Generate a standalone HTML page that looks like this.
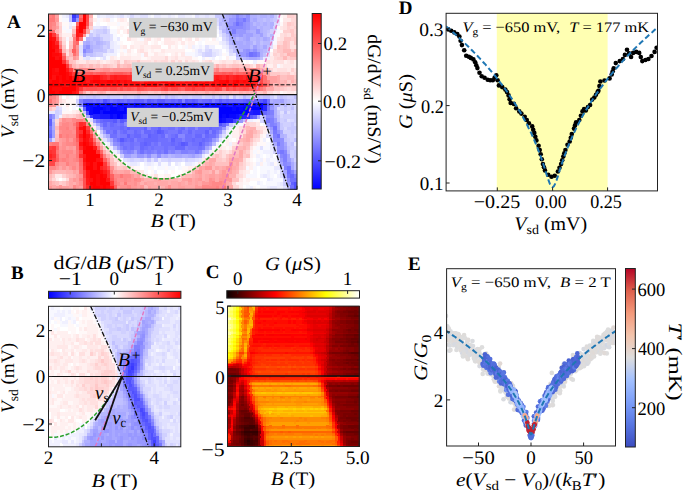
<!DOCTYPE html>
<html><head><meta charset="utf-8"><style>
html,body{margin:0;padding:0;background:#fff;}
svg{display:block;font-family:"Liberation Serif", serif;text-rendering:geometricPrecision;}
</style></head><body>
<svg width="685" height="490" viewBox="0 0 685 490" font-family='"Liberation Serif", serif' fill="#000">
<rect width="685" height="490" fill="#fff"/>
<g shape-rendering="crispEdges"><path fill="#ff8080" d="M48.5 14.0H52.2V18.1H48.5ZM48.5 21.7H52.2V25.8H48.5ZM48.5 25.5H52.2V29.7H48.5ZM72.3 37.0H76.0V41.2H72.3ZM215.3 67.7H219.0V71.9H215.3ZM266.4 79.2H270.1V83.4H266.4ZM79.1 90.8H82.8V94.9H79.1ZM48.5 94.6H52.2V98.8H48.5ZM75.7 118.3H82.8V122.5H75.7ZM65.5 126.2H69.2V130.4H65.5ZM65.5 134.1H69.2V138.3H65.5ZM72.3 138.0H76.0V142.2H72.3ZM48.5 141.9H52.2V146.2H48.5ZM72.3 141.9H76.0V146.2H72.3ZM65.5 153.8H69.2V158.0H65.5ZM103.0 153.8H106.7V158.0H103.0ZM62.1 157.7H65.8V162.0H62.1ZM75.7 157.7H79.4V162.0H75.7ZM65.5 161.7H69.2V165.9H65.5ZM109.8 169.6H113.5V173.8H109.8ZM79.1 177.5H82.8V181.7H79.1ZM113.2 177.5H116.9V181.7H113.2ZM215.3 185.4H219.0V189.6H215.3Z"/><path fill="#ff7878" d="M51.9 14.0H55.6V18.1H51.9ZM48.5 17.8H55.6V22.0H48.5ZM85.9 25.5H89.6V29.7H85.9ZM55.3 33.2H59.0V37.3H55.3ZM72.3 40.9H76.0V45.0H72.3ZM58.7 44.7H62.4V48.8H58.7ZM62.1 52.4H65.8V56.5H62.1ZM65.5 60.1H69.2V64.2H65.5ZM160.8 71.6H164.5V75.7H160.8ZM266.4 83.1H270.1V87.2H266.4ZM259.6 86.9H263.3V91.1H259.6ZM72.3 122.2H76.0V126.5H72.3ZM58.7 134.1H62.4V138.3H58.7ZM51.9 141.9H59.0V146.2H51.9ZM55.3 149.8H59.0V154.1H55.3ZM75.7 149.8H79.4V154.1H75.7ZM75.7 153.8H79.4V158.0H75.7ZM106.4 161.7H110.1V165.9H106.4ZM120.0 173.5H123.7V177.8H120.0ZM113.2 181.4H116.9V185.7H113.2ZM123.4 181.4H127.1V185.7H123.4ZM222.1 185.4H225.8V189.6H222.1Z"/><path fill="#ffa0a0" d="M55.3 14.0H59.0V18.1H55.3ZM55.3 25.5H59.0V29.7H55.3ZM75.7 67.7H79.4V71.9H75.7ZM92.8 67.7H99.9V71.9H92.8ZM109.8 67.7H113.5V71.9H109.8ZM140.4 67.7H144.1V71.9H140.4ZM218.7 67.7H222.4V71.9H218.7ZM239.1 67.7H246.2V71.9H239.1ZM263.0 71.6H266.7V75.7H263.0ZM266.4 75.4H276.9V79.5H266.4ZM269.8 79.2H276.9V83.4H269.8ZM55.3 94.6H59.0V98.8H55.3ZM55.3 98.5H59.0V102.8H55.3ZM89.3 126.2H93.1V130.4H89.3ZM58.7 138.0H62.4V142.2H58.7ZM58.7 141.9H62.4V146.2H58.7ZM65.5 145.9H69.2V150.1H65.5ZM72.3 145.9H76.0V150.1H72.3ZM99.6 145.9H103.3V150.1H99.6ZM198.3 165.6H202.0V169.9H198.3ZM72.3 169.6H76.0V173.8H72.3ZM113.2 169.6H116.9V173.8H113.2ZM123.4 169.6H130.5V173.8H123.4ZM194.9 169.6H198.6V173.8H194.9ZM211.9 169.6H215.6V173.8H211.9ZM228.9 169.6H232.6V173.8H228.9ZM75.7 173.5H79.4V177.8H75.7ZM137.0 173.5H140.7V177.8H137.0ZM198.3 173.5H202.0V177.8H198.3ZM208.5 173.5H215.6V177.8H208.5ZM218.7 173.5H222.4V177.8H218.7ZM75.7 177.5H79.4V181.7H75.7ZM140.4 177.5H144.1V181.7H140.4ZM181.3 177.5H188.4V181.7H181.3ZM194.9 177.5H198.6V181.7H194.9ZM75.7 181.4H79.4V185.7H75.7ZM137.0 181.4H140.7V185.7H137.0ZM143.8 181.4H147.5V185.7H143.8ZM177.9 181.4H181.6V185.7H177.9ZM188.1 181.4H191.8V185.7H188.1ZM194.9 181.4H198.6V185.7H194.9ZM55.3 185.4H59.0V189.6H55.3ZM62.1 185.4H69.2V189.6H62.1ZM79.1 185.4H82.8V189.6H79.1ZM137.0 185.4H140.7V189.6H137.0ZM147.2 185.4H150.9V189.6H147.2ZM164.2 185.4H167.9V189.6H164.2ZM177.9 185.4H185.0V189.6H177.9ZM225.5 185.4H229.2V189.6H225.5Z"/><path fill="#fff8f8" d="M58.7 14.0H62.4V18.1H58.7ZM280.0 14.0H283.7V18.1H280.0ZM58.7 17.8H62.4V22.0H58.7ZM99.6 17.8H103.3V22.0H99.6ZM130.2 17.8H140.7V22.0H130.2ZM147.2 17.8H157.7V22.0H147.2ZM160.8 17.8H164.5V22.0H160.8ZM167.6 17.8H171.3V22.0H167.6ZM184.7 17.8H191.8V22.0H184.7ZM208.5 17.8H212.2V22.0H208.5ZM62.1 21.7H69.2V25.8H62.1ZM106.4 21.7H116.9V25.8H106.4ZM120.0 21.7H127.1V25.8H120.0ZM130.2 21.7H133.9V25.8H130.2ZM150.6 21.7H154.3V25.8H150.6ZM157.4 21.7H161.1V25.8H157.4ZM177.9 21.7H191.8V25.8H177.9ZM194.9 21.7H205.4V25.8H194.9ZM208.5 21.7H212.2V25.8H208.5ZM280.0 21.7H283.7V25.8H280.0ZM65.5 25.5H69.2V29.7H65.5ZM116.6 25.5H120.3V29.7H116.6ZM123.4 25.5H127.1V29.7H123.4ZM130.2 25.5H140.7V29.7H130.2ZM147.2 25.5H150.9V29.7H147.2ZM164.2 25.5H167.9V29.7H164.2ZM177.9 25.5H181.6V29.7H177.9ZM191.5 25.5H195.2V29.7H191.5ZM276.6 25.5H280.3V29.7H276.6ZM62.1 29.4H65.8V33.5H62.1ZM130.2 29.4H137.3V33.5H130.2ZM150.6 29.4H154.3V33.5H150.6ZM171.0 29.4H174.8V33.5H171.0ZM208.5 29.4H212.2V33.5H208.5ZM280.0 29.4H283.7V33.5H280.0ZM120.0 33.2H123.7V37.3H120.0ZM126.8 33.2H133.9V37.3H126.8ZM143.8 33.2H147.5V37.3H143.8ZM150.6 33.2H154.3V37.3H150.6ZM171.0 33.2H174.8V37.3H171.0ZM177.9 33.2H185.0V37.3H177.9ZM188.1 33.2H191.8V37.3H188.1ZM198.3 33.2H202.0V37.3H198.3ZM276.6 33.2H280.3V37.3H276.6ZM137.0 37.0H140.7V41.2H137.0ZM150.6 37.0H154.3V41.2H150.6ZM198.3 37.0H202.0V41.2H198.3ZM205.1 37.0H208.8V41.2H205.1ZM120.0 40.9H123.7V45.0H120.0ZM130.2 40.9H133.9V45.0H130.2ZM150.6 40.9H154.3V45.0H150.6ZM160.8 40.9H164.5V45.0H160.8ZM177.9 40.9H181.6V45.0H177.9ZM184.7 40.9H188.4V45.0H184.7ZM205.1 40.9H219.0V45.0H205.1ZM171.0 44.7H174.8V48.8H171.0ZM181.3 44.7H185.0V48.8H181.3ZM120.0 48.5H123.7V52.7H120.0ZM130.2 48.5H133.9V52.7H130.2ZM147.2 48.5H150.9V52.7H147.2ZM154.0 48.5H161.1V52.7H154.0ZM191.5 48.5H195.2V52.7H191.5ZM123.4 52.4H127.1V56.5H123.4ZM130.2 52.4H137.3V56.5H130.2ZM147.2 52.4H154.3V56.5H147.2ZM164.2 52.4H167.9V56.5H164.2ZM177.9 52.4H181.6V56.5H177.9ZM222.1 52.4H225.8V56.5H222.1ZM116.6 56.2H120.3V60.4H116.6ZM140.4 56.2H147.5V60.4H140.4ZM191.5 56.2H198.6V60.4H191.5ZM205.1 56.2H208.8V60.4H205.1ZM198.3 60.1H202.0V64.2H198.3ZM245.9 60.1H249.6V64.2H245.9ZM256.2 60.1H266.7V64.2H256.2ZM280.0 90.8H283.7V94.9H280.0ZM65.5 98.5H76.0V102.8H65.5ZM62.1 102.5H65.8V106.7H62.1ZM68.9 102.5H76.0V106.7H68.9ZM65.5 106.4H69.2V110.7H65.5ZM62.1 110.4H72.6V114.6H62.1ZM256.2 118.3H259.9V122.5H256.2ZM232.3 126.2H236.0V130.4H232.3ZM263.0 134.1H266.7V138.3H263.0ZM228.9 138.0H232.6V142.2H228.9ZM259.6 138.0H263.3V142.2H259.6ZM222.1 141.9H225.8V146.2H222.1ZM256.2 141.9H266.7V146.2H256.2ZM215.3 145.9H219.0V150.1H215.3ZM225.5 145.9H229.2V150.1H225.5ZM252.7 145.9H256.5V150.1H252.7ZM109.8 149.8H113.5V154.1H109.8ZM256.2 149.8H259.9V154.1H256.2ZM116.6 153.8H120.3V158.0H116.6ZM252.7 153.8H256.5V158.0H252.7ZM249.3 157.7H253.0V162.0H249.3ZM263.0 157.7H266.7V162.0H263.0ZM123.4 161.7H127.1V165.9H123.4ZM252.7 161.7H256.5V165.9H252.7ZM273.2 161.7H276.9V165.9H273.2ZM133.6 165.6H140.7V169.9H133.6ZM147.2 165.6H150.9V169.9H147.2ZM164.2 165.6H167.9V169.9H164.2ZM181.3 165.6H188.4V169.9H181.3ZM150.6 169.6H154.3V173.8H150.6ZM171.0 169.6H174.8V173.8H171.0ZM181.3 169.6H185.0V173.8H181.3ZM147.2 173.5H150.9V177.8H147.2ZM157.4 173.5H164.5V177.8H157.4ZM242.5 177.5H246.2V181.7H242.5ZM249.3 177.5H259.9V181.7H249.3ZM242.5 181.4H249.6V185.7H242.5ZM252.7 185.4H256.5V189.6H252.7Z"/><path fill="#f0f0ff" d="M62.1 14.0H65.8V18.1H62.1ZM99.6 14.0H106.7V18.1H99.6ZM113.2 14.0H116.9V18.1H113.2ZM123.4 14.0H127.1V18.1H123.4ZM147.2 14.0H150.9V18.1H147.2ZM160.8 14.0H167.9V18.1H160.8ZM171.0 14.0H174.8V18.1H171.0ZM184.7 14.0H191.8V18.1H184.7ZM68.9 21.7H72.6V25.8H68.9ZM211.9 21.7H215.6V25.8H211.9ZM106.4 25.5H110.1V29.7H106.4ZM215.3 25.5H219.0V29.7H215.3ZM164.2 29.4H167.9V33.5H164.2ZM273.2 29.4H276.9V33.5H273.2ZM85.9 33.2H89.6V37.3H85.9ZM113.2 40.9H116.9V45.0H113.2ZM218.7 40.9H222.4V45.0H218.7ZM113.2 44.7H120.3V48.8H113.2ZM191.5 44.7H195.2V48.8H191.5ZM198.3 44.7H202.0V48.8H198.3ZM208.5 44.7H215.6V48.8H208.5ZM222.1 44.7H225.8V48.8H222.1ZM113.2 48.5H116.9V52.7H113.2ZM194.9 48.5H198.6V52.7H194.9ZM201.7 48.5H205.4V52.7H201.7ZM218.7 48.5H222.4V52.7H218.7ZM225.5 48.5H229.2V52.7H225.5ZM106.4 52.4H116.9V56.5H106.4ZM194.9 52.4H198.6V56.5H194.9ZM218.7 52.4H222.4V56.5H218.7ZM89.3 56.2H96.5V60.4H89.3ZM99.6 56.2H103.3V60.4H99.6ZM201.7 56.2H205.4V60.4H201.7ZM211.9 56.2H215.6V60.4H211.9ZM266.4 56.2H270.1V60.4H266.4ZM252.7 60.1H256.5V64.2H252.7ZM75.7 94.6H79.4V98.8H75.7ZM58.7 114.3H62.4V118.6H58.7ZM245.9 118.3H253.0V122.5H245.9ZM235.7 122.2H239.4V126.5H235.7ZM228.9 126.2H232.6V130.4H228.9ZM225.5 130.1H229.2V134.4H225.5ZM266.4 130.1H270.1V134.4H266.4ZM225.5 134.1H229.2V138.3H225.5ZM263.0 138.0H266.7V142.2H263.0ZM106.4 141.9H110.1V146.2H106.4ZM215.3 141.9H219.0V146.2H215.3ZM228.9 141.9H232.6V146.2H228.9ZM109.8 145.9H113.5V150.1H109.8ZM113.2 149.8H116.9V154.1H113.2ZM208.5 149.8H212.2V154.1H208.5ZM263.0 149.8H273.5V154.1H263.0ZM256.2 153.8H259.9V158.0H256.2ZM269.8 153.8H273.5V158.0H269.8ZM259.6 157.7H263.3V162.0H259.6ZM266.4 157.7H270.1V162.0H266.4ZM126.8 161.7H130.5V165.9H126.8ZM137.0 161.7H140.7V165.9H137.0ZM143.8 161.7H147.5V165.9H143.8ZM150.6 161.7H154.3V165.9H150.6ZM177.9 161.7H181.6V165.9H177.9ZM191.5 161.7H195.2V165.9H191.5ZM256.2 161.7H259.9V165.9H256.2ZM266.4 161.7H270.1V165.9H266.4ZM276.6 161.7H280.3V165.9H276.6ZM154.0 169.6H157.7V173.8H154.0ZM266.4 169.6H270.1V173.8H266.4ZM273.2 169.6H276.9V173.8H273.2ZM259.6 173.5H263.3V177.8H259.6ZM266.4 173.5H270.1V177.8H266.4ZM276.6 173.5H280.3V177.8H276.6ZM269.8 177.5H273.5V181.7H269.8ZM256.2 181.4H259.9V185.7H256.2ZM276.6 181.4H280.3V185.7H276.6ZM249.3 185.4H253.0V189.6H249.3ZM266.4 185.4H270.1V189.6H266.4ZM276.6 185.4H283.7V189.6H276.6Z"/><path fill="#e8e8ff" d="M65.5 14.0H69.2V18.1H65.5ZM96.2 14.0H99.9V18.1H96.2ZM106.4 14.0H113.5V18.1H106.4ZM116.6 14.0H120.3V18.1H116.6ZM126.8 14.0H130.5V18.1H126.8ZM133.6 14.0H140.7V18.1H133.6ZM154.0 14.0H161.1V18.1H154.0ZM167.6 14.0H171.3V18.1H167.6ZM177.9 14.0H185.0V18.1H177.9ZM198.3 14.0H205.4V18.1H198.3ZM208.5 14.0H215.6V18.1H208.5ZM211.9 17.8H215.6V22.0H211.9ZM276.6 21.7H280.3V25.8H276.6ZM68.9 25.5H72.6V29.7H68.9ZM92.8 25.5H99.9V29.7H92.8ZM89.3 29.4H93.1V33.5H89.3ZM218.7 33.2H222.4V37.3H218.7ZM116.6 37.0H120.3V41.2H116.6ZM109.8 40.9H113.5V45.0H109.8ZM222.1 40.9H225.8V45.0H222.1ZM109.8 44.7H113.5V48.8H109.8ZM225.5 44.7H229.2V48.8H225.5ZM211.9 48.5H219.0V52.7H211.9ZM79.1 52.4H82.8V56.5H79.1ZM103.0 52.4H106.7V56.5H103.0ZM198.3 52.4H202.0V56.5H198.3ZM215.3 52.4H219.0V56.5H215.3ZM232.3 52.4H236.0V56.5H232.3ZM82.5 56.2H86.2V60.4H82.5ZM263.0 56.2H266.7V60.4H263.0ZM48.5 110.4H55.6V114.6H48.5ZM218.7 138.0H222.4V142.2H218.7ZM269.8 141.9H273.5V146.2H269.8ZM293.6 141.9H297.3V146.2H293.6ZM269.8 145.9H273.5V150.1H269.8ZM201.7 153.8H205.4V158.0H201.7ZM157.4 157.7H161.1V162.0H157.4ZM198.3 157.7H202.0V162.0H198.3ZM130.2 161.7H137.3V165.9H130.2ZM147.2 161.7H150.9V165.9H147.2ZM174.5 161.7H178.2V165.9H174.5ZM184.7 161.7H191.8V165.9H184.7ZM269.8 161.7H273.5V165.9H269.8ZM273.2 165.6H280.3V169.9H273.2ZM263.0 173.5H266.7V177.8H263.0ZM266.4 177.5H270.1V181.7H266.4ZM280.0 181.4H283.7V185.7H280.0ZM269.8 185.4H276.9V189.6H269.8Z"/><path fill="#c0c0ff" d="M68.9 14.0H72.6V18.1H68.9ZM68.9 17.8H72.6V22.0H68.9ZM218.7 17.8H222.4V22.0H218.7ZM263.0 17.8H266.7V22.0H263.0ZM269.8 17.8H273.5V22.0H269.8ZM222.1 21.7H225.8V25.8H222.1ZM222.1 25.5H225.8V29.7H222.1ZM266.4 29.4H270.1V33.5H266.4ZM225.5 33.2H229.2V37.3H225.5ZM89.3 37.0H93.1V41.2H89.3ZM92.8 40.9H96.5V45.0H92.8ZM103.0 40.9H106.7V45.0H103.0ZM252.7 40.9H256.5V45.0H252.7ZM259.6 40.9H263.3V45.0H259.6ZM99.6 44.7H103.3V48.8H99.6ZM232.3 44.7H236.0V48.8H232.3ZM266.4 44.7H270.1V48.8H266.4ZM92.8 48.5H103.3V52.7H92.8ZM232.3 48.5H236.0V52.7H232.3ZM85.9 52.4H93.1V56.5H85.9ZM263.0 52.4H266.7V56.5H263.0ZM259.6 56.2H263.3V60.4H259.6ZM92.8 94.6H96.5V98.8H92.8ZM137.0 94.6H140.7V98.8H137.0ZM157.4 94.6H161.1V98.8H157.4ZM171.0 94.6H174.8V98.8H171.0ZM211.9 94.6H215.6V98.8H211.9ZM218.7 94.6H222.4V98.8H218.7ZM225.5 94.6H229.2V98.8H225.5ZM232.3 94.6H236.0V98.8H232.3ZM256.2 94.6H259.9V98.8H256.2ZM263.0 94.6H270.1V98.8H263.0ZM280.0 94.6H283.7V98.8H280.0ZM293.6 94.6H297.3V98.8H293.6ZM286.8 98.5H290.5V102.8H286.8ZM280.0 102.5H283.7V106.7H280.0ZM290.2 106.4H293.9V110.7H290.2ZM283.4 110.4H287.1V114.6H283.4ZM276.6 114.3H280.3V118.6H276.6ZM242.5 118.3H246.2V122.5H242.5ZM276.6 118.3H280.3V122.5H276.6ZM103.0 134.1H106.7V138.3H103.0ZM218.7 134.1H222.4V138.3H218.7ZM269.8 134.1H273.5V138.3H269.8ZM106.4 138.0H110.1V142.2H106.4ZM283.4 138.0H287.1V142.2H283.4ZM293.6 138.0H297.3V142.2H293.6ZM109.8 141.9H113.5V146.2H109.8ZM290.2 141.9H293.9V146.2H290.2ZM113.2 145.9H116.9V150.1H113.2ZM286.8 145.9H290.5V150.1H286.8ZM276.6 153.8H280.3V158.0H276.6ZM293.6 161.7H297.3V165.9H293.6ZM293.6 165.6H297.3V169.9H293.6ZM286.8 185.4H290.5V189.6H286.8Z"/><path fill="#3838ff" d="M72.3 14.0H76.0V18.1H72.3ZM89.3 114.3H93.1V118.6H89.3ZM154.0 118.3H157.7V122.5H154.0ZM211.9 122.2H215.6V126.5H211.9Z"/><path fill="#6060ff" d="M75.7 14.0H79.4V18.1H75.7ZM106.4 98.5H110.1V102.8H106.4ZM116.6 98.5H120.3V102.8H116.6ZM126.8 98.5H130.5V102.8H126.8ZM133.6 98.5H144.1V102.8H133.6ZM150.6 98.5H154.3V102.8H150.6ZM171.0 98.5H174.8V102.8H171.0ZM188.1 98.5H191.8V102.8H188.1ZM194.9 98.5H198.6V102.8H194.9ZM208.5 98.5H212.2V102.8H208.5ZM225.5 98.5H229.2V102.8H225.5ZM242.5 98.5H246.2V102.8H242.5ZM252.7 98.5H256.5V102.8H252.7ZM266.4 102.5H270.1V106.7H266.4ZM48.5 118.3H52.2V122.5H48.5ZM103.0 118.3H113.5V122.5H103.0ZM123.4 118.3H127.1V122.5H123.4ZM137.0 118.3H144.1V122.5H137.0ZM235.7 118.3H239.4V122.5H235.7ZM48.5 122.2H52.2V126.5H48.5ZM126.8 122.2H130.5V126.5H126.8ZM143.8 122.2H147.5V126.5H143.8ZM150.6 122.2H154.3V126.5H150.6ZM177.9 122.2H181.6V126.5H177.9ZM184.7 122.2H188.4V126.5H184.7ZM126.8 126.2H130.5V130.4H126.8ZM143.8 126.2H147.5V130.4H143.8ZM157.4 126.2H161.1V130.4H157.4ZM160.8 130.1H164.5V134.4H160.8ZM205.1 130.1H208.8V134.4H205.1ZM126.8 134.1H130.5V138.3H126.8ZM147.2 134.1H150.9V138.3H147.2ZM171.0 138.0H174.8V142.2H171.0ZM143.8 141.9H147.5V146.2H143.8ZM184.7 141.9H188.4V146.2H184.7ZM198.3 141.9H202.0V146.2H198.3ZM290.2 181.4H293.9V185.7H290.2Z"/><path fill="#ff7070" d="M79.1 14.0H82.8V18.1H79.1ZM51.9 29.4H55.6V33.5H51.9ZM79.1 37.0H82.8V41.2H79.1ZM72.3 44.7H76.0V48.8H72.3ZM72.3 52.4H76.0V56.5H72.3ZM232.3 71.6H236.0V75.7H232.3ZM256.2 71.6H263.3V75.7H256.2ZM263.0 75.4H266.7V79.5H263.0ZM263.0 79.2H266.7V83.4H263.0ZM222.1 86.9H225.8V91.1H222.1ZM48.5 98.5H52.2V102.8H48.5ZM89.3 130.1H93.1V134.4H89.3ZM92.8 138.0H96.5V142.2H92.8ZM75.7 141.9H79.4V146.2H75.7ZM75.7 145.9H79.4V150.1H75.7ZM79.1 165.6H82.8V169.9H79.1ZM79.1 169.6H82.8V173.8H79.1Z"/><path fill="#ff0000" d="M82.5 14.0H86.2V18.1H82.5ZM82.5 17.8H86.2V22.0H82.5ZM79.1 21.7H86.2V25.8H79.1ZM79.1 25.5H82.8V29.7H79.1ZM79.1 29.4H82.8V33.5H79.1ZM48.5 40.9H52.2V45.0H48.5ZM48.5 44.7H52.2V48.8H48.5ZM48.5 48.5H55.6V52.7H48.5ZM48.5 52.4H52.2V56.5H48.5ZM48.5 56.2H55.6V60.4H48.5ZM48.5 60.1H62.4V64.2H48.5ZM48.5 63.9H65.8V68.0H48.5ZM48.5 67.7H52.2V71.9H48.5ZM58.7 67.7H65.8V71.9H58.7ZM48.5 71.6H52.2V75.7H48.5ZM58.7 71.6H65.8V75.7H58.7ZM48.5 75.4H52.2V79.5H48.5ZM55.3 75.4H59.0V79.5H55.3ZM62.1 75.4H65.8V79.5H62.1ZM68.9 75.4H72.6V79.5H68.9ZM51.9 79.2H59.0V83.4H51.9ZM62.1 79.2H79.4V83.4H62.1ZM92.8 79.2H99.9V83.4H92.8ZM106.4 79.2H113.5V83.4H106.4ZM116.6 79.2H120.3V83.4H116.6ZM160.8 79.2H167.9V83.4H160.8ZM191.5 79.2H195.2V83.4H191.5ZM205.1 79.2H208.8V83.4H205.1ZM225.5 79.2H229.2V83.4H225.5ZM235.7 79.2H239.4V83.4H235.7ZM48.5 83.1H62.4V87.2H48.5ZM68.9 83.1H76.0V87.2H68.9ZM143.8 83.1H147.5V87.2H143.8ZM154.0 83.1H157.7V87.2H154.0ZM167.6 83.1H174.8V87.2H167.6ZM194.9 83.1H198.6V87.2H194.9ZM201.7 83.1H205.4V87.2H201.7ZM211.9 83.1H215.6V87.2H211.9ZM222.1 83.1H225.8V87.2H222.1ZM232.3 83.1H236.0V87.2H232.3ZM48.5 86.9H52.2V91.1H48.5ZM62.1 86.9H76.0V91.1H62.1ZM48.5 90.8H55.6V94.9H48.5ZM58.7 90.8H72.6V94.9H58.7ZM82.5 130.1H86.2V134.4H82.5ZM82.5 134.1H86.2V138.3H82.5ZM82.5 141.9H86.2V146.2H82.5ZM85.9 145.9H93.1V150.1H85.9ZM82.5 149.8H96.5V154.1H82.5ZM85.9 153.8H99.9V158.0H85.9ZM85.9 157.7H96.5V162.0H85.9ZM89.3 161.7H93.1V165.9H89.3ZM96.2 161.7H103.3V165.9H96.2ZM85.9 165.6H93.1V169.9H85.9ZM96.2 165.6H99.9V169.9H96.2ZM89.3 169.6H99.9V173.8H89.3ZM89.3 173.5H96.5V177.8H89.3ZM99.6 173.5H103.3V177.8H99.6ZM92.8 177.5H96.5V181.7H92.8ZM99.6 177.5H106.7V181.7H99.6ZM89.3 181.4H96.5V185.7H89.3ZM99.6 181.4H110.1V185.7H99.6ZM92.8 185.4H99.9V189.6H92.8ZM103.0 185.4H106.7V189.6H103.0Z"/><path fill="#ff4848" d="M85.9 14.0H89.6V18.1H85.9ZM85.9 17.8H89.6V22.0H85.9ZM177.9 71.6H181.6V75.7H177.9ZM256.2 75.4H263.3V79.5H256.2ZM259.6 79.2H263.3V83.4H259.6ZM109.8 86.9H116.9V91.1H109.8ZM120.0 86.9H123.7V91.1H120.0ZM137.0 86.9H140.7V91.1H137.0ZM160.8 86.9H164.5V91.1H160.8ZM171.0 86.9H178.2V91.1H171.0ZM184.7 86.9H191.8V91.1H184.7ZM194.9 86.9H202.0V91.1H194.9ZM218.7 86.9H222.4V91.1H218.7ZM225.5 86.9H229.2V91.1H225.5ZM232.3 86.9H236.0V91.1H232.3ZM242.5 86.9H246.2V91.1H242.5ZM75.7 126.2H79.4V130.4H75.7ZM75.7 130.1H79.4V134.4H75.7ZM75.7 134.1H79.4V138.3H75.7ZM92.8 141.9H96.5V146.2H92.8ZM79.1 149.8H82.8V154.1H79.1ZM48.5 161.7H55.6V165.9H48.5Z"/><path fill="#ffb0b0" d="M89.3 14.0H93.1V18.1H89.3ZM55.3 21.7H59.0V25.8H55.3ZM68.9 48.5H72.6V52.7H68.9ZM286.8 52.4H290.5V56.5H286.8ZM116.6 63.9H120.3V68.0H116.6ZM215.3 63.9H219.0V68.0H215.3ZM259.6 67.7H263.3V71.9H259.6ZM283.4 79.2H287.1V83.4H283.4ZM290.2 79.2H293.9V83.4H290.2ZM280.0 83.1H283.7V87.2H280.0ZM89.3 90.8H93.1V94.9H89.3ZM96.2 90.8H99.9V94.9H96.2ZM103.0 90.8H106.7V94.9H103.0ZM164.2 90.8H167.9V94.9H164.2ZM194.9 90.8H198.6V94.9H194.9ZM211.9 90.8H215.6V94.9H211.9ZM239.1 90.8H242.8V94.9H239.1ZM245.9 90.8H249.6V94.9H245.9ZM55.3 102.5H59.0V106.7H55.3ZM58.7 118.3H62.4V122.5H58.7ZM249.3 126.2H256.5V130.4H249.3ZM245.9 130.1H249.6V134.4H245.9ZM96.2 138.0H99.9V142.2H96.2ZM242.5 138.0H246.2V142.2H242.5ZM235.7 145.9H239.4V150.1H235.7ZM242.5 145.9H246.2V150.1H242.5ZM103.0 149.8H106.7V154.1H103.0ZM106.4 153.8H110.1V158.0H106.4ZM239.1 157.7H242.8V162.0H239.1ZM205.1 161.7H208.8V165.9H205.1ZM211.9 161.7H215.6V165.9H211.9ZM232.3 161.7H236.0V165.9H232.3ZM218.7 165.6H222.4V169.9H218.7ZM235.7 165.6H239.4V169.9H235.7ZM51.9 169.6H55.6V173.8H51.9ZM65.5 169.6H72.6V173.8H65.5ZM201.7 169.6H208.8V173.8H201.7ZM232.3 169.6H236.0V173.8H232.3ZM72.3 173.5H76.0V177.8H72.3ZM191.5 173.5H195.2V177.8H191.5ZM201.7 173.5H205.4V177.8H201.7ZM228.9 173.5H236.0V177.8H228.9ZM143.8 177.5H154.3V181.7H143.8ZM160.8 177.5H178.2V181.7H160.8ZM201.7 177.5H205.4V181.7H201.7ZM72.3 181.4H76.0V185.7H72.3ZM140.4 181.4H144.1V185.7H140.4ZM154.0 181.4H157.7V185.7H154.0ZM167.6 181.4H171.3V185.7H167.6ZM184.7 181.4H188.4V185.7H184.7ZM228.9 181.4H232.6V185.7H228.9ZM160.8 185.4H164.5V189.6H160.8Z"/><path fill="#ffffff" d="M92.8 14.0H96.5V18.1H92.8ZM113.2 17.8H116.9V22.0H113.2ZM126.8 17.8H130.5V22.0H126.8ZM140.4 17.8H144.1V22.0H140.4ZM201.7 17.8H208.8V22.0H201.7ZM280.0 17.8H283.7V22.0H280.0ZM92.8 21.7H96.5V25.8H92.8ZM99.6 21.7H106.7V25.8H99.6ZM171.0 21.7H174.8V25.8H171.0ZM109.8 25.5H116.9V29.7H109.8ZM126.8 25.5H130.5V29.7H126.8ZM198.3 25.5H202.0V29.7H198.3ZM208.5 25.5H212.2V29.7H208.5ZM120.0 29.4H123.7V33.5H120.0ZM116.6 33.2H120.3V37.3H116.6ZM123.4 33.2H127.1V37.3H123.4ZM215.3 33.2H219.0V37.3H215.3ZM120.0 37.0H127.1V41.2H120.0ZM160.8 37.0H164.5V41.2H160.8ZM181.3 37.0H185.0V41.2H181.3ZM191.5 37.0H195.2V41.2H191.5ZM208.5 37.0H212.2V41.2H208.5ZM218.7 37.0H222.4V41.2H218.7ZM65.5 40.9H69.2V45.0H65.5ZM123.4 40.9H130.5V45.0H123.4ZM147.2 40.9H150.9V45.0H147.2ZM157.4 40.9H161.1V45.0H157.4ZM194.9 40.9H198.6V45.0H194.9ZM201.7 40.9H205.4V45.0H201.7ZM65.5 44.7H69.2V48.8H65.5ZM126.8 44.7H130.5V48.8H126.8ZM160.8 44.7H167.9V48.8H160.8ZM177.9 44.7H181.6V48.8H177.9ZM215.3 44.7H222.4V48.8H215.3ZM133.6 48.5H137.3V52.7H133.6ZM184.7 48.5H191.8V52.7H184.7ZM222.1 48.5H225.8V52.7H222.1ZM269.8 48.5H273.5V52.7H269.8ZM116.6 52.4H120.3V56.5H116.6ZM167.6 52.4H171.3V56.5H167.6ZM96.2 56.2H99.9V60.4H96.2ZM198.3 56.2H202.0V60.4H198.3ZM215.3 56.2H219.0V60.4H215.3ZM222.1 56.2H225.8V60.4H222.1ZM242.5 60.1H246.2V64.2H242.5ZM249.3 60.1H253.0V64.2H249.3ZM62.1 94.6H65.8V98.8H62.1ZM72.3 94.6H76.0V98.8H72.3ZM68.9 106.4H72.6V110.7H68.9ZM75.7 106.4H79.4V110.7H75.7ZM259.6 122.2H263.3V126.5H259.6ZM96.2 130.1H99.9V134.4H96.2ZM232.3 138.0H236.0V142.2H232.3ZM266.4 138.0H270.1V142.2H266.4ZM218.7 141.9H222.4V146.2H218.7ZM263.0 153.8H266.7V158.0H263.0ZM273.2 153.8H276.9V158.0H273.2ZM120.0 157.7H123.7V162.0H120.0ZM252.7 157.7H256.5V162.0H252.7ZM140.4 161.7H144.1V165.9H140.4ZM171.0 161.7H174.8V165.9H171.0ZM181.3 161.7H185.0V165.9H181.3ZM140.4 165.6H144.1V169.9H140.4ZM154.0 165.6H157.7V169.9H154.0ZM174.5 165.6H178.2V169.9H174.5ZM256.2 165.6H259.9V169.9H256.2ZM147.2 169.6H150.9V173.8H147.2ZM157.4 169.6H164.5V173.8H157.4ZM167.6 169.6H171.3V173.8H167.6ZM174.5 169.6H181.6V173.8H174.5ZM249.3 169.6H253.0V173.8H249.3ZM256.2 169.6H259.9V173.8H256.2ZM171.0 173.5H178.2V177.8H171.0ZM256.2 173.5H259.9V177.8H256.2ZM273.2 173.5H276.9V177.8H273.2ZM58.7 177.5H62.4V181.7H58.7ZM259.6 177.5H266.7V181.7H259.6ZM249.3 181.4H256.5V185.7H249.3ZM263.0 181.4H266.7V185.7H263.0ZM242.5 185.4H246.2V189.6H242.5ZM256.2 185.4H259.9V189.6H256.2Z"/><path fill="#e0e0ff" d="M120.0 14.0H123.7V18.1H120.0ZM140.4 14.0H147.5V18.1H140.4ZM194.9 14.0H198.6V18.1H194.9ZM205.1 14.0H208.8V18.1H205.1ZM276.6 14.0H280.3V18.1H276.6ZM276.6 17.8H280.3V22.0H276.6ZM215.3 21.7H219.0V25.8H215.3ZM99.6 25.5H103.3V29.7H99.6ZM218.7 29.4H222.4V33.5H218.7ZM109.8 33.2H113.5V37.3H109.8ZM109.8 37.0H113.5V41.2H109.8ZM79.1 44.7H82.8V48.8H79.1ZM205.1 44.7H208.8V48.8H205.1ZM269.8 44.7H273.5V48.8H269.8ZM79.1 48.5H82.8V52.7H79.1ZM106.4 48.5H110.1V52.7H106.4ZM198.3 48.5H202.0V52.7H198.3ZM211.9 52.4H215.6V56.5H211.9ZM228.9 52.4H232.6V56.5H228.9ZM266.4 52.4H270.1V56.5H266.4ZM85.9 56.2H89.6V60.4H85.9ZM103.0 56.2H106.7V60.4H103.0ZM228.9 94.6H232.6V98.8H228.9ZM273.2 94.6H276.9V98.8H273.2ZM75.7 102.5H79.4V106.7H75.7ZM293.6 102.5H297.3V106.7H293.6ZM58.7 106.4H62.4V110.7H58.7ZM79.1 106.4H82.8V110.7H79.1ZM280.0 110.4H283.7V114.6H280.0ZM286.8 110.4H290.5V114.6H286.8ZM89.3 118.3H93.1V122.5H89.3ZM286.8 118.3H290.5V122.5H286.8ZM232.3 122.2H236.0V126.5H232.3ZM99.6 134.1H103.3V138.3H99.6ZM222.1 134.1H225.8V138.3H222.1ZM266.4 134.1H270.1V138.3H266.4ZM103.0 138.0H106.7V142.2H103.0ZM259.6 145.9H263.3V150.1H259.6ZM123.4 157.7H127.1V162.0H123.4ZM143.8 157.7H147.5V162.0H143.8ZM150.6 157.7H154.3V162.0H150.6ZM181.3 157.7H185.0V162.0H181.3ZM194.9 157.7H198.6V162.0H194.9ZM157.4 161.7H161.1V165.9H157.4ZM167.6 161.7H171.3V165.9H167.6ZM280.0 173.5H283.7V177.8H280.0ZM283.4 185.4H287.1V189.6H283.4Z"/><path fill="#d8d8ff" d="M130.2 14.0H133.9V18.1H130.2ZM215.3 17.8H219.0V22.0H215.3ZM273.2 21.7H276.9V25.8H273.2ZM103.0 25.5H106.7V29.7H103.0ZM92.8 29.4H96.5V33.5H92.8ZM106.4 29.4H110.1V33.5H106.4ZM92.8 33.2H96.5V37.3H92.8ZM99.6 33.2H110.1V37.3H99.6ZM103.0 37.0H110.1V41.2H103.0ZM222.1 37.0H225.8V41.2H222.1ZM225.5 40.9H229.2V45.0H225.5ZM269.8 40.9H273.5V45.0H269.8ZM109.8 48.5H113.5V52.7H109.8ZM205.1 48.5H208.8V52.7H205.1ZM228.9 48.5H232.6V52.7H228.9ZM201.7 52.4H205.4V56.5H201.7ZM120.0 94.6H123.7V98.8H120.0ZM201.7 94.6H205.4V98.8H201.7ZM235.7 94.6H239.4V98.8H235.7ZM249.3 94.6H256.5V98.8H249.3ZM55.3 106.4H59.0V110.7H55.3ZM276.6 106.4H280.3V110.7H276.6ZM293.6 106.4H297.3V110.7H293.6ZM58.7 110.4H62.4V114.6H58.7ZM293.6 110.4H297.3V114.6H293.6ZM259.6 114.3H263.3V118.6H259.6ZM280.0 114.3H283.7V118.6H280.0ZM259.6 118.3H263.3V122.5H259.6ZM290.2 118.3H293.9V122.5H290.2ZM92.8 122.2H96.5V126.5H92.8ZM293.6 122.2H297.3V126.5H293.6ZM283.4 126.2H287.1V130.4H283.4ZM293.6 134.1H297.3V138.3H293.6ZM51.9 138.0H55.6V142.2H51.9ZM269.8 138.0H273.5V142.2H269.8ZM116.6 149.8H120.3V154.1H116.6ZM273.2 149.8H276.9V154.1H273.2ZM126.8 157.7H130.5V162.0H126.8ZM133.6 157.7H140.7V162.0H133.6ZM160.8 157.7H167.9V162.0H160.8ZM171.0 157.7H181.6V162.0H171.0ZM188.1 157.7H195.2V162.0H188.1ZM276.6 157.7H280.3V162.0H276.6ZM280.0 169.6H283.7V173.8H280.0Z"/><path fill="#f8f8ff" d="M150.6 14.0H154.3V18.1H150.6ZM174.5 14.0H178.2V18.1H174.5ZM191.5 14.0H195.2V18.1H191.5ZM62.1 17.8H69.2V22.0H62.1ZM96.2 17.8H99.9V22.0H96.2ZM109.8 17.8H113.5V22.0H109.8ZM157.4 17.8H161.1V22.0H157.4ZM171.0 17.8H174.8V22.0H171.0ZM191.5 17.8H195.2V22.0H191.5ZM72.3 21.7H76.0V25.8H72.3ZM96.2 21.7H99.9V25.8H96.2ZM116.6 21.7H120.3V25.8H116.6ZM62.1 25.5H65.8V29.7H62.1ZM65.5 29.4H72.6V33.5H65.5ZM109.8 29.4H116.9V33.5H109.8ZM215.3 29.4H219.0V33.5H215.3ZM276.6 29.4H280.3V33.5H276.6ZM113.2 33.2H116.9V37.3H113.2ZM137.0 33.2H140.7V37.3H137.0ZM273.2 33.2H276.9V37.3H273.2ZM65.5 37.0H69.2V41.2H65.5ZM82.5 37.0H86.2V41.2H82.5ZM113.2 37.0H116.9V41.2H113.2ZM140.4 37.0H144.1V41.2H140.4ZM201.7 37.0H205.4V41.2H201.7ZM215.3 37.0H219.0V41.2H215.3ZM273.2 37.0H276.9V41.2H273.2ZM116.6 40.9H120.3V45.0H116.6ZM198.3 40.9H202.0V45.0H198.3ZM273.2 40.9H276.9V45.0H273.2ZM184.7 44.7H188.4V48.8H184.7ZM194.9 44.7H198.6V48.8H194.9ZM201.7 44.7H205.4V48.8H201.7ZM116.6 48.5H120.3V52.7H116.6ZM123.4 48.5H127.1V52.7H123.4ZM140.4 52.4H144.1V56.5H140.4ZM184.7 52.4H195.2V56.5H184.7ZM225.5 52.4H229.2V56.5H225.5ZM106.4 56.2H110.1V60.4H106.4ZM208.5 56.2H212.2V60.4H208.5ZM218.7 56.2H222.4V60.4H218.7ZM228.9 56.2H236.0V60.4H228.9ZM276.6 63.9H280.3V68.0H276.6ZM68.9 94.6H72.6V98.8H68.9ZM62.1 106.4H65.8V110.7H62.1ZM72.3 106.4H76.0V110.7H72.3ZM252.7 118.3H256.5V122.5H252.7ZM239.1 122.2H242.8V126.5H239.1ZM263.0 122.2H266.7V126.5H263.0ZM228.9 130.1H232.6V134.4H228.9ZM228.9 134.1H232.6V138.3H228.9ZM222.1 138.0H225.8V142.2H222.1ZM103.0 141.9H106.7V146.2H103.0ZM266.4 141.9H270.1V146.2H266.4ZM211.9 145.9H215.6V150.1H211.9ZM256.2 145.9H259.9V150.1H256.2ZM263.0 145.9H270.1V150.1H263.0ZM252.7 149.8H256.5V154.1H252.7ZM259.6 149.8H263.3V154.1H259.6ZM205.1 153.8H208.8V158.0H205.1ZM259.6 153.8H263.3V158.0H259.6ZM266.4 153.8H270.1V158.0H266.4ZM256.2 157.7H259.9V162.0H256.2ZM269.8 157.7H276.9V162.0H269.8ZM154.0 161.7H157.7V165.9H154.0ZM160.8 161.7H167.9V165.9H160.8ZM194.9 161.7H198.6V165.9H194.9ZM263.0 161.7H266.7V165.9H263.0ZM143.8 165.6H147.5V169.9H143.8ZM150.6 165.6H154.3V169.9H150.6ZM157.4 165.6H164.5V169.9H157.4ZM167.6 165.6H174.8V169.9H167.6ZM177.9 165.6H181.6V169.9H177.9ZM245.9 165.6H249.6V169.9H245.9ZM252.7 165.6H256.5V169.9H252.7ZM259.6 165.6H273.5V169.9H259.6ZM143.8 169.6H147.5V173.8H143.8ZM164.2 169.6H167.9V173.8H164.2ZM252.7 169.6H256.5V173.8H252.7ZM259.6 169.6H266.7V173.8H259.6ZM269.8 169.6H273.5V173.8H269.8ZM276.6 169.6H280.3V173.8H276.6ZM245.9 173.5H256.5V177.8H245.9ZM269.8 173.5H273.5V177.8H269.8ZM273.2 177.5H283.7V181.7H273.2ZM259.6 181.4H263.3V185.7H259.6ZM266.4 181.4H276.9V185.7H266.4ZM245.9 185.4H249.6V189.6H245.9ZM259.6 185.4H266.7V189.6H259.6Z"/><path fill="#c8c8ff" d="M215.3 14.0H222.4V18.1H215.3ZM273.2 14.0H276.9V18.1H273.2ZM273.2 17.8H276.9V22.0H273.2ZM218.7 25.5H222.4V29.7H218.7ZM103.0 29.4H106.7V33.5H103.0ZM89.3 33.2H93.1V37.3H89.3ZM96.2 33.2H99.9V37.3H96.2ZM266.4 33.2H270.1V37.3H266.4ZM99.6 37.0H103.3V41.2H99.6ZM225.5 37.0H229.2V41.2H225.5ZM269.8 37.0H273.5V41.2H269.8ZM106.4 40.9H110.1V45.0H106.4ZM106.4 44.7H110.1V48.8H106.4ZM228.9 44.7H232.6V48.8H228.9ZM103.0 48.5H106.7V52.7H103.0ZM266.4 48.5H270.1V52.7H266.4ZM92.8 52.4H96.5V56.5H92.8ZM235.7 56.2H242.8V60.4H235.7ZM79.1 94.6H82.8V98.8H79.1ZM85.9 94.6H93.1V98.8H85.9ZM96.2 94.6H99.9V98.8H96.2ZM106.4 94.6H110.1V98.8H106.4ZM123.4 94.6H127.1V98.8H123.4ZM133.6 94.6H137.3V98.8H133.6ZM147.2 94.6H157.7V98.8H147.2ZM167.6 94.6H171.3V98.8H167.6ZM174.5 94.6H178.2V98.8H174.5ZM181.3 94.6H188.4V98.8H181.3ZM191.5 94.6H202.0V98.8H191.5ZM245.9 94.6H249.6V98.8H245.9ZM259.6 94.6H263.3V98.8H259.6ZM276.6 94.6H280.3V98.8H276.6ZM283.4 94.6H287.1V98.8H283.4ZM290.2 98.5H293.9V102.8H290.2ZM286.8 102.5H293.9V106.7H286.8ZM283.4 106.4H287.1V110.7H283.4ZM82.5 110.4H86.2V114.6H82.5ZM276.6 110.4H280.3V114.6H276.6ZM263.0 118.3H266.7V122.5H263.0ZM283.4 118.3H287.1V122.5H283.4ZM228.9 122.2H232.6V126.5H228.9ZM280.0 122.2H283.7V126.5H280.0ZM290.2 122.2H293.9V126.5H290.2ZM280.0 126.2H283.7V130.4H280.0ZM286.8 126.2H297.3V130.4H286.8ZM99.6 130.1H103.3V134.4H99.6ZM222.1 130.1H225.8V134.4H222.1ZM290.2 130.1H293.9V134.4H290.2ZM286.8 138.0H290.5V142.2H286.8ZM286.8 141.9H290.5V146.2H286.8ZM273.2 145.9H276.9V150.1H273.2ZM290.2 145.9H293.9V150.1H290.2ZM205.1 149.8H208.8V154.1H205.1ZM293.6 149.8H297.3V154.1H293.6ZM293.6 153.8H297.3V158.0H293.6ZM147.2 157.7H150.9V162.0H147.2ZM154.0 157.7H157.7V162.0H154.0ZM283.4 177.5H287.1V181.7H283.4Z"/><path fill="#b8b8ff" d="M222.1 14.0H225.8V18.1H222.1ZM256.2 14.0H259.9V18.1H256.2ZM266.4 14.0H270.1V18.1H266.4ZM256.2 17.8H263.3V22.0H256.2ZM266.4 17.8H270.1V22.0H266.4ZM218.7 21.7H222.4V25.8H218.7ZM252.7 21.7H256.5V25.8H252.7ZM259.6 21.7H263.3V25.8H259.6ZM266.4 21.7H270.1V25.8H266.4ZM256.2 25.5H259.9V29.7H256.2ZM263.0 25.5H270.1V29.7H263.0ZM222.1 29.4H225.8V33.5H222.1ZM263.0 29.4H266.7V33.5H263.0ZM263.0 33.2H266.7V37.3H263.0ZM269.8 33.2H273.5V37.3H269.8ZM85.9 37.0H89.6V41.2H85.9ZM92.8 37.0H99.9V41.2H92.8ZM235.7 37.0H239.4V41.2H235.7ZM249.3 37.0H256.5V41.2H249.3ZM259.6 37.0H263.3V41.2H259.6ZM89.3 40.9H93.1V45.0H89.3ZM99.6 40.9H103.3V45.0H99.6ZM228.9 40.9H232.6V45.0H228.9ZM263.0 40.9H270.1V45.0H263.0ZM92.8 44.7H99.9V48.8H92.8ZM249.3 44.7H253.0V48.8H249.3ZM259.6 44.7H263.3V48.8H259.6ZM263.0 48.5H266.7V52.7H263.0ZM242.5 56.2H246.2V60.4H242.5ZM164.2 94.6H167.9V98.8H164.2ZM242.5 94.6H246.2V98.8H242.5ZM283.4 98.5H287.1V102.8H283.4ZM283.4 102.5H287.1V106.7H283.4ZM51.9 118.3H55.6V122.5H51.9ZM266.4 126.2H270.1V130.4H266.4ZM283.4 134.1H287.1V138.3H283.4ZM211.9 141.9H215.6V146.2H211.9ZM208.5 145.9H212.2V150.1H208.5ZM286.8 149.8H290.5V154.1H286.8ZM167.6 153.8H171.3V158.0H167.6ZM198.3 153.8H202.0V158.0H198.3ZM290.2 157.7H293.9V162.0H290.2Z"/><path fill="#b0b0ff" d="M225.5 14.0H229.2V18.1H225.5ZM249.3 14.0H256.5V18.1H249.3ZM259.6 14.0H266.7V18.1H259.6ZM269.8 14.0H273.5V18.1H269.8ZM222.1 17.8H229.2V22.0H222.1ZM249.3 17.8H253.0V22.0H249.3ZM256.2 21.7H259.9V25.8H256.2ZM263.0 21.7H266.7V25.8H263.0ZM269.8 21.7H273.5V25.8H269.8ZM259.6 25.5H263.3V29.7H259.6ZM269.8 25.5H273.5V29.7H269.8ZM249.3 29.4H256.5V33.5H249.3ZM259.6 29.4H263.3V33.5H259.6ZM252.7 33.2H259.9V37.3H252.7ZM228.9 37.0H232.6V41.2H228.9ZM239.1 37.0H242.8V41.2H239.1ZM256.2 37.0H259.9V41.2H256.2ZM266.4 37.0H270.1V41.2H266.4ZM82.5 40.9H86.2V45.0H82.5ZM96.2 40.9H99.9V45.0H96.2ZM242.5 40.9H246.2V45.0H242.5ZM249.3 40.9H253.0V45.0H249.3ZM256.2 40.9H259.9V45.0H256.2ZM89.3 44.7H93.1V48.8H89.3ZM235.7 44.7H239.4V48.8H235.7ZM256.2 44.7H259.9V48.8H256.2ZM235.7 48.5H242.8V52.7H235.7ZM259.6 48.5H263.3V52.7H259.6ZM235.7 52.4H239.4V56.5H235.7ZM259.6 52.4H263.3V56.5H259.6ZM245.9 56.2H249.6V60.4H245.9ZM256.2 56.2H259.9V60.4H256.2ZM269.8 98.5H273.5V102.8H269.8ZM273.2 102.5H280.3V106.7H273.2ZM273.2 106.4H276.9V110.7H273.2ZM273.2 110.4H276.9V114.6H273.2ZM263.0 114.3H266.7V118.6H263.0ZM273.2 114.3H276.9V118.6H273.2ZM280.0 134.1H283.7V138.3H280.0ZM215.3 138.0H219.0V142.2H215.3ZM201.7 149.8H205.4V154.1H201.7ZM130.2 153.8H137.3V158.0H130.2ZM150.6 153.8H157.7V158.0H150.6ZM160.8 153.8H164.5V158.0H160.8ZM171.0 153.8H174.8V158.0H171.0ZM181.3 153.8H188.4V158.0H181.3ZM194.9 153.8H198.6V158.0H194.9ZM283.4 173.5H287.1V177.8H283.4Z"/><path fill="#a8a8ff" d="M228.9 14.0H232.6V18.1H228.9ZM252.7 17.8H256.5V22.0H252.7ZM249.3 21.7H253.0V25.8H249.3ZM249.3 25.5H256.5V29.7H249.3ZM225.5 29.4H229.2V33.5H225.5ZM245.9 29.4H249.6V33.5H245.9ZM228.9 33.2H232.6V37.3H228.9ZM242.5 33.2H246.2V37.3H242.5ZM232.3 37.0H236.0V41.2H232.3ZM242.5 37.0H246.2V41.2H242.5ZM263.0 37.0H266.7V41.2H263.0ZM85.9 40.9H89.6V45.0H85.9ZM232.3 40.9H242.8V45.0H232.3ZM245.9 40.9H249.6V45.0H245.9ZM239.1 44.7H249.6V48.8H239.1ZM263.0 44.7H266.7V48.8H263.0ZM89.3 48.5H93.1V52.7H89.3ZM256.2 48.5H259.9V52.7H256.2ZM82.5 52.4H86.2V56.5H82.5ZM249.3 56.2H256.5V60.4H249.3ZM273.2 98.5H280.3V102.8H273.2ZM85.9 114.3H89.6V118.6H85.9ZM256.2 114.3H259.9V118.6H256.2ZM51.9 122.2H55.6V126.5H51.9ZM96.2 122.2H99.9V126.5H96.2ZM51.9 126.2H55.6V130.4H51.9ZM269.8 130.1H273.5V134.4H269.8ZM280.0 130.1H283.7V134.4H280.0ZM106.4 134.1H110.1V138.3H106.4ZM109.8 138.0H113.5V142.2H109.8ZM273.2 141.9H276.9V146.2H273.2ZM283.4 141.9H287.1V146.2H283.4ZM143.8 153.8H147.5V158.0H143.8ZM164.2 153.8H167.9V158.0H164.2ZM174.5 153.8H181.6V158.0H174.5ZM188.1 153.8H191.8V158.0H188.1ZM280.0 161.7H283.7V165.9H280.0ZM290.2 161.7H293.9V165.9H290.2ZM290.2 165.6H293.9V169.9H290.2ZM283.4 169.6H287.1V173.8H283.4Z"/><path fill="#a0a0ff" d="M232.3 14.0H236.0V18.1H232.3ZM242.5 14.0H246.2V18.1H242.5ZM225.5 25.5H229.2V29.7H225.5ZM235.7 33.2H239.4V37.3H235.7ZM245.9 33.2H253.0V37.3H245.9ZM259.6 33.2H263.3V37.3H259.6ZM245.9 37.0H249.6V41.2H245.9ZM82.5 44.7H86.2V48.8H82.5ZM252.7 44.7H256.5V48.8H252.7ZM85.9 48.5H89.6V52.7H85.9ZM249.3 48.5H253.0V52.7H249.3ZM280.0 98.5H283.7V102.8H280.0ZM276.6 122.2H280.3V126.5H276.6ZM99.6 126.2H103.3V130.4H99.6ZM276.6 126.2H280.3V130.4H276.6ZM51.9 130.1H55.6V134.4H51.9ZM51.9 134.1H55.6V138.3H51.9ZM48.5 138.0H52.2V142.2H48.5ZM205.1 145.9H208.8V150.1H205.1ZM283.4 145.9H287.1V150.1H283.4ZM120.0 149.8H123.7V154.1H120.0ZM133.6 149.8H137.3V154.1H133.6ZM123.4 153.8H130.5V158.0H123.4ZM191.5 153.8H195.2V158.0H191.5ZM286.8 153.8H290.5V158.0H286.8ZM286.8 157.7H290.5V162.0H286.8ZM293.6 169.6H297.3V173.8H293.6Z"/><path fill="#8888ff" d="M235.7 14.0H239.4V18.1H235.7ZM239.1 17.8H242.8V22.0H239.1ZM232.3 21.7H236.0V25.8H232.3ZM228.9 25.5H242.8V29.7H228.9ZM82.5 48.5H86.2V52.7H82.5ZM245.9 52.4H249.6V56.5H245.9ZM256.2 52.4H259.9V56.5H256.2ZM266.4 114.3H273.5V118.6H266.4ZM123.4 122.2H127.1V126.5H123.4ZM273.2 122.2H276.9V126.5H273.2ZM147.2 126.2H150.9V130.4H147.2ZM194.9 126.2H198.6V130.4H194.9ZM164.2 134.1H167.9V138.3H164.2ZM177.9 134.1H185.0V138.3H177.9ZM215.3 134.1H219.0V138.3H215.3ZM273.2 138.0H280.3V142.2H273.2ZM116.6 141.9H120.3V146.2H116.6ZM123.4 149.8H127.1V154.1H123.4ZM130.2 149.8H133.9V154.1H130.2ZM154.0 149.8H157.7V154.1H154.0ZM167.6 149.8H171.3V154.1H167.6ZM188.1 149.8H195.2V154.1H188.1ZM198.3 149.8H202.0V154.1H198.3ZM276.6 149.8H280.3V154.1H276.6ZM283.4 149.8H287.1V154.1H283.4ZM280.0 153.8H283.7V158.0H280.0ZM283.4 161.7H287.1V165.9H283.4Z"/><path fill="#9898ff" d="M239.1 14.0H242.8V18.1H239.1ZM75.7 17.8H79.4V22.0H75.7ZM228.9 17.8H236.0V22.0H228.9ZM225.5 21.7H232.6V25.8H225.5ZM245.9 21.7H249.6V25.8H245.9ZM245.9 25.5H249.6V29.7H245.9ZM228.9 29.4H232.6V33.5H228.9ZM235.7 29.4H246.2V33.5H235.7ZM256.2 29.4H259.9V33.5H256.2ZM232.3 33.2H236.0V37.3H232.3ZM239.1 33.2H242.8V37.3H239.1ZM242.5 48.5H246.2V52.7H242.5ZM239.1 52.4H246.2V56.5H239.1ZM269.8 106.4H273.5V110.7H269.8ZM51.9 114.3H55.6V118.6H51.9ZM92.8 118.3H96.5V122.5H92.8ZM239.1 118.3H242.8V122.5H239.1ZM273.2 118.3H276.9V122.5H273.2ZM266.4 122.2H270.1V126.5H266.4ZM222.1 126.2H225.8V130.4H222.1ZM269.8 126.2H273.5V130.4H269.8ZM103.0 130.1H106.7V134.4H103.0ZM211.9 138.0H215.6V142.2H211.9ZM116.6 145.9H120.3V150.1H116.6ZM137.0 153.8H144.1V158.0H137.0ZM280.0 157.7H283.7V162.0H280.0ZM286.8 181.4H290.5V185.7H286.8Z"/><path fill="#9090ff" d="M245.9 14.0H249.6V18.1H245.9ZM245.9 17.8H249.6V22.0H245.9ZM242.5 21.7H246.2V25.8H242.5ZM242.5 25.5H246.2V29.7H242.5ZM85.9 44.7H89.6V48.8H85.9ZM245.9 48.5H249.6V52.7H245.9ZM252.7 48.5H256.5V52.7H252.7ZM79.1 102.5H82.8V106.7H79.1ZM269.8 102.5H273.5V106.7H269.8ZM218.7 130.1H222.4V134.4H218.7ZM276.6 130.1H280.3V134.4H276.6ZM280.0 138.0H283.7V142.2H280.0ZM113.2 141.9H116.9V146.2H113.2ZM208.5 141.9H212.2V146.2H208.5ZM280.0 141.9H283.7V146.2H280.0ZM276.6 145.9H283.7V150.1H276.6ZM174.5 149.8H181.6V154.1H174.5ZM147.2 153.8H150.9V158.0H147.2ZM157.4 153.8H161.1V158.0H157.4ZM286.8 161.7H290.5V165.9H286.8ZM286.8 177.5H290.5V181.7H286.8Z"/><path fill="#fff0f0" d="M283.4 14.0H287.1V18.1H283.4ZM92.8 17.8H96.5V22.0H92.8ZM103.0 17.8H106.7V22.0H103.0ZM116.6 17.8H120.3V22.0H116.6ZM123.4 17.8H127.1V22.0H123.4ZM143.8 17.8H147.5V22.0H143.8ZM164.2 17.8H167.9V22.0H164.2ZM177.9 17.8H181.6V22.0H177.9ZM126.8 21.7H130.5V25.8H126.8ZM133.6 21.7H137.3V25.8H133.6ZM140.4 21.7H150.9V25.8H140.4ZM154.0 21.7H157.7V25.8H154.0ZM160.8 21.7H171.3V25.8H160.8ZM191.5 21.7H195.2V25.8H191.5ZM120.0 25.5H123.7V29.7H120.0ZM150.6 25.5H154.3V29.7H150.6ZM181.3 25.5H185.0V29.7H181.3ZM188.1 25.5H191.8V29.7H188.1ZM201.7 25.5H208.8V29.7H201.7ZM211.9 25.5H215.6V29.7H211.9ZM116.6 29.4H120.3V33.5H116.6ZM123.4 29.4H127.1V33.5H123.4ZM137.0 29.4H144.1V33.5H137.0ZM147.2 29.4H150.9V33.5H147.2ZM154.0 29.4H157.7V33.5H154.0ZM167.6 29.4H171.3V33.5H167.6ZM174.5 29.4H181.6V33.5H174.5ZM191.5 29.4H202.0V33.5H191.5ZM205.1 29.4H208.8V33.5H205.1ZM62.1 33.2H72.6V37.3H62.1ZM140.4 33.2H144.1V37.3H140.4ZM147.2 33.2H150.9V37.3H147.2ZM154.0 33.2H157.7V37.3H154.0ZM160.8 33.2H171.3V37.3H160.8ZM174.5 33.2H178.2V37.3H174.5ZM184.7 33.2H188.4V37.3H184.7ZM194.9 33.2H198.6V37.3H194.9ZM211.9 33.2H215.6V37.3H211.9ZM130.2 37.0H137.3V41.2H130.2ZM154.0 37.0H157.7V41.2H154.0ZM171.0 37.0H178.2V41.2H171.0ZM184.7 37.0H188.4V41.2H184.7ZM211.9 37.0H215.6V41.2H211.9ZM79.1 40.9H82.8V45.0H79.1ZM133.6 40.9H144.1V45.0H133.6ZM154.0 40.9H157.7V45.0H154.0ZM174.5 40.9H178.2V45.0H174.5ZM188.1 40.9H195.2V45.0H188.1ZM120.0 44.7H123.7V48.8H120.0ZM133.6 44.7H140.7V48.8H133.6ZM143.8 44.7H150.9V48.8H143.8ZM174.5 44.7H178.2V48.8H174.5ZM188.1 44.7H191.8V48.8H188.1ZM273.2 44.7H276.9V48.8H273.2ZM143.8 48.5H147.5V52.7H143.8ZM150.6 48.5H154.3V52.7H150.6ZM164.2 48.5H185.0V52.7H164.2ZM120.0 52.4H123.7V56.5H120.0ZM126.8 52.4H130.5V56.5H126.8ZM137.0 52.4H140.7V56.5H137.0ZM157.4 52.4H164.5V56.5H157.4ZM171.0 52.4H174.8V56.5H171.0ZM269.8 52.4H273.5V56.5H269.8ZM79.1 56.2H82.8V60.4H79.1ZM113.2 56.2H116.9V60.4H113.2ZM130.2 56.2H140.7V60.4H130.2ZM147.2 56.2H150.9V60.4H147.2ZM167.6 56.2H171.3V60.4H167.6ZM177.9 56.2H185.0V60.4H177.9ZM225.5 56.2H229.2V60.4H225.5ZM103.0 60.1H106.7V64.2H103.0ZM181.3 60.1H185.0V64.2H181.3ZM211.9 60.1H219.0V64.2H211.9ZM283.4 60.1H287.1V64.2H283.4ZM293.6 60.1H297.3V64.2H293.6ZM266.4 63.9H273.5V68.0H266.4ZM280.0 63.9H283.7V68.0H280.0ZM293.6 63.9H297.3V68.0H293.6ZM283.4 90.8H287.1V94.9H283.4ZM293.6 90.8H297.3V94.9H293.6ZM65.5 94.6H69.2V98.8H65.5ZM72.3 110.4H76.0V114.6H72.3ZM242.5 122.2H246.2V126.5H242.5ZM92.8 126.2H96.5V130.4H92.8ZM235.7 126.2H239.4V130.4H235.7ZM232.3 130.1H239.4V134.4H232.3ZM263.0 130.1H266.7V134.4H263.0ZM232.3 134.1H239.4V138.3H232.3ZM259.6 134.1H263.3V138.3H259.6ZM225.5 138.0H229.2V142.2H225.5ZM235.7 138.0H239.4V142.2H235.7ZM225.5 141.9H229.2V146.2H225.5ZM222.1 145.9H225.8V150.1H222.1ZM228.9 145.9H232.6V150.1H228.9ZM211.9 149.8H215.6V154.1H211.9ZM249.3 149.8H253.0V154.1H249.3ZM249.3 153.8H253.0V158.0H249.3ZM201.7 157.7H205.4V162.0H201.7ZM245.9 157.7H249.6V162.0H245.9ZM249.3 161.7H253.0V165.9H249.3ZM259.6 161.7H263.3V165.9H259.6ZM130.2 165.6H133.9V169.9H130.2ZM188.1 165.6H195.2V169.9H188.1ZM249.3 165.6H253.0V169.9H249.3ZM184.7 169.6H188.4V173.8H184.7ZM245.9 169.6H249.6V173.8H245.9ZM150.6 173.5H154.3V177.8H150.6ZM164.2 173.5H171.3V177.8H164.2ZM55.3 177.5H59.0V181.7H55.3ZM62.1 177.5H65.8V181.7H62.1ZM245.9 177.5H249.6V181.7H245.9ZM235.7 181.4H242.8V185.7H235.7ZM239.1 185.4H242.8V189.6H239.1Z"/><path fill="#ffd0d0" d="M286.8 14.0H293.9V18.1H286.8ZM290.2 21.7H293.9V25.8H290.2ZM58.7 25.5H62.4V29.7H58.7ZM89.3 25.5H93.1V29.7H89.3ZM286.8 25.5H290.5V29.7H286.8ZM293.6 25.5H297.3V29.7H293.6ZM58.7 29.4H62.4V33.5H58.7ZM283.4 29.4H290.5V33.5H283.4ZM293.6 33.2H297.3V37.3H293.6ZM290.2 37.0H293.9V41.2H290.2ZM290.2 48.5H293.9V52.7H290.2ZM273.2 52.4H276.9V56.5H273.2ZM283.4 52.4H287.1V56.5H283.4ZM276.6 56.2H283.7V60.4H276.6ZM286.8 56.2H290.5V60.4H286.8ZM126.8 60.1H130.5V64.2H126.8ZM171.0 60.1H174.8V64.2H171.0ZM99.6 63.9H103.3V68.0H99.6ZM109.8 63.9H113.5V68.0H109.8ZM137.0 63.9H140.7V68.0H137.0ZM154.0 63.9H164.5V68.0H154.0ZM198.3 63.9H202.0V68.0H198.3ZM225.5 63.9H229.2V68.0H225.5ZM290.2 67.7H293.9V71.9H290.2ZM280.0 71.6H287.1V75.7H280.0ZM283.4 86.9H287.1V91.1H283.4ZM290.2 86.9H297.3V91.1H290.2ZM65.5 114.3H69.2V118.6H65.5ZM72.3 114.3H76.0V118.6H72.3ZM55.3 122.2H59.0V126.5H55.3ZM245.9 122.2H249.6V126.5H245.9ZM256.2 134.1H259.9V138.3H256.2ZM249.3 141.9H253.0V146.2H249.3ZM103.0 145.9H106.7V150.1H103.0ZM232.3 145.9H236.0V150.1H232.3ZM106.4 149.8H110.1V154.1H106.4ZM218.7 149.8H222.4V154.1H218.7ZM245.9 149.8H249.6V154.1H245.9ZM211.9 153.8H215.6V158.0H211.9ZM218.7 153.8H222.4V158.0H218.7ZM222.1 157.7H225.8V162.0H222.1ZM239.1 165.6H242.8V169.9H239.1ZM62.1 173.5H65.8V177.8H62.1ZM235.7 173.5H239.4V177.8H235.7ZM58.7 181.4H62.4V185.7H58.7Z"/><path fill="#ffd8d8" d="M293.6 14.0H297.3V18.1H293.6ZM290.2 17.8H297.3V22.0H290.2ZM58.7 21.7H62.4V25.8H58.7ZM293.6 21.7H297.3V25.8H293.6ZM72.3 25.5H76.0V29.7H72.3ZM290.2 25.5H293.9V29.7H290.2ZM126.8 29.4H130.5V33.5H126.8ZM157.4 29.4H161.1V33.5H157.4ZM293.6 29.4H297.3V33.5H293.6ZM58.7 33.2H62.4V37.3H58.7ZM283.4 33.2H287.1V37.3H283.4ZM62.1 40.9H65.8V45.0H62.1ZM276.6 40.9H283.7V45.0H276.6ZM65.5 48.5H69.2V52.7H65.5ZM273.2 48.5H276.9V52.7H273.2ZM276.6 52.4H280.3V56.5H276.6ZM164.2 56.2H167.9V60.4H164.2ZM273.2 56.2H276.9V60.4H273.2ZM85.9 60.1H89.6V64.2H85.9ZM96.2 60.1H99.9V64.2H96.2ZM113.2 60.1H116.9V64.2H113.2ZM130.2 60.1H137.3V64.2H130.2ZM154.0 60.1H157.7V64.2H154.0ZM160.8 60.1H167.9V64.2H160.8ZM177.9 60.1H181.6V64.2H177.9ZM184.7 60.1H188.4V64.2H184.7ZM208.5 60.1H212.2V64.2H208.5ZM232.3 60.1H236.0V64.2H232.3ZM113.2 63.9H116.9V68.0H113.2ZM174.5 63.9H181.6V68.0H174.5ZM249.3 63.9H253.0V68.0H249.3ZM263.0 63.9H266.7V68.0H263.0ZM269.8 67.7H273.5V71.9H269.8ZM293.6 71.6H297.3V75.7H293.6ZM286.8 86.9H290.5V91.1H286.8ZM266.4 90.8H273.5V94.9H266.4ZM58.7 98.5H62.4V102.8H58.7ZM51.9 106.4H55.6V110.7H51.9ZM79.1 110.4H82.8V114.6H79.1ZM62.1 114.3H65.8V118.6H62.1ZM68.9 114.3H72.6V118.6H68.9ZM55.3 118.3H59.0V122.5H55.3ZM249.3 122.2H256.5V126.5H249.3ZM242.5 130.1H246.2V134.4H242.5ZM259.6 130.1H263.3V134.4H259.6ZM252.7 138.0H256.5V142.2H252.7ZM228.9 149.8H232.6V154.1H228.9ZM116.6 157.7H120.3V162.0H116.6ZM242.5 157.7H246.2V162.0H242.5ZM120.0 161.7H123.7V165.9H120.0ZM242.5 161.7H246.2V165.9H242.5ZM126.8 165.6H130.5V169.9H126.8ZM242.5 165.6H246.2V169.9H242.5ZM188.1 169.6H191.8V173.8H188.1ZM239.1 173.5H242.8V177.8H239.1ZM51.9 177.5H55.6V181.7H51.9ZM65.5 177.5H69.2V181.7H65.5ZM232.3 181.4H236.0V185.7H232.3ZM232.3 185.4H239.4V189.6H232.3Z"/><path fill="#ff9898" d="M55.3 17.8H59.0V22.0H55.3ZM72.3 33.2H76.0V37.3H72.3ZM82.5 33.2H86.2V37.3H82.5ZM75.7 44.7H79.4V48.8H75.7ZM72.3 56.2H76.0V60.4H72.3ZM89.3 67.7H93.1V71.9H89.3ZM99.6 67.7H103.3V71.9H99.6ZM113.2 67.7H130.5V71.9H113.2ZM133.6 67.7H140.7V71.9H133.6ZM147.2 67.7H150.9V71.9H147.2ZM157.4 67.7H161.1V71.9H157.4ZM164.2 67.7H181.6V71.9H164.2ZM191.5 67.7H195.2V71.9H191.5ZM222.1 67.7H232.6V71.9H222.1ZM256.2 67.7H259.9V71.9H256.2ZM269.8 83.1H273.5V87.2H269.8ZM51.9 102.5H55.6V106.7H51.9ZM65.5 118.3H72.6V122.5H65.5ZM58.7 122.2H62.4V126.5H58.7ZM92.8 134.1H96.5V138.3H92.8ZM62.1 138.0H65.8V142.2H62.1ZM68.9 138.0H72.6V142.2H68.9ZM58.7 145.9H62.4V150.1H58.7ZM68.9 145.9H72.6V150.1H68.9ZM72.3 149.8H76.0V154.1H72.3ZM58.7 161.7H65.8V165.9H58.7ZM75.7 161.7H79.4V165.9H75.7ZM228.9 161.7H232.6V165.9H228.9ZM55.3 165.6H59.0V169.9H55.3ZM62.1 165.6H65.8V169.9H62.1ZM68.9 165.6H72.6V169.9H68.9ZM75.7 165.6H79.4V169.9H75.7ZM205.1 165.6H212.2V169.9H205.1ZM225.5 165.6H232.6V169.9H225.5ZM48.5 169.6H52.2V173.8H48.5ZM198.3 169.6H202.0V173.8H198.3ZM222.1 169.6H225.8V173.8H222.1ZM130.2 173.5H133.9V177.8H130.2ZM222.1 173.5H225.8V177.8H222.1ZM72.3 177.5H76.0V181.7H72.3ZM130.2 177.5H133.9V181.7H130.2ZM157.4 177.5H161.1V181.7H157.4ZM188.1 177.5H191.8V181.7H188.1ZM198.3 177.5H202.0V181.7H198.3ZM211.9 177.5H215.6V181.7H211.9ZM218.7 177.5H232.6V181.7H218.7ZM120.0 181.4H123.7V185.7H120.0ZM126.8 181.4H133.9V185.7H126.8ZM201.7 181.4H208.8V185.7H201.7ZM48.5 185.4H52.2V189.6H48.5ZM58.7 185.4H62.4V189.6H58.7ZM75.7 185.4H79.4V189.6H75.7ZM116.6 185.4H120.3V189.6H116.6ZM130.2 185.4H137.3V189.6H130.2ZM140.4 185.4H144.1V189.6H140.4ZM194.9 185.4H202.0V189.6H194.9Z"/><path fill="#5050ff" d="M72.3 17.8H76.0V22.0H72.3ZM103.0 98.5H106.7V102.8H103.0ZM85.9 110.4H89.6V114.6H85.9ZM130.2 118.3H133.9V122.5H130.2ZM150.6 118.3H154.3V122.5H150.6ZM208.5 122.2H212.2V126.5H208.5ZM215.3 122.2H222.4V126.5H215.3ZM293.6 181.4H297.3V185.7H293.6ZM293.6 185.4H297.3V189.6H293.6Z"/><path fill="#ff5858" d="M79.1 17.8H82.8V22.0H79.1ZM55.3 37.0H59.0V41.2H55.3ZM62.1 56.2H65.8V60.4H62.1ZM75.7 71.6H79.4V75.7H75.7ZM89.3 71.6H93.1V75.7H89.3ZM99.6 71.6H106.7V75.7H99.6ZM113.2 71.6H123.7V75.7H113.2ZM133.6 71.6H144.1V75.7H133.6ZM150.6 71.6H154.3V75.7H150.6ZM157.4 71.6H161.1V75.7H157.4ZM167.6 71.6H171.3V75.7H167.6ZM174.5 71.6H178.2V75.7H174.5ZM194.9 71.6H202.0V75.7H194.9ZM205.1 71.6H212.2V75.7H205.1ZM222.1 71.6H225.8V75.7H222.1ZM228.9 71.6H232.6V75.7H228.9ZM245.9 71.6H249.6V75.7H245.9ZM263.0 83.1H266.7V87.2H263.0ZM82.5 86.9H86.2V91.1H82.5ZM96.2 86.9H103.3V91.1H96.2ZM106.4 86.9H110.1V91.1H106.4ZM116.6 86.9H120.3V91.1H116.6ZM123.4 86.9H127.1V91.1H123.4ZM130.2 86.9H133.9V91.1H130.2ZM143.8 86.9H147.5V91.1H143.8ZM150.6 86.9H161.1V91.1H150.6ZM167.6 86.9H171.3V91.1H167.6ZM177.9 86.9H181.6V91.1H177.9ZM205.1 86.9H208.8V91.1H205.1ZM228.9 86.9H232.6V91.1H228.9ZM235.7 86.9H239.4V91.1H235.7ZM75.7 122.2H79.4V126.5H75.7ZM109.8 177.5H113.5V181.7H109.8Z"/><path fill="#ffc8c8" d="M89.3 17.8H93.1V22.0H89.3ZM286.8 21.7H290.5V25.8H286.8ZM290.2 29.4H293.9V33.5H290.2ZM290.2 33.2H293.9V37.3H290.2ZM283.4 37.0H290.5V41.2H283.4ZM293.6 37.0H297.3V41.2H293.6ZM68.9 40.9H72.6V45.0H68.9ZM286.8 40.9H290.5V45.0H286.8ZM293.6 40.9H297.3V45.0H293.6ZM62.1 44.7H65.8V48.8H62.1ZM280.0 44.7H283.7V48.8H280.0ZM286.8 44.7H290.5V48.8H286.8ZM276.6 48.5H283.7V52.7H276.6ZM280.0 52.4H283.7V56.5H280.0ZM68.9 56.2H72.6V60.4H68.9ZM290.2 56.2H297.3V60.4H290.2ZM72.3 60.1H76.0V64.2H72.3ZM116.6 60.1H120.3V64.2H116.6ZM123.4 60.1H127.1V64.2H123.4ZM137.0 60.1H140.7V64.2H137.0ZM75.7 63.9H79.4V68.0H75.7ZM85.9 63.9H89.6V68.0H85.9ZM92.8 63.9H96.5V68.0H92.8ZM106.4 63.9H110.1V68.0H106.4ZM120.0 63.9H123.7V68.0H120.0ZM130.2 63.9H133.9V68.0H130.2ZM143.8 63.9H147.5V68.0H143.8ZM181.3 63.9H191.8V68.0H181.3ZM194.9 63.9H198.6V68.0H194.9ZM201.7 63.9H205.4V68.0H201.7ZM211.9 63.9H215.6V68.0H211.9ZM218.7 63.9H222.4V68.0H218.7ZM228.9 63.9H232.6V68.0H228.9ZM239.1 63.9H242.8V68.0H239.1ZM245.9 63.9H249.6V68.0H245.9ZM259.6 63.9H263.3V68.0H259.6ZM266.4 67.7H270.1V71.9H266.4ZM269.8 71.6H280.3V75.7H269.8ZM286.8 71.6H290.5V75.7H286.8ZM293.6 75.4H297.3V79.5H293.6ZM286.8 79.2H290.5V83.4H286.8ZM290.2 83.1H297.3V87.2H290.2ZM280.0 86.9H283.7V91.1H280.0ZM85.9 90.8H89.6V94.9H85.9ZM106.4 90.8H110.1V94.9H106.4ZM147.2 90.8H154.3V94.9H147.2ZM157.4 90.8H161.1V94.9H157.4ZM256.2 90.8H263.3V94.9H256.2ZM48.5 106.4H52.2V110.7H48.5ZM242.5 126.2H246.2V130.4H242.5ZM55.3 130.1H59.0V134.4H55.3ZM256.2 130.1H259.9V134.4H256.2ZM252.7 134.1H256.5V138.3H252.7ZM239.1 141.9H242.8V146.2H239.1ZM109.8 153.8H113.5V158.0H109.8ZM225.5 153.8H229.2V158.0H225.5ZM242.5 153.8H246.2V158.0H242.5ZM215.3 157.7H222.4V162.0H215.3ZM113.2 161.7H116.9V165.9H113.2ZM239.1 161.7H242.8V165.9H239.1ZM116.6 165.6H123.7V169.9H116.6ZM51.9 173.5H55.6V177.8H51.9ZM62.1 181.4H65.8V185.7H62.1Z"/><path fill="#ffe8e8" d="M106.4 17.8H110.1V22.0H106.4ZM120.0 17.8H123.7V22.0H120.0ZM174.5 17.8H178.2V22.0H174.5ZM181.3 17.8H185.0V22.0H181.3ZM194.9 17.8H198.6V22.0H194.9ZM283.4 17.8H290.5V22.0H283.4ZM137.0 21.7H140.7V25.8H137.0ZM174.5 21.7H178.2V25.8H174.5ZM205.1 21.7H208.8V25.8H205.1ZM140.4 25.5H144.1V29.7H140.4ZM154.0 25.5H164.5V29.7H154.0ZM167.6 25.5H171.3V29.7H167.6ZM174.5 25.5H178.2V29.7H174.5ZM184.7 25.5H188.4V29.7H184.7ZM194.9 25.5H198.6V29.7H194.9ZM280.0 25.5H283.7V29.7H280.0ZM143.8 29.4H147.5V33.5H143.8ZM160.8 29.4H164.5V33.5H160.8ZM184.7 29.4H191.8V33.5H184.7ZM201.7 29.4H205.4V33.5H201.7ZM211.9 29.4H215.6V33.5H211.9ZM133.6 33.2H137.3V37.3H133.6ZM157.4 33.2H161.1V37.3H157.4ZM191.5 33.2H195.2V37.3H191.5ZM201.7 33.2H212.2V37.3H201.7ZM143.8 37.0H147.5V41.2H143.8ZM157.4 37.0H161.1V41.2H157.4ZM164.2 37.0H171.3V41.2H164.2ZM177.9 37.0H181.6V41.2H177.9ZM188.1 37.0H191.8V41.2H188.1ZM194.9 37.0H198.6V41.2H194.9ZM276.6 37.0H280.3V41.2H276.6ZM143.8 40.9H147.5V45.0H143.8ZM164.2 40.9H174.8V45.0H164.2ZM181.3 40.9H185.0V45.0H181.3ZM123.4 44.7H127.1V48.8H123.4ZM130.2 44.7H133.9V48.8H130.2ZM140.4 44.7H144.1V48.8H140.4ZM150.6 44.7H161.1V48.8H150.6ZM167.6 44.7H171.3V48.8H167.6ZM126.8 48.5H130.5V52.7H126.8ZM137.0 48.5H140.7V52.7H137.0ZM160.8 48.5H164.5V52.7H160.8ZM154.0 52.4H157.7V56.5H154.0ZM174.5 52.4H178.2V56.5H174.5ZM181.3 52.4H185.0V56.5H181.3ZM109.8 56.2H113.5V60.4H109.8ZM120.0 56.2H130.5V60.4H120.0ZM150.6 56.2H164.5V60.4H150.6ZM171.0 56.2H174.8V60.4H171.0ZM184.7 56.2H191.8V60.4H184.7ZM269.8 56.2H273.5V60.4H269.8ZM79.1 60.1H86.2V64.2H79.1ZM99.6 60.1H103.3V64.2H99.6ZM106.4 60.1H110.1V64.2H106.4ZM120.0 60.1H123.7V64.2H120.0ZM150.6 60.1H154.3V64.2H150.6ZM167.6 60.1H171.3V64.2H167.6ZM174.5 60.1H178.2V64.2H174.5ZM188.1 60.1H191.8V64.2H188.1ZM194.9 60.1H198.6V64.2H194.9ZM201.7 60.1H205.4V64.2H201.7ZM218.7 60.1H222.4V64.2H218.7ZM225.5 60.1H232.6V64.2H225.5ZM239.1 60.1H242.8V64.2H239.1ZM269.8 60.1H273.5V64.2H269.8ZM286.8 60.1H290.5V64.2H286.8ZM252.7 63.9H256.5V68.0H252.7ZM283.4 63.9H293.9V68.0H283.4ZM273.2 67.7H276.9V71.9H273.2ZM286.8 67.7H290.5V71.9H286.8ZM273.2 90.8H276.9V94.9H273.2ZM286.8 90.8H293.9V94.9H286.8ZM62.1 98.5H65.8V102.8H62.1ZM58.7 102.5H62.4V106.7H58.7ZM65.5 102.5H69.2V106.7H65.5ZM75.7 110.4H79.4V114.6H75.7ZM85.9 118.3H89.6V122.5H85.9ZM89.3 122.2H93.1V126.5H89.3ZM256.2 122.2H259.9V126.5H256.2ZM263.0 126.2H266.7V130.4H263.0ZM232.3 141.9H236.0V146.2H232.3ZM252.7 141.9H256.5V146.2H252.7ZM106.4 145.9H110.1V150.1H106.4ZM218.7 145.9H222.4V150.1H218.7ZM249.3 145.9H253.0V150.1H249.3ZM225.5 149.8H229.2V154.1H225.5ZM113.2 153.8H116.9V158.0H113.2ZM208.5 153.8H212.2V158.0H208.5ZM116.6 161.7H120.3V165.9H116.6ZM198.3 161.7H202.0V165.9H198.3ZM245.9 161.7H249.6V165.9H245.9ZM137.0 169.6H144.1V173.8H137.0ZM242.5 169.6H246.2V173.8H242.5ZM55.3 173.5H62.4V177.8H55.3ZM177.9 173.5H181.6V177.8H177.9ZM242.5 173.5H246.2V177.8H242.5ZM239.1 177.5H242.8V181.7H239.1Z"/><path fill="#ffe0e0" d="M198.3 17.8H202.0V22.0H198.3ZM283.4 21.7H287.1V25.8H283.4ZM143.8 25.5H147.5V29.7H143.8ZM171.0 25.5H174.8V29.7H171.0ZM283.4 25.5H287.1V29.7H283.4ZM181.3 29.4H185.0V33.5H181.3ZM280.0 33.2H283.7V37.3H280.0ZM286.8 33.2H290.5V37.3H286.8ZM62.1 37.0H65.8V41.2H62.1ZM68.9 37.0H72.6V41.2H68.9ZM126.8 37.0H130.5V41.2H126.8ZM147.2 37.0H150.9V41.2H147.2ZM280.0 37.0H283.7V41.2H280.0ZM290.2 40.9H293.9V45.0H290.2ZM290.2 44.7H297.3V48.8H290.2ZM140.4 48.5H144.1V52.7H140.4ZM65.5 52.4H69.2V56.5H65.5ZM143.8 52.4H147.5V56.5H143.8ZM174.5 56.2H178.2V60.4H174.5ZM75.7 60.1H79.4V64.2H75.7ZM89.3 60.1H96.5V64.2H89.3ZM109.8 60.1H113.5V64.2H109.8ZM140.4 60.1H150.9V64.2H140.4ZM157.4 60.1H161.1V64.2H157.4ZM191.5 60.1H195.2V64.2H191.5ZM205.1 60.1H208.8V64.2H205.1ZM222.1 60.1H225.8V64.2H222.1ZM235.7 60.1H239.4V64.2H235.7ZM266.4 60.1H270.1V64.2H266.4ZM273.2 60.1H283.7V64.2H273.2ZM290.2 60.1H293.9V64.2H290.2ZM273.2 63.9H276.9V68.0H273.2ZM276.6 67.7H287.1V71.9H276.6ZM293.6 67.7H297.3V71.9H293.6ZM290.2 71.6H293.9V75.7H290.2ZM276.6 90.8H280.3V94.9H276.6ZM58.7 94.6H62.4V98.8H58.7ZM82.5 114.3H86.2V118.6H82.5ZM239.1 126.2H242.8V130.4H239.1ZM256.2 126.2H263.3V130.4H256.2ZM239.1 130.1H242.8V134.4H239.1ZM96.2 134.1H99.9V138.3H96.2ZM239.1 134.1H242.8V138.3H239.1ZM99.6 138.0H103.3V142.2H99.6ZM256.2 138.0H259.9V142.2H256.2ZM235.7 141.9H239.4V146.2H235.7ZM215.3 149.8H219.0V154.1H215.3ZM222.1 149.8H225.8V154.1H222.1ZM222.1 153.8H225.8V158.0H222.1ZM113.2 157.7H116.9V162.0H113.2ZM239.1 169.6H242.8V173.8H239.1ZM143.8 173.5H147.5V177.8H143.8ZM154.0 173.5H157.7V177.8H154.0Z"/><path fill="#8080ff" d="M235.7 17.8H239.4V22.0H235.7ZM239.1 21.7H242.8V25.8H239.1ZM232.3 29.4H236.0V33.5H232.3ZM79.1 98.5H82.8V102.8H79.1ZM181.3 98.5H185.0V102.8H181.3ZM269.8 110.4H273.5V114.6H269.8ZM48.5 114.3H52.2V118.6H48.5ZM269.8 118.3H273.5V122.5H269.8ZM99.6 122.2H103.3V126.5H99.6ZM225.5 122.2H229.2V126.5H225.5ZM269.8 122.2H273.5V126.5H269.8ZM174.5 126.2H178.2V130.4H174.5ZM184.7 126.2H188.4V130.4H184.7ZM116.6 130.1H120.3V134.4H116.6ZM140.4 130.1H144.1V134.4H140.4ZM208.5 130.1H212.2V134.4H208.5ZM116.6 134.1H120.3V138.3H116.6ZM201.7 134.1H205.4V138.3H201.7ZM273.2 134.1H276.9V138.3H273.2ZM113.2 138.0H116.9V142.2H113.2ZM133.6 138.0H137.3V142.2H133.6ZM181.3 138.0H185.0V142.2H181.3ZM157.4 141.9H161.1V146.2H157.4ZM205.1 141.9H208.8V146.2H205.1ZM120.0 145.9H123.7V150.1H120.0ZM133.6 145.9H140.7V150.1H133.6ZM184.7 145.9H188.4V150.1H184.7ZM126.8 149.8H130.5V154.1H126.8ZM137.0 149.8H140.7V154.1H137.0ZM143.8 149.8H147.5V154.1H143.8ZM150.6 149.8H154.3V154.1H150.6ZM160.8 149.8H164.5V154.1H160.8ZM171.0 149.8H174.8V154.1H171.0ZM181.3 149.8H188.4V154.1H181.3ZM283.4 153.8H287.1V158.0H283.4ZM283.4 157.7H287.1V162.0H283.4ZM283.4 165.6H287.1V169.9H283.4ZM290.2 169.6H293.9V173.8H290.2ZM293.6 173.5H297.3V177.8H293.6Z"/><path fill="#7878ff" d="M242.5 17.8H246.2V22.0H242.5ZM252.7 52.4H256.5V56.5H252.7ZM211.9 98.5H215.6V102.8H211.9ZM266.4 110.4H270.1V114.6H266.4ZM96.2 118.3H99.9V122.5H96.2ZM266.4 118.3H270.1V122.5H266.4ZM106.4 122.2H110.1V126.5H106.4ZM116.6 122.2H120.3V126.5H116.6ZM137.0 122.2H140.7V126.5H137.0ZM147.2 122.2H150.9V126.5H147.2ZM191.5 122.2H195.2V126.5H191.5ZM48.5 126.2H52.2V130.4H48.5ZM103.0 126.2H110.1V130.4H103.0ZM160.8 126.2H167.9V130.4H160.8ZM218.7 126.2H222.4V130.4H218.7ZM109.8 130.1H113.5V134.4H109.8ZM126.8 130.1H133.9V134.4H126.8ZM167.6 130.1H178.2V134.4H167.6ZM181.3 130.1H188.4V134.4H181.3ZM191.5 130.1H195.2V134.4H191.5ZM215.3 130.1H219.0V134.4H215.3ZM273.2 130.1H276.9V134.4H273.2ZM120.0 134.1H127.1V138.3H120.0ZM140.4 134.1H147.5V138.3H140.4ZM167.6 134.1H171.3V138.3H167.6ZM191.5 134.1H195.2V138.3H191.5ZM167.6 138.0H171.3V142.2H167.6ZM208.5 138.0H212.2V142.2H208.5ZM123.4 141.9H130.5V146.2H123.4ZM133.6 141.9H140.7V146.2H133.6ZM150.6 141.9H154.3V146.2H150.6ZM188.1 141.9H191.8V146.2H188.1ZM276.6 141.9H280.3V146.2H276.6ZM126.8 145.9H130.5V150.1H126.8ZM147.2 145.9H150.9V150.1H147.2ZM154.0 145.9H164.5V150.1H154.0ZM167.6 145.9H174.8V150.1H167.6ZM188.1 145.9H198.6V150.1H188.1ZM201.7 145.9H205.4V150.1H201.7ZM147.2 149.8H150.9V154.1H147.2ZM157.4 149.8H161.1V154.1H157.4ZM194.9 149.8H198.6V154.1H194.9ZM280.0 149.8H283.7V154.1H280.0ZM286.8 173.5H290.5V177.8H286.8Z"/><path fill="#ff8888" d="M51.9 21.7H55.6V25.8H51.9ZM68.9 63.9H72.6V68.0H68.9ZM72.3 67.7H76.0V71.9H72.3ZM79.1 67.7H89.6V71.9H79.1ZM184.7 67.7H188.4V71.9H184.7ZM208.5 67.7H212.2V71.9H208.5ZM235.7 67.7H239.4V71.9H235.7ZM252.7 67.7H256.5V71.9H252.7ZM263.0 86.9H266.7V91.1H263.0ZM51.9 94.6H55.6V98.8H51.9ZM72.3 118.3H76.0V122.5H72.3ZM62.1 122.2H69.2V126.5H62.1ZM85.9 122.2H89.6V126.5H85.9ZM58.7 126.2H65.8V130.4H58.7ZM72.3 126.2H76.0V130.4H72.3ZM62.1 130.1H72.6V134.4H62.1ZM62.1 134.1H65.8V138.3H62.1ZM68.9 134.1H76.0V138.3H68.9ZM65.5 138.0H69.2V142.2H65.5ZM65.5 141.9H72.6V146.2H65.5ZM96.2 141.9H99.9V146.2H96.2ZM62.1 149.8H72.6V154.1H62.1ZM58.7 157.7H62.4V162.0H58.7ZM65.5 157.7H69.2V162.0H65.5ZM72.3 157.7H76.0V162.0H72.3ZM55.3 161.7H59.0V165.9H55.3ZM48.5 165.6H55.6V169.9H48.5ZM72.3 165.6H76.0V169.9H72.3ZM113.2 173.5H120.3V177.8H113.2ZM123.4 173.5H130.5V177.8H123.4ZM123.4 177.5H127.1V181.7H123.4ZM133.6 177.5H137.3V181.7H133.6ZM116.6 181.4H120.3V185.7H116.6ZM211.9 181.4H222.4V185.7H211.9ZM72.3 185.4H76.0V189.6H72.3ZM126.8 185.4H130.5V189.6H126.8ZM201.7 185.4H215.6V189.6H201.7Z"/><path fill="#ff6868" d="M75.7 21.7H79.4V25.8H75.7ZM75.7 40.9H79.4V45.0H75.7ZM79.1 71.6H82.8V75.7H79.1ZM92.8 71.6H96.5V75.7H92.8ZM106.4 71.6H110.1V75.7H106.4ZM126.8 71.6H130.5V75.7H126.8ZM143.8 71.6H147.5V75.7H143.8ZM191.5 71.6H195.2V75.7H191.5ZM239.1 71.6H242.8V75.7H239.1ZM252.7 71.6H256.5V75.7H252.7ZM55.3 145.9H59.0V150.1H55.3ZM99.6 149.8H103.3V154.1H99.6ZM55.3 153.8H59.0V158.0H55.3ZM79.1 161.7H82.8V165.9H79.1Z"/><path fill="#ff5050" d="M85.9 21.7H89.6V25.8H85.9ZM130.2 71.6H133.9V75.7H130.2ZM154.0 71.6H157.7V75.7H154.0ZM171.0 71.6H174.8V75.7H171.0ZM181.3 71.6H191.8V75.7H181.3ZM85.9 86.9H96.5V91.1H85.9ZM103.0 86.9H106.7V91.1H103.0ZM126.8 86.9H130.5V91.1H126.8ZM140.4 86.9H144.1V91.1H140.4ZM208.5 86.9H215.6V91.1H208.5ZM239.1 86.9H242.8V91.1H239.1ZM245.9 86.9H249.6V91.1H245.9ZM252.7 86.9H256.5V91.1H252.7ZM106.4 165.6H110.1V169.9H106.4ZM82.5 177.5H86.2V181.7H82.5ZM82.5 181.4H86.2V185.7H82.5ZM82.5 185.4H86.2V189.6H82.5Z"/><path fill="#ffb8b8" d="M89.3 21.7H93.1V25.8H89.3ZM55.3 29.4H59.0V33.5H55.3ZM58.7 37.0H62.4V41.2H58.7ZM62.1 48.5H65.8V52.7H62.1ZM283.4 48.5H290.5V52.7H283.4ZM293.6 48.5H297.3V52.7H293.6ZM68.9 52.4H72.6V56.5H68.9ZM290.2 52.4H297.3V56.5H290.2ZM65.5 56.2H69.2V60.4H65.5ZM283.4 56.2H287.1V60.4H283.4ZM72.3 63.9H76.0V68.0H72.3ZM79.1 63.9H82.8V68.0H79.1ZM89.3 63.9H93.1V68.0H89.3ZM126.8 63.9H130.5V68.0H126.8ZM256.2 63.9H259.9V68.0H256.2ZM286.8 75.4H293.9V79.5H286.8ZM280.0 79.2H283.7V83.4H280.0ZM273.2 83.1H276.9V87.2H273.2ZM283.4 83.1H287.1V87.2H283.4ZM116.6 90.8H137.3V94.9H116.6ZM140.4 90.8H147.5V94.9H140.4ZM160.8 90.8H164.5V94.9H160.8ZM177.9 90.8H181.6V94.9H177.9ZM184.7 90.8H195.2V94.9H184.7ZM198.3 90.8H205.4V94.9H198.3ZM208.5 90.8H212.2V94.9H208.5ZM215.3 90.8H219.0V94.9H215.3ZM228.9 90.8H232.6V94.9H228.9ZM242.5 90.8H246.2V94.9H242.5ZM249.3 90.8H256.5V94.9H249.3ZM263.0 90.8H266.7V94.9H263.0ZM79.1 114.3H82.8V118.6H79.1ZM55.3 126.2H59.0V130.4H55.3ZM245.9 126.2H249.6V130.4H245.9ZM252.7 130.1H256.5V134.4H252.7ZM242.5 134.1H246.2V138.3H242.5ZM55.3 138.0H59.0V142.2H55.3ZM239.1 138.0H242.8V142.2H239.1ZM242.5 141.9H249.6V146.2H242.5ZM239.1 145.9H242.8V150.1H239.1ZM228.9 153.8H239.4V158.0H228.9ZM109.8 161.7H113.5V165.9H109.8ZM113.2 165.6H116.9V169.9H113.2ZM211.9 165.6H215.6V169.9H211.9ZM55.3 169.6H65.8V173.8H55.3ZM130.2 169.6H137.3V173.8H130.2ZM191.5 169.6H195.2V173.8H191.5ZM208.5 169.6H212.2V173.8H208.5ZM235.7 169.6H239.4V173.8H235.7ZM48.5 173.5H52.2V177.8H48.5ZM68.9 173.5H72.6V177.8H68.9ZM184.7 173.5H191.8V177.8H184.7ZM177.9 177.5H181.6V181.7H177.9ZM51.9 181.4H55.6V185.7H51.9ZM65.5 181.4H69.2V185.7H65.5ZM143.8 185.4H147.5V189.6H143.8Z"/><path fill="#7070ff" d="M235.7 21.7H239.4V25.8H235.7ZM249.3 52.4H253.0V56.5H249.3ZM92.8 98.5H96.5V102.8H92.8ZM99.6 98.5H103.3V102.8H99.6ZM109.8 98.5H113.5V102.8H109.8ZM123.4 98.5H127.1V102.8H123.4ZM143.8 98.5H147.5V102.8H143.8ZM198.3 98.5H202.0V102.8H198.3ZM249.3 98.5H253.0V102.8H249.3ZM266.4 98.5H270.1V102.8H266.4ZM266.4 106.4H270.1V110.7H266.4ZM116.6 118.3H120.3V122.5H116.6ZM113.2 122.2H116.9V126.5H113.2ZM120.0 122.2H123.7V126.5H120.0ZM133.6 122.2H137.3V126.5H133.6ZM157.4 122.2H161.1V126.5H157.4ZM167.6 122.2H171.3V126.5H167.6ZM109.8 126.2H120.3V130.4H109.8ZM123.4 126.2H127.1V130.4H123.4ZM130.2 126.2H144.1V130.4H130.2ZM150.6 126.2H157.7V130.4H150.6ZM167.6 126.2H174.8V130.4H167.6ZM177.9 126.2H181.6V130.4H177.9ZM188.1 126.2H195.2V130.4H188.1ZM198.3 126.2H208.8V130.4H198.3ZM211.9 126.2H219.0V130.4H211.9ZM273.2 126.2H276.9V130.4H273.2ZM48.5 130.1H52.2V134.4H48.5ZM106.4 130.1H110.1V134.4H106.4ZM120.0 130.1H123.7V134.4H120.0ZM137.0 130.1H140.7V134.4H137.0ZM150.6 130.1H154.3V134.4H150.6ZM164.2 130.1H167.9V134.4H164.2ZM194.9 130.1H205.4V134.4H194.9ZM109.8 134.1H116.9V138.3H109.8ZM130.2 134.1H133.9V138.3H130.2ZM157.4 134.1H161.1V138.3H157.4ZM171.0 134.1H174.8V138.3H171.0ZM184.7 134.1H191.8V138.3H184.7ZM208.5 134.1H215.6V138.3H208.5ZM276.6 134.1H280.3V138.3H276.6ZM116.6 138.0H120.3V142.2H116.6ZM126.8 138.0H130.5V142.2H126.8ZM137.0 138.0H144.1V142.2H137.0ZM157.4 138.0H167.9V142.2H157.4ZM174.5 138.0H181.6V142.2H174.5ZM184.7 138.0H191.8V142.2H184.7ZM194.9 138.0H202.0V142.2H194.9ZM205.1 138.0H208.8V142.2H205.1ZM120.0 141.9H123.7V146.2H120.0ZM130.2 141.9H133.9V146.2H130.2ZM154.0 141.9H157.7V146.2H154.0ZM160.8 141.9H171.3V146.2H160.8ZM174.5 141.9H178.2V146.2H174.5ZM191.5 141.9H198.6V146.2H191.5ZM201.7 141.9H205.4V146.2H201.7ZM123.4 145.9H127.1V150.1H123.4ZM130.2 145.9H133.9V150.1H130.2ZM143.8 145.9H147.5V150.1H143.8ZM150.6 145.9H154.3V150.1H150.6ZM164.2 145.9H167.9V150.1H164.2ZM198.3 145.9H202.0V150.1H198.3ZM140.4 149.8H144.1V154.1H140.4ZM164.2 149.8H167.9V154.1H164.2ZM286.8 165.6H290.5V169.9H286.8ZM286.8 169.6H290.5V173.8H286.8ZM290.2 177.5H297.3V181.7H290.2ZM290.2 185.4H293.9V189.6H290.2Z"/><path fill="#ff9090" d="M51.9 25.5H55.6V29.7H51.9ZM58.7 40.9H62.4V45.0H58.7ZM75.7 48.5H79.4V52.7H75.7ZM75.7 52.4H79.4V56.5H75.7ZM103.0 67.7H110.1V71.9H103.0ZM130.2 67.7H133.9V71.9H130.2ZM143.8 67.7H147.5V71.9H143.8ZM154.0 67.7H157.7V71.9H154.0ZM160.8 67.7H164.5V71.9H160.8ZM194.9 67.7H208.8V71.9H194.9ZM211.9 67.7H215.6V71.9H211.9ZM232.3 67.7H236.0V71.9H232.3ZM245.9 67.7H253.0V71.9H245.9ZM51.9 98.5H55.6V102.8H51.9ZM48.5 102.5H52.2V106.7H48.5ZM62.1 118.3H65.8V122.5H62.1ZM82.5 118.3H86.2V122.5H82.5ZM68.9 122.2H72.6V126.5H68.9ZM68.9 126.2H72.6V130.4H68.9ZM58.7 130.1H62.4V134.4H58.7ZM72.3 130.1H76.0V134.4H72.3ZM62.1 141.9H65.8V146.2H62.1ZM62.1 145.9H65.8V150.1H62.1ZM58.7 149.8H62.4V154.1H58.7ZM58.7 153.8H65.8V158.0H58.7ZM68.9 153.8H76.0V158.0H68.9ZM68.9 157.7H72.6V162.0H68.9ZM106.4 157.7H110.1V162.0H106.4ZM68.9 161.7H76.0V165.9H68.9ZM109.8 165.6H113.5V169.9H109.8ZM79.1 173.5H82.8V177.8H79.1ZM225.5 173.5H229.2V177.8H225.5ZM116.6 177.5H123.7V181.7H116.6ZM126.8 177.5H130.5V181.7H126.8ZM137.0 177.5H140.7V181.7H137.0ZM208.5 177.5H212.2V181.7H208.5ZM79.1 181.4H82.8V185.7H79.1ZM133.6 181.4H137.3V185.7H133.6ZM208.5 181.4H212.2V185.7H208.5ZM222.1 181.4H225.8V185.7H222.1ZM120.0 185.4H127.1V189.6H120.0ZM167.6 185.4H171.3V189.6H167.6ZM218.7 185.4H222.4V189.6H218.7Z"/><path fill="#ff3030" d="M75.7 25.5H79.4V29.7H75.7ZM75.7 37.0H79.4V41.2H75.7ZM62.1 60.1H65.8V64.2H62.1ZM137.0 75.4H140.7V79.5H137.0ZM143.8 75.4H147.5V79.5H143.8ZM198.3 75.4H202.0V79.5H198.3ZM249.3 75.4H253.0V79.5H249.3ZM82.5 122.2H86.2V126.5H82.5ZM79.1 130.1H82.8V134.4H79.1ZM48.5 149.8H52.2V154.1H48.5ZM96.2 149.8H99.9V154.1H96.2ZM51.9 153.8H55.6V158.0H51.9ZM79.1 153.8H82.8V158.0H79.1ZM48.5 157.7H52.2V162.0H48.5ZM103.0 165.6H106.7V169.9H103.0ZM106.4 169.6H110.1V173.8H106.4ZM106.4 173.5H110.1V177.8H106.4Z"/><path fill="#ff0808" d="M82.5 25.5H86.2V29.7H82.5ZM48.5 37.0H52.2V41.2H48.5ZM51.9 40.9H55.6V45.0H51.9ZM51.9 44.7H55.6V48.8H51.9ZM51.9 52.4H59.0V56.5H51.9ZM58.7 56.2H62.4V60.4H58.7ZM51.9 67.7H55.6V71.9H51.9ZM51.9 71.6H59.0V75.7H51.9ZM65.5 71.6H69.2V75.7H65.5ZM58.7 75.4H62.4V79.5H58.7ZM65.5 75.4H69.2V79.5H65.5ZM75.7 75.4H79.4V79.5H75.7ZM171.0 75.4H174.8V79.5H171.0ZM48.5 79.2H52.2V83.4H48.5ZM58.7 79.2H62.4V83.4H58.7ZM79.1 79.2H86.2V83.4H79.1ZM89.3 79.2H93.1V83.4H89.3ZM99.6 79.2H106.7V83.4H99.6ZM113.2 79.2H116.9V83.4H113.2ZM123.4 79.2H127.1V83.4H123.4ZM130.2 79.2H137.3V83.4H130.2ZM147.2 79.2H154.3V83.4H147.2ZM157.4 79.2H161.1V83.4H157.4ZM171.0 79.2H174.8V83.4H171.0ZM184.7 79.2H188.4V83.4H184.7ZM194.9 79.2H202.0V83.4H194.9ZM211.9 79.2H215.6V83.4H211.9ZM218.7 79.2H225.8V83.4H218.7ZM232.3 79.2H236.0V83.4H232.3ZM242.5 79.2H246.2V83.4H242.5ZM62.1 83.1H65.8V87.2H62.1ZM79.1 83.1H89.6V87.2H79.1ZM96.2 83.1H103.3V87.2H96.2ZM123.4 83.1H127.1V87.2H123.4ZM137.0 83.1H140.7V87.2H137.0ZM147.2 83.1H154.3V87.2H147.2ZM164.2 83.1H167.9V87.2H164.2ZM181.3 83.1H185.0V87.2H181.3ZM218.7 83.1H222.4V87.2H218.7ZM249.3 83.1H253.0V87.2H249.3ZM51.9 86.9H62.4V91.1H51.9ZM55.3 90.8H59.0V94.9H55.3ZM82.5 126.2H86.2V130.4H82.5ZM82.5 138.0H86.2V142.2H82.5ZM85.9 141.9H89.6V146.2H85.9ZM82.5 145.9H86.2V150.1H82.5ZM85.9 161.7H89.6V165.9H85.9ZM99.6 169.6H103.3V173.8H99.6ZM96.2 173.5H99.9V177.8H96.2ZM103.0 173.5H106.7V177.8H103.0ZM96.2 177.5H99.9V181.7H96.2ZM96.2 181.4H99.9V185.7H96.2ZM89.3 185.4H93.1V189.6H89.3ZM99.6 185.4H103.3V189.6H99.6ZM106.4 185.4H110.1V189.6H106.4Z"/><path fill="#d0d0ff" d="M273.2 25.5H276.9V29.7H273.2ZM96.2 29.4H103.3V33.5H96.2ZM269.8 29.4H273.5V33.5H269.8ZM222.1 33.2H225.8V37.3H222.1ZM103.0 44.7H106.7V48.8H103.0ZM208.5 48.5H212.2V52.7H208.5ZM96.2 52.4H103.3V56.5H96.2ZM205.1 52.4H212.2V56.5H205.1ZM82.5 94.6H86.2V98.8H82.5ZM99.6 94.6H106.7V98.8H99.6ZM109.8 94.6H120.3V98.8H109.8ZM126.8 94.6H133.9V98.8H126.8ZM140.4 94.6H147.5V98.8H140.4ZM160.8 94.6H164.5V98.8H160.8ZM177.9 94.6H181.6V98.8H177.9ZM188.1 94.6H191.8V98.8H188.1ZM205.1 94.6H212.2V98.8H205.1ZM215.3 94.6H219.0V98.8H215.3ZM222.1 94.6H225.8V98.8H222.1ZM239.1 94.6H242.8V98.8H239.1ZM269.8 94.6H273.5V98.8H269.8ZM286.8 94.6H293.9V98.8H286.8ZM75.7 98.5H79.4V102.8H75.7ZM293.6 98.5H297.3V102.8H293.6ZM280.0 106.4H283.7V110.7H280.0ZM286.8 106.4H290.5V110.7H286.8ZM55.3 110.4H59.0V114.6H55.3ZM290.2 110.4H293.9V114.6H290.2ZM55.3 114.3H59.0V118.6H55.3ZM283.4 114.3H297.3V118.6H283.4ZM280.0 118.3H283.7V122.5H280.0ZM293.6 118.3H297.3V122.5H293.6ZM283.4 122.2H290.5V126.5H283.4ZM96.2 126.2H99.9V130.4H96.2ZM225.5 126.2H229.2V130.4H225.5ZM283.4 130.1H290.5V134.4H283.4ZM293.6 130.1H297.3V134.4H293.6ZM286.8 134.1H293.9V138.3H286.8ZM290.2 138.0H293.9V142.2H290.2ZM293.6 145.9H297.3V150.1H293.6ZM290.2 149.8H293.9V154.1H290.2ZM120.0 153.8H123.7V158.0H120.0ZM290.2 153.8H293.9V158.0H290.2ZM130.2 157.7H133.9V162.0H130.2ZM140.4 157.7H144.1V162.0H140.4ZM167.6 157.7H171.3V162.0H167.6ZM184.7 157.7H188.4V162.0H184.7ZM293.6 157.7H297.3V162.0H293.6ZM280.0 165.6H283.7V169.9H280.0ZM283.4 181.4H287.1V185.7H283.4Z"/><path fill="#ff6060" d="M48.5 29.4H52.2V33.5H48.5ZM72.3 48.5H76.0V52.7H72.3ZM82.5 71.6H89.6V75.7H82.5ZM96.2 71.6H99.9V75.7H96.2ZM109.8 71.6H113.5V75.7H109.8ZM123.4 71.6H127.1V75.7H123.4ZM147.2 71.6H150.9V75.7H147.2ZM164.2 71.6H167.9V75.7H164.2ZM201.7 71.6H205.4V75.7H201.7ZM211.9 71.6H222.4V75.7H211.9ZM225.5 71.6H229.2V75.7H225.5ZM235.7 71.6H239.4V75.7H235.7ZM242.5 71.6H246.2V75.7H242.5ZM249.3 71.6H253.0V75.7H249.3ZM133.6 86.9H137.3V91.1H133.6ZM147.2 86.9H150.9V91.1H147.2ZM181.3 86.9H185.0V91.1H181.3ZM249.3 86.9H253.0V91.1H249.3ZM256.2 86.9H259.9V91.1H256.2ZM75.7 138.0H79.4V142.2H75.7ZM96.2 145.9H99.9V150.1H96.2ZM55.3 157.7H59.0V162.0H55.3ZM79.1 157.7H82.8V162.0H79.1ZM103.0 157.7H106.7V162.0H103.0ZM109.8 173.5H113.5V177.8H109.8ZM113.2 185.4H116.9V189.6H113.2Z"/><path fill="#ffc0c0" d="M72.3 29.4H76.0V33.5H72.3ZM283.4 40.9H287.1V45.0H283.4ZM68.9 44.7H72.6V48.8H68.9ZM276.6 44.7H280.3V48.8H276.6ZM283.4 44.7H287.1V48.8H283.4ZM68.9 60.1H72.6V64.2H68.9ZM82.5 63.9H86.2V68.0H82.5ZM96.2 63.9H99.9V68.0H96.2ZM103.0 63.9H106.7V68.0H103.0ZM123.4 63.9H127.1V68.0H123.4ZM133.6 63.9H137.3V68.0H133.6ZM140.4 63.9H144.1V68.0H140.4ZM147.2 63.9H154.3V68.0H147.2ZM164.2 63.9H174.8V68.0H164.2ZM191.5 63.9H195.2V68.0H191.5ZM205.1 63.9H212.2V68.0H205.1ZM222.1 63.9H225.8V68.0H222.1ZM232.3 63.9H239.4V68.0H232.3ZM242.5 63.9H246.2V68.0H242.5ZM263.0 67.7H266.7V71.9H263.0ZM280.0 75.4H287.1V79.5H280.0ZM293.6 79.2H297.3V83.4H293.6ZM286.8 83.1H290.5V87.2H286.8ZM273.2 86.9H280.3V91.1H273.2ZM92.8 90.8H96.5V94.9H92.8ZM109.8 90.8H116.9V94.9H109.8ZM154.0 90.8H157.7V94.9H154.0ZM167.6 90.8H178.2V94.9H167.6ZM181.3 90.8H185.0V94.9H181.3ZM218.7 90.8H229.2V94.9H218.7ZM232.3 90.8H239.4V94.9H232.3ZM75.7 114.3H79.4V118.6H75.7ZM92.8 130.1H96.5V134.4H92.8ZM55.3 134.1H59.0V138.3H55.3ZM249.3 138.0H253.0V142.2H249.3ZM99.6 141.9H103.3V146.2H99.6ZM245.9 145.9H249.6V150.1H245.9ZM232.3 149.8H239.4V154.1H232.3ZM242.5 149.8H246.2V154.1H242.5ZM215.3 153.8H219.0V158.0H215.3ZM245.9 153.8H249.6V158.0H245.9ZM109.8 157.7H113.5V162.0H109.8ZM205.1 157.7H208.8V162.0H205.1ZM225.5 157.7H229.2V162.0H225.5ZM201.7 161.7H205.4V165.9H201.7ZM215.3 161.7H229.2V165.9H215.3ZM123.4 165.6H127.1V169.9H123.4ZM194.9 165.6H198.6V169.9H194.9ZM215.3 169.6H219.0V173.8H215.3ZM65.5 173.5H69.2V177.8H65.5ZM140.4 173.5H144.1V177.8H140.4ZM181.3 173.5H185.0V177.8H181.3ZM48.5 177.5H52.2V181.7H48.5ZM232.3 177.5H239.4V181.7H232.3ZM55.3 181.4H59.0V185.7H55.3ZM157.4 185.4H161.1V189.6H157.4Z"/><path fill="#ff1818" d="M75.7 29.4H79.4V33.5H75.7ZM75.7 33.2H79.4V37.3H75.7ZM55.3 48.5H59.0V52.7H55.3ZM65.5 67.7H69.2V71.9H65.5ZM68.9 71.6H72.6V75.7H68.9ZM72.3 75.4H76.0V79.5H72.3ZM79.1 75.4H93.1V79.5H79.1ZM113.2 75.4H116.9V79.5H113.2ZM140.4 75.4H144.1V79.5H140.4ZM215.3 75.4H219.0V79.5H215.3ZM225.5 75.4H229.2V79.5H225.5ZM235.7 75.4H239.4V79.5H235.7ZM245.9 75.4H249.6V79.5H245.9ZM85.9 79.2H89.6V83.4H85.9ZM181.3 79.2H185.0V83.4H181.3ZM228.9 79.2H232.6V83.4H228.9ZM252.7 79.2H256.5V83.4H252.7ZM126.8 83.1H130.5V87.2H126.8ZM140.4 83.1H144.1V87.2H140.4ZM157.4 83.1H161.1V87.2H157.4ZM208.5 83.1H212.2V87.2H208.5ZM215.3 83.1H219.0V87.2H215.3ZM228.9 83.1H232.6V87.2H228.9ZM239.1 83.1H246.2V87.2H239.1ZM75.7 86.9H79.4V91.1H75.7ZM79.1 134.1H82.8V138.3H79.1ZM89.3 141.9H93.1V146.2H89.3ZM92.8 145.9H96.5V150.1H92.8ZM82.5 153.8H86.2V158.0H82.5ZM99.6 157.7H103.3V162.0H99.6ZM103.0 169.6H106.7V173.8H103.0ZM85.9 177.5H89.6V181.7H85.9ZM106.4 177.5H110.1V181.7H106.4ZM85.9 181.4H89.6V185.7H85.9ZM109.8 185.4H113.5V189.6H109.8Z"/><path fill="#ff4040" d="M82.5 29.4H86.2V33.5H82.5ZM68.9 67.7H72.6V71.9H68.9ZM164.2 86.9H167.9V91.1H164.2ZM201.7 86.9H205.4V91.1H201.7ZM215.3 86.9H219.0V91.1H215.3ZM85.9 126.2H89.6V130.4H85.9ZM89.3 134.1H93.1V138.3H89.3ZM48.5 145.9H52.2V150.1H48.5ZM99.6 153.8H103.3V158.0H99.6ZM51.9 157.7H55.6V162.0H51.9ZM82.5 169.6H86.2V173.8H82.5ZM82.5 173.5H86.2V177.8H82.5Z"/><path fill="#ffa8a8" d="M85.9 29.4H89.6V33.5H85.9ZM75.7 56.2H79.4V60.4H75.7ZM150.6 67.7H154.3V71.9H150.6ZM181.3 67.7H185.0V71.9H181.3ZM188.1 67.7H191.8V71.9H188.1ZM266.4 71.6H270.1V75.7H266.4ZM276.6 75.4H280.3V79.5H276.6ZM276.6 79.2H280.3V83.4H276.6ZM276.6 83.1H280.3V87.2H276.6ZM266.4 86.9H273.5V91.1H266.4ZM82.5 90.8H86.2V94.9H82.5ZM99.6 90.8H103.3V94.9H99.6ZM137.0 90.8H140.7V94.9H137.0ZM205.1 90.8H208.8V94.9H205.1ZM249.3 130.1H253.0V134.4H249.3ZM245.9 134.1H253.0V138.3H245.9ZM245.9 138.0H249.6V142.2H245.9ZM239.1 149.8H242.8V154.1H239.1ZM239.1 153.8H242.8V158.0H239.1ZM208.5 157.7H215.6V162.0H208.5ZM228.9 157.7H239.4V162.0H228.9ZM208.5 161.7H212.2V165.9H208.5ZM235.7 161.7H239.4V165.9H235.7ZM58.7 165.6H62.4V169.9H58.7ZM65.5 165.6H69.2V169.9H65.5ZM201.7 165.6H205.4V169.9H201.7ZM215.3 165.6H219.0V169.9H215.3ZM222.1 165.6H225.8V169.9H222.1ZM232.3 165.6H236.0V169.9H232.3ZM75.7 169.6H79.4V173.8H75.7ZM116.6 169.6H123.7V173.8H116.6ZM218.7 169.6H222.4V173.8H218.7ZM225.5 169.6H229.2V173.8H225.5ZM133.6 173.5H137.3V177.8H133.6ZM194.9 173.5H198.6V177.8H194.9ZM205.1 173.5H208.8V177.8H205.1ZM215.3 173.5H219.0V177.8H215.3ZM68.9 177.5H72.6V181.7H68.9ZM154.0 177.5H157.7V181.7H154.0ZM191.5 177.5H195.2V181.7H191.5ZM205.1 177.5H208.8V181.7H205.1ZM215.3 177.5H219.0V181.7H215.3ZM48.5 181.4H52.2V185.7H48.5ZM68.9 181.4H72.6V185.7H68.9ZM147.2 181.4H154.3V185.7H147.2ZM157.4 181.4H167.9V185.7H157.4ZM171.0 181.4H178.2V185.7H171.0ZM181.3 181.4H185.0V185.7H181.3ZM191.5 181.4H195.2V185.7H191.5ZM198.3 181.4H202.0V185.7H198.3ZM225.5 181.4H229.2V185.7H225.5ZM51.9 185.4H55.6V189.6H51.9ZM68.9 185.4H72.6V189.6H68.9ZM150.6 185.4H157.7V189.6H150.6ZM171.0 185.4H178.2V189.6H171.0ZM184.7 185.4H195.2V189.6H184.7ZM228.9 185.4H232.6V189.6H228.9Z"/><path fill="#ff1010" d="M48.5 33.2H52.2V37.3H48.5ZM51.9 37.0H55.6V41.2H51.9ZM55.3 44.7H59.0V48.8H55.3ZM58.7 52.4H62.4V56.5H58.7ZM55.3 56.2H59.0V60.4H55.3ZM55.3 67.7H59.0V71.9H55.3ZM51.9 75.4H55.6V79.5H51.9ZM92.8 75.4H99.9V79.5H92.8ZM120.0 79.2H123.7V83.4H120.0ZM126.8 79.2H130.5V83.4H126.8ZM137.0 79.2H140.7V83.4H137.0ZM143.8 79.2H147.5V83.4H143.8ZM154.0 79.2H157.7V83.4H154.0ZM167.6 79.2H171.3V83.4H167.6ZM174.5 79.2H181.6V83.4H174.5ZM188.1 79.2H191.8V83.4H188.1ZM201.7 79.2H205.4V83.4H201.7ZM208.5 79.2H212.2V83.4H208.5ZM215.3 79.2H219.0V83.4H215.3ZM239.1 79.2H242.8V83.4H239.1ZM245.9 79.2H249.6V83.4H245.9ZM65.5 83.1H69.2V87.2H65.5ZM75.7 83.1H79.4V87.2H75.7ZM89.3 83.1H93.1V87.2H89.3ZM103.0 83.1H120.3V87.2H103.0ZM130.2 83.1H137.3V87.2H130.2ZM174.5 83.1H181.6V87.2H174.5ZM188.1 83.1H195.2V87.2H188.1ZM198.3 83.1H202.0V87.2H198.3ZM205.1 83.1H208.8V87.2H205.1ZM225.5 83.1H229.2V87.2H225.5ZM235.7 83.1H239.4V87.2H235.7ZM245.9 83.1H249.6V87.2H245.9ZM72.3 90.8H76.0V94.9H72.3ZM79.1 126.2H82.8V130.4H79.1ZM85.9 134.1H89.6V138.3H85.9ZM85.9 138.0H89.6V142.2H85.9ZM79.1 141.9H82.8V146.2H79.1ZM82.5 157.7H86.2V162.0H82.5ZM96.2 157.7H99.9V162.0H96.2ZM92.8 161.7H96.5V165.9H92.8ZM92.8 165.6H96.5V169.9H92.8ZM85.9 169.6H89.6V173.8H85.9ZM85.9 173.5H89.6V177.8H85.9ZM89.3 177.5H93.1V181.7H89.3Z"/><path fill="#ff3838" d="M51.9 33.2H55.6V37.3H51.9ZM58.7 48.5H62.4V52.7H58.7ZM65.5 63.9H69.2V68.0H65.5ZM72.3 71.6H76.0V75.7H72.3ZM106.4 75.4H110.1V79.5H106.4ZM188.1 75.4H191.8V79.5H188.1ZM252.7 75.4H256.5V79.5H252.7ZM259.6 83.1H263.3V87.2H259.6ZM79.1 86.9H82.8V91.1H79.1ZM191.5 86.9H195.2V91.1H191.5ZM51.9 145.9H55.6V150.1H51.9ZM51.9 149.8H55.6V154.1H51.9ZM103.0 161.7H106.7V165.9H103.0ZM109.8 181.4H113.5V185.7H109.8Z"/><path fill="#ff2020" d="M79.1 33.2H82.8V37.3H79.1ZM99.6 75.4H103.3V79.5H99.6ZM109.8 75.4H113.5V79.5H109.8ZM116.6 75.4H127.1V79.5H116.6ZM130.2 75.4H137.3V79.5H130.2ZM147.2 75.4H150.9V79.5H147.2ZM154.0 75.4H157.7V79.5H154.0ZM164.2 75.4H167.9V79.5H164.2ZM174.5 75.4H178.2V79.5H174.5ZM191.5 75.4H198.6V79.5H191.5ZM201.7 75.4H205.4V79.5H201.7ZM208.5 75.4H215.6V79.5H208.5ZM218.7 75.4H222.4V79.5H218.7ZM232.3 75.4H236.0V79.5H232.3ZM239.1 75.4H242.8V79.5H239.1ZM140.4 79.2H144.1V83.4H140.4ZM256.2 79.2H259.9V83.4H256.2ZM92.8 83.1H96.5V87.2H92.8ZM120.0 83.1H123.7V87.2H120.0ZM184.7 83.1H188.4V87.2H184.7ZM252.7 83.1H256.5V87.2H252.7ZM75.7 90.8H79.4V94.9H75.7ZM48.5 153.8H52.2V158.0H48.5ZM82.5 161.7H86.2V165.9H82.5ZM99.6 165.6H103.3V169.9H99.6Z"/><path fill="#ff2828" d="M55.3 40.9H59.0V45.0H55.3ZM103.0 75.4H106.7V79.5H103.0ZM126.8 75.4H130.5V79.5H126.8ZM150.6 75.4H154.3V79.5H150.6ZM157.4 75.4H164.5V79.5H157.4ZM167.6 75.4H171.3V79.5H167.6ZM177.9 75.4H188.4V79.5H177.9ZM205.1 75.4H208.8V79.5H205.1ZM222.1 75.4H225.8V79.5H222.1ZM228.9 75.4H232.6V79.5H228.9ZM242.5 75.4H246.2V79.5H242.5ZM249.3 79.2H253.0V83.4H249.3ZM160.8 83.1H164.5V87.2H160.8ZM256.2 83.1H259.9V87.2H256.2ZM79.1 122.2H82.8V126.5H79.1ZM85.9 130.1H89.6V134.4H85.9ZM79.1 138.0H82.8V142.2H79.1ZM89.3 138.0H93.1V142.2H89.3ZM79.1 145.9H82.8V150.1H79.1ZM82.5 165.6H86.2V169.9H82.5ZM85.9 185.4H89.6V189.6H85.9Z"/><path fill="#6868ff" d="M82.5 98.5H93.1V102.8H82.5ZM96.2 98.5H99.9V102.8H96.2ZM113.2 98.5H116.9V102.8H113.2ZM120.0 98.5H123.7V102.8H120.0ZM130.2 98.5H133.9V102.8H130.2ZM154.0 98.5H157.7V102.8H154.0ZM164.2 98.5H171.3V102.8H164.2ZM174.5 98.5H178.2V102.8H174.5ZM201.7 98.5H208.8V102.8H201.7ZM215.3 98.5H219.0V102.8H215.3ZM222.1 98.5H225.8V102.8H222.1ZM228.9 98.5H242.8V102.8H228.9ZM256.2 98.5H259.9V102.8H256.2ZM82.5 106.4H86.2V110.7H82.5ZM263.0 110.4H266.7V114.6H263.0ZM252.7 114.3H256.5V118.6H252.7ZM99.6 118.3H103.3V122.5H99.6ZM103.0 122.2H106.7V126.5H103.0ZM109.8 122.2H113.5V126.5H109.8ZM130.2 122.2H133.9V126.5H130.2ZM140.4 122.2H144.1V126.5H140.4ZM154.0 122.2H157.7V126.5H154.0ZM160.8 122.2H167.9V126.5H160.8ZM171.0 122.2H178.2V126.5H171.0ZM181.3 122.2H185.0V126.5H181.3ZM194.9 122.2H202.0V126.5H194.9ZM222.1 122.2H225.8V126.5H222.1ZM120.0 126.2H123.7V130.4H120.0ZM181.3 126.2H185.0V130.4H181.3ZM208.5 126.2H212.2V130.4H208.5ZM113.2 130.1H116.9V134.4H113.2ZM123.4 130.1H127.1V134.4H123.4ZM133.6 130.1H137.3V134.4H133.6ZM143.8 130.1H150.9V134.4H143.8ZM154.0 130.1H157.7V134.4H154.0ZM177.9 130.1H181.6V134.4H177.9ZM188.1 130.1H191.8V134.4H188.1ZM211.9 130.1H215.6V134.4H211.9ZM48.5 134.1H52.2V138.3H48.5ZM133.6 134.1H140.7V138.3H133.6ZM150.6 134.1H157.7V138.3H150.6ZM160.8 134.1H164.5V138.3H160.8ZM174.5 134.1H178.2V138.3H174.5ZM194.9 134.1H202.0V138.3H194.9ZM205.1 134.1H208.8V138.3H205.1ZM123.4 138.0H127.1V142.2H123.4ZM130.2 138.0H133.9V142.2H130.2ZM143.8 138.0H157.7V142.2H143.8ZM191.5 138.0H195.2V142.2H191.5ZM201.7 138.0H205.4V142.2H201.7ZM140.4 141.9H144.1V146.2H140.4ZM147.2 141.9H150.9V146.2H147.2ZM171.0 141.9H174.8V146.2H171.0ZM177.9 141.9H181.6V146.2H177.9ZM140.4 145.9H144.1V150.1H140.4ZM174.5 145.9H185.0V150.1H174.5ZM290.2 173.5H293.9V177.8H290.2Z"/><path fill="#5858ff" d="M147.2 98.5H150.9V102.8H147.2ZM157.4 98.5H164.5V102.8H157.4ZM177.9 98.5H181.6V102.8H177.9ZM184.7 98.5H188.4V102.8H184.7ZM191.5 98.5H195.2V102.8H191.5ZM218.7 98.5H222.4V102.8H218.7ZM245.9 98.5H249.6V102.8H245.9ZM259.6 98.5H263.3V102.8H259.6ZM249.3 114.3H253.0V118.6H249.3ZM113.2 118.3H116.9V122.5H113.2ZM120.0 118.3H123.7V122.5H120.0ZM126.8 118.3H130.5V122.5H126.8ZM133.6 118.3H137.3V122.5H133.6ZM143.8 118.3H147.5V122.5H143.8ZM188.1 122.2H191.8V126.5H188.1ZM201.7 122.2H208.8V126.5H201.7ZM157.4 130.1H161.1V134.4H157.4ZM120.0 138.0H123.7V142.2H120.0ZM181.3 141.9H185.0V146.2H181.3Z"/><path fill="#4848ff" d="M263.0 98.5H266.7V102.8H263.0ZM147.2 118.3H150.9V122.5H147.2ZM157.4 118.3H167.9V122.5H157.4ZM174.5 118.3H178.2V122.5H174.5ZM232.3 118.3H236.0V122.5H232.3Z"/><path fill="#2828ff" d="M82.5 102.5H86.2V106.7H82.5ZM201.7 102.5H205.4V106.7H201.7ZM263.0 102.5H266.7V106.7H263.0ZM263.0 106.4H266.7V110.7H263.0ZM242.5 114.3H249.6V118.6H242.5ZM188.1 118.3H191.8V122.5H188.1ZM194.9 118.3H202.0V122.5H194.9Z"/><path fill="#0000ff" d="M85.9 102.5H89.6V106.7H85.9ZM96.2 102.5H99.9V106.7H96.2ZM106.4 102.5H110.1V106.7H106.4ZM120.0 102.5H123.7V106.7H120.0ZM205.1 102.5H208.8V106.7H205.1ZM232.3 102.5H236.0V106.7H232.3ZM259.6 102.5H263.3V106.7H259.6ZM92.8 106.4H103.3V110.7H92.8ZM109.8 106.4H116.9V110.7H109.8ZM123.4 106.4H130.5V110.7H123.4ZM133.6 106.4H144.1V110.7H133.6ZM147.2 106.4H157.7V110.7H147.2ZM160.8 106.4H171.3V110.7H160.8ZM181.3 106.4H188.4V110.7H181.3ZM194.9 106.4H212.2V110.7H194.9ZM218.7 106.4H232.6V110.7H218.7ZM235.7 106.4H239.4V110.7H235.7ZM242.5 106.4H259.9V110.7H242.5ZM92.8 110.4H99.9V114.6H92.8ZM103.0 110.4H140.7V114.6H103.0ZM143.8 110.4H150.9V114.6H143.8ZM154.0 110.4H157.7V114.6H154.0ZM160.8 110.4H167.9V114.6H160.8ZM177.9 110.4H185.0V114.6H177.9ZM188.1 110.4H191.8V114.6H188.1ZM198.3 110.4H202.0V114.6H198.3ZM205.1 110.4H208.8V114.6H205.1ZM211.9 110.4H242.8V114.6H211.9ZM245.9 110.4H249.6V114.6H245.9ZM116.6 114.3H120.3V118.6H116.6ZM126.8 114.3H137.3V118.6H126.8ZM150.6 114.3H157.7V118.6H150.6ZM164.2 114.3H167.9V118.6H164.2ZM198.3 114.3H205.4V118.6H198.3ZM211.9 114.3H215.6V118.6H211.9ZM218.7 114.3H222.4V118.6H218.7ZM225.5 114.3H229.2V118.6H225.5Z"/><path fill="#0808ff" d="M89.3 102.5H93.1V106.7H89.3ZM109.8 102.5H113.5V106.7H109.8ZM116.6 102.5H120.3V106.7H116.6ZM133.6 102.5H137.3V106.7H133.6ZM157.4 102.5H161.1V106.7H157.4ZM164.2 102.5H171.3V106.7H164.2ZM174.5 102.5H178.2V106.7H174.5ZM181.3 102.5H185.0V106.7H181.3ZM191.5 102.5H195.2V106.7H191.5ZM211.9 102.5H219.0V106.7H211.9ZM222.1 102.5H225.8V106.7H222.1ZM242.5 102.5H246.2V106.7H242.5ZM252.7 102.5H256.5V106.7H252.7ZM89.3 106.4H93.1V110.7H89.3ZM103.0 106.4H106.7V110.7H103.0ZM116.6 106.4H120.3V110.7H116.6ZM130.2 106.4H133.9V110.7H130.2ZM143.8 106.4H147.5V110.7H143.8ZM157.4 106.4H161.1V110.7H157.4ZM174.5 106.4H181.6V110.7H174.5ZM191.5 106.4H195.2V110.7H191.5ZM211.9 106.4H219.0V110.7H211.9ZM232.3 106.4H236.0V110.7H232.3ZM239.1 106.4H242.8V110.7H239.1ZM259.6 106.4H263.3V110.7H259.6ZM89.3 110.4H93.1V114.6H89.3ZM140.4 110.4H144.1V114.6H140.4ZM150.6 110.4H154.3V114.6H150.6ZM157.4 110.4H161.1V114.6H157.4ZM167.6 110.4H178.2V114.6H167.6ZM184.7 110.4H188.4V114.6H184.7ZM191.5 110.4H198.6V114.6H191.5ZM201.7 110.4H205.4V114.6H201.7ZM208.5 110.4H212.2V114.6H208.5ZM242.5 110.4H246.2V114.6H242.5ZM109.8 114.3H113.5V118.6H109.8ZM120.0 114.3H123.7V118.6H120.0ZM157.4 114.3H161.1V118.6H157.4ZM167.6 114.3H185.0V118.6H167.6ZM188.1 114.3H195.2V118.6H188.1ZM205.1 114.3H208.8V118.6H205.1ZM215.3 114.3H219.0V118.6H215.3ZM222.1 114.3H225.8V118.6H222.1ZM228.9 114.3H236.0V118.6H228.9ZM211.9 118.3H215.6V122.5H211.9ZM218.7 118.3H222.4V122.5H218.7Z"/><path fill="#1010ff" d="M92.8 102.5H96.5V106.7H92.8ZM103.0 102.5H106.7V106.7H103.0ZM123.4 102.5H127.1V106.7H123.4ZM137.0 102.5H144.1V106.7H137.0ZM150.6 102.5H154.3V106.7H150.6ZM160.8 102.5H164.5V106.7H160.8ZM171.0 102.5H174.8V106.7H171.0ZM184.7 102.5H191.8V106.7H184.7ZM194.9 102.5H198.6V106.7H194.9ZM208.5 102.5H212.2V106.7H208.5ZM218.7 102.5H222.4V106.7H218.7ZM225.5 102.5H229.2V106.7H225.5ZM235.7 102.5H242.8V106.7H235.7ZM245.9 102.5H253.0V106.7H245.9ZM85.9 106.4H89.6V110.7H85.9ZM106.4 106.4H110.1V110.7H106.4ZM120.0 106.4H123.7V110.7H120.0ZM171.0 106.4H174.8V110.7H171.0ZM188.1 106.4H191.8V110.7H188.1ZM99.6 110.4H103.3V114.6H99.6ZM113.2 114.3H116.9V118.6H113.2ZM137.0 114.3H140.7V118.6H137.0ZM160.8 114.3H164.5V118.6H160.8ZM184.7 114.3H188.4V118.6H184.7ZM208.5 114.3H212.2V118.6H208.5ZM235.7 114.3H239.4V118.6H235.7ZM215.3 118.3H219.0V122.5H215.3ZM222.1 118.3H225.8V122.5H222.1Z"/><path fill="#1818ff" d="M99.6 102.5H103.3V106.7H99.6ZM126.8 102.5H133.9V106.7H126.8ZM143.8 102.5H147.5V106.7H143.8ZM154.0 102.5H157.7V106.7H154.0ZM177.9 102.5H181.6V106.7H177.9ZM198.3 102.5H202.0V106.7H198.3ZM228.9 102.5H232.6V106.7H228.9ZM256.2 102.5H259.9V106.7H256.2ZM252.7 110.4H259.9V114.6H252.7ZM99.6 114.3H110.1V118.6H99.6ZM123.4 114.3H127.1V118.6H123.4ZM140.4 114.3H144.1V118.6H140.4ZM147.2 114.3H150.9V118.6H147.2ZM194.9 114.3H198.6V118.6H194.9ZM201.7 118.3H212.2V122.5H201.7Z"/><path fill="#2020ff" d="M113.2 102.5H116.9V106.7H113.2ZM147.2 102.5H150.9V106.7H147.2ZM249.3 110.4H253.0V114.6H249.3ZM92.8 114.3H99.9V118.6H92.8ZM143.8 114.3H147.5V118.6H143.8ZM239.1 114.3H242.8V118.6H239.1ZM181.3 118.3H188.4V122.5H181.3ZM225.5 118.3H232.6V122.5H225.5Z"/><path fill="#4040ff" d="M259.6 110.4H263.3V114.6H259.6Z"/><path fill="#3030ff" d="M167.6 118.3H174.8V122.5H167.6ZM177.9 118.3H181.6V122.5H177.9ZM191.5 118.3H195.2V122.5H191.5Z"/></g>
<defs><clipPath id="clipA"><rect x="48.5" y="14" width="248.5" height="175.3"/></clipPath><clipPath id="clipB"><rect x="48.5" y="306.3" width="132.3" height="140.5"/></clipPath></defs>
<line x1="48.50" y1="94.60" x2="297.00" y2="94.60" stroke="#111" stroke-width="1.1"/>
<line x1="48.50" y1="84.80" x2="297.00" y2="84.80" stroke="#111" stroke-width="1.0" stroke-dasharray="4,1.8"/>
<line x1="48.50" y1="104.40" x2="297.00" y2="104.40" stroke="#111" stroke-width="1.0" stroke-dasharray="4,1.8"/>
<g clip-path="url(#clipA)" fill="none"><path d="M222.3,14 Q238.5,52 255.4,94.3 Q271.5,140 288.8,189.5" stroke="#111" stroke-width="1.3" stroke-dasharray="5,1.6,1.3,1.6"/><path d="M280.1,14 Q268,53 255.4,94.3 Q239,141 222.2,189.5" stroke="#e377c2" stroke-width="1.5" stroke-dasharray="4,1.8"/></g>
<polyline clip-path="url(#clipA)" points="79.3,108.5 82.3,113.4 85.3,118.2 88.2,122.7 91.2,127.1 94.2,131.4 97.2,135.4 100.1,139.3 103.1,142.9 106.1,146.4 109.1,149.8 112.1,152.9 115.0,155.9 118.0,158.6 121.0,161.2 124.0,163.7 126.9,165.9 129.9,168.0 132.9,169.9 135.9,171.6 138.9,173.1 141.8,174.5 144.8,175.6 147.8,176.6 150.8,177.4 153.7,178.1 156.7,178.5 159.7,178.8 162.7,178.9 165.7,178.8 168.6,178.6 171.6,178.1 174.6,177.5 177.6,176.7 180.6,175.7 183.5,174.6 186.5,173.2 189.5,171.7 192.5,170.0 195.4,168.1 198.4,166.1 201.4,163.9 204.4,161.4 207.4,158.9 210.3,156.1 213.3,153.1 216.3,150.0 219.3,146.7 222.2,143.2 225.2,139.5 228.2,135.7 231.2,131.7 234.2,127.5 237.1,123.1 240.1,118.5 243.1,113.8 246.1,108.9 249.0,103.8 252.0,98.5 255.0,93.0" fill="none" stroke="#2ca02c" stroke-width="1.6" stroke-dasharray="4,1.8"/>
<rect x="129.00" y="17.90" width="87.80" height="19.70" fill="#d3d3d3"/>
<text x="132.2" y="30.8" font-size="13.5" id="f1" textLength="80.46" lengthAdjust="spacingAndGlyphs"><tspan font-style="italic">V</tspan><tspan dy="2.97" font-size="9.4">g</tspan><tspan dy="-2.97"> = −630 mV</tspan></text>
<rect x="131.90" y="62.40" width="81.80" height="18.90" fill="#d3d3d3"/>
<text x="134.6" y="75.2" font-size="13.5" id="f2" textLength="75.38" lengthAdjust="spacingAndGlyphs"><tspan font-style="italic">V</tspan><tspan dy="2.97" font-size="9.4">sd</tspan><tspan dy="-2.97"> = 0.25mV</tspan></text>
<rect x="126.90" y="107.80" width="91.90" height="19.20" fill="#d3d3d3"/>
<text x="130.3" y="121.2" font-size="13.5" id="f3" textLength="83.13" lengthAdjust="spacingAndGlyphs"><tspan font-style="italic">V</tspan><tspan dy="2.97" font-size="9.4">sd</tspan><tspan dy="-2.97"> = −0.25mV</tspan></text>
<text x="71.8" y="81.8" font-size="19" id="f4" textLength="24.08" lengthAdjust="spacingAndGlyphs"><tspan font-style="italic">B</tspan><tspan dy="-7.60" font-size="13.3" dx="1.50">−</tspan></text>
<text x="247.6" y="81.7" font-size="19" id="f5" textLength="24.29" lengthAdjust="spacingAndGlyphs"><tspan font-style="italic">B</tspan><tspan dy="-5.80" font-size="14.5" dx="1.50">+</tspan></text>
<rect x="48.50" y="14.00" width="248.50" height="175.30" fill="none" stroke="#222" stroke-width="1.0"/>
<line x1="48.50" y1="30.40" x2="52.00" y2="30.40" stroke="#222" stroke-width="1"/>
<line x1="48.50" y1="94.80" x2="52.00" y2="94.80" stroke="#222" stroke-width="1"/>
<line x1="48.50" y1="160.50" x2="52.00" y2="160.50" stroke="#222" stroke-width="1"/>
<line x1="90.00" y1="189.30" x2="90.00" y2="185.80" stroke="#222" stroke-width="1"/>
<line x1="159.00" y1="189.30" x2="159.00" y2="185.80" stroke="#222" stroke-width="1"/>
<line x1="228.00" y1="189.30" x2="228.00" y2="185.80" stroke="#222" stroke-width="1"/>
<line x1="297.00" y1="189.30" x2="297.00" y2="185.80" stroke="#222" stroke-width="1"/>
<text x="7.0" y="28.4" font-size="19" font-weight="bold"><tspan>A</tspan></text>
<text x="45.8" y="37.4" font-size="19" text-anchor="end" id="f6" textLength="9.37" lengthAdjust="spacingAndGlyphs"><tspan>2</tspan></text>
<text x="45.4" y="101.8" font-size="19" text-anchor="end" id="f7" textLength="8.71" lengthAdjust="spacingAndGlyphs"><tspan>0</tspan></text>
<text x="45.1" y="167.3" font-size="19" text-anchor="end" id="f8" textLength="22.80" lengthAdjust="spacingAndGlyphs"><tspan>−2</tspan></text>
<text x="90.0" y="206.3" font-size="19" text-anchor="middle"><tspan>1</tspan></text>
<text x="159.0" y="206.3" font-size="19" text-anchor="middle"><tspan>2</tspan></text>
<text x="228.0" y="206.3" font-size="19" text-anchor="middle"><tspan>3</tspan></text>
<text x="297.0" y="206.3" font-size="19" text-anchor="middle"><tspan>4</tspan></text>
<text x="173.2" y="226.5" font-size="19" text-anchor="middle" id="f9" textLength="45.45" lengthAdjust="spacingAndGlyphs"><tspan font-style="italic">B</tspan><tspan> (T)</tspan></text>
<text x="13.6" y="103.0" font-size="19" text-anchor="middle" transform="rotate(-90 13.6 103.0)" id="f10" textLength="70.19" lengthAdjust="spacingAndGlyphs"><tspan font-style="italic">V</tspan><tspan dy="4.18" font-size="13.3">sd</tspan><tspan dy="-4.18"> (mV)</tspan></text>
<defs><linearGradient id="bwrV" x1="0" y1="0" x2="0" y2="1"><stop offset="0" stop-color="#ff0000"/><stop offset="0.5" stop-color="#ffffff"/><stop offset="1" stop-color="#0000ff"/></linearGradient><linearGradient id="bwrH" x1="0" y1="0" x2="1" y2="0"><stop offset="0" stop-color="#0000ff"/><stop offset="0.5" stop-color="#ffffff"/><stop offset="1" stop-color="#ff0000"/></linearGradient></defs>
<rect x="312.20" y="13.50" width="9.00" height="175.50" fill="url(#bwrV)"/>
<rect x="312.20" y="13.50" width="9.00" height="175.50" fill="none" stroke="#222" stroke-width="1.0"/>
<line x1="318.00" y1="43.50" x2="321.20" y2="43.50" stroke="#222" stroke-width="1"/>
<line x1="318.00" y1="101.20" x2="321.20" y2="101.20" stroke="#222" stroke-width="1"/>
<line x1="318.00" y1="160.80" x2="321.20" y2="160.80" stroke="#222" stroke-width="1"/>
<text x="323.6" y="50.3" font-size="19" id="f11" textLength="23.55" lengthAdjust="spacingAndGlyphs"><tspan>0.2</tspan></text>
<text x="323.1" y="108.0" font-size="19" id="f12" textLength="22.57" lengthAdjust="spacingAndGlyphs"><tspan>0.0</tspan></text>
<text x="324.6" y="167.6" font-size="19" id="f13" textLength="36.35" lengthAdjust="spacingAndGlyphs"><tspan>−0.2</tspan></text>
<text x="368.0" y="99.0" font-size="19" text-anchor="middle" transform="rotate(90 368.0 99.0)" id="f14" textLength="129.26" lengthAdjust="spacingAndGlyphs"><tspan>dG/dV</tspan><tspan dy="4.18" font-size="13.3">sd</tspan><tspan dy="-4.18"> (mS/V)</tspan></text>
<rect x="496.8" y="13.3" width="110.8" height="177.6" fill="#ffffb2"/>
<clipPath id="clipD"><rect x="446.1" y="13.3" width="211.4" height="177.6"/></clipPath>
<g clip-path="url(#clipD)" fill="#000"><circle cx="448.2" cy="29.4" r="2.3"/><circle cx="451.2" cy="30.8" r="2.3"/><circle cx="454.3" cy="32.4" r="2.3"/><circle cx="457.3" cy="34.1" r="2.3"/><circle cx="459.4" cy="36.5" r="2.3"/><circle cx="460.6" cy="40.8" r="2.3"/><circle cx="461.9" cy="45.1" r="2.3"/><circle cx="464.2" cy="50.2" r="2.3"/><circle cx="466.2" cy="55.8" r="2.3"/><circle cx="468.8" cy="56.8" r="2.3"/><circle cx="470.8" cy="57.9" r="2.3"/><circle cx="473.4" cy="59.4" r="2.3"/><circle cx="475.2" cy="62.2" r="2.3"/><circle cx="476.3" cy="65.2" r="2.3"/><circle cx="477.4" cy="68.1" r="2.3"/><circle cx="479.5" cy="72.7" r="2.3"/><circle cx="481.7" cy="76.2" r="2.3"/><circle cx="484.6" cy="77.8" r="2.3"/><circle cx="487.7" cy="79.8" r="2.3"/><circle cx="490.2" cy="80.3" r="2.3"/><circle cx="492.8" cy="80.3" r="2.3"/><circle cx="494.6" cy="77.8" r="2.3"/><circle cx="496.3" cy="75.2" r="2.3"/><circle cx="497.6" cy="80.3" r="2.3"/><circle cx="498.9" cy="85.4" r="2.3"/><circle cx="502.2" cy="87.1" r="2.3"/><circle cx="505.3" cy="89.6" r="2.3"/><circle cx="507.0" cy="92.1" r="2.3"/><circle cx="508.6" cy="95.4" r="2.3"/><circle cx="509.6" cy="99.2" r="2.3"/><circle cx="510.7" cy="102.9" r="2.3"/><circle cx="513.9" cy="103.9" r="2.3"/><circle cx="516.1" cy="108.2" r="2.3"/><circle cx="519.3" cy="111.4" r="2.3"/><circle cx="521.4" cy="113.6" r="2.3"/><circle cx="524.7" cy="116.8" r="2.3"/><circle cx="526.8" cy="120.0" r="2.3"/><circle cx="528.9" cy="123.2" r="2.3"/><circle cx="532.2" cy="126.4" r="2.3"/><circle cx="533.2" cy="129.7" r="2.3"/><circle cx="534.3" cy="132.9" r="2.3"/><circle cx="535.3" cy="136.7" r="2.3"/><circle cx="536.4" cy="140.4" r="2.3"/><circle cx="538.6" cy="145.7" r="2.3"/><circle cx="539.7" cy="150.0" r="2.3"/><circle cx="540.7" cy="154.3" r="2.3"/><circle cx="541.8" cy="159.2" r="2.3"/><circle cx="542.9" cy="164.0" r="2.3"/><circle cx="544.0" cy="167.2" r="2.3"/><circle cx="545.0" cy="170.4" r="2.3"/><circle cx="548.2" cy="174.7" r="2.3"/><circle cx="551.5" cy="176.8" r="2.3"/><circle cx="554.7" cy="175.8" r="2.3"/><circle cx="557.9" cy="171.5" r="2.3"/><circle cx="559.5" cy="167.8" r="2.3"/><circle cx="561.1" cy="164.0" r="2.3"/><circle cx="562.2" cy="160.2" r="2.3"/><circle cx="563.3" cy="156.5" r="2.3"/><circle cx="564.3" cy="153.2" r="2.3"/><circle cx="565.4" cy="150.0" r="2.3"/><circle cx="567.5" cy="144.7" r="2.3"/><circle cx="569.7" cy="141.5" r="2.3"/><circle cx="570.8" cy="137.8" r="2.3"/><circle cx="571.8" cy="134.0" r="2.3"/><circle cx="574.0" cy="128.6" r="2.3"/><circle cx="575.0" cy="125.4" r="2.3"/><circle cx="576.1" cy="122.2" r="2.3"/><circle cx="579.3" cy="120.0" r="2.3"/><circle cx="580.9" cy="115.7" r="2.3"/><circle cx="582.5" cy="111.4" r="2.3"/><circle cx="584.1" cy="109.1" r="2.3"/><circle cx="585.8" cy="110.4" r="2.3"/><circle cx="587.9" cy="107.1" r="2.3"/><circle cx="590.1" cy="105.0" r="2.3"/><circle cx="592.2" cy="99.6" r="2.3"/><circle cx="594.3" cy="97.5" r="2.3"/><circle cx="596.0" cy="94.8" r="2.3"/><circle cx="597.6" cy="92.1" r="2.3"/><circle cx="598.4" cy="90.7" r="2.3"/><circle cx="599.4" cy="86.1" r="2.3"/><circle cx="600.4" cy="81.5" r="2.3"/><circle cx="604.5" cy="80.5" r="2.3"/><circle cx="609.6" cy="78.4" r="2.3"/><circle cx="611.7" cy="74.4" r="2.3"/><circle cx="612.7" cy="71.3" r="2.3"/><circle cx="613.7" cy="68.2" r="2.3"/><circle cx="615.8" cy="63.1" r="2.3"/><circle cx="619.8" cy="61.1" r="2.3"/><circle cx="622.9" cy="59.0" r="2.3"/><circle cx="624.9" cy="54.9" r="2.3"/><circle cx="627.0" cy="49.8" r="2.3"/><circle cx="629.0" cy="53.4" r="2.3"/><circle cx="631.1" cy="57.0" r="2.3"/><circle cx="633.1" cy="52.9" r="2.3"/><circle cx="636.2" cy="51.9" r="2.3"/><circle cx="639.2" cy="52.9" r="2.3"/><circle cx="640.8" cy="57.0" r="2.3"/><circle cx="642.3" cy="61.1" r="2.3"/><circle cx="645.4" cy="60.0" r="2.3"/><circle cx="648.4" cy="59.0" r="2.3"/><circle cx="651.5" cy="56.0" r="2.3"/><circle cx="654.6" cy="51.9" r="2.3"/><circle cx="656.6" cy="47.8" r="2.3"/></g>
<polyline clip-path="url(#clipD)" points="446.1,26.3 447.4,27.4 448.8,28.6 450.1,29.7 451.4,30.9 452.7,32.1 454.1,33.3 455.4,34.5 456.7,35.7 458.1,36.9 459.4,38.1 460.7,39.4 462.1,40.6 463.4,41.9 464.7,43.1 466.0,44.4 467.4,45.7 468.7,47.0 470.0,48.3 471.4,49.7 472.7,51.0 474.0,52.4 475.4,53.7 476.7,55.1 478.0,56.5 479.3,57.9 480.7,59.4 482.0,60.8 483.3,62.3 484.7,63.7 486.0,65.2 487.3,66.7 488.6,68.3 490.0,69.8 491.3,71.4 492.6,73.0 494.0,74.6 495.3,76.2 496.6,77.9 498.0,79.6 499.3,81.3 500.6,83.0 501.9,84.7 503.3,86.5 504.6,88.3 505.9,90.2 507.3,92.0 508.6,93.9 509.9,95.9 511.2,97.8 512.6,99.8 513.9,101.9 515.2,104.0 516.6,106.1 517.9,108.3 519.2,110.5 520.6,112.8 521.9,115.1 523.2,117.5 524.5,119.9 525.9,122.4 527.2,125.0 528.5,127.7 529.9,130.4 531.2,133.2 532.5,136.1 533.9,139.2 535.2,142.3 536.5,145.5 537.8,148.9 539.2,152.4 540.5,156.0 541.8,159.8 543.2,163.7 544.5,167.8 545.8,172.0 547.1,176.2 548.5,180.2 549.8,183.7 551.1,186.3 552.5,187.2 553.8,186.4 555.1,183.9 556.5,180.4 557.8,176.4 559.1,172.2 560.4,168.0 561.8,163.9 563.1,160.0 564.4,156.2 565.8,152.6 567.1,149.0 568.4,145.7 569.7,142.4 571.1,139.3 572.4,136.3 573.7,133.4 575.1,130.6 576.4,127.8 577.7,125.2 579.1,122.6 580.4,120.1 581.7,117.6 583.0,115.2 584.4,112.9 585.7,110.6 587.0,108.4 588.4,106.2 589.7,104.1 591.0,102.0 592.4,100.0 593.7,97.9 595.0,96.0 596.3,94.0 597.7,92.1 599.0,90.3 600.3,88.4 601.7,86.6 603.0,84.8 604.3,83.1 605.6,81.3 607.0,79.6 608.3,78.0 609.6,76.3 611.0,74.7 612.3,73.1 613.6,71.5 615.0,69.9 616.3,68.4 617.6,66.8 618.9,65.3 620.3,63.8 621.6,62.3 622.9,60.9 624.3,59.4 625.6,58.0 626.9,56.6 628.2,55.2 629.6,53.8 630.9,52.4 632.2,51.1 633.6,49.7 634.9,48.4 636.2,47.1 637.6,45.8 638.9,44.5 640.2,43.2 641.5,41.9 642.9,40.7 644.2,39.4 645.5,38.2 646.9,37.0 648.2,35.7 649.5,34.5 650.9,33.3 652.2,32.2 653.5,31.0 654.8,29.8 656.2,28.7 657.5,27.5" fill="none" stroke="#1f77b4" stroke-width="2" stroke-dasharray="5.5,3"/>
<rect x="446.10" y="13.30" width="211.40" height="177.60" fill="none" stroke="#222" stroke-width="1.0"/>
<line x1="446.10" y1="28.60" x2="449.60" y2="28.60" stroke="#222" stroke-width="1"/>
<line x1="446.10" y1="105.60" x2="449.60" y2="105.60" stroke="#222" stroke-width="1"/>
<line x1="446.10" y1="183.00" x2="449.60" y2="183.00" stroke="#222" stroke-width="1"/>
<line x1="497.30" y1="190.90" x2="497.30" y2="187.40" stroke="#222" stroke-width="1"/>
<line x1="552.60" y1="190.90" x2="552.60" y2="187.40" stroke="#222" stroke-width="1"/>
<line x1="607.60" y1="190.90" x2="607.60" y2="187.40" stroke="#222" stroke-width="1"/>
<text x="443.6" y="36.0" font-size="19" text-anchor="end" id="f15" textLength="24.36" lengthAdjust="spacingAndGlyphs"><tspan>0.3</tspan></text>
<text x="443.9" y="113.0" font-size="19" text-anchor="end" id="f16" textLength="22.86" lengthAdjust="spacingAndGlyphs"><tspan>0.2</tspan></text>
<text x="443.4" y="190.4" font-size="19" text-anchor="end" id="f17" textLength="23.75" lengthAdjust="spacingAndGlyphs"><tspan>0.1</tspan></text>
<text x="497.0" y="208.2" font-size="19" text-anchor="middle" id="f18" textLength="46.40" lengthAdjust="spacingAndGlyphs"><tspan>−0.25</tspan></text>
<text x="551.0" y="208.2" font-size="19" text-anchor="middle" id="f19" textLength="31.27" lengthAdjust="spacingAndGlyphs"><tspan>0.00</tspan></text>
<text x="606.1" y="208.2" font-size="19" text-anchor="middle" id="f20" textLength="31.62" lengthAdjust="spacingAndGlyphs"><tspan>0.25</tspan></text>
<text x="550.7" y="229.7" font-size="19" text-anchor="middle" id="f21" textLength="72.89" lengthAdjust="spacingAndGlyphs"><tspan font-style="italic">V</tspan><tspan dy="4.18" font-size="13.3">sd</tspan><tspan dy="-4.18"> (mV)</tspan></text>
<text x="412.0" y="101.5" font-size="19" text-anchor="middle" transform="rotate(-90 412.0 101.5)" id="f22" textLength="54.88" lengthAdjust="spacingAndGlyphs"><tspan font-style="italic">G</tspan><tspan> (</tspan><tspan font-style="italic">μ</tspan><tspan>S)</tspan></text>
<text x="462.4" y="31.5" font-size="14.5" id="f23" textLength="186.81" lengthAdjust="spacingAndGlyphs"><tspan font-style="italic">V</tspan><tspan dy="3.19" font-size="10.1">g</tspan><tspan dy="-3.19"> = −650 mV,</tspan><tspan font-style="italic" dx="8.00">T</tspan><tspan> = 177 mK</tspan></text>
<text x="398.8" y="13.7" font-size="19" font-weight="bold"><tspan>D</tspan></text>
<g shape-rendering="crispEdges"><path fill="#f8f8ff" d="M48.5 306.3H51.6V310.1H48.5ZM54.0 306.3H59.8V310.1H54.0ZM62.3 306.3H70.8V310.1H62.3ZM48.5 309.8H57.1V313.6H48.5ZM59.5 309.8H62.6V313.6H59.5ZM65.0 309.8H68.1V313.6H65.0ZM89.8 309.8H92.9V313.6H89.8ZM48.5 313.3H54.3V317.1H48.5ZM65.0 313.3H73.6V317.1H65.0ZM78.8 313.3H81.9V317.1H78.8ZM48.5 316.8H51.6V320.7H48.5ZM56.8 316.8H59.8V320.7H56.8ZM65.0 316.8H68.1V320.7H65.0ZM70.5 316.8H76.4V320.7H70.5ZM161.5 316.8H164.6V320.7H161.5ZM48.5 320.4H51.6V324.2H48.5ZM54.0 320.4H57.1V324.2H54.0ZM59.5 320.4H62.6V324.2H59.5ZM70.5 320.4H73.6V324.2H70.5ZM95.4 320.4H98.4V324.2H95.4ZM59.5 323.9H68.1V327.7H59.5ZM76.1 323.9H79.1V327.7H76.1ZM98.1 323.9H101.2V327.7H98.1ZM54.0 327.4H57.1V331.2H54.0ZM109.1 348.5H112.2V352.3H109.1ZM156.0 348.5H159.1V352.3H156.0ZM172.5 366.0H175.6V369.8H172.5ZM51.3 394.1H54.3V397.9H51.3ZM78.8 422.2H81.9V426.0H78.8ZM78.8 425.7H81.9V429.5H78.8ZM67.8 429.2H70.8V433.1H67.8ZM54.0 432.8H57.1V436.6H54.0ZM62.3 432.8H65.3V436.6H62.3ZM67.8 432.8H70.8V436.6H67.8ZM48.5 436.3H51.6V440.1H48.5ZM56.8 436.3H62.6V440.1H56.8ZM65.0 436.3H68.1V440.1H65.0ZM70.5 436.3H76.4V440.1H70.5ZM51.3 439.8H54.3V443.6H51.3ZM67.8 439.8H70.8V443.6H67.8ZM73.3 439.8H76.4V443.6H73.3Z"/><path fill="#f0f0ff" d="M51.3 306.3H54.3V310.1H51.3ZM56.8 309.8H59.8V313.6H56.8ZM62.3 309.8H65.3V313.6H62.3ZM67.8 309.8H70.8V313.6H67.8ZM92.6 309.8H95.7V313.6H92.6ZM167.0 309.8H170.1V313.6H167.0ZM54.0 313.3H65.3V317.1H54.0ZM92.6 313.3H95.7V317.1H92.6ZM178.0 313.3H181.1V317.1H178.0ZM51.3 316.8H54.3V320.7H51.3ZM59.5 316.8H62.6V320.7H59.5ZM67.8 316.8H70.8V320.7H67.8ZM95.4 316.8H98.4V320.7H95.4ZM175.3 316.8H178.3V320.7H175.3ZM62.3 320.4H68.1V324.2H62.3ZM73.3 320.4H76.4V324.2H73.3ZM98.1 320.4H101.2V324.2H98.1ZM161.5 323.9H164.6V327.7H161.5ZM100.9 330.9H103.9V334.7H100.9ZM103.6 334.4H106.7V338.2H103.6ZM167.0 334.4H170.1V338.2H167.0ZM161.5 337.9H164.6V341.7H161.5ZM106.4 341.4H109.4V345.2H106.4ZM153.2 341.4H156.3V345.2H153.2ZM178.0 344.9H181.1V348.8H178.0ZM158.8 348.5H161.8V352.3H158.8ZM150.5 352.0H153.5V355.8H150.5ZM167.0 352.0H170.1V355.8H167.0ZM111.9 355.5H115.0V359.3H111.9ZM167.0 355.5H172.8V359.3H167.0ZM175.3 359.0H178.3V362.8H175.3ZM114.7 362.5H117.7V366.3H114.7ZM156.0 362.5H159.1V366.3H156.0ZM161.5 362.5H164.6V366.3H161.5ZM175.3 362.5H181.1V366.3H175.3ZM153.2 369.5H159.1V373.3H153.2ZM167.0 369.5H170.1V373.3H167.0ZM161.5 373.0H164.6V376.9H161.5ZM167.0 373.0H172.8V376.9H167.0ZM167.0 376.6H170.1V380.4H167.0ZM109.1 394.1H112.2V397.9H109.1ZM175.3 397.6H178.3V401.4H175.3ZM100.9 404.7H103.9V408.5H100.9ZM95.4 411.7H98.4V415.5H95.4ZM92.6 415.2H95.7V419.0H92.6ZM161.5 415.2H164.6V419.0H161.5ZM169.8 418.7H172.8V422.5H169.8ZM81.6 422.2H84.6V426.0H81.6ZM87.1 422.2H90.1V426.0H87.1ZM76.1 429.2H84.6V433.1H76.1ZM65.0 432.8H68.1V436.6H65.0ZM70.5 432.8H79.1V436.6H70.5ZM169.8 432.8H172.8V436.6H169.8ZM62.3 436.3H65.3V440.1H62.3ZM67.8 436.3H70.8V440.1H67.8ZM76.1 436.3H79.1V440.1H76.1ZM48.5 439.8H51.6V443.6H48.5ZM54.0 439.8H62.6V443.6H54.0ZM76.1 439.8H79.1V443.6H76.1ZM48.5 443.3H59.8V447.1H48.5ZM62.3 443.3H76.4V447.1H62.3Z"/><path fill="#ffffff" d="M59.5 306.3H62.6V310.1H59.5ZM70.5 306.3H73.6V310.1H70.5ZM78.8 306.3H84.6V310.1H78.8ZM73.3 309.8H76.4V313.6H73.3ZM62.3 316.8H65.3V320.7H62.3ZM78.8 316.8H81.9V320.7H78.8ZM92.6 316.8H95.7V320.7H92.6ZM51.3 320.4H54.3V324.2H51.3ZM76.1 320.4H79.1V324.2H76.1ZM48.5 323.9H51.6V327.7H48.5ZM54.0 323.9H59.8V327.7H54.0ZM73.3 323.9H76.4V327.7H73.3ZM48.5 327.4H51.6V331.2H48.5ZM59.5 327.4H68.1V331.2H59.5ZM76.1 327.4H79.1V331.2H76.1ZM67.8 330.9H70.8V334.7H67.8ZM76.1 330.9H79.1V334.7H76.1ZM103.6 337.9H106.7V341.7H103.6ZM59.5 348.5H62.6V352.3H59.5ZM70.5 362.5H73.6V366.3H70.5ZM114.7 383.6H117.7V387.4H114.7ZM59.5 408.2H65.3V412.0H59.5ZM48.5 411.7H51.6V415.5H48.5ZM48.5 415.2H51.6V419.0H48.5ZM67.8 415.2H70.8V419.0H67.8ZM54.0 418.7H57.1V422.5H54.0ZM76.1 418.7H81.9V422.5H76.1ZM87.1 418.7H90.1V422.5H87.1ZM51.3 422.2H54.3V426.0H51.3ZM84.3 422.2H87.4V426.0H84.3ZM84.3 425.7H87.4V429.5H84.3ZM73.3 429.2H76.4V433.1H73.3ZM48.5 432.8H51.6V436.6H48.5ZM51.3 436.3H54.3V440.1H51.3ZM59.5 443.3H62.6V447.1H59.5Z"/><path fill="#fff8f8" d="M73.3 306.3H79.1V310.1H73.3ZM87.1 306.3H90.1V310.1H87.1ZM70.5 309.8H73.6V313.6H70.5ZM78.8 309.8H81.9V313.6H78.8ZM87.1 309.8H90.1V313.6H87.1ZM73.3 313.3H79.1V317.1H73.3ZM87.1 313.3H92.9V317.1H87.1ZM54.0 316.8H57.1V320.7H54.0ZM81.6 316.8H92.9V320.7H81.6ZM56.8 320.4H59.8V324.2H56.8ZM67.8 320.4H70.8V324.2H67.8ZM78.8 320.4H81.9V324.2H78.8ZM84.3 320.4H87.4V324.2H84.3ZM92.6 320.4H95.7V324.2H92.6ZM51.3 323.9H54.3V327.7H51.3ZM67.8 323.9H73.6V327.7H67.8ZM78.8 323.9H87.4V327.7H78.8ZM95.4 323.9H98.4V327.7H95.4ZM51.3 327.4H54.3V331.2H51.3ZM56.8 327.4H59.8V331.2H56.8ZM67.8 327.4H76.4V331.2H67.8ZM81.6 327.4H84.6V331.2H81.6ZM98.1 327.4H101.2V331.2H98.1ZM48.5 330.9H51.6V334.7H48.5ZM54.0 330.9H57.1V334.7H54.0ZM70.5 330.9H76.4V334.7H70.5ZM78.8 330.9H87.4V334.7H78.8ZM98.1 330.9H101.2V334.7H98.1ZM48.5 334.4H54.3V338.2H48.5ZM56.8 334.4H59.8V338.2H56.8ZM70.5 334.4H73.6V338.2H70.5ZM78.8 334.4H81.9V338.2H78.8ZM98.1 334.4H101.2V338.2H98.1ZM51.3 337.9H54.3V341.7H51.3ZM59.5 337.9H62.6V341.7H59.5ZM84.3 337.9H87.4V341.7H84.3ZM100.9 337.9H103.9V341.7H100.9ZM73.3 341.4H79.1V345.2H73.3ZM103.6 341.4H106.7V345.2H103.6ZM67.8 344.9H70.8V348.8H67.8ZM81.6 344.9H87.4V348.8H81.6ZM48.5 348.5H51.6V352.3H48.5ZM56.8 348.5H59.8V352.3H56.8ZM73.3 348.5H76.4V352.3H73.3ZM67.8 352.0H70.8V355.8H67.8ZM76.1 352.0H79.1V355.8H76.1ZM70.5 355.5H73.6V359.3H70.5ZM111.9 359.0H115.0V362.8H111.9ZM67.8 362.5H70.8V366.3H67.8ZM76.1 362.5H79.1V366.3H76.1ZM67.8 366.0H70.8V369.8H67.8ZM114.7 366.0H117.7V369.8H114.7ZM48.5 369.5H51.6V373.3H48.5ZM54.0 369.5H59.8V373.3H54.0ZM54.0 373.0H57.1V376.9H54.0ZM62.3 373.0H68.1V376.9H62.3ZM76.1 373.0H79.1V376.9H76.1ZM87.1 373.0H90.1V376.9H87.1ZM51.3 376.6H54.3V380.4H51.3ZM48.5 380.1H51.6V383.9H48.5ZM54.0 380.1H57.1V383.9H54.0ZM62.3 383.6H65.3V387.4H62.3ZM51.3 387.1H54.3V390.9H51.3ZM65.0 387.1H70.8V390.9H65.0ZM111.9 387.1H115.0V390.9H111.9ZM56.8 390.6H59.8V394.4H56.8ZM65.0 390.6H68.1V394.4H65.0ZM109.1 390.6H112.2V394.4H109.1ZM54.0 394.1H57.1V397.9H54.0ZM62.3 394.1H65.3V397.9H62.3ZM56.8 397.6H62.6V401.4H56.8ZM54.0 401.1H59.8V405.0H54.0ZM67.8 401.1H73.6V405.0H67.8ZM48.5 404.7H57.1V408.5H48.5ZM78.8 404.7H81.9V408.5H78.8ZM65.0 408.2H68.1V412.0H65.0ZM70.5 408.2H73.6V412.0H70.5ZM76.1 411.7H79.1V415.5H76.1ZM84.3 411.7H90.1V415.5H84.3ZM92.6 411.7H95.7V415.5H92.6ZM54.0 415.2H57.1V419.0H54.0ZM59.5 415.2H65.3V419.0H59.5ZM73.3 415.2H76.4V419.0H73.3ZM87.1 415.2H92.9V419.0H87.1ZM56.8 418.7H59.8V422.5H56.8ZM65.0 418.7H68.1V422.5H65.0ZM73.3 418.7H76.4V422.5H73.3ZM56.8 422.2H59.8V426.0H56.8ZM67.8 422.2H73.6V426.0H67.8ZM76.1 422.2H79.1V426.0H76.1ZM48.5 425.7H51.6V429.5H48.5ZM65.0 425.7H68.1V429.5H65.0ZM70.5 425.7H73.6V429.5H70.5ZM76.1 425.7H79.1V429.5H76.1ZM48.5 429.2H51.6V433.1H48.5ZM56.8 429.2H59.8V433.1H56.8ZM62.3 429.2H65.3V433.1H62.3ZM70.5 429.2H73.6V433.1H70.5ZM56.8 432.8H62.6V436.6H56.8Z"/><path fill="#ffe8e8" d="M84.3 306.3H87.4V310.1H84.3ZM84.3 327.4H87.4V331.2H84.3ZM51.3 330.9H54.3V334.7H51.3ZM54.0 334.4H57.1V338.2H54.0ZM76.1 334.4H79.1V338.2H76.1ZM87.1 334.4H90.1V338.2H87.1ZM48.5 337.9H51.6V341.7H48.5ZM62.3 337.9H65.3V341.7H62.3ZM67.8 337.9H70.8V341.7H67.8ZM78.8 337.9H84.6V341.7H78.8ZM89.8 337.9H92.9V341.7H89.8ZM95.4 337.9H98.4V341.7H95.4ZM62.3 341.4H65.3V345.2H62.3ZM70.5 341.4H73.6V345.2H70.5ZM78.8 341.4H84.6V345.2H78.8ZM87.1 341.4H90.1V345.2H87.1ZM56.8 344.9H68.1V348.8H56.8ZM73.3 344.9H79.1V348.8H73.3ZM87.1 344.9H98.4V348.8H87.1ZM51.3 348.5H54.3V352.3H51.3ZM62.3 348.5H65.3V352.3H62.3ZM70.5 348.5H73.6V352.3H70.5ZM81.6 348.5H87.4V352.3H81.6ZM92.6 348.5H95.7V352.3H92.6ZM103.6 348.5H106.7V352.3H103.6ZM48.5 352.0H51.6V355.8H48.5ZM54.0 352.0H59.8V355.8H54.0ZM62.3 352.0H68.1V355.8H62.3ZM56.8 355.5H59.8V359.3H56.8ZM67.8 355.5H70.8V359.3H67.8ZM78.8 355.5H81.9V359.3H78.8ZM87.1 355.5H90.1V359.3H87.1ZM100.9 355.5H103.9V359.3H100.9ZM109.1 355.5H112.2V359.3H109.1ZM48.5 359.0H54.3V362.8H48.5ZM56.8 359.0H59.8V362.8H56.8ZM65.0 359.0H73.6V362.8H65.0ZM78.8 359.0H81.9V362.8H78.8ZM84.3 359.0H87.4V362.8H84.3ZM89.8 359.0H95.7V362.8H89.8ZM54.0 362.5H59.8V366.3H54.0ZM62.3 362.5H68.1V366.3H62.3ZM87.1 362.5H90.1V366.3H87.1ZM54.0 366.0H57.1V369.8H54.0ZM59.5 366.0H65.3V369.8H59.5ZM73.3 366.0H76.4V369.8H73.3ZM78.8 366.0H81.9V369.8H78.8ZM87.1 366.0H92.9V369.8H87.1ZM59.5 369.5H62.6V373.3H59.5ZM65.0 369.5H68.1V373.3H65.0ZM76.1 369.5H79.1V373.3H76.1ZM89.8 369.5H98.4V373.3H89.8ZM114.7 369.5H117.7V373.3H114.7ZM56.8 373.0H59.8V376.9H56.8ZM73.3 373.0H76.4V376.9H73.3ZM92.6 373.0H95.7V376.9H92.6ZM62.3 376.6H68.1V380.4H62.3ZM73.3 376.6H76.4V380.4H73.3ZM109.1 376.6H112.2V380.4H109.1ZM114.7 376.6H117.7V380.4H114.7ZM56.8 380.1H59.8V383.9H56.8ZM65.0 380.1H68.1V383.9H65.0ZM76.1 380.1H79.1V383.9H76.1ZM70.5 383.6H73.6V387.4H70.5ZM78.8 383.6H81.9V387.4H78.8ZM73.3 387.1H79.1V390.9H73.3ZM109.1 387.1H112.2V390.9H109.1ZM48.5 390.6H51.6V394.4H48.5ZM62.3 390.6H65.3V394.4H62.3ZM76.1 390.6H79.1V394.4H76.1ZM81.6 390.6H87.4V394.4H81.6ZM56.8 394.1H62.6V397.9H56.8ZM73.3 394.1H76.4V397.9H73.3ZM78.8 394.1H90.1V397.9H78.8ZM51.3 397.6H54.3V401.4H51.3ZM78.8 397.6H81.9V401.4H78.8ZM84.3 397.6H87.4V401.4H84.3ZM95.4 397.6H98.4V401.4H95.4ZM103.6 397.6H106.7V401.4H103.6ZM51.3 401.1H54.3V405.0H51.3ZM62.3 401.1H68.1V405.0H62.3ZM78.8 401.1H84.6V405.0H78.8ZM87.1 401.1H90.1V405.0H87.1ZM59.5 404.7H62.6V408.5H59.5ZM67.8 404.7H70.8V408.5H67.8ZM76.1 404.7H79.1V408.5H76.1ZM81.6 404.7H84.6V408.5H81.6ZM87.1 404.7H95.7V408.5H87.1ZM81.6 408.2H84.6V412.0H81.6ZM87.1 408.2H92.9V412.0H87.1ZM56.8 411.7H59.8V415.5H56.8ZM81.6 411.7H84.6V415.5H81.6ZM56.8 415.2H59.8V419.0H56.8ZM70.5 415.2H73.6V419.0H70.5ZM78.8 415.2H81.9V419.0H78.8ZM51.3 418.7H54.3V422.5H51.3ZM59.5 418.7H62.6V422.5H59.5ZM67.8 418.7H73.6V422.5H67.8ZM48.5 422.2H51.6V426.0H48.5ZM54.0 422.2H57.1V426.0H54.0Z"/><path fill="#e8e8ff" d="M89.8 306.3H92.9V310.1H89.8ZM167.0 306.3H170.1V310.1H167.0ZM172.5 306.3H178.3V310.1H172.5ZM178.0 309.8H181.1V313.6H178.0ZM164.3 313.3H167.3V317.1H164.3ZM172.5 313.3H178.3V317.1H172.5ZM169.8 316.8H175.6V320.7H169.8ZM178.0 316.8H181.1V320.7H178.0ZM125.7 320.4H128.7V324.2H125.7ZM169.8 320.4H175.6V324.2H169.8ZM100.9 323.9H103.9V327.7H100.9ZM164.3 323.9H172.8V327.7H164.3ZM175.3 323.9H178.3V327.7H175.3ZM100.9 327.4H103.9V331.2H100.9ZM169.8 327.4H172.8V331.2H169.8ZM175.3 327.4H178.3V331.2H175.3ZM158.8 330.9H161.8V334.7H158.8ZM164.3 330.9H175.6V334.7H164.3ZM161.5 334.4H164.6V338.2H161.5ZM169.8 334.4H175.6V338.2H169.8ZM178.0 334.4H181.1V338.2H178.0ZM164.3 337.9H172.8V341.7H164.3ZM175.3 337.9H178.3V341.7H175.3ZM158.8 341.4H161.8V345.2H158.8ZM169.8 341.4H175.6V345.2H169.8ZM150.5 344.9H159.1V348.8H150.5ZM164.3 344.9H167.3V348.8H164.3ZM172.5 344.9H178.3V348.8H172.5ZM153.2 348.5H156.3V352.3H153.2ZM161.5 348.5H167.3V352.3H161.5ZM169.8 348.5H172.8V352.3H169.8ZM175.3 348.5H181.1V352.3H175.3ZM153.2 352.0H156.3V355.8H153.2ZM169.8 352.0H172.8V355.8H169.8ZM178.0 352.0H181.1V355.8H178.0ZM153.2 355.5H161.8V359.3H153.2ZM172.5 355.5H175.6V359.3H172.5ZM178.0 355.5H181.1V359.3H178.0ZM153.2 359.0H156.3V362.8H153.2ZM158.8 359.0H161.8V362.8H158.8ZM164.3 359.0H175.6V362.8H164.3ZM145.0 362.5H148.0V366.3H145.0ZM150.5 362.5H156.3V366.3H150.5ZM164.3 362.5H175.6V366.3H164.3ZM147.7 366.0H153.5V369.8H147.7ZM175.3 366.0H178.3V369.8H175.3ZM117.4 369.5H120.5V373.3H117.4ZM158.8 369.5H161.8V373.3H158.8ZM164.3 369.5H167.3V373.3H164.3ZM175.3 369.5H181.1V373.3H175.3ZM117.4 373.0H120.5V376.9H117.4ZM150.5 373.0H153.5V376.9H150.5ZM156.0 373.0H161.8V376.9H156.0ZM164.3 373.0H167.3V376.9H164.3ZM175.3 373.0H181.1V376.9H175.3ZM153.2 376.6H156.3V380.4H153.2ZM161.5 376.6H164.6V380.4H161.5ZM145.0 380.1H148.0V383.9H145.0ZM153.2 380.1H159.1V383.9H153.2ZM161.5 380.1H164.6V383.9H161.5ZM167.0 380.1H170.1V383.9H167.0ZM156.0 383.6H159.1V387.4H156.0ZM164.3 383.6H167.3V387.4H164.3ZM150.5 387.1H153.5V390.9H150.5ZM156.0 387.1H164.6V390.9H156.0ZM150.5 390.6H153.5V394.4H150.5ZM156.0 390.6H159.1V394.4H156.0ZM161.5 390.6H170.1V394.4H161.5ZM161.5 394.1H167.3V397.9H161.5ZM169.8 394.1H172.8V397.9H169.8ZM106.4 397.6H109.4V401.4H106.4ZM169.8 397.6H175.6V401.4H169.8ZM103.6 401.1H106.7V405.0H103.6ZM150.5 401.1H153.5V405.0H150.5ZM161.5 401.1H164.6V405.0H161.5ZM167.0 401.1H172.8V405.0H167.0ZM178.0 401.1H181.1V405.0H178.0ZM153.2 404.7H156.3V408.5H153.2ZM98.1 408.2H101.2V412.0H98.1ZM153.2 408.2H159.1V412.0H153.2ZM161.5 408.2H164.6V412.0H161.5ZM161.5 411.7H170.1V415.5H161.5ZM175.3 411.7H178.3V415.5H175.3ZM172.5 415.2H175.6V419.0H172.5ZM89.8 418.7H92.9V422.5H89.8ZM175.3 418.7H178.3V422.5H175.3ZM167.0 422.2H170.1V426.0H167.0ZM178.0 422.2H181.1V426.0H178.0ZM81.6 425.7H84.6V429.5H81.6ZM87.1 425.7H90.1V429.5H87.1ZM161.5 425.7H164.6V429.5H161.5ZM167.0 425.7H175.6V429.5H167.0ZM178.0 425.7H181.1V429.5H178.0ZM172.5 429.2H175.6V433.1H172.5ZM178.0 429.2H181.1V433.1H178.0ZM78.8 432.8H84.6V436.6H78.8ZM54.0 436.3H57.1V440.1H54.0ZM78.8 436.3H81.9V440.1H78.8ZM169.8 436.3H172.8V440.1H169.8ZM175.3 436.3H181.1V440.1H175.3ZM62.3 439.8H68.1V443.6H62.3ZM70.5 439.8H73.6V443.6H70.5ZM78.8 439.8H81.9V443.6H78.8ZM76.1 443.3H79.1V447.1H76.1ZM175.3 443.3H178.3V447.1H175.3Z"/><path fill="#e0e0ff" d="M92.6 306.3H95.7V310.1H92.6ZM158.8 306.3H164.6V310.1H158.8ZM169.8 306.3H172.8V310.1H169.8ZM161.5 309.8H167.3V313.6H161.5ZM169.8 309.8H175.6V313.6H169.8ZM114.7 313.3H117.7V317.1H114.7ZM158.8 313.3H164.6V317.1H158.8ZM167.0 313.3H172.8V317.1H167.0ZM98.1 316.8H101.2V320.7H98.1ZM117.4 316.8H120.5V320.7H117.4ZM128.4 316.8H131.5V320.7H128.4ZM164.3 316.8H170.1V320.7H164.3ZM100.9 320.4H103.9V324.2H100.9ZM156.0 320.4H170.1V324.2H156.0ZM175.3 320.4H181.1V324.2H175.3ZM178.0 323.9H181.1V327.7H178.0ZM103.6 327.4H109.4V331.2H103.6ZM158.8 327.4H170.1V331.2H158.8ZM172.5 327.4H175.6V331.2H172.5ZM178.0 327.4H181.1V331.2H178.0ZM103.6 330.9H106.7V334.7H103.6ZM161.5 330.9H164.6V334.7H161.5ZM175.3 330.9H181.1V334.7H175.3ZM106.4 334.4H109.4V338.2H106.4ZM156.0 334.4H161.8V338.2H156.0ZM175.3 334.4H178.3V338.2H175.3ZM120.2 337.9H123.2V341.7H120.2ZM153.2 337.9H156.3V341.7H153.2ZM158.8 337.9H161.8V341.7H158.8ZM172.5 337.9H175.6V341.7H172.5ZM178.0 337.9H181.1V341.7H178.0ZM156.0 341.4H159.1V345.2H156.0ZM161.5 341.4H167.3V345.2H161.5ZM178.0 341.4H181.1V345.2H178.0ZM109.1 344.9H112.2V348.8H109.1ZM158.8 344.9H164.6V348.8H158.8ZM167.0 344.9H172.8V348.8H167.0ZM147.7 348.5H153.5V352.3H147.7ZM172.5 348.5H175.6V352.3H172.5ZM111.9 352.0H115.0V355.8H111.9ZM147.7 352.0H150.8V355.8H147.7ZM156.0 352.0H161.8V355.8H156.0ZM164.3 352.0H167.3V355.8H164.3ZM172.5 352.0H178.3V355.8H172.5ZM150.5 355.5H153.5V359.3H150.5ZM161.5 355.5H167.3V359.3H161.5ZM175.3 355.5H178.3V359.3H175.3ZM150.5 359.0H153.5V362.8H150.5ZM156.0 359.0H159.1V362.8H156.0ZM178.0 359.0H181.1V362.8H178.0ZM158.8 362.5H161.8V366.3H158.8ZM145.0 366.0H148.0V369.8H145.0ZM153.2 366.0H159.1V369.8H153.2ZM164.3 366.0H172.8V369.8H164.3ZM178.0 366.0H181.1V369.8H178.0ZM147.7 369.5H153.5V373.3H147.7ZM161.5 369.5H164.6V373.3H161.5ZM169.8 369.5H175.6V373.3H169.8ZM145.0 373.0H150.8V376.9H145.0ZM153.2 373.0H156.3V376.9H153.2ZM117.4 376.6H120.5V380.4H117.4ZM139.5 376.6H148.0V380.4H139.5ZM150.5 376.6H153.5V380.4H150.5ZM156.0 376.6H161.8V380.4H156.0ZM164.3 376.6H167.3V380.4H164.3ZM169.8 376.6H178.3V380.4H169.8ZM150.5 380.1H153.5V383.9H150.5ZM158.8 380.1H161.8V383.9H158.8ZM169.8 380.1H172.8V383.9H169.8ZM178.0 380.1H181.1V383.9H178.0ZM145.0 383.6H156.3V387.4H145.0ZM158.8 383.6H164.6V387.4H158.8ZM172.5 383.6H181.1V387.4H172.5ZM114.7 387.1H117.7V390.9H114.7ZM153.2 387.1H156.3V390.9H153.2ZM164.3 387.1H170.1V390.9H164.3ZM172.5 387.1H181.1V390.9H172.5ZM111.9 390.6H115.0V394.4H111.9ZM147.7 390.6H150.8V394.4H147.7ZM153.2 390.6H156.3V394.4H153.2ZM158.8 390.6H161.8V394.4H158.8ZM169.8 390.6H172.8V394.4H169.8ZM178.0 390.6H181.1V394.4H178.0ZM147.7 394.1H153.5V397.9H147.7ZM158.8 394.1H161.8V397.9H158.8ZM167.0 394.1H170.1V397.9H167.0ZM172.5 394.1H181.1V397.9H172.5ZM150.5 397.6H156.3V401.4H150.5ZM161.5 397.6H170.1V401.4H161.5ZM153.2 401.1H156.3V405.0H153.2ZM158.8 401.1H161.8V405.0H158.8ZM175.3 401.1H178.3V405.0H175.3ZM103.6 404.7H106.7V408.5H103.6ZM156.0 404.7H159.1V408.5H156.0ZM161.5 404.7H164.6V408.5H161.5ZM169.8 404.7H181.1V408.5H169.8ZM158.8 408.2H161.8V412.0H158.8ZM164.3 408.2H181.1V412.0H164.3ZM153.2 411.7H159.1V415.5H153.2ZM169.8 411.7H175.6V415.5H169.8ZM95.4 415.2H98.4V419.0H95.4ZM158.8 415.2H161.8V419.0H158.8ZM164.3 415.2H167.3V419.0H164.3ZM175.3 415.2H181.1V419.0H175.3ZM158.8 418.7H170.1V422.5H158.8ZM178.0 418.7H181.1V422.5H178.0ZM89.8 422.2H92.9V426.0H89.8ZM161.5 422.2H167.3V426.0H161.5ZM169.8 422.2H178.3V426.0H169.8ZM164.3 425.7H167.3V429.5H164.3ZM175.3 425.7H178.3V429.5H175.3ZM84.3 429.2H87.4V433.1H84.3ZM169.8 429.2H172.8V433.1H169.8ZM175.3 429.2H178.3V433.1H175.3ZM84.3 432.8H87.4V436.6H84.3ZM167.0 432.8H170.1V436.6H167.0ZM172.5 432.8H181.1V436.6H172.5ZM164.3 436.3H170.1V440.1H164.3ZM172.5 436.3H175.6V440.1H172.5ZM164.3 439.8H181.1V443.6H164.3ZM167.0 443.3H170.1V447.1H167.0Z"/><path fill="#d0d0ff" d="M95.4 306.3H106.7V310.1H95.4ZM109.1 306.3H115.0V310.1H109.1ZM122.9 306.3H131.5V310.1H122.9ZM133.9 306.3H142.5V310.1H133.9ZM100.9 309.8H103.9V313.6H100.9ZM106.4 309.8H112.2V313.6H106.4ZM117.4 309.8H120.5V313.6H117.4ZM133.9 309.8H139.8V313.6H133.9ZM98.1 313.3H106.7V317.1H98.1ZM109.1 313.3H112.2V317.1H109.1ZM122.9 313.3H134.2V317.1H122.9ZM136.7 313.3H142.5V317.1H136.7ZM100.9 316.8H106.7V320.7H100.9ZM109.1 316.8H115.0V320.7H109.1ZM122.9 316.8H126.0V320.7H122.9ZM133.9 316.8H139.8V320.7H133.9ZM153.2 316.8H159.1V320.7H153.2ZM111.9 320.4H126.0V324.2H111.9ZM128.4 320.4H131.5V324.2H128.4ZM106.4 323.9H112.2V327.7H106.4ZM114.7 323.9H117.7V327.7H114.7ZM122.9 323.9H126.0V327.7H122.9ZM131.2 323.9H134.2V327.7H131.2ZM153.2 323.9H156.3V327.7H153.2ZM109.1 327.4H117.7V331.2H109.1ZM120.2 327.4H126.0V331.2H120.2ZM109.1 330.9H112.2V334.7H109.1ZM120.2 330.9H126.0V334.7H120.2ZM128.4 330.9H134.2V334.7H128.4ZM150.5 330.9H153.5V334.7H150.5ZM111.9 334.4H117.7V338.2H111.9ZM128.4 334.4H131.5V338.2H128.4ZM111.9 337.9H120.5V341.7H111.9ZM125.7 337.9H128.7V341.7H125.7ZM114.7 341.4H128.7V345.2H114.7ZM150.5 341.4H153.5V345.2H150.5ZM111.9 344.9H115.0V348.8H111.9ZM117.4 344.9H120.5V348.8H117.4ZM111.9 348.5H115.0V352.3H111.9ZM142.2 369.5H145.3V373.3H142.2ZM142.2 373.0H145.3V376.9H142.2ZM139.5 380.1H142.5V383.9H139.5ZM117.4 383.6H120.5V387.4H117.4ZM142.2 383.6H145.3V387.4H142.2ZM142.2 390.6H145.3V394.4H142.2ZM111.9 394.1H115.0V397.9H111.9ZM145.0 394.1H148.0V397.9H145.0ZM109.1 397.6H112.2V401.4H109.1ZM147.7 397.6H150.8V401.4H147.7ZM147.7 401.1H150.8V405.0H147.7ZM164.3 401.1H167.3V405.0H164.3ZM158.8 411.7H161.8V415.5H158.8ZM153.2 415.2H156.3V419.0H153.2ZM169.8 415.2H172.8V419.0H169.8ZM156.0 418.7H159.1V422.5H156.0ZM156.0 422.2H159.1V426.0H156.0ZM89.8 425.7H92.9V429.5H89.8ZM87.1 429.2H90.1V433.1H87.1ZM161.5 432.8H167.3V436.6H161.5ZM161.5 436.3H164.6V440.1H161.5ZM78.8 443.3H81.9V447.1H78.8ZM164.3 443.3H167.3V447.1H164.3ZM169.8 443.3H172.8V447.1H169.8Z"/><path fill="#d8d8ff" d="M106.4 306.3H109.4V310.1H106.4ZM114.7 306.3H120.5V310.1H114.7ZM164.3 306.3H167.3V310.1H164.3ZM178.0 306.3H181.1V310.1H178.0ZM95.4 309.8H101.2V313.6H95.4ZM103.6 309.8H106.7V313.6H103.6ZM111.9 309.8H117.7V313.6H111.9ZM120.2 309.8H123.2V313.6H120.2ZM131.2 309.8H134.2V313.6H131.2ZM158.8 309.8H161.8V313.6H158.8ZM175.3 309.8H178.3V313.6H175.3ZM95.4 313.3H98.4V317.1H95.4ZM106.4 313.3H109.4V317.1H106.4ZM111.9 313.3H115.0V317.1H111.9ZM120.2 313.3H123.2V317.1H120.2ZM133.9 313.3H137.0V317.1H133.9ZM156.0 313.3H159.1V317.1H156.0ZM106.4 316.8H109.4V320.7H106.4ZM120.2 316.8H123.2V320.7H120.2ZM125.7 316.8H128.7V320.7H125.7ZM158.8 316.8H161.8V320.7H158.8ZM103.6 320.4H112.2V324.2H103.6ZM131.2 320.4H137.0V324.2H131.2ZM103.6 323.9H106.7V327.7H103.6ZM111.9 323.9H115.0V327.7H111.9ZM117.4 323.9H123.2V327.7H117.4ZM128.4 323.9H131.5V327.7H128.4ZM133.9 323.9H137.0V327.7H133.9ZM156.0 323.9H161.8V327.7H156.0ZM172.5 323.9H175.6V327.7H172.5ZM128.4 327.4H131.5V331.2H128.4ZM153.2 327.4H159.1V331.2H153.2ZM106.4 330.9H109.4V334.7H106.4ZM111.9 330.9H120.5V334.7H111.9ZM125.7 330.9H128.7V334.7H125.7ZM153.2 330.9H159.1V334.7H153.2ZM109.1 334.4H112.2V338.2H109.1ZM117.4 334.4H128.7V338.2H117.4ZM150.5 334.4H156.3V338.2H150.5ZM164.3 334.4H167.3V338.2H164.3ZM106.4 337.9H112.2V341.7H106.4ZM128.4 337.9H131.5V341.7H128.4ZM150.5 337.9H153.5V341.7H150.5ZM156.0 337.9H159.1V341.7H156.0ZM109.1 341.4H112.2V345.2H109.1ZM167.0 341.4H170.1V345.2H167.0ZM175.3 341.4H178.3V345.2H175.3ZM120.2 344.9H123.2V348.8H120.2ZM114.7 348.5H117.7V352.3H114.7ZM167.0 348.5H170.1V352.3H167.0ZM161.5 352.0H164.6V355.8H161.5ZM147.7 355.5H150.8V359.3H147.7ZM114.7 359.0H117.7V362.8H114.7ZM145.0 359.0H150.8V362.8H145.0ZM161.5 359.0H164.6V362.8H161.5ZM147.7 362.5H150.8V366.3H147.7ZM158.8 366.0H164.6V369.8H158.8ZM145.0 369.5H148.0V373.3H145.0ZM172.5 373.0H175.6V376.9H172.5ZM147.7 376.6H150.8V380.4H147.7ZM178.0 376.6H181.1V380.4H178.0ZM117.4 380.1H120.5V383.9H117.4ZM142.2 380.1H145.3V383.9H142.2ZM147.7 380.1H150.8V383.9H147.7ZM164.3 380.1H167.3V383.9H164.3ZM172.5 380.1H178.3V383.9H172.5ZM167.0 383.6H172.8V387.4H167.0ZM142.2 387.1H150.8V390.9H142.2ZM169.8 387.1H172.8V390.9H169.8ZM145.0 390.6H148.0V394.4H145.0ZM172.5 390.6H178.3V394.4H172.5ZM153.2 394.1H159.1V397.9H153.2ZM156.0 397.6H161.8V401.4H156.0ZM178.0 397.6H181.1V401.4H178.0ZM156.0 401.1H159.1V405.0H156.0ZM172.5 401.1H175.6V405.0H172.5ZM150.5 404.7H153.5V408.5H150.5ZM158.8 404.7H161.8V408.5H158.8ZM164.3 404.7H170.1V408.5H164.3ZM100.9 408.2H103.9V412.0H100.9ZM150.5 408.2H153.5V412.0H150.5ZM178.0 411.7H181.1V415.5H178.0ZM156.0 415.2H159.1V419.0H156.0ZM167.0 415.2H170.1V419.0H167.0ZM92.6 418.7H95.7V422.5H92.6ZM172.5 418.7H175.6V422.5H172.5ZM158.8 422.2H161.8V426.0H158.8ZM158.8 425.7H161.8V429.5H158.8ZM161.5 429.2H170.1V433.1H161.5ZM81.6 436.3H84.6V440.1H81.6ZM172.5 443.3H175.6V447.1H172.5ZM178.0 443.3H181.1V447.1H178.0Z"/><path fill="#c8c8ff" d="M120.2 306.3H123.2V310.1H120.2ZM131.2 306.3H134.2V310.1H131.2ZM142.2 306.3H145.3V310.1H142.2ZM122.9 309.8H131.5V313.6H122.9ZM139.5 309.8H145.3V313.6H139.5ZM156.0 309.8H159.1V313.6H156.0ZM117.4 313.3H120.5V317.1H117.4ZM142.2 313.3H145.3V317.1H142.2ZM114.7 316.8H117.7V320.7H114.7ZM131.2 316.8H134.2V320.7H131.2ZM139.5 316.8H142.5V320.7H139.5ZM136.7 320.4H142.5V324.2H136.7ZM125.7 323.9H128.7V327.7H125.7ZM117.4 327.4H120.5V331.2H117.4ZM125.7 327.4H128.7V331.2H125.7ZM133.9 327.4H139.8V331.2H133.9ZM150.5 327.4H153.5V331.2H150.5ZM131.2 334.4H134.2V338.2H131.2ZM122.9 337.9H126.0V341.7H122.9ZM147.7 337.9H150.8V341.7H147.7ZM122.9 344.9H128.7V348.8H122.9ZM120.2 348.5H123.2V352.3H120.2ZM114.7 352.0H117.7V355.8H114.7ZM114.7 355.5H117.7V359.3H114.7ZM145.0 355.5H148.0V359.3H145.0ZM139.5 383.6H142.5V387.4H139.5ZM117.4 387.1H120.5V390.9H117.4ZM114.7 390.6H117.7V394.4H114.7ZM106.4 401.1H112.2V405.0H106.4ZM106.4 404.7H109.4V408.5H106.4ZM147.7 404.7H150.8V408.5H147.7ZM98.1 411.7H101.2V415.5H98.1ZM158.8 429.2H161.8V433.1H158.8ZM81.6 439.8H84.6V443.6H81.6Z"/><path fill="#c0c0ff" d="M145.0 306.3H148.0V310.1H145.0ZM156.0 306.3H159.1V310.1H156.0ZM153.2 313.3H156.3V317.1H153.2ZM150.5 316.8H153.5V320.7H150.5ZM153.2 320.4H156.3V324.2H153.2ZM136.7 323.9H142.5V327.7H136.7ZM150.5 323.9H153.5V327.7H150.5ZM131.2 327.4H134.2V331.2H131.2ZM147.7 327.4H150.8V331.2H147.7ZM147.7 330.9H150.8V334.7H147.7ZM133.9 334.4H137.0V338.2H133.9ZM147.7 334.4H150.8V338.2H147.7ZM131.2 337.9H134.2V341.7H131.2ZM111.9 341.4H115.0V345.2H111.9ZM128.4 341.4H134.2V345.2H128.4ZM147.7 341.4H150.8V345.2H147.7ZM114.7 344.9H117.7V348.8H114.7ZM128.4 344.9H131.5V348.8H128.4ZM147.7 344.9H150.8V348.8H147.7ZM117.4 348.5H120.5V352.3H117.4ZM122.9 348.5H126.0V352.3H122.9ZM145.0 348.5H148.0V352.3H145.0ZM120.2 352.0H123.2V355.8H120.2ZM145.0 352.0H148.0V355.8H145.0ZM142.2 355.5H145.3V359.3H142.2ZM142.2 359.0H145.3V362.8H142.2ZM117.4 362.5H120.5V366.3H117.4ZM142.2 362.5H145.3V366.3H142.2ZM117.4 366.0H120.5V369.8H117.4ZM142.2 366.0H145.3V369.8H142.2ZM120.2 373.0H123.2V376.9H120.2ZM136.7 376.6H139.8V380.4H136.7ZM139.5 387.1H142.5V390.9H139.5ZM111.9 397.6H123.2V401.4H111.9ZM145.0 397.6H148.0V401.4H145.0ZM111.9 401.1H123.2V405.0H111.9ZM114.7 404.7H117.7V408.5H114.7ZM103.6 408.2H106.7V412.0H103.6ZM98.1 415.2H101.2V419.0H98.1ZM95.4 418.7H98.4V422.5H95.4ZM153.2 418.7H156.3V422.5H153.2ZM92.6 422.2H95.7V426.0H92.6ZM84.3 436.3H87.4V440.1H84.3Z"/><path fill="#b0b0ff" d="M147.7 306.3H150.8V310.1H147.7ZM153.2 309.8H156.3V313.6H153.2ZM147.7 313.3H153.5V317.1H147.7ZM147.7 320.4H150.8V324.2H147.7ZM139.5 327.4H142.5V331.2H139.5ZM136.7 334.4H139.8V338.2H136.7ZM145.0 334.4H148.0V338.2H145.0ZM145.0 341.4H148.0V345.2H145.0ZM142.2 348.5H145.3V352.3H142.2ZM117.4 352.0H120.5V355.8H117.4ZM122.9 352.0H126.0V355.8H122.9ZM120.2 369.5H123.2V373.3H120.2ZM139.5 390.6H142.5V394.4H139.5ZM142.2 394.1H145.3V397.9H142.2ZM122.9 397.6H126.0V401.4H122.9ZM125.7 401.1H128.7V405.0H125.7ZM145.0 401.1H148.0V405.0H145.0ZM109.1 404.7H112.2V408.5H109.1ZM117.4 404.7H120.5V408.5H117.4ZM122.9 404.7H128.7V408.5H122.9ZM109.1 408.2H112.2V412.0H109.1ZM114.7 408.2H128.7V412.0H114.7ZM106.4 411.7H112.2V415.5H106.4ZM114.7 411.7H117.7V415.5H114.7ZM100.9 415.2H103.9V419.0H100.9ZM106.4 415.2H109.4V419.0H106.4ZM114.7 415.2H120.5V419.0H114.7ZM122.9 415.2H126.0V419.0H122.9ZM106.4 418.7H109.4V422.5H106.4ZM117.4 418.7H120.5V422.5H117.4ZM95.4 422.2H98.4V426.0H95.4ZM128.4 422.2H131.5V426.0H128.4ZM92.6 425.7H95.7V429.5H92.6ZM122.9 425.7H126.0V429.5H122.9ZM89.8 429.2H92.9V433.1H89.8ZM98.1 429.2H101.2V433.1H98.1ZM89.8 432.8H92.9V436.6H89.8ZM106.4 432.8H109.4V436.6H106.4ZM158.8 436.3H161.8V440.1H158.8ZM84.3 439.8H90.1V443.6H84.3ZM114.7 439.8H117.7V443.6H114.7ZM161.5 443.3H164.6V447.1H161.5Z"/><path fill="#a8a8ff" d="M150.5 306.3H153.5V310.1H150.5ZM147.7 309.8H150.8V313.6H147.7ZM145.0 316.8H150.8V320.7H145.0ZM145.0 320.4H148.0V324.2H145.0ZM150.5 320.4H153.5V324.2H150.5ZM142.2 323.9H145.3V327.7H142.2ZM147.7 323.9H150.8V327.7H147.7ZM145.0 327.4H148.0V331.2H145.0ZM145.0 330.9H148.0V334.7H145.0ZM142.2 341.4H145.3V345.2H142.2ZM131.2 344.9H134.2V348.8H131.2ZM128.4 348.5H131.5V352.3H128.4ZM125.7 352.0H128.7V355.8H125.7ZM120.2 355.5H123.2V359.3H120.2ZM136.7 373.0H139.8V376.9H136.7ZM120.2 380.1H123.2V383.9H120.2ZM120.2 383.6H123.2V387.4H120.2ZM136.7 383.6H139.8V387.4H136.7ZM120.2 387.1H123.2V390.9H120.2ZM122.9 394.1H126.0V397.9H122.9ZM125.7 397.6H128.7V401.4H125.7ZM111.9 408.2H115.0V412.0H111.9ZM128.4 408.2H131.5V412.0H128.4ZM147.7 408.2H150.8V412.0H147.7ZM111.9 411.7H115.0V415.5H111.9ZM117.4 411.7H126.0V415.5H117.4ZM128.4 411.7H131.5V415.5H128.4ZM103.6 415.2H106.7V419.0H103.6ZM111.9 415.2H115.0V419.0H111.9ZM120.2 415.2H123.2V419.0H120.2ZM150.5 415.2H153.5V419.0H150.5ZM98.1 418.7H101.2V422.5H98.1ZM103.6 418.7H106.7V422.5H103.6ZM109.1 418.7H115.0V422.5H109.1ZM122.9 418.7H126.0V422.5H122.9ZM98.1 422.2H103.9V426.0H98.1ZM111.9 422.2H115.0V426.0H111.9ZM120.2 422.2H123.2V426.0H120.2ZM125.7 422.2H128.7V426.0H125.7ZM95.4 425.7H98.4V429.5H95.4ZM103.6 425.7H109.4V429.5H103.6ZM111.9 425.7H115.0V429.5H111.9ZM117.4 425.7H120.5V429.5H117.4ZM125.7 425.7H128.7V429.5H125.7ZM111.9 429.2H115.0V433.1H111.9ZM122.9 429.2H126.0V433.1H122.9ZM128.4 429.2H134.2V433.1H128.4ZM136.7 429.2H139.8V433.1H136.7ZM156.0 429.2H159.1V433.1H156.0ZM103.6 432.8H106.7V436.6H103.6ZM111.9 432.8H115.0V436.6H111.9ZM117.4 432.8H120.5V436.6H117.4ZM95.4 436.3H101.2V440.1H95.4ZM103.6 436.3H106.7V440.1H103.6ZM111.9 436.3H117.7V440.1H111.9ZM128.4 436.3H131.5V440.1H128.4ZM95.4 439.8H98.4V443.6H95.4ZM100.9 439.8H106.7V443.6H100.9ZM122.9 439.8H128.7V443.6H122.9ZM161.5 439.8H164.6V443.6H161.5ZM84.3 443.3H90.1V447.1H84.3ZM122.9 443.3H126.0V447.1H122.9ZM136.7 443.3H139.8V447.1H136.7Z"/><path fill="#b8b8ff" d="M153.2 306.3H156.3V310.1H153.2ZM145.0 309.8H148.0V313.6H145.0ZM150.5 309.8H153.5V313.6H150.5ZM145.0 313.3H148.0V317.1H145.0ZM142.2 316.8H145.3V320.7H142.2ZM133.9 330.9H137.0V334.7H133.9ZM133.9 337.9H137.0V341.7H133.9ZM145.0 337.9H148.0V341.7H145.0ZM145.0 344.9H148.0V348.8H145.0ZM125.7 348.5H128.7V352.3H125.7ZM142.2 352.0H145.3V355.8H142.2ZM117.4 355.5H120.5V359.3H117.4ZM117.4 359.0H120.5V362.8H117.4ZM139.5 369.5H142.5V373.3H139.5ZM139.5 373.0H142.5V376.9H139.5ZM136.7 380.1H139.8V383.9H136.7ZM117.4 390.6H123.2V394.4H117.4ZM114.7 394.1H123.2V397.9H114.7ZM122.9 401.1H126.0V405.0H122.9ZM111.9 404.7H115.0V408.5H111.9ZM120.2 404.7H123.2V408.5H120.2ZM106.4 408.2H109.4V412.0H106.4ZM100.9 411.7H106.7V415.5H100.9ZM125.7 411.7H128.7V415.5H125.7ZM150.5 411.7H153.5V415.5H150.5ZM125.7 415.2H128.7V419.0H125.7ZM153.2 422.2H156.3V426.0H153.2ZM98.1 425.7H101.2V429.5H98.1ZM156.0 425.7H159.1V429.5H156.0ZM87.1 432.8H90.1V436.6H87.1ZM158.8 432.8H161.8V436.6H158.8ZM81.6 443.3H84.6V447.1H81.6Z"/><path fill="#fff0f0" d="M76.1 309.8H79.1V313.6H76.1ZM81.6 309.8H87.4V313.6H81.6ZM81.6 313.3H87.4V317.1H81.6ZM76.1 316.8H79.1V320.7H76.1ZM81.6 320.4H84.6V324.2H81.6ZM87.1 320.4H92.9V324.2H87.1ZM87.1 323.9H95.7V327.7H87.1ZM78.8 327.4H81.9V331.2H78.8ZM87.1 327.4H98.4V331.2H87.1ZM56.8 330.9H68.1V334.7H56.8ZM87.1 330.9H98.4V334.7H87.1ZM59.5 334.4H70.8V338.2H59.5ZM73.3 334.4H76.4V338.2H73.3ZM81.6 334.4H87.4V338.2H81.6ZM89.8 334.4H92.9V338.2H89.8ZM95.4 334.4H98.4V338.2H95.4ZM100.9 334.4H103.9V338.2H100.9ZM54.0 337.9H59.8V341.7H54.0ZM65.0 337.9H68.1V341.7H65.0ZM70.5 337.9H76.4V341.7H70.5ZM87.1 337.9H90.1V341.7H87.1ZM48.5 341.4H62.6V345.2H48.5ZM65.0 341.4H70.8V345.2H65.0ZM92.6 341.4H95.7V345.2H92.6ZM100.9 341.4H103.9V345.2H100.9ZM48.5 344.9H57.1V348.8H48.5ZM70.5 344.9H73.6V348.8H70.5ZM78.8 344.9H81.9V348.8H78.8ZM98.1 344.9H101.2V348.8H98.1ZM106.4 344.9H109.4V348.8H106.4ZM54.0 348.5H57.1V352.3H54.0ZM65.0 348.5H70.8V352.3H65.0ZM76.1 348.5H81.9V352.3H76.1ZM87.1 348.5H90.1V352.3H87.1ZM106.4 348.5H109.4V352.3H106.4ZM59.5 352.0H62.6V355.8H59.5ZM73.3 352.0H76.4V355.8H73.3ZM84.3 352.0H90.1V355.8H84.3ZM95.4 352.0H98.4V355.8H95.4ZM109.1 352.0H112.2V355.8H109.1ZM48.5 355.5H57.1V359.3H48.5ZM62.3 355.5H68.1V359.3H62.3ZM73.3 355.5H79.1V359.3H73.3ZM81.6 355.5H87.4V359.3H81.6ZM89.8 355.5H98.4V359.3H89.8ZM59.5 359.0H65.3V362.8H59.5ZM73.3 359.0H79.1V362.8H73.3ZM87.1 359.0H90.1V362.8H87.1ZM48.5 362.5H54.3V366.3H48.5ZM59.5 362.5H62.6V366.3H59.5ZM73.3 362.5H76.4V366.3H73.3ZM78.8 362.5H87.4V366.3H78.8ZM51.3 366.0H54.3V369.8H51.3ZM56.8 366.0H59.8V369.8H56.8ZM65.0 366.0H68.1V369.8H65.0ZM70.5 366.0H73.6V369.8H70.5ZM81.6 366.0H87.4V369.8H81.6ZM51.3 369.5H54.3V373.3H51.3ZM62.3 369.5H65.3V373.3H62.3ZM70.5 369.5H76.4V373.3H70.5ZM78.8 369.5H87.4V373.3H78.8ZM48.5 373.0H54.3V376.9H48.5ZM59.5 373.0H62.6V376.9H59.5ZM67.8 373.0H70.8V376.9H67.8ZM84.3 373.0H87.4V376.9H84.3ZM48.5 376.6H51.6V380.4H48.5ZM54.0 376.6H62.6V380.4H54.0ZM67.8 376.6H73.6V380.4H67.8ZM76.1 376.6H79.1V380.4H76.1ZM51.3 380.1H54.3V383.9H51.3ZM59.5 380.1H65.3V383.9H59.5ZM67.8 380.1H70.8V383.9H67.8ZM73.3 380.1H76.4V383.9H73.3ZM114.7 380.1H117.7V383.9H114.7ZM48.5 383.6H62.6V387.4H48.5ZM65.0 383.6H70.8V387.4H65.0ZM73.3 383.6H76.4V387.4H73.3ZM48.5 387.1H51.6V390.9H48.5ZM54.0 387.1H65.3V390.9H54.0ZM70.5 387.1H73.6V390.9H70.5ZM51.3 390.6H57.1V394.4H51.3ZM59.5 390.6H62.6V394.4H59.5ZM67.8 390.6H76.4V394.4H67.8ZM78.8 390.6H81.9V394.4H78.8ZM48.5 394.1H51.6V397.9H48.5ZM65.0 394.1H73.6V397.9H65.0ZM106.4 394.1H109.4V397.9H106.4ZM48.5 397.6H51.6V401.4H48.5ZM54.0 397.6H57.1V401.4H54.0ZM62.3 397.6H79.1V401.4H62.3ZM48.5 401.1H51.6V405.0H48.5ZM59.5 401.1H62.6V405.0H59.5ZM73.3 401.1H79.1V405.0H73.3ZM98.1 401.1H103.9V405.0H98.1ZM56.8 404.7H59.8V408.5H56.8ZM62.3 404.7H68.1V408.5H62.3ZM70.5 404.7H76.4V408.5H70.5ZM84.3 404.7H87.4V408.5H84.3ZM98.1 404.7H101.2V408.5H98.1ZM48.5 408.2H59.8V412.0H48.5ZM67.8 408.2H70.8V412.0H67.8ZM73.3 408.2H79.1V412.0H73.3ZM84.3 408.2H87.4V412.0H84.3ZM92.6 408.2H98.4V412.0H92.6ZM51.3 411.7H57.1V415.5H51.3ZM59.5 411.7H76.4V415.5H59.5ZM78.8 411.7H81.9V415.5H78.8ZM89.8 411.7H92.9V415.5H89.8ZM51.3 415.2H54.3V419.0H51.3ZM65.0 415.2H68.1V419.0H65.0ZM76.1 415.2H79.1V419.0H76.1ZM81.6 415.2H87.4V419.0H81.6ZM62.3 418.7H65.3V422.5H62.3ZM81.6 418.7H87.4V422.5H81.6ZM59.5 422.2H68.1V426.0H59.5ZM73.3 422.2H76.4V426.0H73.3ZM51.3 425.7H65.3V429.5H51.3ZM67.8 425.7H70.8V429.5H67.8ZM73.3 425.7H76.4V429.5H73.3ZM51.3 429.2H57.1V433.1H51.3ZM59.5 429.2H62.6V433.1H59.5ZM65.0 429.2H68.1V433.1H65.0ZM51.3 432.8H54.3V436.6H51.3Z"/><path fill="#a0a0ff" d="M142.2 320.4H145.3V324.2H142.2ZM145.0 323.9H148.0V327.7H145.0ZM142.2 327.4H145.3V331.2H142.2ZM136.7 330.9H142.5V334.7H136.7ZM133.9 341.4H137.0V345.2H133.9ZM128.4 352.0H131.5V355.8H128.4ZM120.2 359.0H123.2V362.8H120.2ZM139.5 359.0H142.5V362.8H139.5ZM139.5 366.0H142.5V369.8H139.5ZM120.2 376.6H123.2V380.4H120.2ZM133.9 376.6H137.0V380.4H133.9ZM122.9 390.6H126.0V394.4H122.9ZM142.2 397.6H145.3V401.4H142.2ZM131.2 411.7H134.2V415.5H131.2ZM147.7 411.7H150.8V415.5H147.7ZM109.1 415.2H112.2V419.0H109.1ZM128.4 415.2H131.5V419.0H128.4ZM100.9 418.7H103.9V422.5H100.9ZM114.7 418.7H117.7V422.5H114.7ZM125.7 418.7H131.5V422.5H125.7ZM133.9 418.7H137.0V422.5H133.9ZM103.6 422.2H112.2V426.0H103.6ZM114.7 422.2H120.5V426.0H114.7ZM122.9 422.2H126.0V426.0H122.9ZM100.9 425.7H103.9V429.5H100.9ZM109.1 425.7H112.2V429.5H109.1ZM128.4 425.7H131.5V429.5H128.4ZM133.9 425.7H137.0V429.5H133.9ZM92.6 429.2H98.4V433.1H92.6ZM100.9 429.2H103.9V433.1H100.9ZM109.1 429.2H112.2V433.1H109.1ZM114.7 429.2H123.2V433.1H114.7ZM125.7 429.2H128.7V433.1H125.7ZM95.4 432.8H103.9V436.6H95.4ZM109.1 432.8H112.2V436.6H109.1ZM114.7 432.8H117.7V436.6H114.7ZM120.2 432.8H128.7V436.6H120.2ZM131.2 432.8H134.2V436.6H131.2ZM136.7 432.8H139.8V436.6H136.7ZM87.1 436.3H90.1V440.1H87.1ZM92.6 436.3H95.7V440.1H92.6ZM106.4 436.3H112.2V440.1H106.4ZM117.4 436.3H120.5V440.1H117.4ZM122.9 436.3H128.7V440.1H122.9ZM133.9 436.3H137.0V440.1H133.9ZM89.8 439.8H95.7V443.6H89.8ZM98.1 439.8H101.2V443.6H98.1ZM106.4 439.8H109.4V443.6H106.4ZM128.4 439.8H137.0V443.6H128.4ZM89.8 443.3H95.7V447.1H89.8ZM100.9 443.3H109.4V447.1H100.9ZM111.9 443.3H115.0V447.1H111.9ZM125.7 443.3H128.7V447.1H125.7ZM131.2 443.3H137.0V447.1H131.2ZM139.5 443.3H142.5V447.1H139.5Z"/><path fill="#9898ff" d="M142.2 330.9H145.3V334.7H142.2ZM139.5 334.4H142.5V338.2H139.5ZM136.7 337.9H139.8V341.7H136.7ZM142.2 337.9H145.3V341.7H142.2ZM142.2 344.9H145.3V348.8H142.2ZM131.2 348.5H134.2V352.3H131.2ZM122.9 355.5H128.7V359.3H122.9ZM139.5 355.5H142.5V359.3H139.5ZM120.2 362.5H123.2V366.3H120.2ZM139.5 362.5H142.5V366.3H139.5ZM120.2 366.0H123.2V369.8H120.2ZM133.9 380.1H137.0V383.9H133.9ZM122.9 387.1H126.0V390.9H122.9ZM125.7 394.1H128.7V397.9H125.7ZM128.4 401.1H131.5V405.0H128.4ZM128.4 404.7H131.5V408.5H128.4ZM145.0 404.7H148.0V408.5H145.0ZM131.2 408.2H134.2V412.0H131.2ZM120.2 418.7H123.2V422.5H120.2ZM131.2 418.7H134.2V422.5H131.2ZM131.2 422.2H134.2V426.0H131.2ZM114.7 425.7H117.7V429.5H114.7ZM120.2 425.7H123.2V429.5H120.2ZM136.7 425.7H139.8V429.5H136.7ZM103.6 429.2H109.4V433.1H103.6ZM133.9 429.2H137.0V433.1H133.9ZM92.6 432.8H95.7V436.6H92.6ZM128.4 432.8H131.5V436.6H128.4ZM133.9 432.8H137.0V436.6H133.9ZM139.5 432.8H145.3V436.6H139.5ZM156.0 432.8H159.1V436.6H156.0ZM89.8 436.3H92.9V440.1H89.8ZM100.9 436.3H103.9V440.1H100.9ZM120.2 436.3H123.2V440.1H120.2ZM131.2 436.3H134.2V440.1H131.2ZM136.7 436.3H142.5V440.1H136.7ZM109.1 439.8H115.0V443.6H109.1ZM117.4 439.8H123.2V443.6H117.4ZM136.7 439.8H148.0V443.6H136.7ZM95.4 443.3H101.2V447.1H95.4ZM109.1 443.3H112.2V447.1H109.1ZM114.7 443.3H123.2V447.1H114.7ZM128.4 443.3H131.5V447.1H128.4ZM142.2 443.3H145.3V447.1H142.2Z"/><path fill="#ffe0e0" d="M92.6 334.4H95.7V338.2H92.6ZM76.1 337.9H79.1V341.7H76.1ZM92.6 337.9H95.7V341.7H92.6ZM98.1 337.9H101.2V341.7H98.1ZM84.3 341.4H87.4V345.2H84.3ZM89.8 341.4H92.9V345.2H89.8ZM95.4 341.4H101.2V345.2H95.4ZM100.9 344.9H106.7V348.8H100.9ZM89.8 348.5H92.9V352.3H89.8ZM95.4 348.5H101.2V352.3H95.4ZM51.3 352.0H54.3V355.8H51.3ZM70.5 352.0H73.6V355.8H70.5ZM78.8 352.0H84.6V355.8H78.8ZM92.6 352.0H95.7V355.8H92.6ZM98.1 352.0H101.2V355.8H98.1ZM106.4 352.0H109.4V355.8H106.4ZM59.5 355.5H62.6V359.3H59.5ZM54.0 359.0H57.1V362.8H54.0ZM81.6 359.0H84.6V362.8H81.6ZM95.4 359.0H98.4V362.8H95.4ZM109.1 359.0H112.2V362.8H109.1ZM89.8 362.5H95.7V366.3H89.8ZM98.1 362.5H101.2V366.3H98.1ZM109.1 362.5H115.0V366.3H109.1ZM48.5 366.0H51.6V369.8H48.5ZM76.1 366.0H79.1V369.8H76.1ZM92.6 366.0H95.7V369.8H92.6ZM100.9 366.0H106.7V369.8H100.9ZM109.1 366.0H115.0V369.8H109.1ZM87.1 369.5H90.1V373.3H87.1ZM98.1 369.5H101.2V373.3H98.1ZM70.5 373.0H73.6V376.9H70.5ZM78.8 373.0H84.6V376.9H78.8ZM89.8 373.0H92.9V376.9H89.8ZM95.4 373.0H101.2V376.9H95.4ZM114.7 373.0H117.7V376.9H114.7ZM78.8 376.6H84.6V380.4H78.8ZM70.5 380.1H73.6V383.9H70.5ZM78.8 380.1H84.6V383.9H78.8ZM111.9 380.1H115.0V383.9H111.9ZM76.1 383.6H79.1V387.4H76.1ZM84.3 383.6H90.1V387.4H84.3ZM109.1 383.6H115.0V387.4H109.1ZM78.8 387.1H84.6V390.9H78.8ZM87.1 387.1H90.1V390.9H87.1ZM106.4 390.6H109.4V394.4H106.4ZM76.1 394.1H79.1V397.9H76.1ZM100.9 394.1H106.7V397.9H100.9ZM81.6 397.6H84.6V401.4H81.6ZM87.1 397.6H95.7V401.4H87.1ZM100.9 397.6H103.9V401.4H100.9ZM84.3 401.1H87.4V405.0H84.3ZM89.8 401.1H98.4V405.0H89.8ZM78.8 408.2H81.9V412.0H78.8ZM48.5 418.7H51.6V422.5H48.5Z"/><path fill="#9090ff" d="M142.2 334.4H145.3V338.2H142.2ZM139.5 337.9H142.5V341.7H139.5ZM139.5 344.9H142.5V348.8H139.5ZM139.5 348.5H142.5V352.3H139.5ZM139.5 352.0H142.5V355.8H139.5ZM136.7 387.1H139.8V390.9H136.7ZM125.7 390.6H128.7V394.4H125.7ZM131.2 415.2H134.2V419.0H131.2ZM150.5 418.7H153.5V422.5H150.5ZM133.9 422.2H139.8V426.0H133.9ZM131.2 425.7H134.2V429.5H131.2ZM153.2 425.7H156.3V429.5H153.2ZM158.8 439.8H161.8V443.6H158.8ZM145.0 443.3H148.0V447.1H145.0Z"/><path fill="#8888ff" d="M136.7 341.4H142.5V345.2H136.7ZM136.7 369.5H139.8V373.3H136.7ZM139.5 394.1H142.5V397.9H139.5ZM128.4 397.6H131.5V401.4H128.4ZM131.2 401.1H134.2V405.0H131.2ZM142.2 401.1H145.3V405.0H142.2ZM145.0 408.2H148.0V412.0H145.0ZM133.9 415.2H137.0V419.0H133.9ZM136.7 418.7H139.8V422.5H136.7ZM139.5 429.2H142.5V433.1H139.5ZM142.2 436.3H145.3V440.1H142.2ZM147.7 443.3H150.8V447.1H147.7Z"/><path fill="#8080ff" d="M133.9 344.9H139.8V348.8H133.9ZM133.9 348.5H137.0V352.3H133.9ZM131.2 352.0H134.2V355.8H131.2ZM122.9 359.0H126.0V362.8H122.9ZM122.9 362.5H126.0V366.3H122.9ZM122.9 383.6H126.0V387.4H122.9ZM133.9 383.6H137.0V387.4H133.9ZM125.7 387.1H128.7V390.9H125.7ZM131.2 404.7H134.2V408.5H131.2ZM150.5 422.2H153.5V426.0H150.5ZM139.5 425.7H145.3V429.5H139.5ZM145.0 432.8H148.0V436.6H145.0ZM145.0 436.3H148.0V440.1H145.0ZM147.7 439.8H150.8V443.6H147.7Z"/><path fill="#ffd8d8" d="M100.9 348.5H103.9V352.3H100.9ZM103.6 352.0H106.7V355.8H103.6ZM98.1 355.5H101.2V359.3H98.1ZM103.6 355.5H109.4V359.3H103.6ZM98.1 359.0H101.2V362.8H98.1ZM103.6 359.0H109.4V362.8H103.6ZM100.9 362.5H103.9V366.3H100.9ZM106.4 362.5H109.4V366.3H106.4ZM95.4 366.0H101.2V369.8H95.4ZM106.4 366.0H109.4V369.8H106.4ZM67.8 369.5H70.8V373.3H67.8ZM100.9 369.5H103.9V373.3H100.9ZM111.9 369.5H115.0V373.3H111.9ZM109.1 373.0H115.0V376.9H109.1ZM84.3 376.6H90.1V380.4H84.3ZM92.6 376.6H95.7V380.4H92.6ZM98.1 376.6H101.2V380.4H98.1ZM106.4 376.6H109.4V380.4H106.4ZM111.9 376.6H115.0V380.4H111.9ZM84.3 380.1H95.7V383.9H84.3ZM98.1 380.1H101.2V383.9H98.1ZM109.1 380.1H112.2V383.9H109.1ZM89.8 383.6H95.7V387.4H89.8ZM98.1 383.6H106.7V387.4H98.1ZM84.3 387.1H87.4V390.9H84.3ZM92.6 387.1H95.7V390.9H92.6ZM103.6 387.1H109.4V390.9H103.6ZM87.1 390.6H106.7V394.4H87.1ZM89.8 394.1H92.9V397.9H89.8ZM95.4 394.1H98.4V397.9H95.4ZM98.1 397.6H101.2V401.4H98.1ZM95.4 404.7H98.4V408.5H95.4Z"/><path fill="#7878ff" d="M136.7 348.5H139.8V352.3H136.7ZM136.7 352.0H139.8V355.8H136.7ZM128.4 355.5H131.5V359.3H128.4ZM125.7 359.0H128.7V362.8H125.7ZM136.7 366.0H139.8V369.8H136.7ZM122.9 373.0H126.0V376.9H122.9ZM133.9 373.0H137.0V376.9H133.9ZM131.2 376.6H134.2V380.4H131.2ZM122.9 380.1H126.0V383.9H122.9ZM136.7 390.6H139.8V394.4H136.7ZM128.4 394.1H131.5V397.9H128.4ZM133.9 408.2H137.0V412.0H133.9ZM133.9 411.7H139.8V415.5H133.9ZM136.7 415.2H139.8V419.0H136.7ZM147.7 415.2H150.8V419.0H147.7ZM139.5 422.2H142.5V426.0H139.5ZM142.2 429.2H145.3V433.1H142.2ZM153.2 429.2H156.3V433.1H153.2ZM158.8 443.3H161.8V447.1H158.8Z"/><path fill="#ffd0d0" d="M89.8 352.0H92.9V355.8H89.8ZM100.9 352.0H103.9V355.8H100.9ZM95.4 362.5H98.4V366.3H95.4ZM103.6 362.5H106.7V366.3H103.6ZM103.6 369.5H112.2V373.3H103.6ZM100.9 373.0H109.4V376.9H100.9ZM89.8 376.6H92.9V380.4H89.8ZM95.4 376.6H98.4V380.4H95.4ZM100.9 376.6H106.7V380.4H100.9ZM95.4 380.1H98.4V383.9H95.4ZM100.9 380.1H103.9V383.9H100.9ZM106.4 380.1H109.4V383.9H106.4ZM81.6 383.6H84.6V387.4H81.6ZM106.4 383.6H109.4V387.4H106.4ZM89.8 387.1H92.9V390.9H89.8ZM98.1 387.1H103.9V390.9H98.1ZM92.6 394.1H95.7V397.9H92.6ZM98.1 394.1H101.2V397.9H98.1Z"/><path fill="#7070ff" d="M133.9 352.0H137.0V355.8H133.9ZM131.2 355.5H134.2V359.3H131.2ZM136.7 355.5H139.8V359.3H136.7ZM136.7 362.5H139.8V366.3H136.7ZM122.9 366.0H126.0V369.8H122.9ZM122.9 376.6H126.0V380.4H122.9ZM131.2 397.6H134.2V401.4H131.2ZM139.5 397.6H142.5V401.4H139.5ZM142.2 404.7H145.3V408.5H142.2ZM139.5 418.7H142.5V422.5H139.5ZM145.0 429.2H148.0V433.1H145.0Z"/><path fill="#6060ff" d="M133.9 355.5H137.0V359.3H133.9ZM128.4 359.0H131.5V362.8H128.4ZM125.7 362.5H128.7V366.3H125.7ZM125.7 366.0H128.7V369.8H125.7ZM125.7 369.5H128.7V373.3H125.7ZM131.2 383.6H134.2V387.4H131.2ZM133.9 387.1H137.0V390.9H133.9ZM131.2 394.1H134.2V397.9H131.2ZM136.7 401.1H142.5V405.0H136.7ZM139.5 404.7H142.5V408.5H139.5ZM145.0 411.7H148.0V415.5H145.0ZM139.5 415.2H142.5V419.0H139.5ZM145.0 415.2H148.0V419.0H145.0ZM145.0 425.7H148.0V429.5H145.0ZM150.5 425.7H153.5V429.5H150.5ZM147.7 432.8H150.8V436.6H147.7ZM147.7 436.3H150.8V440.1H147.7ZM150.5 443.3H153.5V447.1H150.5ZM156.0 443.3H159.1V447.1H156.0Z"/><path fill="#ffc8c8" d="M100.9 359.0H103.9V362.8H100.9ZM103.6 380.1H106.7V383.9H103.6ZM95.4 383.6H98.4V387.4H95.4ZM95.4 387.1H98.4V390.9H95.4Z"/><path fill="#5050ff" d="M131.2 359.0H134.2V362.8H131.2ZM128.4 362.5H131.5V366.3H128.4ZM133.9 362.5H137.0V366.3H133.9ZM128.4 380.1H131.5V383.9H128.4ZM128.4 383.6H131.5V387.4H128.4ZM131.2 390.6H134.2V394.4H131.2ZM133.9 394.1H137.0V397.9H133.9ZM133.9 397.6H139.8V401.4H133.9ZM142.2 415.2H145.3V419.0H142.2ZM145.0 418.7H148.0V422.5H145.0ZM147.7 425.7H150.8V429.5H147.7ZM150.5 432.8H153.5V436.6H150.5ZM150.5 436.3H156.3V440.1H150.5Z"/><path fill="#5858ff" d="M133.9 359.0H137.0V362.8H133.9ZM133.9 366.0H137.0V369.8H133.9ZM125.7 373.0H128.7V376.9H125.7ZM131.2 373.0H134.2V376.9H131.2ZM125.7 376.6H131.5V380.4H125.7ZM125.7 380.1H128.7V383.9H125.7ZM128.4 387.1H134.2V390.9H128.4ZM133.9 390.6H137.0V394.4H133.9ZM133.9 401.1H137.0V405.0H133.9ZM136.7 404.7H139.8V408.5H136.7ZM142.2 408.2H145.3V412.0H142.2ZM139.5 411.7H142.5V415.5H139.5ZM142.2 418.7H145.3V422.5H142.2ZM145.0 422.2H150.8V426.0H145.0ZM147.7 429.2H153.5V433.1H147.7ZM150.5 439.8H153.5V443.6H150.5Z"/><path fill="#6868ff" d="M136.7 359.0H139.8V362.8H136.7ZM122.9 369.5H126.0V373.3H122.9ZM133.9 369.5H137.0V373.3H133.9ZM131.2 380.1H134.2V383.9H131.2ZM125.7 383.6H128.7V387.4H125.7ZM128.4 390.6H131.5V394.4H128.4ZM136.7 394.1H139.8V397.9H136.7ZM133.9 404.7H137.0V408.5H133.9ZM136.7 408.2H139.8V412.0H136.7ZM147.7 418.7H150.8V422.5H147.7ZM142.2 422.2H145.3V426.0H142.2ZM153.2 432.8H156.3V436.6H153.2ZM156.0 436.3H159.1V440.1H156.0ZM156.0 439.8H159.1V443.6H156.0Z"/><path fill="#4040ff" d="M131.2 362.5H134.2V366.3H131.2ZM128.4 369.5H131.5V373.3H128.4ZM153.2 439.8H156.3V443.6H153.2Z"/><path fill="#4848ff" d="M128.4 366.0H131.5V369.8H128.4ZM131.2 369.5H134.2V373.3H131.2ZM128.4 373.0H131.5V376.9H128.4ZM139.5 408.2H142.5V412.0H139.5ZM142.2 411.7H145.3V415.5H142.2ZM153.2 443.3H156.3V447.1H153.2Z"/><path fill="#3838ff" d="M131.2 366.0H134.2V369.8H131.2Z"/></g>
<rect x="48.50" y="291.30" width="132.40" height="7.00" fill="url(#bwrH)"/>
<rect x="48.50" y="291.30" width="132.40" height="7.00" fill="none" stroke="#222" stroke-width="1.0"/>
<line x1="70.20" y1="291.30" x2="70.20" y2="294.50" stroke="#222" stroke-width="1"/>
<line x1="114.30" y1="291.30" x2="114.30" y2="294.50" stroke="#222" stroke-width="1"/>
<line x1="158.40" y1="291.30" x2="158.40" y2="294.50" stroke="#222" stroke-width="1"/>
<text x="70.2" y="285.2" font-size="19" text-anchor="middle" id="f24" textLength="23.07" lengthAdjust="spacingAndGlyphs"><tspan>−1</tspan></text>
<text x="114.3" y="285.2" font-size="19" text-anchor="middle"><tspan>0</tspan></text>
<text x="158.4" y="285.2" font-size="19" text-anchor="middle"><tspan>1</tspan></text>
<text x="113.8" y="268.6" font-size="19" text-anchor="middle" id="f25" textLength="120.41" lengthAdjust="spacingAndGlyphs"><tspan>d</tspan><tspan font-style="italic">G</tspan><tspan>/d</tspan><tspan font-style="italic">B</tspan><tspan> (</tspan><tspan font-style="italic">μ</tspan><tspan>S/T)</tspan></text>
<text x="11.0" y="278.8" font-size="19" font-weight="bold"><tspan>B</tspan></text>
<g clip-path="url(#clipB)" fill="none"><path d="M90.5,306 Q106,340 122,376.5 Q135,410 148.7,447" stroke="#111" stroke-width="1.3" stroke-dasharray="5,1.6,1.3,1.6"/><path d="M145.6,306 Q134,340 122,376.5 Q109,414 95.1,447" stroke="#e377c2" stroke-width="1.4" stroke-dasharray="4,1.8"/></g>
<polyline clip-path="url(#clipB)" points="48.5,437.2 50.2,437.3 51.8,437.3 53.5,437.3 55.2,437.2 56.8,437.0 58.5,436.7 60.2,436.4 61.8,436.0 63.5,435.6 65.2,435.1 66.8,434.5 68.5,433.9 70.2,433.2 71.8,432.4 73.5,431.5 75.2,430.6 76.8,429.6 78.5,428.6 80.2,427.5 81.8,426.3 83.5,425.1 85.2,423.8 86.8,422.4 88.5,421.0 90.2,419.5 91.8,417.9 93.5,416.3 95.2,414.6 96.8,412.8 98.5,411.0 100.2,409.1 101.8,407.1 103.5,405.1 105.2,403.0 106.8,400.8 108.5,398.6 110.2,396.3 111.8,393.9 113.5,391.5" fill="none" stroke="#2ca02c" stroke-width="1.5" stroke-dasharray="4,1.8"/>
<line x1="48.50" y1="376.50" x2="180.80" y2="376.50" stroke="#111" stroke-width="1.1"/>
<line x1="122.00" y1="376.50" x2="95.10" y2="420.30" stroke="#111" stroke-width="1.8"/>
<line x1="122.00" y1="376.50" x2="103.70" y2="430.00" stroke="#111" stroke-width="1.8"/>
<text x="95.0" y="399.2" font-size="19" id="f26" textLength="13.62" lengthAdjust="spacingAndGlyphs"><tspan font-style="italic">v</tspan><tspan dy="2.60" font-size="13.3">s</tspan></text>
<text x="112.6" y="424.3" font-size="19" id="f27" textLength="13.58" lengthAdjust="spacingAndGlyphs"><tspan font-style="italic">v</tspan><tspan dy="2.40" font-size="13.3">c</tspan></text>
<text x="117.8" y="365.8" font-size="19" id="f28" textLength="22.67" lengthAdjust="spacingAndGlyphs"><tspan font-style="italic">B</tspan><tspan dy="-5.80" font-size="14.5" dx="1.50">+</tspan></text>
<rect x="48.50" y="306.30" width="132.30" height="140.50" fill="none" stroke="#222" stroke-width="1.0"/>
<line x1="48.50" y1="330.60" x2="52.00" y2="330.60" stroke="#222" stroke-width="1"/>
<line x1="48.50" y1="376.50" x2="52.00" y2="376.50" stroke="#222" stroke-width="1"/>
<line x1="48.50" y1="424.00" x2="52.00" y2="424.00" stroke="#222" stroke-width="1"/>
<line x1="48.50" y1="446.80" x2="48.50" y2="443.30" stroke="#222" stroke-width="1"/>
<line x1="101.40" y1="446.80" x2="101.40" y2="443.30" stroke="#222" stroke-width="1"/>
<line x1="154.20" y1="446.80" x2="154.20" y2="443.30" stroke="#222" stroke-width="1"/>
<text x="45.3" y="337.4" font-size="19" text-anchor="end"><tspan>2</tspan></text>
<text x="45.3" y="383.3" font-size="19" text-anchor="end"><tspan>0</tspan></text>
<text x="45.3" y="430.8" font-size="19" text-anchor="end" id="f29" textLength="22.96" lengthAdjust="spacingAndGlyphs"><tspan>−2</tspan></text>
<text x="48.5" y="464.0" font-size="19" text-anchor="middle"><tspan>2</tspan></text>
<text x="154.2" y="464.0" font-size="19" text-anchor="middle"><tspan>4</tspan></text>
<text x="114.6" y="486.8" font-size="19" text-anchor="middle" id="f30" textLength="46.17" lengthAdjust="spacingAndGlyphs"><tspan font-style="italic">B</tspan><tspan> (T)</tspan></text>
<text x="13.6" y="378.0" font-size="19" text-anchor="middle" transform="rotate(-90 13.6 378.0)" id="f31" textLength="70.19" lengthAdjust="spacingAndGlyphs"><tspan font-style="italic">V</tspan><tspan dy="4.18" font-size="13.3">sd</tspan><tspan dy="-4.18"> (mV)</tspan></text>
<g shape-rendering="crispEdges"><path fill="#ffff96" d="M227.5 306.1H230.5V308.2H227.5ZM227.5 307.9H230.5V309.9H227.5ZM227.5 309.6H230.5V311.7H227.5ZM227.5 313.1H230.5V315.2H227.5ZM230.2 318.4H233.3V320.4H230.2ZM227.5 325.4H230.5V327.5H227.5ZM227.5 330.7H230.5V332.7H227.5Z"/><path fill="#ffff78" d="M230.2 306.1H233.3V308.2H230.2ZM227.5 314.9H230.5V316.9H227.5ZM230.2 316.6H233.3V318.7H230.2ZM230.2 327.2H233.3V329.2H230.2ZM230.2 330.7H233.3V332.7H230.2Z"/><path fill="#ffff46" d="M233.0 306.1H236.0V308.2H233.0ZM233.0 307.9H236.0V309.9H233.0ZM233.0 316.6H236.0V318.7H233.0ZM233.0 327.2H236.0V329.2H233.0ZM230.2 339.4H233.3V341.5H230.2ZM230.2 343.0H233.3V345.0H230.2ZM227.5 344.7H230.5V346.8H227.5Z"/><path fill="#ffff0a" d="M235.7 306.1H238.8V308.2H235.7ZM235.7 327.2H238.8V329.2H235.7ZM235.7 330.7H238.8V332.7H235.7ZM233.0 337.7H236.0V339.7H233.0ZM233.0 346.5H236.0V348.5H233.0ZM230.2 350.0H233.3V352.0H230.2ZM227.5 353.5H230.5V355.5H227.5Z"/><path fill="#ffc800" d="M238.5 306.1H241.5V308.2H238.5ZM238.5 309.6H241.5V311.7H238.5ZM238.5 316.6H241.5V318.7H238.5ZM249.4 318.4H252.5V320.4H249.4ZM238.5 321.9H241.5V324.0H238.5ZM238.5 330.7H241.5V332.7H238.5ZM246.7 332.4H249.8V334.5H246.7ZM238.5 335.9H241.5V338.0H238.5ZM235.7 341.2H238.8V343.3H235.7ZM235.7 344.7H238.8V346.8H235.7ZM233.0 353.5H236.0V355.5H233.0ZM233.0 355.2H236.0V357.3H233.0ZM260.4 392.1H266.2V394.2H260.4ZM276.9 392.1H282.7V394.2H276.9ZM285.1 392.1H299.1V394.2H285.1ZM301.6 392.1H312.9V394.2H301.6ZM263.2 407.9H269.0V409.9H263.2ZM274.1 407.9H277.2V409.9H274.1ZM287.9 407.9H293.7V409.9H287.9ZM296.1 407.9H301.9V409.9H296.1ZM304.3 407.9H310.1V409.9H304.3ZM312.6 407.9H315.6V409.9H312.6ZM318.0 407.9H321.1V409.9H318.0ZM271.4 411.4H323.8V413.5H271.4Z"/><path fill="#ff8c00" d="M241.2 306.1H244.3V308.2H241.2ZM241.2 307.9H244.3V309.9H241.2ZM241.2 316.6H244.3V318.7H241.2ZM246.7 318.4H249.8V320.4H246.7ZM241.2 323.7H244.3V325.7H241.2ZM241.2 327.2H244.3V329.2H241.2ZM241.2 330.7H244.3V332.7H241.2ZM244.0 332.4H247.0V334.5H244.0ZM241.2 335.9H247.0V338.0H241.2ZM244.0 339.4H247.0V341.5H244.0ZM244.0 341.2H247.0V343.3H244.0ZM238.5 344.7H241.5V346.8H238.5ZM238.5 348.2H241.5V350.3H238.5ZM244.0 357.0H247.0V359.1H244.0ZM265.9 381.6H269.0V383.6H265.9ZM318.0 386.8H321.1V388.9H318.0ZM252.2 388.6H255.2V390.6H252.2ZM318.0 388.6H321.1V390.6H318.0ZM260.4 390.3H263.5V392.4H260.4ZM271.4 390.3H274.4V392.4H271.4ZM301.6 390.3H304.6V392.4H301.6ZM318.0 390.3H321.1V392.4H318.0ZM320.8 392.1H323.8V394.2H320.8ZM263.2 397.4H266.2V399.4H263.2ZM271.4 397.4H274.4V399.4H271.4ZM279.6 397.4H285.4V399.4H279.6ZM287.9 397.4H290.9V399.4H287.9ZM298.8 397.4H301.9V399.4H298.8ZM309.8 397.4H315.6V399.4H309.8ZM320.8 399.1H323.8V401.2H320.8ZM268.7 400.9H290.9V402.9H268.7ZM293.4 400.9H304.6V402.9H293.4ZM307.1 400.9H321.1V402.9H307.1ZM257.7 402.6H260.7V404.7H257.7ZM320.8 402.6H323.8V404.7H320.8ZM260.4 404.4H263.5V406.4H260.4ZM320.8 404.4H323.8V406.4H320.8ZM257.7 411.4H260.7V413.5H257.7ZM326.3 411.4H329.3V413.5H326.3ZM260.4 413.2H263.5V415.2H260.4ZM326.3 413.2H329.3V415.2H326.3ZM271.4 416.7H279.9V418.7H271.4ZM282.4 416.7H299.1V418.7H282.4ZM301.6 416.7H321.1V418.7H301.6ZM268.7 418.4H304.6V420.5H268.7ZM307.1 418.4H326.6V420.5H307.1ZM268.7 420.2H296.4V422.2H268.7ZM298.8 420.2H326.6V422.2H298.8ZM265.9 421.9H269.0V424.0H265.9ZM268.7 428.9H271.7V431.0H268.7ZM326.3 428.9H332.1V431.0H326.3ZM268.7 436.0H271.7V438.0H268.7ZM331.8 436.0H334.8V438.0H331.8ZM274.1 437.7H332.1V439.8H274.1ZM268.7 444.7H274.4V446.8H268.7ZM279.6 444.7H282.7V446.8H279.6ZM298.8 444.7H301.9V446.8H298.8ZM320.8 444.7H323.8V446.8H320.8Z"/><path fill="#ff6400" d="M244.0 306.1H247.0V308.2H244.0ZM244.0 307.9H247.0V309.9H244.0ZM252.2 313.1H255.2V315.2H252.2ZM244.0 316.6H247.0V318.7H244.0ZM244.0 328.9H247.0V331.0H244.0ZM249.4 328.9H252.5V331.0H249.4ZM249.4 330.7H252.5V332.7H249.4ZM241.2 337.7H244.3V339.7H241.2ZM241.2 341.2H244.3V343.3H241.2ZM246.7 346.5H249.8V348.5H246.7ZM241.2 350.0H244.3V352.0H241.2ZM241.2 353.5H244.3V355.5H241.2ZM241.2 358.8H244.3V360.8H241.2ZM249.4 381.6H252.5V383.6H249.4ZM320.8 395.6H323.8V397.7H320.8ZM254.9 404.4H258.0V406.4H254.9ZM254.9 406.1H258.0V408.2H254.9ZM254.9 407.9H258.0V409.9H254.9ZM257.7 413.2H260.7V415.2H257.7ZM265.9 425.4H269.0V427.5H265.9ZM329.0 425.4H332.1V427.5H329.0ZM331.8 428.9H334.8V431.0H331.8ZM268.7 430.7H279.9V432.8H268.7ZM282.4 430.7H288.2V432.8H282.4ZM290.6 430.7H332.1V432.8H290.6ZM265.9 432.5H269.0V434.5H265.9ZM331.8 432.5H334.8V434.5H331.8ZM265.9 439.5H269.0V441.5H265.9ZM334.5 443.0H337.6V445.0H334.5Z"/><path fill="#ff4600" d="M246.7 306.1H249.8V308.2H246.7ZM246.7 350.0H249.8V352.0H246.7ZM238.5 357.0H241.5V359.1H238.5ZM244.0 360.5H247.0V362.6H244.0ZM254.9 365.8H266.2V367.8H254.9ZM268.7 365.8H277.2V367.8H268.7ZM279.6 365.8H282.7V367.8H279.6ZM285.1 365.8H288.2V367.8H285.1ZM290.6 365.8H293.7V367.8H290.6ZM296.1 365.8H301.9V367.8H296.1ZM304.3 365.8H315.6V367.8H304.3ZM265.9 369.3H271.7V371.3H265.9ZM254.9 371.0H258.0V373.1H254.9ZM260.4 371.0H271.7V373.1H260.4ZM274.1 371.0H288.2V373.1H274.1ZM290.6 371.0H315.6V373.1H290.6ZM304.3 374.5H307.4V376.6H304.3ZM252.2 379.8H255.2V381.9H252.2ZM257.7 379.8H260.7V381.9H257.7ZM263.2 379.8H266.2V381.9H263.2ZM271.4 379.8H279.9V381.9H271.4ZM290.6 379.8H293.7V381.9H290.6ZM296.1 379.8H299.1V381.9H296.1ZM304.3 379.8H307.4V381.9H304.3ZM312.6 379.8H318.3V381.9H312.6ZM329.0 416.7H332.1V418.7H329.0ZM260.4 420.2H263.5V422.2H260.4ZM263.2 425.4H266.2V427.5H263.2ZM331.8 427.2H334.8V429.2H331.8ZM263.2 434.2H266.2V436.3H263.2ZM263.2 436.0H266.2V438.0H263.2ZM263.2 437.7H266.2V439.8H263.2Z"/><path fill="#ff8200" d="M249.4 306.1H252.5V308.2H249.4ZM241.2 309.6H244.3V311.7H241.2ZM241.2 320.1H244.3V322.2H241.2ZM241.2 321.9H244.3V324.0H241.2ZM244.0 330.7H247.0V332.7H244.0ZM246.7 343.0H249.8V345.0H246.7ZM235.7 351.7H238.8V353.8H235.7ZM244.0 351.7H247.0V353.8H244.0ZM235.7 355.2H238.8V357.3H235.7ZM241.2 355.2H244.3V357.3H241.2ZM241.2 357.0H244.3V359.1H241.2ZM230.2 360.5H233.3V362.6H230.2ZM252.2 381.6H266.2V383.6H252.2ZM268.7 381.6H315.6V383.6H268.7ZM252.2 393.9H255.2V395.9H252.2ZM320.8 393.9H323.8V395.9H320.8ZM257.7 395.6H263.5V397.7H257.7ZM265.9 395.6H279.9V397.7H265.9ZM282.4 395.6H318.3V397.7H282.4ZM254.9 397.4H258.0V399.4H254.9ZM320.8 397.4H323.8V399.4H320.8ZM254.9 399.1H258.0V401.2H254.9ZM257.7 400.9H269.0V402.9H257.7ZM304.3 400.9H307.4V402.9H304.3ZM320.8 400.9H323.8V402.9H320.8ZM257.7 404.4H260.7V406.4H257.7ZM326.3 407.9H329.3V409.9H326.3ZM257.7 409.6H260.7V411.7H257.7ZM260.4 414.9H263.5V417.0H260.4ZM265.9 416.7H271.7V418.7H265.9ZM279.6 416.7H282.7V418.7H279.6ZM298.8 416.7H301.9V418.7H298.8ZM320.8 416.7H326.6V418.7H320.8ZM265.9 418.4H269.0V420.5H265.9ZM304.3 418.4H307.4V420.5H304.3ZM326.3 418.4H329.3V420.5H326.3ZM265.9 420.2H269.0V422.2H265.9ZM296.1 420.2H299.1V422.2H296.1ZM326.3 420.2H329.3V422.2H326.3ZM329.0 423.7H332.1V425.7H329.0ZM274.1 427.2H277.2V429.2H274.1ZM285.1 427.2H296.4V429.2H285.1ZM301.6 427.2H304.6V429.2H301.6ZM315.3 427.2H318.3V429.2H315.3ZM320.8 427.2H326.6V429.2H320.8ZM265.9 428.9H269.0V431.0H265.9ZM274.1 432.5H277.2V434.5H274.1ZM282.4 432.5H285.4V434.5H282.4ZM293.4 432.5H301.9V434.5H293.4ZM312.6 432.5H326.6V434.5H312.6ZM271.4 434.2H315.6V436.3H271.4ZM318.0 434.2H321.1V436.3H318.0ZM323.5 434.2H332.1V436.3H323.5ZM265.9 436.0H269.0V438.0H265.9ZM268.7 437.7H274.4V439.8H268.7ZM331.8 437.7H334.8V439.8H331.8ZM334.5 444.7H337.6V446.8H334.5Z"/><path fill="#ffb400" d="M252.2 306.1H255.2V308.2H252.2ZM252.2 307.9H255.2V309.9H252.2ZM238.5 311.4H241.5V313.4H238.5ZM249.4 313.1H252.5V315.2H249.4ZM238.5 314.9H241.5V316.9H238.5ZM249.4 316.6H252.5V318.7H249.4ZM246.7 328.9H249.8V331.0H246.7ZM244.0 343.0H247.0V345.0H244.0ZM244.0 348.2H247.0V350.3H244.0ZM244.0 350.0H247.0V352.0H244.0ZM227.5 358.8H230.5V360.8H227.5ZM318.0 392.1H321.1V394.2H318.0ZM276.9 406.1H285.4V408.2H276.9ZM287.9 406.1H296.4V408.2H287.9ZM301.6 406.1H312.9V408.2H301.6ZM320.8 406.1H323.8V408.2H320.8ZM265.9 409.6H277.2V411.7H265.9ZM282.4 409.6H293.7V411.7H282.4ZM296.1 409.6H304.6V411.7H296.1ZM307.1 409.6H323.8V411.7H307.1ZM268.7 413.2H271.7V415.2H268.7ZM274.1 413.2H277.2V415.2H274.1ZM279.6 413.2H288.2V415.2H279.6ZM290.6 413.2H323.8V415.2H290.6ZM268.7 414.9H277.2V417.0H268.7ZM279.6 414.9H290.9V417.0H279.6ZM293.4 414.9H310.1V417.0H293.4ZM312.6 414.9H321.1V417.0H312.6Z"/><path fill="#ff3c00" d="M254.9 306.1H258.0V308.2H254.9ZM252.2 323.7H255.2V325.7H252.2ZM249.4 334.2H252.5V336.2H249.4ZM249.4 335.9H252.5V338.0H249.4ZM238.5 351.7H244.3V353.8H238.5ZM293.4 355.2H296.4V357.3H293.4ZM301.6 355.2H304.6V357.3H301.6ZM307.1 355.2H310.1V357.3H307.1ZM263.2 357.0H285.4V359.1H263.2ZM290.6 357.0H304.6V359.1H290.6ZM307.1 357.0H312.9V359.1H307.1ZM235.7 358.8H238.8V360.8H235.7ZM257.7 360.5H260.7V362.6H257.7ZM265.9 360.5H296.4V362.6H265.9ZM298.8 360.5H304.6V362.6H298.8ZM307.1 360.5H310.1V362.6H307.1ZM230.2 362.3H233.3V364.3H230.2ZM241.2 362.3H244.3V364.3H241.2ZM260.4 362.3H263.5V364.3H260.4ZM276.9 362.3H279.9V364.3H276.9ZM285.1 362.3H288.2V364.3H285.1ZM301.6 362.3H304.6V364.3H301.6ZM260.4 364.0H266.2V366.1H260.4ZM268.7 364.0H271.7V366.1H268.7ZM287.9 364.0H290.9V366.1H287.9ZM293.4 364.0H296.4V366.1H293.4ZM252.2 365.8H255.2V367.8H252.2ZM315.3 365.8H318.3V367.8H315.3ZM265.9 367.5H277.2V369.6H265.9ZM279.6 367.5H290.9V369.6H279.6ZM296.1 367.5H299.1V369.6H296.1ZM304.3 367.5H307.4V369.6H304.3ZM254.9 369.3H266.2V371.3H254.9ZM271.4 369.3H315.6V371.3H271.4ZM315.3 371.0H318.3V373.1H315.3ZM257.7 372.8H285.4V374.8H257.7ZM287.9 372.8H301.9V374.8H287.9ZM304.3 372.8H307.4V374.8H304.3ZM309.8 372.8H315.6V374.8H309.8ZM254.9 374.5H304.6V376.6H254.9ZM307.1 374.5H318.3V376.6H307.1ZM249.4 379.8H252.5V381.9H249.4ZM249.4 385.1H252.5V387.1H249.4ZM320.8 386.8H323.8V388.9H320.8ZM249.4 390.3H252.5V392.4H249.4ZM323.5 397.4H326.6V399.4H323.5ZM254.9 409.6H258.0V411.7H254.9ZM329.0 411.4H332.1V413.5H329.0ZM329.0 413.2H332.1V415.2H329.0ZM260.4 421.9H263.5V424.0H260.4ZM331.8 423.7H334.8V425.7H331.8ZM263.2 430.7H266.2V432.8H263.2ZM331.8 430.7H334.8V432.8H331.8ZM263.2 432.5H266.2V434.5H263.2ZM334.5 434.2H337.6V436.3H334.5ZM263.2 444.7H266.2V446.8H263.2Z"/><path fill="#ff1400" d="M257.7 306.1H260.7V308.2H257.7ZM263.2 306.1H266.2V308.2H263.2ZM290.6 306.1H293.7V308.2H290.6ZM260.4 307.9H263.5V309.9H260.4ZM265.9 307.9H269.0V309.9H265.9ZM276.9 307.9H288.2V309.9H276.9ZM290.6 307.9H293.7V309.9H290.6ZM254.9 313.1H258.0V315.2H254.9ZM254.9 316.6H258.0V318.7H254.9ZM271.4 316.6H279.9V318.7H271.4ZM282.4 316.6H285.4V318.7H282.4ZM257.7 318.4H260.7V320.4H257.7ZM271.4 318.4H274.4V320.4H271.4ZM276.9 318.4H282.7V320.4H276.9ZM287.9 318.4H290.9V320.4H287.9ZM296.1 318.4H299.1V320.4H296.1ZM301.6 318.4H304.6V320.4H301.6ZM254.9 323.7H263.5V325.7H254.9ZM265.9 323.7H269.0V325.7H265.9ZM274.1 323.7H296.4V325.7H274.1ZM298.8 323.7H304.6V325.7H298.8ZM254.9 325.4H299.1V327.5H254.9ZM254.9 327.2H258.0V329.2H254.9ZM260.4 327.2H263.5V329.2H260.4ZM271.4 327.2H274.4V329.2H271.4ZM282.4 327.2H285.4V329.2H282.4ZM293.4 327.2H296.4V329.2H293.4ZM298.8 327.2H301.9V329.2H298.8ZM252.2 328.9H255.2V331.0H252.2ZM254.9 330.7H258.0V332.7H254.9ZM263.2 330.7H266.2V332.7H263.2ZM271.4 330.7H274.4V332.7H271.4ZM282.4 330.7H285.4V332.7H282.4ZM298.8 330.7H301.9V332.7H298.8ZM254.9 332.4H307.4V334.5H254.9ZM252.2 343.0H263.5V345.0H252.2ZM265.9 343.0H310.1V345.0H265.9ZM249.4 344.7H252.5V346.8H249.4ZM260.4 344.7H266.2V346.8H260.4ZM271.4 344.7H274.4V346.8H271.4ZM279.6 344.7H285.4V346.8H279.6ZM293.4 344.7H299.1V346.8H293.4ZM309.8 346.5H312.9V348.5H309.8ZM252.2 348.2H255.2V350.3H252.2ZM309.8 348.2H312.9V350.3H309.8ZM249.4 350.0H255.2V352.0H249.4ZM257.7 351.7H285.4V353.8H257.7ZM287.9 351.7H310.1V353.8H287.9ZM249.4 353.5H252.5V355.5H249.4ZM312.6 353.5H315.6V355.5H312.6ZM249.4 355.2H252.5V357.3H249.4ZM312.6 355.2H315.6V357.3H312.6ZM249.4 357.0H252.5V359.1H249.4ZM246.7 358.8H249.8V360.8H246.7ZM246.7 360.5H252.5V362.6H246.7ZM233.0 362.3H236.0V364.3H233.0ZM249.4 362.3H252.5V364.3H249.4ZM315.3 362.3H318.3V364.3H315.3ZM241.2 364.0H244.3V366.1H241.2ZM318.0 365.8H321.1V367.8H318.0ZM249.4 369.3H252.5V371.3H249.4ZM318.0 369.3H321.1V371.3H318.0ZM249.4 372.8H252.5V374.8H249.4ZM249.4 374.5H252.5V376.6H249.4ZM244.0 376.3H252.5V378.4H244.0ZM254.9 376.3H258.0V378.4H254.9ZM268.7 376.3H271.7V378.4H268.7ZM279.6 376.3H285.4V378.4H279.6ZM307.1 376.3H310.1V378.4H307.1ZM315.3 376.3H337.6V378.4H315.3ZM340.0 376.3H359.5V378.4H340.0ZM244.0 378.1H247.0V380.1H244.0ZM320.8 378.1H323.8V380.1H320.8ZM235.7 392.1H238.8V394.2H235.7ZM246.7 392.1H249.8V394.2H246.7ZM249.4 395.6H252.5V397.7H249.4ZM249.4 397.4H252.5V399.4H249.4ZM249.4 399.1H252.5V401.2H249.4ZM326.3 400.9H329.3V402.9H326.3ZM252.2 404.4H255.2V406.4H252.2ZM252.2 406.1H255.2V408.2H252.2ZM233.0 407.9H236.0V409.9H233.0ZM329.0 409.6H332.1V411.7H329.0ZM331.8 420.2H334.8V422.2H331.8ZM334.5 430.7H337.6V432.8H334.5ZM337.2 436.0H340.3V438.0H337.2ZM337.2 437.7H340.3V439.8H337.2ZM227.5 439.5H230.5V441.5H227.5ZM337.2 439.5H340.3V441.5H337.2Z"/><path fill="#ff0a00" d="M260.4 306.1H263.5V308.2H260.4ZM265.9 306.1H290.9V308.2H265.9ZM293.4 306.1H299.1V308.2H293.4ZM257.7 307.9H260.7V309.9H257.7ZM263.2 307.9H266.2V309.9H263.2ZM268.7 307.9H277.2V309.9H268.7ZM287.9 307.9H290.9V309.9H287.9ZM293.4 307.9H301.9V309.9H293.4ZM257.7 309.6H299.1V311.7H257.7ZM260.4 311.4H263.5V313.4H260.4ZM274.1 311.4H277.2V313.4H274.1ZM285.1 311.4H288.2V313.4H285.1ZM257.7 313.1H277.2V315.2H257.7ZM279.6 313.1H299.1V315.2H279.6ZM254.9 314.9H258.0V316.9H254.9ZM271.4 314.9H274.4V316.9H271.4ZM276.9 314.9H282.7V316.9H276.9ZM287.9 314.9H290.9V316.9H287.9ZM257.7 316.6H271.7V318.7H257.7ZM279.6 316.6H282.7V318.7H279.6ZM285.1 316.6H301.9V318.7H285.1ZM304.3 318.4H307.4V320.4H304.3ZM254.9 320.1H263.5V322.2H254.9ZM265.9 320.1H288.2V322.2H265.9ZM290.6 320.1H293.7V322.2H290.6ZM296.1 320.1H301.9V322.2H296.1ZM254.9 321.9H258.0V324.0H254.9ZM260.4 321.9H274.4V324.0H260.4ZM276.9 321.9H288.2V324.0H276.9ZM290.6 321.9H293.7V324.0H290.6ZM296.1 321.9H301.9V324.0H296.1ZM263.2 323.7H266.2V325.7H263.2ZM268.7 323.7H274.4V325.7H268.7ZM296.1 323.7H299.1V325.7H296.1ZM304.3 323.7H307.4V325.7H304.3ZM298.8 325.4H307.4V327.5H298.8ZM257.7 327.2H260.7V329.2H257.7ZM263.2 327.2H271.7V329.2H263.2ZM274.1 327.2H282.7V329.2H274.1ZM285.1 327.2H293.7V329.2H285.1ZM296.1 327.2H299.1V329.2H296.1ZM301.6 327.2H307.4V329.2H301.6ZM254.9 328.9H258.0V331.0H254.9ZM279.6 328.9H282.7V331.0H279.6ZM285.1 328.9H290.9V331.0H285.1ZM257.7 330.7H263.5V332.7H257.7ZM265.9 330.7H271.7V332.7H265.9ZM274.1 330.7H282.7V332.7H274.1ZM285.1 330.7H299.1V332.7H285.1ZM301.6 330.7H307.4V332.7H301.6ZM263.2 334.2H266.2V336.2H263.2ZM252.2 335.9H290.9V338.0H252.2ZM293.4 335.9H307.4V338.0H293.4ZM257.7 339.4H269.0V341.5H257.7ZM274.1 339.4H277.2V341.5H274.1ZM293.4 339.4H296.4V341.5H293.4ZM257.7 341.2H260.7V343.3H257.7ZM252.2 344.7H260.7V346.8H252.2ZM265.9 344.7H271.7V346.8H265.9ZM274.1 344.7H279.9V346.8H274.1ZM285.1 344.7H293.7V346.8H285.1ZM298.8 344.7H310.1V346.8H298.8ZM312.6 348.2H315.6V350.3H312.6ZM312.6 350.0H315.6V352.0H312.6ZM254.9 351.7H258.0V353.8H254.9ZM285.1 351.7H288.2V353.8H285.1ZM309.8 351.7H312.9V353.8H309.8ZM315.3 355.2H318.3V357.3H315.3ZM315.3 357.0H318.3V359.1H315.3ZM249.4 358.8H252.5V360.8H249.4ZM315.3 360.5H318.3V362.6H315.3ZM249.4 364.0H252.5V366.1H249.4ZM246.7 365.8H249.8V367.8H246.7ZM249.4 367.5H252.5V369.6H249.4ZM323.5 378.1H326.6V380.1H323.5ZM334.5 378.1H337.6V380.1H334.5ZM345.5 378.1H348.5V380.1H345.5ZM320.8 381.6H323.8V383.6H320.8ZM246.7 385.1H249.8V387.1H246.7ZM235.7 386.8H238.8V388.9H235.7ZM246.7 388.6H249.8V390.6H246.7ZM323.5 390.3H326.6V392.4H323.5ZM235.7 393.9H238.8V395.9H235.7ZM326.3 399.1H329.3V401.2H326.3ZM233.0 402.6H236.0V404.7H233.0ZM233.0 406.1H236.0V408.2H233.0ZM230.2 407.9H233.3V409.9H230.2ZM252.2 407.9H255.2V409.9H252.2ZM254.9 413.2H258.0V415.2H254.9ZM257.7 418.4H260.7V420.5H257.7ZM331.8 418.4H334.8V420.5H331.8ZM230.2 423.7H233.3V425.7H230.2ZM260.4 425.4H263.5V427.5H260.4ZM260.4 427.2H263.5V429.2H260.4ZM334.5 427.2H337.6V429.2H334.5ZM260.4 428.9H263.5V431.0H260.4ZM340.0 444.7H343.0V446.8H340.0Z"/><path fill="#ff0000" d="M298.8 306.1H301.9V308.2H298.8ZM298.8 309.6H301.9V311.7H298.8ZM257.7 311.4H260.7V313.4H257.7ZM263.2 311.4H274.4V313.4H263.2ZM276.9 311.4H285.4V313.4H276.9ZM287.9 311.4H290.9V313.4H287.9ZM293.4 311.4H296.4V313.4H293.4ZM276.9 313.1H279.9V315.2H276.9ZM298.8 313.1H301.9V315.2H298.8ZM257.7 314.9H271.7V316.9H257.7ZM274.1 314.9H277.2V316.9H274.1ZM282.4 314.9H288.2V316.9H282.4ZM290.6 314.9H296.4V316.9H290.6ZM298.8 314.9H301.9V316.9H298.8ZM301.6 316.6H304.6V318.7H301.6ZM263.2 320.1H266.2V322.2H263.2ZM287.9 320.1H290.9V322.2H287.9ZM293.4 320.1H296.4V322.2H293.4ZM301.6 320.1H304.6V322.2H301.6ZM257.7 321.9H260.7V324.0H257.7ZM274.1 321.9H277.2V324.0H274.1ZM287.9 321.9H290.9V324.0H287.9ZM293.4 321.9H296.4V324.0H293.4ZM257.7 328.9H260.7V331.0H257.7ZM263.2 328.9H277.2V331.0H263.2ZM282.4 328.9H285.4V331.0H282.4ZM290.6 328.9H293.7V331.0H290.6ZM296.1 328.9H304.6V331.0H296.1ZM307.1 332.4H310.1V334.5H307.1ZM252.2 334.2H258.0V336.2H252.2ZM265.9 334.2H269.0V336.2H265.9ZM274.1 334.2H279.9V336.2H274.1ZM290.6 334.2H301.9V336.2H290.6ZM304.3 334.2H307.4V336.2H304.3ZM290.6 335.9H293.7V338.0H290.6ZM260.4 337.7H263.5V339.7H260.4ZM271.4 337.7H277.2V339.7H271.4ZM252.2 339.4H258.0V341.5H252.2ZM268.7 339.4H274.4V341.5H268.7ZM276.9 339.4H285.4V341.5H276.9ZM287.9 339.4H290.9V341.5H287.9ZM296.1 339.4H307.4V341.5H296.1ZM260.4 341.2H263.5V343.3H260.4ZM268.7 341.2H274.4V343.3H268.7ZM276.9 341.2H288.2V343.3H276.9ZM293.4 341.2H296.4V343.3H293.4ZM298.8 341.2H310.1V343.3H298.8ZM309.8 343.0H312.9V345.0H309.8ZM309.8 344.7H312.9V346.8H309.8ZM312.6 346.5H315.6V348.5H312.6ZM252.2 351.7H255.2V353.8H252.2ZM246.7 362.3H249.8V364.3H246.7ZM227.5 364.0H230.5V366.1H227.5ZM244.0 364.0H247.0V366.1H244.0ZM318.0 367.5H321.1V369.6H318.0ZM246.7 371.0H249.8V373.1H246.7ZM246.7 374.5H249.8V376.6H246.7ZM238.5 378.1H244.3V380.1H238.5ZM326.3 378.1H334.8V380.1H326.3ZM340.0 378.1H343.0V380.1H340.0ZM320.8 379.8H323.8V381.9H320.8ZM233.0 404.4H236.0V406.4H233.0ZM329.0 406.1H332.1V408.2H329.0ZM233.0 411.4H236.0V413.5H233.0ZM230.2 421.9H233.3V424.0H230.2Z"/><path fill="#f00000" d="M301.6 306.1H304.6V308.2H301.6ZM309.8 307.9H312.9V309.9H309.8ZM318.0 307.9H323.8V309.9H318.0ZM304.3 309.6H307.4V311.7H304.3ZM301.6 311.4H304.6V313.4H301.6ZM304.3 313.1H307.4V315.2H304.3ZM304.3 316.6H310.1V318.7H304.3ZM312.6 318.4H318.3V320.4H312.6ZM320.8 318.4H323.8V320.4H320.8ZM326.3 318.4H329.3V320.4H326.3ZM304.3 320.1H307.4V322.2H304.3ZM309.8 323.7H312.9V325.7H309.8ZM315.3 323.7H326.6V325.7H315.3ZM309.8 325.4H312.9V327.5H309.8ZM318.0 325.4H321.1V327.5H318.0ZM307.1 327.2H312.9V329.2H307.1ZM309.8 330.7H312.9V332.7H309.8ZM312.6 332.4H326.6V334.5H312.6ZM309.8 335.9H312.9V338.0H309.8ZM304.3 337.7H307.4V339.7H304.3ZM309.8 341.2H312.9V343.3H309.8ZM312.6 343.0H315.6V345.0H312.6ZM315.3 346.5H318.3V348.5H315.3ZM315.3 348.2H318.3V350.3H315.3ZM312.6 351.7H315.6V353.8H312.6ZM318.0 355.2H321.1V357.3H318.0ZM318.0 357.0H321.1V359.1H318.0ZM318.0 360.5H321.1V362.6H318.0ZM235.7 362.3H238.8V364.3H235.7ZM318.0 362.3H321.1V364.3H318.0ZM230.2 364.0H233.3V366.1H230.2ZM241.2 365.8H244.3V367.8H241.2ZM320.8 365.8H323.8V367.8H320.8ZM246.7 367.5H249.8V369.6H246.7ZM320.8 369.3H323.8V371.3H320.8ZM320.8 372.8H323.8V374.8H320.8ZM238.5 379.8H241.5V381.9H238.5ZM235.7 385.1H238.8V387.1H235.7ZM235.7 395.6H238.8V397.7H235.7ZM249.4 400.9H252.5V402.9H249.4ZM249.4 402.6H252.5V404.7H249.4ZM233.0 413.2H236.0V415.2H233.0ZM254.9 414.9H258.0V417.0H254.9ZM230.2 416.7H233.3V418.7H230.2ZM230.2 418.4H233.3V420.5H230.2ZM257.7 420.2H260.7V422.2H257.7ZM230.2 425.4H233.3V427.5H230.2ZM334.5 425.4H337.6V427.5H334.5ZM340.0 443.0H343.0V445.0H340.0Z"/><path fill="#e60000" d="M304.3 306.1H329.3V308.2H304.3ZM304.3 307.9H310.1V309.9H304.3ZM312.6 307.9H318.3V309.9H312.6ZM323.5 307.9H329.3V309.9H323.5ZM307.1 309.6H312.9V311.7H307.1ZM315.3 309.6H326.6V311.7H315.3ZM304.3 311.4H307.4V313.4H304.3ZM315.3 311.4H318.3V313.4H315.3ZM307.1 313.1H326.6V315.2H307.1ZM304.3 314.9H307.4V316.9H304.3ZM309.8 316.6H329.3V318.7H309.8ZM307.1 320.1H312.9V322.2H307.1ZM315.3 320.1H318.3V322.2H315.3ZM320.8 320.1H323.8V322.2H320.8ZM307.1 321.9H312.9V324.0H307.1ZM312.6 323.7H315.6V325.7H312.6ZM326.3 323.7H329.3V325.7H326.3ZM312.6 325.4H318.3V327.5H312.6ZM320.8 325.4H326.6V327.5H320.8ZM312.6 327.2H326.6V329.2H312.6ZM307.1 328.9H312.9V331.0H307.1ZM312.6 330.7H323.8V332.7H312.6ZM309.8 334.2H312.9V336.2H309.8ZM312.6 335.9H318.3V338.0H312.6ZM320.8 335.9H323.8V338.0H320.8ZM309.8 337.7H312.9V339.7H309.8ZM309.8 339.4H312.9V341.5H309.8ZM315.3 343.0H323.8V345.0H315.3ZM312.6 344.7H315.6V346.8H312.6ZM318.0 346.5H323.8V348.5H318.0ZM318.0 348.2H326.6V350.3H318.0ZM315.3 350.0H323.8V352.0H315.3ZM318.0 353.5H321.1V355.5H318.0ZM320.8 355.2H323.8V357.3H320.8ZM320.8 357.0H323.8V359.1H320.8ZM318.0 358.8H321.1V360.8H318.0ZM320.8 360.5H323.8V362.6H320.8ZM320.8 362.3H323.8V364.3H320.8ZM320.8 367.5H323.8V369.6H320.8ZM244.0 369.3H247.0V371.3H244.0ZM244.0 371.0H247.0V373.1H244.0ZM244.0 374.5H247.0V376.6H244.0ZM238.5 381.6H241.5V383.6H238.5ZM244.0 386.8H247.0V388.9H244.0ZM326.3 395.6H329.3V397.7H326.3ZM235.7 397.4H238.8V399.4H235.7ZM233.0 399.1H236.0V401.2H233.0ZM329.0 404.4H332.1V406.4H329.0ZM233.0 414.9H236.0V417.0H233.0ZM257.7 421.9H260.7V424.0H257.7ZM334.5 421.9H337.6V424.0H334.5ZM260.4 430.7H263.5V432.8H260.4ZM260.4 432.5H263.5V434.5H260.4ZM337.2 432.5H340.3V434.5H337.2ZM260.4 436.0H263.5V438.0H260.4Z"/><path fill="#d20000" d="M329.0 306.1H332.1V308.2H329.0ZM329.0 307.9H332.1V309.9H329.0ZM326.3 314.9H329.3V316.9H326.3ZM329.0 318.4H332.1V320.4H329.0ZM326.3 321.9H329.3V324.0H326.3ZM326.3 327.2H329.3V329.2H326.3ZM326.3 330.7H329.3V332.7H326.3ZM326.3 332.4H329.3V334.5H326.3ZM323.5 334.2H326.6V336.2H323.5ZM315.3 337.7H326.6V339.7H315.3ZM315.3 339.4H318.3V341.5H315.3ZM323.5 339.4H326.6V341.5H323.5ZM320.8 341.2H323.8V343.3H320.8ZM323.5 344.7H326.6V346.8H323.5ZM318.0 351.7H321.1V353.8H318.0ZM323.5 353.5H326.6V355.5H323.5ZM320.8 358.8H323.8V360.8H320.8ZM323.5 360.5H326.6V362.6H323.5ZM233.0 364.0H236.0V366.1H233.0ZM238.5 365.8H241.5V367.8H238.5ZM323.5 365.8H326.6V367.8H323.5ZM323.5 371.0H326.6V373.1H323.5ZM244.0 372.8H247.0V374.8H244.0ZM238.5 376.3H241.5V378.4H238.5ZM244.0 385.1H247.0V387.1H244.0ZM323.5 385.1H326.6V387.1H323.5ZM244.0 388.6H247.0V390.6H244.0ZM244.0 392.1H247.0V394.2H244.0ZM233.0 397.4H236.0V399.4H233.0ZM246.7 399.1H249.8V401.2H246.7ZM249.4 406.1H252.5V408.2H249.4ZM252.2 411.4H255.2V413.5H252.2ZM334.5 420.2H337.6V422.2H334.5ZM257.7 423.7H260.7V425.7H257.7ZM337.2 428.9H340.3V431.0H337.2ZM227.5 430.7H230.5V432.8H227.5ZM340.0 439.5H343.0V441.5H340.0ZM260.4 444.7H263.5V446.8H260.4Z"/><path fill="#b40000" d="M331.8 306.1H334.8V308.2H331.8ZM331.8 318.4H334.8V320.4H331.8ZM329.0 320.1H332.1V322.2H329.0ZM329.0 321.9H332.1V324.0H329.0ZM329.0 327.2H332.1V329.2H329.0ZM329.0 330.7H332.1V332.7H329.0ZM329.0 332.4H332.1V334.5H329.0ZM326.3 337.7H329.3V339.7H326.3ZM326.3 341.2H329.3V343.3H326.3ZM326.3 344.7H329.3V346.8H326.3ZM326.3 353.5H329.3V355.5H326.3ZM326.3 355.2H329.3V357.3H326.3ZM230.2 365.8H236.0V367.8H230.2ZM326.3 365.8H329.3V367.8H326.3ZM326.3 371.0H329.3V373.1H326.3ZM235.7 378.1H238.8V380.1H235.7ZM331.8 379.8H334.8V381.9H331.8ZM342.7 379.8H345.8V381.9H342.7ZM348.2 379.8H359.5V381.9H348.2ZM238.5 385.1H241.5V387.1H238.5ZM238.5 386.8H241.5V388.9H238.5ZM326.3 388.6H329.3V390.6H326.3ZM326.3 390.3H329.3V392.4H326.3ZM238.5 392.1H241.5V394.2H238.5ZM233.0 395.6H236.0V397.7H233.0ZM235.7 402.6H238.8V404.7H235.7ZM246.7 402.6H249.8V404.7H246.7ZM331.8 406.1H334.8V408.2H331.8ZM235.7 407.9H238.8V409.9H235.7ZM227.5 413.2H230.5V415.2H227.5ZM252.2 413.2H255.2V415.2H252.2ZM227.5 423.7H230.5V425.7H227.5ZM337.2 423.7H340.3V425.7H337.2ZM227.5 427.2H230.5V429.2H227.5ZM337.2 427.2H340.3V429.2H337.2ZM230.2 434.2H233.3V436.3H230.2ZM230.2 436.0H233.3V438.0H230.2Z"/><path fill="#960000" d="M334.5 306.1H337.6V308.2H334.5ZM337.2 307.9H340.3V309.9H337.2ZM334.5 309.6H337.6V311.7H334.5ZM334.5 313.1H337.6V315.2H334.5ZM334.5 316.6H340.3V318.7H334.5ZM340.0 318.4H345.8V320.4H340.0ZM331.8 320.1H337.6V322.2H331.8ZM331.8 321.9H334.8V324.0H331.8ZM334.5 323.7H337.6V325.7H334.5ZM340.0 323.7H343.0V325.7H340.0ZM334.5 325.4H340.3V327.5H334.5ZM337.2 327.2H340.3V329.2H337.2ZM334.5 330.7H337.6V332.7H334.5ZM334.5 332.4H343.0V334.5H334.5ZM331.8 335.9H334.8V338.0H331.8ZM329.0 337.7H332.1V339.7H329.0ZM329.0 339.4H332.1V341.5H329.0ZM329.0 341.2H332.1V343.3H329.0ZM331.8 343.0H334.8V345.0H331.8ZM329.0 344.7H332.1V346.8H329.0ZM331.8 346.5H343.0V348.5H331.8ZM331.8 348.2H334.8V350.3H331.8ZM340.0 348.2H343.0V350.3H340.0ZM329.0 350.0H340.3V352.0H329.0ZM329.0 353.5H334.8V355.5H329.0ZM331.8 355.2H337.6V357.3H331.8ZM329.0 357.0H340.3V359.1H329.0ZM329.0 360.5H332.1V362.6H329.0ZM329.0 362.3H332.1V364.3H329.0ZM329.0 364.0H332.1V366.1H329.0ZM337.2 365.8H343.0V367.8H337.2ZM329.0 367.5H332.1V369.6H329.0ZM331.8 369.3H337.6V371.3H331.8ZM337.2 371.0H343.0V373.1H337.2ZM238.5 372.8H241.5V374.8H238.5ZM329.0 372.8H332.1V374.8H329.0ZM329.0 374.5H337.6V376.6H329.0ZM340.0 374.5H343.0V376.6H340.0ZM235.7 376.3H238.8V378.4H235.7ZM326.3 381.6H340.3V383.6H326.3ZM331.8 383.3H334.8V385.4H331.8ZM337.2 383.3H340.3V385.4H337.2ZM329.0 386.8H332.1V388.9H329.0ZM233.0 390.3H236.0V392.4H233.0ZM230.2 392.1H233.3V394.2H230.2ZM331.8 392.1H348.5V394.2H331.8ZM241.2 393.9H244.3V395.9H241.2ZM334.5 393.9H337.6V395.9H334.5ZM329.0 395.6H332.1V397.7H329.0ZM238.5 397.4H241.5V399.4H238.5ZM230.2 399.1H233.3V401.2H230.2ZM331.8 399.1H334.8V401.2H331.8ZM230.2 400.9H233.3V402.9H230.2ZM246.7 406.1H249.8V408.2H246.7ZM334.5 407.9H340.3V409.9H334.5ZM235.7 409.6H238.8V411.7H235.7ZM227.5 411.4H230.5V413.5H227.5ZM249.4 411.4H252.5V413.5H249.4ZM334.5 411.4H337.6V413.5H334.5ZM235.7 413.2H238.8V415.2H235.7ZM334.5 413.2H337.6V415.2H334.5ZM235.7 414.9H238.8V417.0H235.7ZM227.5 418.4H230.5V420.5H227.5ZM340.0 421.9H343.0V424.0H340.0ZM342.7 423.7H345.8V425.7H342.7ZM257.7 427.2H260.7V429.2H257.7ZM257.7 428.9H260.7V431.0H257.7ZM340.0 428.9H343.0V431.0H340.0ZM342.7 436.0H345.8V438.0H342.7ZM342.7 437.7H345.8V439.8H342.7ZM230.2 439.5H233.3V441.5H230.2ZM342.7 439.5H345.8V441.5H342.7ZM230.2 441.2H233.3V443.3H230.2ZM342.7 441.2H345.8V443.3H342.7ZM227.5 444.7H230.5V446.8H227.5ZM345.5 444.7H348.5V446.8H345.5Z"/><path fill="#8c0000" d="M337.2 306.1H343.0V308.2H337.2ZM340.0 307.9H345.8V309.9H340.0ZM337.2 309.6H343.0V311.7H337.2ZM334.5 311.4H337.6V313.4H334.5ZM337.2 313.1H340.3V315.2H337.2ZM334.5 314.9H340.3V316.9H334.5ZM340.0 316.6H345.8V318.7H340.0ZM345.5 318.4H351.3V320.4H345.5ZM337.2 320.1H340.3V322.2H337.2ZM334.5 321.9H340.3V324.0H334.5ZM337.2 323.7H340.3V325.7H337.2ZM342.7 323.7H348.5V325.7H342.7ZM340.0 325.4H345.8V327.5H340.0ZM340.0 327.2H348.5V329.2H340.0ZM331.8 328.9H343.0V331.0H331.8ZM337.2 330.7H343.0V332.7H337.2ZM342.7 332.4H348.5V334.5H342.7ZM331.8 334.2H334.8V336.2H331.8ZM334.5 335.9H343.0V338.0H334.5ZM331.8 339.4H334.8V341.5H331.8ZM331.8 341.2H334.8V343.3H331.8ZM334.5 343.0H343.0V345.0H334.5ZM337.2 344.7H340.3V346.8H337.2ZM342.7 346.5H345.8V348.5H342.7ZM337.2 348.2H340.3V350.3H337.2ZM342.7 348.2H345.8V350.3H342.7ZM340.0 350.0H343.0V352.0H340.0ZM334.5 353.5H340.3V355.5H334.5ZM337.2 355.2H345.8V357.3H337.2ZM340.0 357.0H345.8V359.1H340.0ZM329.0 358.8H332.1V360.8H329.0ZM334.5 358.8H337.6V360.8H334.5ZM331.8 360.5H340.3V362.6H331.8ZM331.8 362.3H334.8V364.3H331.8ZM331.8 364.0H337.6V366.1H331.8ZM342.7 365.8H351.3V367.8H342.7ZM353.7 365.8H356.8V367.8H353.7ZM235.7 367.5H238.8V369.6H235.7ZM331.8 367.5H340.3V369.6H331.8ZM337.2 369.3H345.8V371.3H337.2ZM342.7 371.0H351.3V373.1H342.7ZM331.8 372.8H343.0V374.8H331.8ZM235.7 374.5H238.8V376.6H235.7ZM337.2 374.5H340.3V376.6H337.2ZM233.0 378.1H236.0V380.1H233.0ZM233.0 381.6H236.0V383.6H233.0ZM340.0 381.6H356.8V383.6H340.0ZM227.5 383.3H233.3V385.4H227.5ZM329.0 383.3H332.1V385.4H329.0ZM334.5 383.3H337.6V385.4H334.5ZM340.0 383.3H351.3V385.4H340.0ZM353.7 383.3H356.8V385.4H353.7ZM233.0 385.1H236.0V387.1H233.0ZM326.3 385.1H329.3V387.1H326.3ZM331.8 386.8H348.5V388.9H331.8ZM329.0 388.6H332.1V390.6H329.0ZM241.2 390.3H244.3V392.4H241.2ZM227.5 392.1H230.5V394.2H227.5ZM348.2 392.1H359.5V394.2H348.2ZM230.2 393.9H233.3V395.9H230.2ZM331.8 393.9H334.8V395.9H331.8ZM337.2 393.9H348.5V395.9H337.2ZM238.5 395.6H241.5V397.7H238.5ZM331.8 397.4H334.8V399.4H331.8ZM238.5 399.1H241.5V401.2H238.5ZM334.5 399.1H345.8V401.2H334.5ZM244.0 400.9H247.0V402.9H244.0ZM331.8 400.9H334.8V402.9H331.8ZM238.5 402.6H241.5V404.7H238.5ZM244.0 402.6H247.0V404.7H244.0ZM334.5 402.6H337.6V404.7H334.5ZM340.0 402.6H345.8V404.7H340.0ZM227.5 404.4H230.5V406.4H227.5ZM334.5 404.4H337.6V406.4H334.5ZM334.5 406.1H345.8V408.2H334.5ZM246.7 407.9H249.8V409.9H246.7ZM340.0 407.9H354.0V409.9H340.0ZM337.2 414.9H340.3V417.0H337.2ZM337.2 420.2H340.3V422.2H337.2ZM254.9 421.9H258.0V424.0H254.9ZM342.7 421.9H345.8V424.0H342.7ZM340.0 423.7H343.0V425.7H340.0ZM345.5 423.7H354.0V425.7H345.5ZM233.0 425.4H236.0V427.5H233.0ZM233.0 427.2H236.0V429.2H233.0ZM342.7 434.2H345.8V436.3H342.7ZM233.0 436.0H236.0V438.0H233.0ZM345.5 436.0H351.3V438.0H345.5ZM233.0 437.7H236.0V439.8H233.0ZM230.2 444.7H236.0V446.8H230.2ZM257.7 444.7H260.7V446.8H257.7ZM348.2 444.7H356.8V446.8H348.2Z"/><path fill="#820000" d="M342.7 306.1H348.5V308.2H342.7ZM345.5 307.9H351.3V309.9H345.5ZM342.7 309.6H345.8V311.7H342.7ZM337.2 311.4H343.0V313.4H337.2ZM340.0 313.1H348.5V315.2H340.0ZM340.0 314.9H345.8V316.9H340.0ZM345.5 316.6H351.3V318.7H345.5ZM351.0 318.4H359.5V320.4H351.0ZM340.0 320.1H345.8V322.2H340.0ZM340.0 321.9H345.8V324.0H340.0ZM348.2 323.7H354.0V325.7H348.2ZM345.5 325.4H354.0V327.5H345.5ZM348.2 327.2H351.3V329.2H348.2ZM342.7 328.9H345.8V331.0H342.7ZM342.7 330.7H348.5V332.7H342.7ZM348.2 332.4H359.5V334.5H348.2ZM334.5 334.2H343.0V336.2H334.5ZM342.7 335.9H345.8V338.0H342.7ZM331.8 337.7H340.3V339.7H331.8ZM334.5 339.4H345.8V341.5H334.5ZM342.7 343.0H348.5V345.0H342.7ZM331.8 344.7H337.6V346.8H331.8ZM345.5 346.5H354.0V348.5H345.5ZM345.5 348.2H354.0V350.3H345.5ZM342.7 350.0H345.8V352.0H342.7ZM348.2 350.0H354.0V352.0H348.2ZM329.0 351.7H332.1V353.8H329.0ZM340.0 353.5H348.5V355.5H340.0ZM345.5 355.2H351.3V357.3H345.5ZM345.5 357.0H351.3V359.1H345.5ZM331.8 358.8H334.8V360.8H331.8ZM337.2 358.8H343.0V360.8H337.2ZM340.0 360.5H348.5V362.6H340.0ZM334.5 362.3H343.0V364.3H334.5ZM337.2 364.0H348.5V366.1H337.2ZM351.0 365.8H354.0V367.8H351.0ZM356.5 365.8H359.5V367.8H356.5ZM233.0 367.5H236.0V369.6H233.0ZM340.0 367.5H343.0V369.6H340.0ZM345.5 367.5H348.5V369.6H345.5ZM235.7 369.3H238.8V371.3H235.7ZM345.5 369.3H354.0V371.3H345.5ZM227.5 371.0H238.8V373.1H227.5ZM351.0 371.0H359.5V373.1H351.0ZM342.7 372.8H345.8V374.8H342.7ZM342.7 374.5H345.8V376.6H342.7ZM230.2 376.3H236.0V378.4H230.2ZM230.2 378.1H233.3V380.1H230.2ZM233.0 379.8H236.0V381.9H233.0ZM356.5 381.6H359.5V383.6H356.5ZM351.0 383.3H354.0V385.4H351.0ZM356.5 383.3H359.5V385.4H356.5ZM227.5 386.8H233.3V388.9H227.5ZM348.2 386.8H359.5V388.9H348.2ZM230.2 388.6H233.3V390.6H230.2ZM331.8 388.6H351.3V390.6H331.8ZM329.0 390.3H334.8V392.4H329.0ZM337.2 390.3H340.3V392.4H337.2ZM227.5 393.9H230.5V395.9H227.5ZM348.2 393.9H356.8V395.9H348.2ZM331.8 395.6H334.8V397.7H331.8ZM230.2 397.4H233.3V399.4H230.2ZM241.2 397.4H244.3V399.4H241.2ZM334.5 397.4H351.3V399.4H334.5ZM227.5 399.1H230.5V401.2H227.5ZM241.2 399.1H244.3V401.2H241.2ZM345.5 399.1H354.0V401.2H345.5ZM238.5 400.9H241.5V402.9H238.5ZM334.5 400.9H345.8V402.9H334.5ZM227.5 402.6H230.5V404.7H227.5ZM241.2 402.6H244.3V404.7H241.2ZM337.2 402.6H340.3V404.7H337.2ZM345.5 402.6H354.0V404.7H345.5ZM356.5 402.6H359.5V404.7H356.5ZM238.5 404.4H241.5V406.4H238.5ZM244.0 404.4H247.0V406.4H244.0ZM337.2 404.4H343.0V406.4H337.2ZM238.5 406.1H247.0V408.2H238.5ZM345.5 406.1H359.5V408.2H345.5ZM238.5 407.9H244.3V409.9H238.5ZM353.7 407.9H359.5V409.9H353.7ZM334.5 409.6H340.3V411.7H334.5ZM337.2 411.4H351.3V413.5H337.2ZM337.2 413.2H343.0V415.2H337.2ZM340.0 414.9H343.0V417.0H340.0ZM345.5 414.9H348.5V417.0H345.5ZM235.7 416.7H238.8V418.7H235.7ZM252.2 416.7H255.2V418.7H252.2ZM337.2 416.7H340.3V418.7H337.2ZM235.7 418.4H238.8V420.5H235.7ZM337.2 418.4H345.8V420.5H337.2ZM235.7 420.2H238.8V422.2H235.7ZM340.0 420.2H343.0V422.2H340.0ZM345.5 420.2H348.5V422.2H345.5ZM235.7 421.9H238.8V424.0H235.7ZM345.5 421.9H359.5V424.0H345.5ZM235.7 423.7H238.8V425.7H235.7ZM353.7 423.7H359.5V425.7H353.7ZM340.0 425.4H343.0V427.5H340.0ZM340.0 427.2H343.0V429.2H340.0ZM342.7 428.9H354.0V431.0H342.7ZM340.0 430.7H343.0V432.8H340.0ZM233.0 432.5H236.0V434.5H233.0ZM342.7 432.5H345.8V434.5H342.7ZM233.0 434.2H236.0V436.3H233.0ZM235.7 436.0H238.8V438.0H235.7ZM257.7 436.0H260.7V438.0H257.7ZM351.0 436.0H356.8V438.0H351.0ZM235.7 437.7H238.8V439.8H235.7ZM345.5 437.7H351.3V439.8H345.5ZM353.7 437.7H356.8V439.8H353.7ZM345.5 439.5H348.5V441.5H345.5ZM345.5 441.2H348.5V443.3H345.5ZM230.2 443.0H233.3V445.0H230.2ZM345.5 443.0H348.5V445.0H345.5ZM235.7 444.7H241.5V446.8H235.7ZM356.5 444.7H359.5V446.8H356.5Z"/><path fill="#780000" d="M348.2 306.1H354.0V308.2H348.2ZM356.5 306.1H359.5V308.2H356.5ZM351.0 307.9H359.5V309.9H351.0ZM345.5 309.6H354.0V311.7H345.5ZM356.5 309.6H359.5V311.7H356.5ZM342.7 311.4H348.5V313.4H342.7ZM348.2 313.1H354.0V315.2H348.2ZM356.5 313.1H359.5V315.2H356.5ZM345.5 314.9H348.5V316.9H345.5ZM351.0 316.6H359.5V318.7H351.0ZM345.5 320.1H354.0V322.2H345.5ZM345.5 321.9H354.0V324.0H345.5ZM353.7 323.7H359.5V325.7H353.7ZM353.7 325.4H359.5V327.5H353.7ZM351.0 327.2H359.5V329.2H351.0ZM345.5 328.9H348.5V331.0H345.5ZM351.0 328.9H354.0V331.0H351.0ZM348.2 330.7H356.8V332.7H348.2ZM342.7 334.2H345.8V336.2H342.7ZM345.5 335.9H354.0V338.0H345.5ZM340.0 337.7H345.8V339.7H340.0ZM345.5 339.4H348.5V341.5H345.5ZM334.5 341.2H345.8V343.3H334.5ZM348.2 343.0H351.3V345.0H348.2ZM353.7 343.0H356.8V345.0H353.7ZM340.0 344.7H348.5V346.8H340.0ZM353.7 346.5H359.5V348.5H353.7ZM353.7 348.2H359.5V350.3H353.7ZM345.5 350.0H348.5V352.0H345.5ZM353.7 350.0H359.5V352.0H353.7ZM331.8 351.7H343.0V353.8H331.8ZM348.2 353.5H354.0V355.5H348.2ZM351.0 355.2H356.8V357.3H351.0ZM351.0 357.0H359.5V359.1H351.0ZM342.7 358.8H345.8V360.8H342.7ZM348.2 360.5H359.5V362.6H348.2ZM342.7 362.3H345.8V364.3H342.7ZM348.2 362.3H351.3V364.3H348.2ZM348.2 364.0H354.0V366.1H348.2ZM227.5 367.5H233.3V369.6H227.5ZM342.7 367.5H345.8V369.6H342.7ZM348.2 367.5H351.3V369.6H348.2ZM227.5 369.3H236.0V371.3H227.5ZM353.7 369.3H359.5V371.3H353.7ZM235.7 372.8H238.8V374.8H235.7ZM345.5 372.8H354.0V374.8H345.5ZM227.5 374.5H236.0V376.6H227.5ZM345.5 374.5H356.8V376.6H345.5ZM227.5 376.3H230.5V378.4H227.5ZM227.5 378.1H230.5V380.1H227.5ZM227.5 379.8H230.5V381.9H227.5ZM227.5 381.6H233.3V383.6H227.5ZM329.0 385.1H337.6V387.1H329.0ZM340.0 385.1H343.0V387.1H340.0ZM227.5 388.6H230.5V390.6H227.5ZM351.0 388.6H359.5V390.6H351.0ZM227.5 390.3H233.3V392.4H227.5ZM334.5 390.3H337.6V392.4H334.5ZM340.0 390.3H351.3V392.4H340.0ZM356.5 393.9H359.5V395.9H356.5ZM227.5 395.6H233.3V397.7H227.5ZM241.2 395.6H244.3V397.7H241.2ZM334.5 395.6H348.5V397.7H334.5ZM227.5 397.4H230.5V399.4H227.5ZM351.0 397.4H359.5V399.4H351.0ZM353.7 399.1H359.5V401.2H353.7ZM227.5 400.9H230.5V402.9H227.5ZM241.2 400.9H244.3V402.9H241.2ZM345.5 400.9H354.0V402.9H345.5ZM356.5 400.9H359.5V402.9H356.5ZM353.7 402.6H356.8V404.7H353.7ZM342.7 404.4H359.5V406.4H342.7ZM244.0 407.9H247.0V409.9H244.0ZM340.0 409.6H351.3V411.7H340.0ZM238.5 411.4H241.5V413.5H238.5ZM246.7 411.4H249.8V413.5H246.7ZM351.0 411.4H359.5V413.5H351.0ZM238.5 413.2H241.5V415.2H238.5ZM249.4 413.2H252.5V415.2H249.4ZM342.7 413.2H354.0V415.2H342.7ZM356.5 413.2H359.5V415.2H356.5ZM238.5 414.9H244.3V417.0H238.5ZM249.4 414.9H252.5V417.0H249.4ZM342.7 414.9H345.8V417.0H342.7ZM348.2 414.9H359.5V417.0H348.2ZM340.0 416.7H345.8V418.7H340.0ZM252.2 418.4H255.2V420.5H252.2ZM345.5 418.4H351.3V420.5H345.5ZM356.5 418.4H359.5V420.5H356.5ZM342.7 420.2H345.8V422.2H342.7ZM348.2 420.2H356.8V422.2H348.2ZM238.5 421.9H241.5V424.0H238.5ZM238.5 423.7H241.5V425.7H238.5ZM254.9 423.7H258.0V425.7H254.9ZM342.7 425.4H348.5V427.5H342.7ZM342.7 427.2H351.3V429.2H342.7ZM353.7 427.2H356.8V429.2H353.7ZM235.7 428.9H241.5V431.0H235.7ZM353.7 428.9H359.5V431.0H353.7ZM233.0 430.7H236.0V432.8H233.0ZM257.7 432.5H260.7V434.5H257.7ZM345.5 432.5H354.0V434.5H345.5ZM235.7 434.2H238.8V436.3H235.7ZM257.7 434.2H260.7V436.3H257.7ZM345.5 434.2H359.5V436.3H345.5ZM238.5 436.0H241.5V438.0H238.5ZM356.5 436.0H359.5V438.0H356.5ZM257.7 437.7H260.7V439.8H257.7ZM351.0 437.7H354.0V439.8H351.0ZM356.5 437.7H359.5V439.8H356.5ZM233.0 439.5H238.8V441.5H233.0ZM257.7 439.5H260.7V441.5H257.7ZM348.2 439.5H359.5V441.5H348.2ZM233.0 441.2H238.8V443.3H233.0ZM257.7 441.2H260.7V443.3H257.7ZM348.2 441.2H351.3V443.3H348.2ZM233.0 443.0H236.0V445.0H233.0ZM257.7 443.0H260.7V445.0H257.7ZM348.2 443.0H359.5V445.0H348.2Z"/><path fill="#6e0000" d="M353.7 306.1H356.8V308.2H353.7ZM353.7 309.6H356.8V311.7H353.7ZM348.2 311.4H359.5V313.4H348.2ZM353.7 313.1H356.8V315.2H353.7ZM348.2 314.9H354.0V316.9H348.2ZM353.7 320.1H359.5V322.2H353.7ZM353.7 321.9H359.5V324.0H353.7ZM348.2 328.9H351.3V331.0H348.2ZM353.7 328.9H359.5V331.0H353.7ZM356.5 330.7H359.5V332.7H356.5ZM345.5 334.2H354.0V336.2H345.5ZM353.7 335.9H359.5V338.0H353.7ZM345.5 337.7H351.3V339.7H345.5ZM348.2 339.4H356.8V341.5H348.2ZM345.5 341.2H351.3V343.3H345.5ZM351.0 343.0H354.0V345.0H351.0ZM356.5 343.0H359.5V345.0H356.5ZM348.2 344.7H359.5V346.8H348.2ZM342.7 351.7H348.5V353.8H342.7ZM353.7 353.5H359.5V355.5H353.7ZM356.5 355.2H359.5V357.3H356.5ZM345.5 358.8H356.8V360.8H345.5ZM345.5 362.3H348.5V364.3H345.5ZM351.0 362.3H359.5V364.3H351.0ZM353.7 364.0H359.5V366.1H353.7ZM351.0 367.5H359.5V369.6H351.0ZM227.5 372.8H236.0V374.8H227.5ZM353.7 372.8H359.5V374.8H353.7ZM356.5 374.5H359.5V376.6H356.5ZM230.2 379.8H233.3V381.9H230.2ZM227.5 385.1H233.3V387.1H227.5ZM337.2 385.1H340.3V387.1H337.2ZM342.7 385.1H359.5V387.1H342.7ZM351.0 390.3H359.5V392.4H351.0ZM348.2 395.6H356.8V397.7H348.2ZM353.7 400.9H356.8V402.9H353.7ZM241.2 404.4H244.3V406.4H241.2ZM238.5 409.6H241.5V411.7H238.5ZM246.7 409.6H249.8V411.7H246.7ZM351.0 409.6H359.5V411.7H351.0ZM241.2 411.4H247.0V413.5H241.2ZM241.2 413.2H244.3V415.2H241.2ZM353.7 413.2H356.8V415.2H353.7ZM238.5 416.7H241.5V418.7H238.5ZM345.5 416.7H359.5V418.7H345.5ZM238.5 418.4H241.5V420.5H238.5ZM351.0 418.4H356.8V420.5H351.0ZM238.5 420.2H241.5V422.2H238.5ZM356.5 420.2H359.5V422.2H356.5ZM241.2 421.9H244.3V424.0H241.2ZM241.2 423.7H244.3V425.7H241.2ZM235.7 425.4H238.8V427.5H235.7ZM348.2 425.4H359.5V427.5H348.2ZM235.7 427.2H238.8V429.2H235.7ZM351.0 427.2H354.0V429.2H351.0ZM356.5 427.2H359.5V429.2H356.5ZM257.7 430.7H260.7V432.8H257.7ZM342.7 430.7H345.8V432.8H342.7ZM235.7 432.5H238.8V434.5H235.7ZM353.7 432.5H359.5V434.5H353.7ZM238.5 434.2H241.5V436.3H238.5ZM238.5 437.7H241.5V439.8H238.5ZM351.0 441.2H359.5V443.3H351.0ZM235.7 443.0H241.5V445.0H235.7ZM241.2 444.7H244.3V446.8H241.2Z"/><path fill="#ffff82" d="M230.2 307.9H233.3V309.9H230.2ZM227.5 311.4H230.5V313.4H227.5ZM227.5 321.9H230.5V324.0H227.5ZM230.2 323.7H233.3V325.7H230.2ZM230.2 325.4H233.3V327.5H230.2ZM227.5 328.9H230.5V331.0H227.5Z"/><path fill="#ffff14" d="M235.7 307.9H238.8V309.9H235.7ZM235.7 323.7H238.8V325.7H235.7ZM235.7 325.4H238.8V327.5H235.7ZM233.0 339.4H236.0V341.5H233.0ZM233.0 343.0H236.0V345.0H233.0Z"/><path fill="#ffd200" d="M238.5 307.9H241.5V309.9H238.5ZM238.5 323.7H241.5V325.7H238.5ZM238.5 325.4H241.5V327.5H238.5ZM238.5 327.2H241.5V329.2H238.5ZM235.7 348.2H238.8V350.3H235.7ZM268.7 407.9H274.4V409.9H268.7ZM276.9 407.9H288.2V409.9H276.9ZM293.4 407.9H296.4V409.9H293.4ZM301.6 407.9H304.6V409.9H301.6ZM309.8 407.9H312.9V409.9H309.8ZM315.3 407.9H318.3V409.9H315.3ZM320.8 407.9H323.8V409.9H320.8ZM268.7 411.4H271.7V413.5H268.7Z"/><path fill="#ff5000" d="M246.7 307.9H249.8V309.9H246.7ZM246.7 309.6H249.8V311.7H246.7ZM244.0 311.4H249.8V313.4H244.0ZM244.0 314.9H249.8V316.9H244.0ZM252.2 314.9H255.2V316.9H252.2ZM252.2 316.6H255.2V318.7H252.2ZM246.7 348.2H249.8V350.3H246.7ZM238.5 355.2H241.5V357.3H238.5ZM244.0 358.8H247.0V360.8H244.0ZM233.0 360.5H236.0V362.6H233.0ZM227.5 362.3H230.5V364.3H227.5ZM265.9 365.8H269.0V367.8H265.9ZM276.9 365.8H279.9V367.8H276.9ZM282.4 365.8H285.4V367.8H282.4ZM287.9 365.8H290.9V367.8H287.9ZM293.4 365.8H296.4V367.8H293.4ZM301.6 365.8H304.6V367.8H301.6ZM257.7 371.0H260.7V373.1H257.7ZM271.4 371.0H274.4V373.1H271.4ZM287.9 371.0H290.9V373.1H287.9ZM254.9 379.8H258.0V381.9H254.9ZM260.4 379.8H263.5V381.9H260.4ZM265.9 379.8H271.7V381.9H265.9ZM279.6 379.8H290.9V381.9H279.6ZM293.4 379.8H296.4V381.9H293.4ZM298.8 379.8H304.6V381.9H298.8ZM307.1 379.8H312.9V381.9H307.1ZM318.0 381.6H321.1V383.6H318.0ZM318.0 385.1H321.1V387.1H318.0ZM249.4 388.6H252.5V390.6H249.4ZM320.8 388.6H323.8V390.6H320.8ZM320.8 390.3H323.8V392.4H320.8ZM249.4 392.1H252.5V394.2H249.4ZM252.2 395.6H255.2V397.7H252.2ZM252.2 397.4H255.2V399.4H252.2ZM252.2 399.1H255.2V401.2H252.2ZM326.3 406.1H329.3V408.2H326.3ZM257.7 414.9H260.7V417.0H257.7ZM329.0 414.9H332.1V417.0H329.0ZM260.4 416.7H263.5V418.7H260.4ZM260.4 418.4H263.5V420.5H260.4ZM329.0 418.4H332.1V420.5H329.0ZM263.2 427.2H266.2V429.2H263.2ZM265.9 430.7H269.0V432.8H265.9ZM334.5 439.5H337.6V441.5H334.5ZM337.2 444.7H340.3V446.8H337.2Z"/><path fill="#ff9600" d="M249.4 307.9H252.5V309.9H249.4ZM249.4 309.6H255.2V311.7H249.4ZM241.2 325.4H244.3V327.5H241.2ZM249.4 327.2H252.5V329.2H249.4ZM241.2 332.4H244.3V334.5H241.2ZM246.7 337.7H249.8V339.7H246.7ZM246.7 339.4H249.8V341.5H246.7ZM238.5 341.2H241.5V343.3H238.5ZM235.7 353.5H238.8V355.5H235.7ZM254.9 388.6H258.0V390.6H254.9ZM265.9 388.6H271.7V390.6H265.9ZM274.1 388.6H277.2V390.6H274.1ZM293.4 388.6H296.4V390.6H293.4ZM254.9 390.3H260.7V392.4H254.9ZM263.2 390.3H271.7V392.4H263.2ZM274.1 390.3H301.9V392.4H274.1ZM304.3 390.3H318.3V392.4H304.3ZM257.7 397.4H263.5V399.4H257.7ZM265.9 397.4H271.7V399.4H265.9ZM274.1 397.4H279.9V399.4H274.1ZM285.1 397.4H288.2V399.4H285.1ZM290.6 397.4H299.1V399.4H290.6ZM301.6 397.4H310.1V399.4H301.6ZM315.3 397.4H321.1V399.4H315.3ZM257.7 399.1H266.2V401.2H257.7ZM268.7 399.1H277.2V401.2H268.7ZM279.6 399.1H282.7V401.2H279.6ZM285.1 399.1H290.9V401.2H285.1ZM296.1 399.1H307.4V401.2H296.1ZM309.8 399.1H321.1V401.2H309.8ZM290.6 400.9H293.7V402.9H290.6ZM260.4 402.6H266.2V404.7H260.4ZM271.4 402.6H274.4V404.7H271.4ZM296.1 402.6H301.9V404.7H296.1ZM318.0 402.6H321.1V404.7H318.0ZM263.2 404.4H321.1V406.4H263.2ZM257.7 406.1H260.7V408.2H257.7ZM323.5 406.1H326.6V408.2H323.5ZM326.3 414.9H329.3V417.0H326.3ZM268.7 421.9H271.7V424.0H268.7ZM293.4 421.9H296.4V424.0H293.4ZM307.1 421.9H310.1V424.0H307.1ZM326.3 421.9H329.3V424.0H326.3ZM265.9 423.7H269.0V425.7H265.9ZM271.4 428.9H326.6V431.0H271.4ZM271.4 436.0H285.4V438.0H271.4ZM287.9 436.0H293.7V438.0H287.9ZM296.1 436.0H299.1V438.0H296.1ZM301.6 436.0H310.1V438.0H301.6ZM312.6 436.0H315.6V438.0H312.6ZM318.0 436.0H321.1V438.0H318.0ZM323.5 436.0H332.1V438.0H323.5ZM274.1 444.7H279.9V446.8H274.1ZM282.4 444.7H299.1V446.8H282.4ZM301.6 444.7H321.1V446.8H301.6ZM323.5 444.7H334.8V446.8H323.5Z"/><path fill="#ff3200" d="M254.9 307.9H258.0V309.9H254.9ZM252.2 320.1H255.2V322.2H252.2ZM252.2 321.9H255.2V324.0H252.2ZM252.2 325.4H255.2V327.5H252.2ZM246.7 353.5H249.8V355.5H246.7ZM263.2 353.5H266.2V355.5H263.2ZM271.4 353.5H279.9V355.5H271.4ZM282.4 353.5H290.9V355.5H282.4ZM246.7 355.2H249.8V357.3H246.7ZM254.9 355.2H293.7V357.3H254.9ZM296.1 355.2H301.9V357.3H296.1ZM304.3 355.2H307.4V357.3H304.3ZM309.8 355.2H312.9V357.3H309.8ZM254.9 357.0H263.5V359.1H254.9ZM285.1 357.0H290.9V359.1H285.1ZM304.3 357.0H307.4V359.1H304.3ZM260.4 358.8H266.2V360.8H260.4ZM268.7 358.8H271.7V360.8H268.7ZM276.9 358.8H279.9V360.8H276.9ZM285.1 358.8H288.2V360.8H285.1ZM298.8 358.8H301.9V360.8H298.8ZM304.3 358.8H307.4V360.8H304.3ZM254.9 360.5H258.0V362.6H254.9ZM260.4 360.5H266.2V362.6H260.4ZM296.1 360.5H299.1V362.6H296.1ZM304.3 360.5H307.4V362.6H304.3ZM309.8 360.5H312.9V362.6H309.8ZM257.7 362.3H260.7V364.3H257.7ZM263.2 362.3H277.2V364.3H263.2ZM279.6 362.3H285.4V364.3H279.6ZM287.9 362.3H301.9V364.3H287.9ZM304.3 362.3H312.9V364.3H304.3ZM254.9 364.0H260.7V366.1H254.9ZM265.9 364.0H269.0V366.1H265.9ZM271.4 364.0H288.2V366.1H271.4ZM290.6 364.0H293.7V366.1H290.6ZM296.1 364.0H315.6V366.1H296.1ZM254.9 367.5H266.2V369.6H254.9ZM276.9 367.5H279.9V369.6H276.9ZM290.6 367.5H296.4V369.6H290.6ZM298.8 367.5H304.6V369.6H298.8ZM307.1 367.5H315.6V369.6H307.1ZM252.2 369.3H255.2V371.3H252.2ZM315.3 369.3H318.3V371.3H315.3ZM252.2 371.0H255.2V373.1H252.2ZM254.9 372.8H258.0V374.8H254.9ZM285.1 372.8H288.2V374.8H285.1ZM301.6 372.8H304.6V374.8H301.6ZM307.1 372.8H310.1V374.8H307.1ZM315.3 372.8H318.3V374.8H315.3ZM265.9 378.1H269.0V380.1H265.9ZM301.6 378.1H304.6V380.1H301.6ZM307.1 378.1H310.1V380.1H307.1ZM323.5 392.1H326.6V394.2H323.5ZM249.4 393.9H252.5V395.9H249.4ZM323.5 393.9H326.6V395.9H323.5ZM323.5 395.6H326.6V397.7H323.5ZM252.2 400.9H255.2V402.9H252.2ZM252.2 402.6H255.2V404.7H252.2ZM326.3 404.4H329.3V406.4H326.3ZM254.9 411.4H258.0V413.5H254.9ZM331.8 421.9H334.8V424.0H331.8ZM260.4 423.7H263.5V425.7H260.4ZM331.8 425.4H334.8V427.5H331.8ZM263.2 439.5H266.2V441.5H263.2Z"/><path fill="#fa0000" d="M301.6 307.9H304.6V309.9H301.6ZM301.6 309.6H304.6V311.7H301.6ZM290.6 311.4H293.7V313.4H290.6ZM296.1 311.4H301.9V313.4H296.1ZM301.6 313.1H304.6V315.2H301.6ZM296.1 314.9H299.1V316.9H296.1ZM301.6 314.9H304.6V316.9H301.6ZM307.1 318.4H312.9V320.4H307.1ZM318.0 318.4H321.1V320.4H318.0ZM323.5 318.4H326.6V320.4H323.5ZM301.6 321.9H307.4V324.0H301.6ZM307.1 323.7H310.1V325.7H307.1ZM307.1 325.4H310.1V327.5H307.1ZM260.4 328.9H263.5V331.0H260.4ZM276.9 328.9H279.9V331.0H276.9ZM293.4 328.9H296.4V331.0H293.4ZM304.3 328.9H307.4V331.0H304.3ZM307.1 330.7H310.1V332.7H307.1ZM309.8 332.4H312.9V334.5H309.8ZM257.7 334.2H263.5V336.2H257.7ZM268.7 334.2H274.4V336.2H268.7ZM279.6 334.2H290.9V336.2H279.6ZM301.6 334.2H304.6V336.2H301.6ZM307.1 334.2H310.1V336.2H307.1ZM307.1 335.9H310.1V338.0H307.1ZM252.2 337.7H260.7V339.7H252.2ZM263.2 337.7H271.7V339.7H263.2ZM276.9 337.7H304.6V339.7H276.9ZM307.1 337.7H310.1V339.7H307.1ZM285.1 339.4H288.2V341.5H285.1ZM290.6 339.4H293.7V341.5H290.6ZM307.1 339.4H310.1V341.5H307.1ZM252.2 341.2H258.0V343.3H252.2ZM263.2 341.2H269.0V343.3H263.2ZM274.1 341.2H277.2V343.3H274.1ZM287.9 341.2H293.7V343.3H287.9ZM296.1 341.2H299.1V343.3H296.1ZM249.4 351.7H252.5V353.8H249.4ZM315.3 353.5H318.3V355.5H315.3ZM315.3 358.8H318.3V360.8H315.3ZM238.5 362.3H241.5V364.3H238.5ZM246.7 364.0H249.8V366.1H246.7ZM318.0 364.0H321.1V366.1H318.0ZM244.0 365.8H247.0V367.8H244.0ZM246.7 369.3H249.8V371.3H246.7ZM320.8 371.0H323.8V373.1H320.8ZM246.7 372.8H249.8V374.8H246.7ZM320.8 374.5H323.8V376.6H320.8ZM241.2 376.3H244.3V378.4H241.2ZM337.2 378.1H340.3V380.1H337.2ZM342.7 378.1H345.8V380.1H342.7ZM348.2 378.1H359.5V380.1H348.2ZM244.0 379.8H247.0V381.9H244.0ZM244.0 381.6H247.0V383.6H244.0ZM235.7 383.3H238.8V385.4H235.7ZM244.0 383.3H247.0V385.4H244.0ZM323.5 386.8H326.6V388.9H323.5ZM235.7 388.6H238.8V390.6H235.7ZM323.5 388.6H326.6V390.6H323.5ZM235.7 390.3H238.8V392.4H235.7ZM246.7 390.3H249.8V392.4H246.7ZM246.7 393.9H249.8V395.9H246.7ZM326.3 397.4H329.3V399.4H326.3ZM233.0 400.9H236.0V402.9H233.0ZM227.5 407.9H230.5V409.9H227.5ZM233.0 409.6H236.0V411.7H233.0ZM230.2 414.9H233.3V417.0H230.2ZM331.8 414.9H334.8V417.0H331.8ZM331.8 416.7H334.8V418.7H331.8ZM230.2 420.2H233.3V422.2H230.2ZM334.5 423.7H337.6V425.7H334.5ZM230.2 427.2H233.3V429.2H230.2ZM230.2 428.9H233.3V431.0H230.2ZM227.5 432.5H230.5V434.5H227.5ZM337.2 434.2H340.3V436.3H337.2ZM227.5 441.2H230.5V443.3H227.5Z"/><path fill="#aa0000" d="M331.8 307.9H334.8V309.9H331.8ZM331.8 309.6H334.8V311.7H331.8ZM329.0 328.9H332.1V331.0H329.0ZM329.0 335.9H332.1V338.0H329.0ZM329.0 346.5H332.1V348.5H329.0ZM326.3 358.8H329.3V360.8H326.3ZM326.3 360.5H329.3V362.6H326.3ZM326.3 362.3H329.3V364.3H326.3ZM329.0 365.8H332.1V367.8H329.0ZM326.3 369.3H329.3V371.3H326.3ZM238.5 371.0H241.5V373.1H238.5ZM329.0 371.0H332.1V373.1H329.0ZM238.5 374.5H241.5V376.6H238.5ZM241.2 386.8H244.3V388.9H241.2ZM326.3 386.8H329.3V388.9H326.3ZM238.5 388.6H241.5V390.6H238.5ZM241.2 392.1H244.3V394.2H241.2ZM238.5 393.9H241.5V395.9H238.5ZM244.0 397.4H247.0V399.4H244.0ZM329.0 397.4H332.1V399.4H329.0ZM230.2 404.4H233.3V406.4H230.2ZM235.7 404.4H238.8V406.4H235.7ZM235.7 406.1H238.8V408.2H235.7ZM227.5 409.6H230.5V411.7H227.5ZM334.5 414.9H337.6V417.0H334.5ZM227.5 416.7H230.5V418.7H227.5ZM334.5 416.7H337.6V418.7H334.5ZM233.0 418.4H236.0V420.5H233.0ZM254.9 418.4H258.0V420.5H254.9ZM233.0 420.2H236.0V422.2H233.0ZM233.0 421.9H236.0V424.0H233.0ZM337.2 421.9H340.3V424.0H337.2ZM227.5 425.4H230.5V427.5H227.5ZM257.7 425.4H260.7V427.5H257.7ZM340.0 434.2H343.0V436.3H340.0ZM230.2 437.7H233.3V439.8H230.2ZM227.5 443.0H230.5V445.0H227.5Z"/><path fill="#a00000" d="M334.5 307.9H337.6V309.9H334.5ZM331.8 311.4H334.8V313.4H331.8ZM331.8 313.1H334.8V315.2H331.8ZM331.8 314.9H334.8V316.9H331.8ZM331.8 316.6H334.8V318.7H331.8ZM334.5 318.4H340.3V320.4H334.5ZM331.8 323.7H334.8V325.7H331.8ZM331.8 325.4H334.8V327.5H331.8ZM331.8 327.2H337.6V329.2H331.8ZM331.8 330.7H334.8V332.7H331.8ZM331.8 332.4H334.8V334.5H331.8ZM329.0 334.2H332.1V336.2H329.0ZM329.0 343.0H332.1V345.0H329.0ZM329.0 348.2H332.1V350.3H329.0ZM334.5 348.2H337.6V350.3H334.5ZM326.3 351.7H329.3V353.8H326.3ZM329.0 355.2H332.1V357.3H329.0ZM326.3 364.0H329.3V366.1H326.3ZM331.8 365.8H337.6V367.8H331.8ZM238.5 367.5H241.5V369.6H238.5ZM326.3 367.5H329.3V369.6H326.3ZM238.5 369.3H241.5V371.3H238.5ZM329.0 369.3H332.1V371.3H329.0ZM331.8 371.0H337.6V373.1H331.8ZM326.3 372.8H329.3V374.8H326.3ZM326.3 374.5H329.3V376.6H326.3ZM233.0 383.3H236.0V385.4H233.0ZM326.3 383.3H329.3V385.4H326.3ZM241.2 385.1H244.3V387.1H241.2ZM233.0 386.8H236.0V388.9H233.0ZM233.0 388.6H236.0V390.6H233.0ZM241.2 388.6H244.3V390.6H241.2ZM238.5 390.3H241.5V392.4H238.5ZM329.0 392.1H332.1V394.2H329.0ZM329.0 393.9H332.1V395.9H329.0ZM244.0 395.6H247.0V397.7H244.0ZM244.0 399.1H247.0V401.2H244.0ZM230.2 402.6H233.3V404.7H230.2ZM331.8 402.6H334.8V404.7H331.8ZM246.7 404.4H249.8V406.4H246.7ZM331.8 404.4H334.8V406.4H331.8ZM249.4 409.6H252.5V411.7H249.4ZM235.7 411.4H238.8V413.5H235.7ZM252.2 414.9H255.2V417.0H252.2ZM227.5 420.2H230.5V422.2H227.5ZM254.9 420.2H258.0V422.2H254.9ZM227.5 421.9H230.5V424.0H227.5ZM233.0 423.7H236.0V425.7H233.0ZM337.2 425.4H340.3V427.5H337.2ZM233.0 428.9H236.0V431.0H233.0ZM340.0 432.5H343.0V434.5H340.0ZM342.7 443.0H345.8V445.0H342.7Z"/><path fill="#ffff6e" d="M230.2 309.6H233.3V311.7H230.2ZM230.2 313.1H233.3V315.2H230.2ZM233.0 318.4H236.0V320.4H233.0ZM227.5 334.2H230.5V336.2H227.5ZM227.5 343.0H230.5V345.0H227.5Z"/><path fill="#ffff3c" d="M233.0 309.6H236.0V311.7H233.0ZM233.0 330.7H236.0V332.7H233.0ZM230.2 337.7H233.3V339.7H230.2Z"/><path fill="#fffa00" d="M235.7 309.6H238.8V311.7H235.7ZM235.7 313.1H238.8V315.2H235.7ZM235.7 320.1H238.8V322.2H235.7ZM235.7 321.9H238.8V324.0H235.7ZM235.7 328.9H238.8V331.0H235.7ZM235.7 335.9H238.8V338.0H235.7ZM233.0 341.2H236.0V343.3H233.0ZM233.0 348.2H236.0V350.3H233.0ZM227.5 355.2H230.5V357.3H227.5Z"/><path fill="#ff5a00" d="M244.0 309.6H247.0V311.7H244.0ZM244.0 313.1H249.8V315.2H244.0ZM252.2 318.4H255.2V320.4H252.2ZM244.0 320.1H247.0V322.2H244.0ZM244.0 321.9H247.0V324.0H244.0ZM249.4 332.4H252.5V334.5H249.4ZM246.7 344.7H249.8V346.8H246.7ZM238.5 353.5H241.5V355.5H238.5ZM241.2 360.5H244.3V362.6H241.2ZM249.4 386.8H252.5V388.9H249.4ZM323.5 399.1H326.6V401.2H323.5ZM323.5 400.9H326.6V402.9H323.5ZM329.0 420.2H332.1V422.2H329.0ZM263.2 428.9H266.2V431.0H263.2ZM279.6 430.7H282.7V432.8H279.6ZM287.9 430.7H290.9V432.8H287.9ZM334.5 436.0H337.6V438.0H334.5ZM334.5 437.7H337.6V439.8H334.5ZM265.9 441.2H269.0V443.3H265.9ZM334.5 441.2H337.6V443.3H334.5ZM265.9 443.0H269.0V445.0H265.9Z"/><path fill="#ff2800" d="M254.9 309.6H258.0V311.7H254.9ZM252.2 327.2H255.2V329.2H252.2ZM249.4 337.7H252.5V339.7H249.4ZM249.4 339.4H252.5V341.5H249.4ZM257.7 346.5H263.5V348.5H257.7ZM268.7 346.5H271.7V348.5H268.7ZM274.1 346.5H277.2V348.5H274.1ZM290.6 346.5H296.4V348.5H290.6ZM304.3 346.5H307.4V348.5H304.3ZM257.7 348.2H274.4V350.3H257.7ZM276.9 348.2H293.7V350.3H276.9ZM296.1 348.2H301.9V350.3H296.1ZM304.3 348.2H310.1V350.3H304.3ZM260.4 350.0H296.4V352.0H260.4ZM298.8 350.0H310.1V352.0H298.8ZM246.7 351.7H249.8V353.8H246.7ZM254.9 353.5H263.5V355.5H254.9ZM265.9 353.5H271.7V355.5H265.9ZM279.6 353.5H282.7V355.5H279.6ZM290.6 353.5H312.9V355.5H290.6ZM246.7 357.0H249.8V359.1H246.7ZM252.2 357.0H255.2V359.1H252.2ZM312.6 357.0H315.6V359.1H312.6ZM238.5 358.8H241.5V360.8H238.5ZM254.9 358.8H260.7V360.8H254.9ZM265.9 358.8H269.0V360.8H265.9ZM271.4 358.8H277.2V360.8H271.4ZM279.6 358.8H285.4V360.8H279.6ZM287.9 358.8H299.1V360.8H287.9ZM301.6 358.8H304.6V360.8H301.6ZM307.1 358.8H312.9V360.8H307.1ZM235.7 360.5H238.8V362.6H235.7ZM252.2 360.5H255.2V362.6H252.2ZM312.6 360.5H315.6V362.6H312.6ZM254.9 362.3H258.0V364.3H254.9ZM312.6 362.3H315.6V364.3H312.6ZM252.2 364.0H255.2V366.1H252.2ZM252.2 367.5H255.2V369.6H252.2ZM315.3 367.5H318.3V369.6H315.3ZM252.2 372.8H255.2V374.8H252.2ZM252.2 374.5H255.2V376.6H252.2ZM318.0 374.5H321.1V376.6H318.0ZM249.4 378.1H266.2V380.1H249.4ZM268.7 378.1H301.9V380.1H268.7ZM304.3 378.1H307.4V380.1H304.3ZM309.8 378.1H318.3V380.1H309.8ZM246.7 381.6H249.8V383.6H246.7ZM246.7 383.3H249.8V385.4H246.7ZM320.8 383.3H323.8V385.4H320.8ZM326.3 402.6H329.3V404.7H326.3ZM334.5 432.5H337.6V434.5H334.5ZM227.5 436.0H230.5V438.0H227.5ZM263.2 441.2H266.2V443.3H263.2ZM263.2 443.0H266.2V445.0H263.2ZM337.2 443.0H340.3V445.0H337.2Z"/><path fill="#dc0000" d="M312.6 309.6H315.6V311.7H312.6ZM326.3 309.6H329.3V311.7H326.3ZM307.1 311.4H315.6V313.4H307.1ZM318.0 311.4H329.3V313.4H318.0ZM326.3 313.1H329.3V315.2H326.3ZM307.1 314.9H326.6V316.9H307.1ZM312.6 320.1H315.6V322.2H312.6ZM318.0 320.1H321.1V322.2H318.0ZM323.5 320.1H329.3V322.2H323.5ZM312.6 321.9H326.6V324.0H312.6ZM326.3 325.4H329.3V327.5H326.3ZM312.6 328.9H326.6V331.0H312.6ZM323.5 330.7H326.6V332.7H323.5ZM312.6 334.2H323.8V336.2H312.6ZM318.0 335.9H321.1V338.0H318.0ZM323.5 335.9H326.6V338.0H323.5ZM312.6 337.7H315.6V339.7H312.6ZM312.6 339.4H315.6V341.5H312.6ZM318.0 339.4H323.8V341.5H318.0ZM312.6 341.2H321.1V343.3H312.6ZM323.5 343.0H326.6V345.0H323.5ZM315.3 344.7H323.8V346.8H315.3ZM323.5 346.5H326.6V348.5H323.5ZM323.5 350.0H326.6V352.0H323.5ZM315.3 351.7H318.3V353.8H315.3ZM320.8 353.5H323.8V355.5H320.8ZM323.5 355.2H326.6V357.3H323.5ZM323.5 357.0H326.6V359.1H323.5ZM238.5 364.0H241.5V366.1H238.5ZM320.8 364.0H323.8V366.1H320.8ZM244.0 367.5H247.0V369.6H244.0ZM241.2 379.8H244.3V381.9H241.2ZM323.5 379.8H326.6V381.9H323.5ZM235.7 381.6H238.8V383.6H235.7ZM238.5 383.3H241.5V385.4H238.5ZM323.5 383.3H326.6V385.4H323.5ZM326.3 392.1H329.3V394.2H326.3ZM326.3 393.9H329.3V395.9H326.3ZM246.7 395.6H249.8V397.7H246.7ZM246.7 397.4H249.8V399.4H246.7ZM235.7 399.1H238.8V401.2H235.7ZM329.0 402.6H332.1V404.7H329.0ZM249.4 404.4H252.5V406.4H249.4ZM230.2 406.1H233.3V408.2H230.2ZM252.2 409.6H255.2V411.7H252.2ZM331.8 411.4H334.8V413.5H331.8ZM230.2 413.2H233.3V415.2H230.2ZM331.8 413.2H334.8V415.2H331.8ZM227.5 414.9H230.5V417.0H227.5ZM227.5 428.9H230.5V431.0H227.5ZM260.4 434.2H263.5V436.3H260.4ZM260.4 437.7H263.5V439.8H260.4ZM340.0 441.2H343.0V443.3H340.0Z"/><path fill="#c80000" d="M329.0 309.6H332.1V311.7H329.0ZM329.0 311.4H332.1V313.4H329.0ZM326.3 328.9H329.3V331.0H326.3ZM326.3 334.2H329.3V336.2H326.3ZM326.3 335.9H329.3V338.0H326.3ZM323.5 341.2H326.6V343.3H323.5ZM326.3 343.0H329.3V345.0H326.3ZM320.8 351.7H323.8V353.8H320.8ZM323.5 358.8H326.6V360.8H323.5ZM323.5 362.3H326.6V364.3H323.5ZM235.7 364.0H238.8V366.1H235.7ZM323.5 364.0H326.6V366.1H323.5ZM241.2 367.5H244.3V369.6H241.2ZM323.5 367.5H326.6V369.6H323.5ZM323.5 369.3H326.6V371.3H323.5ZM241.2 371.0H244.3V373.1H241.2ZM241.2 374.5H244.3V376.6H241.2ZM323.5 374.5H326.6V376.6H323.5ZM241.2 381.6H244.3V383.6H241.2ZM323.5 381.6H326.6V383.6H323.5ZM241.2 383.3H244.3V385.4H241.2ZM235.7 400.9H238.8V402.9H235.7ZM329.0 400.9H332.1V402.9H329.0ZM227.5 406.1H230.5V408.2H227.5ZM249.4 407.9H252.5V409.9H249.4ZM331.8 407.9H334.8V409.9H331.8ZM230.2 409.6H233.3V411.7H230.2ZM230.2 411.4H233.3V413.5H230.2ZM230.2 430.7H233.3V432.8H230.2ZM337.2 430.7H340.3V432.8H337.2ZM340.0 436.0H343.0V438.0H340.0ZM340.0 437.7H343.0V439.8H340.0ZM260.4 439.5H263.5V441.5H260.4ZM260.4 441.2H263.5V443.3H260.4ZM260.4 443.0H263.5V445.0H260.4Z"/><path fill="#ffff5a" d="M230.2 311.4H233.3V313.4H230.2ZM230.2 314.9H233.3V316.9H230.2ZM230.2 328.9H233.3V331.0H230.2ZM233.0 332.4H236.0V334.5H233.0ZM227.5 337.7H230.5V339.7H227.5ZM227.5 346.5H230.5V348.5H227.5Z"/><path fill="#ffff28" d="M233.0 311.4H236.0V313.4H233.0ZM235.7 318.4H238.8V320.4H235.7ZM230.2 341.2H233.3V343.3H230.2ZM230.2 344.7H233.3V346.8H230.2Z"/><path fill="#fff000" d="M235.7 311.4H238.8V313.4H235.7ZM235.7 314.9H238.8V316.9H235.7ZM233.0 344.7H236.0V346.8H233.0ZM230.2 355.2H233.3V357.3H230.2ZM227.5 357.0H230.5V359.1H227.5Z"/><path fill="#ff7800" d="M241.2 311.4H244.3V313.4H241.2ZM252.2 311.4H255.2V313.4H252.2ZM241.2 313.1H244.3V315.2H241.2ZM241.2 314.9H244.3V316.9H241.2ZM244.0 318.4H247.0V320.4H244.0ZM246.7 321.9H249.8V324.0H246.7ZM244.0 323.7H247.0V325.7H244.0ZM244.0 325.4H247.0V327.5H244.0ZM244.0 327.2H247.0V329.2H244.0ZM241.2 328.9H244.3V331.0H241.2ZM246.7 341.2H249.8V343.3H246.7ZM241.2 343.0H244.3V345.0H241.2ZM241.2 346.5H244.3V348.5H241.2ZM238.5 350.0H241.5V352.0H238.5ZM315.3 381.6H318.3V383.6H315.3ZM249.4 383.3H252.5V385.4H249.4ZM318.0 383.3H321.1V385.4H318.0ZM254.9 385.1H269.0V387.1H254.9ZM271.4 385.1H285.4V387.1H271.4ZM290.6 385.1H312.9V387.1H290.6ZM252.2 390.3H255.2V392.4H252.2ZM254.9 395.6H258.0V397.7H254.9ZM263.2 395.6H266.2V397.7H263.2ZM279.6 395.6H282.7V397.7H279.6ZM318.0 395.6H321.1V397.7H318.0ZM254.9 402.6H258.0V404.7H254.9ZM323.5 402.6H326.6V404.7H323.5ZM323.5 404.4H326.6V406.4H323.5ZM326.3 416.7H329.3V418.7H326.3ZM263.2 421.9H266.2V424.0H263.2ZM329.0 421.9H332.1V424.0H329.0ZM263.2 423.7H266.2V425.7H263.2ZM271.4 425.4H282.7V427.5H271.4ZM285.1 425.4H296.4V427.5H285.1ZM298.8 425.4H326.6V427.5H298.8ZM268.7 427.2H274.4V429.2H268.7ZM276.9 427.2H285.4V429.2H276.9ZM296.1 427.2H301.9V429.2H296.1ZM304.3 427.2H315.6V429.2H304.3ZM318.0 427.2H321.1V429.2H318.0ZM326.3 427.2H329.3V429.2H326.3ZM268.7 432.5H274.4V434.5H268.7ZM276.9 432.5H282.7V434.5H276.9ZM285.1 432.5H293.7V434.5H285.1ZM301.6 432.5H312.9V434.5H301.6ZM326.3 432.5H332.1V434.5H326.3ZM268.7 434.2H271.7V436.3H268.7ZM315.3 434.2H318.3V436.3H315.3ZM320.8 434.2H323.8V436.3H320.8ZM265.9 437.7H269.0V439.8H265.9ZM271.4 439.5H274.4V441.5H271.4ZM276.9 439.5H282.7V441.5H276.9ZM287.9 439.5H304.6V441.5H287.9ZM307.1 439.5H318.3V441.5H307.1ZM320.8 439.5H329.3V441.5H320.8ZM271.4 441.2H282.7V443.3H271.4ZM285.1 441.2H288.2V443.3H285.1ZM290.6 441.2H299.1V443.3H290.6ZM304.3 441.2H321.1V443.3H304.3ZM323.5 441.2H326.6V443.3H323.5ZM331.8 441.2H334.8V443.3H331.8ZM271.4 443.0H290.9V445.0H271.4ZM293.4 443.0H296.4V445.0H293.4ZM309.8 443.0H332.1V445.0H309.8ZM265.9 444.7H269.0V446.8H265.9Z"/><path fill="#ffa000" d="M249.4 311.4H252.5V313.4H249.4ZM249.4 314.9H252.5V316.9H249.4ZM241.2 318.4H244.3V320.4H241.2ZM246.7 323.7H249.8V325.7H246.7ZM249.4 325.4H252.5V327.5H249.4ZM246.7 334.2H249.8V336.2H246.7ZM238.5 337.7H241.5V339.7H238.5ZM238.5 346.5H241.5V348.5H238.5ZM230.2 358.8H233.3V360.8H230.2ZM227.5 360.5H230.5V362.6H227.5ZM252.2 383.3H255.2V385.4H252.2ZM260.4 383.3H263.5V385.4H260.4ZM268.7 383.3H271.7V385.4H268.7ZM276.9 383.3H279.9V385.4H276.9ZM282.4 383.3H285.4V385.4H282.4ZM290.6 383.3H293.7V385.4H290.6ZM307.1 383.3H310.1V385.4H307.1ZM315.3 383.3H318.3V385.4H315.3ZM252.2 386.8H255.2V388.9H252.2ZM257.7 386.8H260.7V388.9H257.7ZM263.2 386.8H266.2V388.9H263.2ZM271.4 386.8H279.9V388.9H271.4ZM287.9 386.8H293.7V388.9H287.9ZM296.1 386.8H299.1V388.9H296.1ZM307.1 386.8H310.1V388.9H307.1ZM315.3 386.8H318.3V388.9H315.3ZM257.7 388.6H266.2V390.6H257.7ZM271.4 388.6H274.4V390.6H271.4ZM276.9 388.6H282.7V390.6H276.9ZM285.1 388.6H293.7V390.6H285.1ZM296.1 388.6H318.3V390.6H296.1ZM252.2 392.1H255.2V394.2H252.2ZM254.9 393.9H258.0V395.9H254.9ZM271.4 393.9H274.4V395.9H271.4ZM293.4 393.9H296.4V395.9H293.4ZM307.1 393.9H310.1V395.9H307.1ZM318.0 393.9H321.1V395.9H318.0ZM265.9 399.1H269.0V401.2H265.9ZM276.9 399.1H279.9V401.2H276.9ZM282.4 399.1H285.4V401.2H282.4ZM290.6 399.1H296.4V401.2H290.6ZM307.1 399.1H310.1V401.2H307.1ZM265.9 402.6H271.7V404.7H265.9ZM274.1 402.6H296.4V404.7H274.1ZM301.6 402.6H318.3V404.7H301.6ZM260.4 406.1H263.5V408.2H260.4ZM260.4 409.6H263.5V411.7H260.4ZM323.5 409.6H326.6V411.7H323.5ZM263.2 413.2H266.2V415.2H263.2ZM263.2 414.9H266.2V417.0H263.2ZM271.4 421.9H293.7V424.0H271.4ZM296.1 421.9H307.4V424.0H296.1ZM309.8 421.9H326.6V424.0H309.8ZM268.7 423.7H329.3V425.7H268.7ZM285.1 436.0H288.2V438.0H285.1ZM293.4 436.0H296.4V438.0H293.4ZM298.8 436.0H301.9V438.0H298.8ZM309.8 436.0H312.9V438.0H309.8ZM315.3 436.0H318.3V438.0H315.3ZM320.8 436.0H323.8V438.0H320.8Z"/><path fill="#ff1e00" d="M254.9 311.4H258.0V313.4H254.9ZM254.9 318.4H258.0V320.4H254.9ZM260.4 318.4H271.7V320.4H260.4ZM274.1 318.4H277.2V320.4H274.1ZM282.4 318.4H288.2V320.4H282.4ZM290.6 318.4H296.4V320.4H290.6ZM298.8 318.4H301.9V320.4H298.8ZM252.2 330.7H255.2V332.7H252.2ZM252.2 332.4H255.2V334.5H252.2ZM249.4 341.2H252.5V343.3H249.4ZM249.4 343.0H252.5V345.0H249.4ZM263.2 343.0H266.2V345.0H263.2ZM249.4 346.5H258.0V348.5H249.4ZM263.2 346.5H269.0V348.5H263.2ZM271.4 346.5H274.4V348.5H271.4ZM276.9 346.5H290.9V348.5H276.9ZM296.1 346.5H304.6V348.5H296.1ZM307.1 346.5H310.1V348.5H307.1ZM249.4 348.2H252.5V350.3H249.4ZM254.9 348.2H258.0V350.3H254.9ZM274.1 348.2H277.2V350.3H274.1ZM293.4 348.2H296.4V350.3H293.4ZM301.6 348.2H304.6V350.3H301.6ZM254.9 350.0H260.7V352.0H254.9ZM296.1 350.0H299.1V352.0H296.1ZM309.8 350.0H312.9V352.0H309.8ZM252.2 353.5H255.2V355.5H252.2ZM252.2 355.2H255.2V357.3H252.2ZM252.2 358.8H255.2V360.8H252.2ZM312.6 358.8H315.6V360.8H312.6ZM238.5 360.5H241.5V362.6H238.5ZM244.0 362.3H247.0V364.3H244.0ZM252.2 362.3H255.2V364.3H252.2ZM315.3 364.0H318.3V366.1H315.3ZM249.4 365.8H252.5V367.8H249.4ZM249.4 371.0H252.5V373.1H249.4ZM318.0 371.0H321.1V373.1H318.0ZM318.0 372.8H321.1V374.8H318.0ZM252.2 376.3H255.2V378.4H252.2ZM257.7 376.3H269.0V378.4H257.7ZM271.4 376.3H279.9V378.4H271.4ZM285.1 376.3H307.4V378.4H285.1ZM309.8 376.3H315.6V378.4H309.8ZM337.2 376.3H340.3V378.4H337.2ZM246.7 378.1H249.8V380.1H246.7ZM318.0 378.1H321.1V380.1H318.0ZM246.7 379.8H249.8V381.9H246.7ZM318.0 379.8H321.1V381.9H318.0ZM320.8 385.1H323.8V387.1H320.8ZM246.7 386.8H249.8V388.9H246.7ZM329.0 407.9H332.1V409.9H329.0ZM257.7 416.7H260.7V418.7H257.7ZM334.5 428.9H337.6V431.0H334.5ZM227.5 434.2H230.5V436.3H227.5ZM227.5 437.7H230.5V439.8H227.5ZM337.2 441.2H340.3V443.3H337.2Z"/><path fill="#ffff32" d="M233.0 313.1H236.0V315.2H233.0ZM233.0 314.9H236.0V316.9H233.0ZM233.0 320.1H236.0V322.2H233.0ZM233.0 321.9H236.0V324.0H233.0ZM233.0 328.9H236.0V331.0H233.0ZM233.0 335.9H236.0V338.0H233.0ZM230.2 346.5H233.3V348.5H230.2ZM230.2 348.2H233.3V350.3H230.2ZM227.5 350.0H230.5V352.0H227.5Z"/><path fill="#ffbe00" d="M238.5 313.1H241.5V315.2H238.5ZM238.5 320.1H241.5V322.2H238.5ZM249.4 323.7H252.5V325.7H249.4ZM246.7 327.2H249.8V329.2H246.7ZM238.5 328.9H241.5V331.0H238.5ZM246.7 330.7H249.8V332.7H246.7ZM244.0 346.5H247.0V348.5H244.0ZM235.7 350.0H238.8V352.0H235.7ZM233.0 351.7H236.0V353.8H233.0ZM254.9 392.1H260.7V394.2H254.9ZM265.9 392.1H277.2V394.2H265.9ZM282.4 392.1H285.4V394.2H282.4ZM298.8 392.1H301.9V394.2H298.8ZM312.6 392.1H318.3V394.2H312.6ZM260.4 407.9H263.5V409.9H260.4ZM323.5 407.9H326.6V409.9H323.5ZM276.9 409.6H282.7V411.7H276.9ZM293.4 409.6H296.4V411.7H293.4ZM304.3 409.6H307.4V411.7H304.3ZM263.2 411.4H269.0V413.5H263.2ZM323.5 411.4H326.6V413.5H323.5ZM276.9 413.2H279.9V415.2H276.9ZM287.9 413.2H290.9V415.2H287.9ZM309.8 414.9H312.9V417.0H309.8Z"/><path fill="#be0000" d="M329.0 313.1H332.1V315.2H329.0ZM329.0 314.9H332.1V316.9H329.0ZM329.0 316.6H332.1V318.7H329.0ZM329.0 323.7H332.1V325.7H329.0ZM329.0 325.4H332.1V327.5H329.0ZM326.3 339.4H329.3V341.5H326.3ZM326.3 346.5H329.3V348.5H326.3ZM326.3 348.2H329.3V350.3H326.3ZM326.3 350.0H329.3V352.0H326.3ZM323.5 351.7H326.6V353.8H323.5ZM326.3 357.0H329.3V359.1H326.3ZM227.5 365.8H230.5V367.8H227.5ZM235.7 365.8H238.8V367.8H235.7ZM241.2 369.3H244.3V371.3H241.2ZM241.2 372.8H244.3V374.8H241.2ZM323.5 372.8H326.6V374.8H323.5ZM235.7 379.8H238.8V381.9H235.7ZM326.3 379.8H332.1V381.9H326.3ZM334.5 379.8H343.0V381.9H334.5ZM345.5 379.8H348.5V381.9H345.5ZM244.0 390.3H247.0V392.4H244.0ZM233.0 392.1H236.0V394.2H233.0ZM233.0 393.9H236.0V395.9H233.0ZM244.0 393.9H247.0V395.9H244.0ZM329.0 399.1H332.1V401.2H329.0ZM246.7 400.9H249.8V402.9H246.7ZM331.8 409.6H334.8V411.7H331.8ZM233.0 416.7H236.0V418.7H233.0ZM254.9 416.7H258.0V418.7H254.9ZM334.5 418.4H337.6V420.5H334.5ZM230.2 432.5H233.3V434.5H230.2ZM342.7 444.7H345.8V446.8H342.7Z"/><path fill="#640000" d="M353.7 314.9H359.5V316.9H353.7ZM353.7 334.2H359.5V336.2H353.7ZM351.0 337.7H359.5V339.7H351.0ZM356.5 339.4H359.5V341.5H356.5ZM351.0 341.2H356.8V343.3H351.0ZM348.2 351.7H351.3V353.8H348.2ZM356.5 358.8H359.5V360.8H356.5ZM356.5 395.6H359.5V397.7H356.5ZM241.2 409.6H247.0V411.7H241.2ZM244.0 413.2H249.8V415.2H244.0ZM244.0 414.9H249.8V417.0H244.0ZM241.2 416.7H244.3V418.7H241.2ZM249.4 416.7H252.5V418.7H249.4ZM241.2 418.4H244.3V420.5H241.2ZM241.2 420.2H244.3V422.2H241.2ZM252.2 420.2H255.2V422.2H252.2ZM244.0 421.9H249.8V424.0H244.0ZM252.2 421.9H255.2V424.0H252.2ZM244.0 423.7H247.0V425.7H244.0ZM252.2 423.7H255.2V425.7H252.2ZM238.5 427.2H241.5V429.2H238.5ZM241.2 428.9H244.3V431.0H241.2ZM235.7 430.7H238.8V432.8H235.7ZM345.5 430.7H359.5V432.8H345.5ZM238.5 432.5H241.5V434.5H238.5ZM241.2 436.0H244.3V438.0H241.2ZM241.2 437.7H244.3V439.8H241.2ZM238.5 439.5H241.5V441.5H238.5ZM238.5 441.2H241.5V443.3H238.5ZM254.9 444.7H258.0V446.8H254.9Z"/><path fill="#ffffa0" d="M227.5 316.6H230.5V318.7H227.5ZM227.5 323.7H230.5V325.7H227.5ZM227.5 327.2H230.5V329.2H227.5Z"/><path fill="#ffff00" d="M235.7 316.6H238.8V318.7H235.7Z"/><path fill="#ff6e00" d="M246.7 316.6H249.8V318.7H246.7ZM246.7 320.1H249.8V322.2H246.7ZM241.2 334.2H247.0V336.2H241.2ZM244.0 337.7H247.0V339.7H244.0ZM241.2 339.4H244.3V341.5H241.2ZM241.2 344.7H244.3V346.8H241.2ZM241.2 348.2H244.3V350.3H241.2ZM235.7 357.0H238.8V359.1H235.7ZM233.0 358.8H236.0V360.8H233.0ZM252.2 385.1H255.2V387.1H252.2ZM268.7 385.1H271.7V387.1H268.7ZM285.1 385.1H290.9V387.1H285.1ZM312.6 385.1H318.3V387.1H312.6ZM254.9 400.9H258.0V402.9H254.9ZM326.3 409.6H329.3V411.7H326.3ZM263.2 416.7H266.2V418.7H263.2ZM263.2 418.4H266.2V420.5H263.2ZM263.2 420.2H266.2V422.2H263.2ZM268.7 425.4H271.7V427.5H268.7ZM282.4 425.4H285.4V427.5H282.4ZM296.1 425.4H299.1V427.5H296.1ZM326.3 425.4H329.3V427.5H326.3ZM265.9 427.2H269.0V429.2H265.9ZM329.0 427.2H332.1V429.2H329.0ZM265.9 434.2H269.0V436.3H265.9ZM331.8 434.2H334.8V436.3H331.8ZM268.7 439.5H271.7V441.5H268.7ZM274.1 439.5H277.2V441.5H274.1ZM282.4 439.5H288.2V441.5H282.4ZM304.3 439.5H307.4V441.5H304.3ZM318.0 439.5H321.1V441.5H318.0ZM329.0 439.5H334.8V441.5H329.0ZM268.7 441.2H271.7V443.3H268.7ZM282.4 441.2H285.4V443.3H282.4ZM287.9 441.2H290.9V443.3H287.9ZM298.8 441.2H304.6V443.3H298.8ZM320.8 441.2H323.8V443.3H320.8ZM326.3 441.2H332.1V443.3H326.3ZM268.7 443.0H271.7V445.0H268.7ZM290.6 443.0H293.7V445.0H290.6ZM296.1 443.0H310.1V445.0H296.1ZM331.8 443.0H334.8V445.0H331.8Z"/><path fill="#ffffc8" d="M227.5 318.4H230.5V320.4H227.5Z"/><path fill="#ffe600" d="M238.5 318.4H241.5V320.4H238.5ZM235.7 334.2H238.8V336.2H235.7ZM235.7 343.0H238.8V345.0H235.7ZM233.0 350.0H236.0V352.0H233.0ZM227.5 351.7H230.5V353.8H227.5ZM230.2 353.5H233.3V355.5H230.2Z"/><path fill="#ffff8c" d="M227.5 320.1H230.5V322.2H227.5ZM230.2 332.4H233.3V334.5H230.2ZM227.5 335.9H230.5V338.0H227.5Z"/><path fill="#ffff64" d="M230.2 320.1H233.3V322.2H230.2ZM230.2 321.9H233.3V324.0H230.2ZM230.2 335.9H233.3V338.0H230.2ZM227.5 339.4H230.5V341.5H227.5Z"/><path fill="#ffaa00" d="M249.4 320.1H252.5V322.2H249.4ZM249.4 321.9H252.5V324.0H249.4ZM246.7 325.4H249.8V327.5H246.7ZM238.5 334.2H241.5V336.2H238.5ZM246.7 335.9H249.8V338.0H246.7ZM238.5 339.4H241.5V341.5H238.5ZM238.5 343.0H241.5V345.0H238.5ZM244.0 344.7H247.0V346.8H244.0ZM244.0 353.5H247.0V355.5H244.0ZM244.0 355.2H247.0V357.3H244.0ZM233.0 357.0H236.0V359.1H233.0ZM254.9 383.3H260.7V385.4H254.9ZM263.2 383.3H269.0V385.4H263.2ZM271.4 383.3H277.2V385.4H271.4ZM279.6 383.3H282.7V385.4H279.6ZM285.1 383.3H290.9V385.4H285.1ZM293.4 383.3H307.4V385.4H293.4ZM309.8 383.3H315.6V385.4H309.8ZM254.9 386.8H258.0V388.9H254.9ZM260.4 386.8H263.5V388.9H260.4ZM265.9 386.8H271.7V388.9H265.9ZM279.6 386.8H288.2V388.9H279.6ZM293.4 386.8H296.4V388.9H293.4ZM298.8 386.8H307.4V388.9H298.8ZM309.8 386.8H315.6V388.9H309.8ZM282.4 388.6H285.4V390.6H282.4ZM257.7 393.9H271.7V395.9H257.7ZM274.1 393.9H293.7V395.9H274.1ZM296.1 393.9H307.4V395.9H296.1ZM309.8 393.9H318.3V395.9H309.8ZM263.2 406.1H277.2V408.2H263.2ZM285.1 406.1H288.2V408.2H285.1ZM296.1 406.1H301.9V408.2H296.1ZM312.6 406.1H321.1V408.2H312.6ZM257.7 407.9H260.7V409.9H257.7ZM263.2 409.6H266.2V411.7H263.2ZM260.4 411.4H263.5V413.5H260.4ZM265.9 413.2H269.0V415.2H265.9ZM271.4 413.2H274.4V415.2H271.4ZM323.5 413.2H326.6V415.2H323.5ZM265.9 414.9H269.0V417.0H265.9ZM276.9 414.9H279.9V417.0H276.9ZM290.6 414.9H293.7V417.0H290.6ZM320.8 414.9H326.6V417.0H320.8Z"/><path fill="#ffff50" d="M233.0 323.7H236.0V325.7H233.0ZM233.0 325.4H236.0V327.5H233.0ZM230.2 334.2H233.3V336.2H230.2ZM227.5 341.2H230.5V343.3H227.5ZM227.5 348.2H230.5V350.3H227.5Z"/><path fill="#ffffaa" d="M227.5 332.4H230.5V334.5H227.5Z"/><path fill="#ffff1e" d="M235.7 332.4H238.8V334.5H235.7ZM233.0 334.2H236.0V336.2H233.0Z"/><path fill="#ffdc00" d="M238.5 332.4H241.5V334.5H238.5ZM235.7 337.7H238.8V339.7H235.7ZM235.7 339.4H238.8V341.5H235.7ZM235.7 346.5H238.8V348.5H235.7ZM230.2 351.7H233.3V353.8H230.2ZM230.2 357.0H233.3V359.1H230.2Z"/><path fill="#5a0000" d="M356.5 341.2H359.5V343.3H356.5ZM351.0 351.7H359.5V353.8H351.0ZM244.0 418.4H252.5V420.5H244.0ZM244.0 420.2H252.5V422.2H244.0ZM249.4 421.9H252.5V424.0H249.4ZM246.7 423.7H252.5V425.7H246.7ZM238.5 425.4H241.5V427.5H238.5ZM254.9 425.4H258.0V427.5H254.9ZM241.2 427.2H244.3V429.2H241.2ZM249.4 428.9H252.5V431.0H249.4ZM238.5 430.7H241.5V432.8H238.5ZM241.2 434.2H244.3V436.3H241.2ZM252.2 436.0H258.0V438.0H252.2ZM252.2 437.7H255.2V439.8H252.2ZM241.2 439.5H244.3V441.5H241.2ZM241.2 441.2H244.3V443.3H241.2ZM241.2 443.0H244.3V445.0H241.2ZM244.0 444.7H247.0V446.8H244.0ZM252.2 444.7H255.2V446.8H252.2Z"/><path fill="#500000" d="M244.0 416.7H249.8V418.7H244.0ZM241.2 425.4H244.3V427.5H241.2ZM254.9 427.2H258.0V429.2H254.9ZM252.2 428.9H258.0V431.0H252.2ZM241.2 432.5H244.3V434.5H241.2ZM252.2 434.2H255.2V436.3H252.2ZM244.0 436.0H247.0V438.0H244.0ZM249.4 436.0H252.5V438.0H249.4ZM254.9 437.7H258.0V439.8H254.9ZM254.9 441.2H258.0V443.3H254.9ZM254.9 443.0H258.0V445.0H254.9ZM246.7 444.7H252.5V446.8H246.7Z"/><path fill="#460000" d="M244.0 425.4H249.8V427.5H244.0ZM252.2 427.2H255.2V429.2H252.2ZM244.0 428.9H249.8V431.0H244.0ZM241.2 430.7H244.3V432.8H241.2ZM249.4 432.5H252.5V434.5H249.4ZM244.0 434.2H247.0V436.3H244.0ZM249.4 434.2H252.5V436.3H249.4ZM254.9 434.2H258.0V436.3H254.9ZM246.7 436.0H249.8V438.0H246.7ZM244.0 437.7H247.0V439.8H244.0ZM249.4 437.7H252.5V439.8H249.4ZM252.2 439.5H258.0V441.5H252.2ZM252.2 441.2H255.2V443.3H252.2ZM244.0 443.0H247.0V445.0H244.0ZM252.2 443.0H255.2V445.0H252.2Z"/><path fill="#3c0000" d="M249.4 425.4H255.2V427.5H249.4ZM244.0 427.2H252.5V429.2H244.0ZM244.0 432.5H249.8V434.5H244.0ZM252.2 432.5H258.0V434.5H252.2ZM246.7 434.2H249.8V436.3H246.7ZM246.7 437.7H249.8V439.8H246.7ZM244.0 439.5H247.0V441.5H244.0ZM249.4 439.5H252.5V441.5H249.4ZM244.0 441.2H247.0V443.3H244.0ZM249.4 441.2H252.5V443.3H249.4ZM249.4 443.0H252.5V445.0H249.4Z"/><path fill="#320000" d="M244.0 430.7H258.0V432.8H244.0ZM246.7 441.2H249.8V443.3H246.7ZM246.7 443.0H249.8V445.0H246.7Z"/><path fill="#280000" d="M246.7 439.5H249.8V441.5H246.7Z"/></g>
<line x1="227.50" y1="376.00" x2="359.20" y2="376.00" stroke="#111" stroke-width="1.3"/>
<rect x="227.50" y="306.10" width="131.70" height="140.40" fill="none" stroke="#222" stroke-width="1.0"/>
<line x1="227.50" y1="306.10" x2="231.00" y2="306.10" stroke="#222" stroke-width="1"/>
<line x1="227.50" y1="376.00" x2="231.00" y2="376.00" stroke="#222" stroke-width="1"/>
<line x1="227.50" y1="446.50" x2="231.00" y2="446.50" stroke="#222" stroke-width="1"/>
<line x1="291.30" y1="446.50" x2="291.30" y2="443.00" stroke="#222" stroke-width="1"/>
<line x1="359.20" y1="446.50" x2="359.20" y2="443.00" stroke="#222" stroke-width="1"/>
<defs><linearGradient id="hotH" x1="0" y1="0" x2="1" y2="0"><stop offset="0" stop-color="#0b0000"/><stop offset="0.365" stop-color="#ff0000"/><stop offset="0.746" stop-color="#ffff00"/><stop offset="1" stop-color="#ffffff"/></linearGradient></defs>
<rect x="226.80" y="290.70" width="132.70" height="7.40" fill="url(#hotH)"/>
<rect x="226.80" y="290.70" width="132.70" height="7.40" fill="none" stroke="#222" stroke-width="1.0"/>
<line x1="237.80" y1="290.70" x2="237.80" y2="293.90" stroke="#222" stroke-width="1"/>
<line x1="347.60" y1="290.70" x2="347.60" y2="293.90" stroke="#222" stroke-width="1"/>
<text x="205.8" y="278.4" font-size="19" font-weight="bold"><tspan>C</tspan></text>
<text x="237.8" y="285.2" font-size="19" text-anchor="middle"><tspan>0</tspan></text>
<text x="347.6" y="285.2" font-size="19" text-anchor="middle"><tspan>1</tspan></text>
<text x="292.9" y="269.7" font-size="19" text-anchor="middle" id="f32" textLength="55.80" lengthAdjust="spacingAndGlyphs"><tspan font-style="italic">G</tspan><tspan> (</tspan><tspan font-style="italic">μ</tspan><tspan>S)</tspan></text>
<text x="224.8" y="314.4" font-size="19" text-anchor="end"><tspan>5</tspan></text>
<text x="224.8" y="384.2" font-size="19" text-anchor="end"><tspan>0</tspan></text>
<text x="224.6" y="456.3" font-size="19" text-anchor="end" id="f33" textLength="23.12" lengthAdjust="spacingAndGlyphs"><tspan>−5</tspan></text>
<text x="291.2" y="464.4" font-size="19" text-anchor="middle" id="f34" textLength="23.04" lengthAdjust="spacingAndGlyphs"><tspan>2.5</tspan></text>
<text x="357.7" y="464.4" font-size="19" text-anchor="middle" id="f35" textLength="24.04" lengthAdjust="spacingAndGlyphs"><tspan>5.0</tspan></text>
<text x="293.0" y="484.7" font-size="19" text-anchor="middle" id="f36" textLength="44.69" lengthAdjust="spacingAndGlyphs"><tspan font-style="italic">B</tspan><tspan> (T)</tspan></text>
<clipPath id="clipE"><rect x="446.6" y="268.7" width="168.9" height="177.3"/></clipPath>
<g clip-path="url(#clipE)"><circle cx="440.9" cy="322.4" r="2.3" fill="rgb(222,220,219)"/><circle cx="444.4" cy="336.7" r="2.3" fill="rgb(220,220,222)"/><circle cx="445.0" cy="344.8" r="2.3" fill="rgb(217,219,223)"/><circle cx="446.0" cy="315.9" r="2.3" fill="rgb(219,220,222)"/><circle cx="444.8" cy="335.6" r="2.3" fill="rgb(216,219,224)"/><circle cx="446.9" cy="336.4" r="2.3" fill="rgb(220,220,222)"/><circle cx="446.0" cy="329.2" r="2.3" fill="rgb(221,221,221)"/><circle cx="447.4" cy="326.2" r="2.3" fill="rgb(219,220,222)"/><circle cx="447.7" cy="335.7" r="2.3" fill="rgb(224,217,213)"/><circle cx="446.7" cy="336.4" r="2.3" fill="rgb(223,219,217)"/><circle cx="446.8" cy="339.9" r="2.3" fill="rgb(223,219,218)"/><circle cx="447.7" cy="332.1" r="2.3" fill="rgb(222,220,218)"/><circle cx="449.4" cy="350.7" r="2.3" fill="rgb(216,219,224)"/><circle cx="448.4" cy="344.6" r="2.3" fill="rgb(222,220,218)"/><circle cx="446.5" cy="338.1" r="2.3" fill="rgb(221,221,221)"/><circle cx="450.7" cy="336.1" r="2.3" fill="rgb(222,220,218)"/><circle cx="450.5" cy="334.9" r="2.3" fill="rgb(220,221,222)"/><circle cx="449.9" cy="341.2" r="2.3" fill="rgb(222,220,219)"/><circle cx="448.0" cy="337.5" r="2.3" fill="rgb(221,221,220)"/><circle cx="450.5" cy="350.0" r="2.3" fill="rgb(222,220,219)"/><circle cx="449.8" cy="345.5" r="2.3" fill="rgb(216,219,224)"/><circle cx="446.7" cy="332.7" r="2.3" fill="rgb(217,219,223)"/><circle cx="452.0" cy="333.1" r="2.3" fill="rgb(211,216,227)"/><circle cx="450.9" cy="339.8" r="2.3" fill="rgb(218,220,223)"/><circle cx="448.8" cy="328.6" r="2.3" fill="rgb(222,220,220)"/><circle cx="453.1" cy="343.1" r="2.3" fill="rgb(221,221,221)"/><circle cx="448.4" cy="339.6" r="2.3" fill="rgb(224,218,214)"/><circle cx="452.5" cy="333.7" r="2.3" fill="rgb(223,219,217)"/><circle cx="450.6" cy="336.0" r="2.3" fill="rgb(217,219,223)"/><circle cx="454.0" cy="342.4" r="2.3" fill="rgb(214,218,225)"/><circle cx="451.6" cy="341.5" r="2.3" fill="rgb(221,221,220)"/><circle cx="450.3" cy="335.3" r="2.3" fill="rgb(213,217,226)"/><circle cx="454.5" cy="338.6" r="2.3" fill="rgb(222,219,218)"/><circle cx="452.3" cy="337.6" r="2.3" fill="rgb(222,220,220)"/><circle cx="454.3" cy="340.2" r="2.3" fill="rgb(217,219,223)"/><circle cx="453.1" cy="338.3" r="2.3" fill="rgb(222,220,219)"/><circle cx="457.5" cy="338.0" r="2.3" fill="rgb(224,218,215)"/><circle cx="450.5" cy="331.3" r="2.3" fill="rgb(219,220,222)"/><circle cx="454.8" cy="342.8" r="2.3" fill="rgb(210,216,227)"/><circle cx="455.9" cy="333.3" r="2.3" fill="rgb(215,218,225)"/><circle cx="453.2" cy="345.2" r="2.3" fill="rgb(221,221,221)"/><circle cx="457.9" cy="336.6" r="2.3" fill="rgb(220,221,222)"/><circle cx="455.2" cy="336.0" r="2.3" fill="rgb(224,217,214)"/><circle cx="457.3" cy="336.3" r="2.3" fill="rgb(216,218,224)"/><circle cx="454.1" cy="341.6" r="2.3" fill="rgb(224,218,215)"/><circle cx="455.2" cy="337.1" r="2.3" fill="rgb(219,220,222)"/><circle cx="454.8" cy="338.2" r="2.3" fill="rgb(217,219,224)"/><circle cx="460.0" cy="338.4" r="2.3" fill="rgb(220,220,222)"/><circle cx="454.5" cy="344.2" r="2.3" fill="rgb(215,218,225)"/><circle cx="457.9" cy="338.5" r="2.3" fill="rgb(221,221,221)"/><circle cx="457.0" cy="339.7" r="2.3" fill="rgb(221,221,220)"/><circle cx="456.4" cy="350.0" r="2.3" fill="rgb(221,221,221)"/><circle cx="456.6" cy="346.1" r="2.3" fill="rgb(217,219,223)"/><circle cx="458.9" cy="343.8" r="2.3" fill="rgb(219,220,222)"/><circle cx="459.1" cy="343.0" r="2.3" fill="rgb(222,220,218)"/><circle cx="454.7" cy="333.2" r="2.3" fill="rgb(223,219,218)"/><circle cx="458.5" cy="345.1" r="2.3" fill="rgb(222,219,218)"/><circle cx="460.1" cy="336.8" r="2.3" fill="rgb(221,221,220)"/><circle cx="458.3" cy="334.1" r="2.3" fill="rgb(220,221,221)"/><circle cx="458.1" cy="338.7" r="2.3" fill="rgb(225,217,213)"/><circle cx="462.7" cy="337.7" r="2.3" fill="rgb(221,221,221)"/><circle cx="459.7" cy="345.5" r="2.3" fill="rgb(222,220,218)"/><circle cx="460.3" cy="346.7" r="2.3" fill="rgb(221,221,221)"/><circle cx="458.9" cy="335.0" r="2.3" fill="rgb(223,219,217)"/><circle cx="458.7" cy="347.4" r="2.3" fill="rgb(218,219,223)"/><circle cx="460.7" cy="350.5" r="2.3" fill="rgb(223,219,217)"/><circle cx="461.6" cy="343.3" r="2.3" fill="rgb(224,218,215)"/><circle cx="461.2" cy="342.9" r="2.3" fill="rgb(220,220,222)"/><circle cx="462.3" cy="353.3" r="2.3" fill="rgb(213,217,226)"/><circle cx="461.4" cy="341.2" r="2.3" fill="rgb(223,219,217)"/><circle cx="460.3" cy="345.3" r="2.3" fill="rgb(222,220,220)"/><circle cx="461.6" cy="348.1" r="2.3" fill="rgb(221,221,221)"/><circle cx="461.8" cy="346.0" r="2.3" fill="rgb(217,219,223)"/><circle cx="459.0" cy="346.5" r="2.3" fill="rgb(220,221,221)"/><circle cx="464.3" cy="352.1" r="2.3" fill="rgb(223,218,216)"/><circle cx="463.0" cy="356.4" r="2.3" fill="rgb(220,221,221)"/><circle cx="463.9" cy="351.7" r="2.3" fill="rgb(219,220,222)"/><circle cx="462.9" cy="355.7" r="2.3" fill="rgb(220,221,221)"/><circle cx="461.6" cy="345.8" r="2.3" fill="rgb(222,220,219)"/><circle cx="462.0" cy="342.5" r="2.3" fill="rgb(218,219,223)"/><circle cx="463.1" cy="347.1" r="2.3" fill="rgb(224,218,214)"/><circle cx="462.7" cy="345.7" r="2.3" fill="rgb(217,219,223)"/><circle cx="468.1" cy="347.4" r="2.3" fill="rgb(220,221,221)"/><circle cx="465.5" cy="346.5" r="2.3" fill="rgb(221,221,221)"/><circle cx="464.1" cy="335.0" r="2.3" fill="rgb(222,220,218)"/><circle cx="466.2" cy="346.7" r="2.3" fill="rgb(215,218,224)"/><circle cx="465.2" cy="338.2" r="2.3" fill="rgb(221,221,221)"/><circle cx="464.5" cy="353.0" r="2.3" fill="rgb(222,220,219)"/><circle cx="467.1" cy="342.8" r="2.3" fill="rgb(223,219,216)"/><circle cx="466.2" cy="344.4" r="2.3" fill="rgb(222,219,218)"/><circle cx="466.2" cy="345.3" r="2.3" fill="rgb(222,220,218)"/><circle cx="467.0" cy="341.7" r="2.3" fill="rgb(219,220,222)"/><circle cx="469.9" cy="344.9" r="2.3" fill="rgb(220,221,222)"/><circle cx="466.9" cy="349.5" r="2.3" fill="rgb(223,219,216)"/><circle cx="467.9" cy="359.2" r="2.3" fill="rgb(223,219,216)"/><circle cx="469.9" cy="353.8" r="2.3" fill="rgb(222,220,219)"/><circle cx="468.1" cy="352.5" r="2.3" fill="rgb(214,217,225)"/><circle cx="470.9" cy="352.8" r="2.3" fill="rgb(217,219,223)"/><circle cx="468.2" cy="339.9" r="2.3" fill="rgb(223,219,217)"/><circle cx="465.0" cy="349.9" r="2.3" fill="rgb(218,220,223)"/><circle cx="467.0" cy="349.3" r="2.3" fill="rgb(215,218,225)"/><circle cx="468.0" cy="348.5" r="2.3" fill="rgb(213,217,226)"/><circle cx="470.6" cy="354.4" r="2.3" fill="rgb(219,220,222)"/><circle cx="471.9" cy="345.8" r="2.3" fill="rgb(221,221,221)"/><circle cx="467.7" cy="357.2" r="2.3" fill="rgb(221,221,221)"/><circle cx="470.4" cy="346.5" r="2.3" fill="rgb(222,220,219)"/><circle cx="470.7" cy="353.8" r="2.3" fill="rgb(219,220,222)"/><circle cx="468.4" cy="353.4" r="2.3" fill="rgb(214,217,225)"/><circle cx="468.9" cy="354.4" r="2.3" fill="rgb(216,219,224)"/><circle cx="470.8" cy="348.3" r="2.3" fill="rgb(226,215,210)"/><circle cx="470.2" cy="347.1" r="2.3" fill="rgb(222,219,218)"/><circle cx="470.3" cy="350.4" r="2.3" fill="rgb(223,219,217)"/><circle cx="466.8" cy="356.8" r="2.3" fill="rgb(222,219,218)"/><circle cx="474.2" cy="356.1" r="2.3" fill="rgb(218,219,223)"/><circle cx="474.6" cy="359.3" r="2.3" fill="rgb(216,219,224)"/><circle cx="474.6" cy="352.0" r="2.3" fill="rgb(221,221,221)"/><circle cx="472.8" cy="353.7" r="2.3" fill="rgb(222,219,218)"/><circle cx="473.8" cy="357.9" r="2.3" fill="rgb(222,220,219)"/><circle cx="472.5" cy="341.0" r="2.3" fill="rgb(217,219,223)"/><circle cx="472.7" cy="349.9" r="2.3" fill="rgb(222,220,220)"/><circle cx="475.4" cy="353.4" r="2.3" fill="rgb(218,219,223)"/><circle cx="469.8" cy="354.8" r="2.3" fill="rgb(217,219,223)"/><circle cx="473.0" cy="346.1" r="2.3" fill="rgb(218,219,223)"/><circle cx="475.2" cy="361.3" r="2.3" fill="rgb(221,221,220)"/><circle cx="475.6" cy="361.3" r="2.3" fill="rgb(221,220,220)"/><circle cx="473.7" cy="351.0" r="2.3" fill="rgb(224,218,214)"/><circle cx="474.8" cy="353.0" r="2.3" fill="rgb(219,220,222)"/><circle cx="476.6" cy="356.8" r="2.3" fill="rgb(220,220,222)"/><circle cx="476.4" cy="349.8" r="2.3" fill="rgb(223,218,216)"/><circle cx="475.6" cy="351.4" r="2.3" fill="rgb(212,217,226)"/><circle cx="477.2" cy="354.4" r="2.3" fill="rgb(221,221,220)"/><circle cx="475.4" cy="353.2" r="2.3" fill="rgb(219,220,222)"/><circle cx="478.6" cy="361.5" r="2.3" fill="rgb(221,221,220)"/><circle cx="474.6" cy="359.3" r="2.3" fill="rgb(220,221,221)"/><circle cx="477.6" cy="349.0" r="2.3" fill="rgb(218,219,223)"/><circle cx="479.4" cy="349.3" r="2.3" fill="rgb(223,219,217)"/><circle cx="479.2" cy="352.9" r="2.3" fill="rgb(222,220,219)"/><circle cx="476.4" cy="353.2" r="2.3" fill="rgb(224,218,215)"/><circle cx="481.0" cy="356.4" r="2.3" fill="rgb(211,216,227)"/><circle cx="479.6" cy="354.0" r="2.3" fill="rgb(219,220,222)"/><circle cx="479.5" cy="355.6" r="2.3" fill="rgb(222,220,219)"/><circle cx="478.3" cy="361.2" r="2.3" fill="rgb(223,219,217)"/><circle cx="479.0" cy="351.5" r="2.3" fill="rgb(221,221,221)"/><circle cx="480.7" cy="357.6" r="2.3" fill="rgb(216,219,224)"/><circle cx="479.5" cy="366.1" r="2.3" fill="rgb(216,218,224)"/><circle cx="479.7" cy="362.2" r="2.3" fill="rgb(222,220,219)"/><circle cx="481.0" cy="365.1" r="2.3" fill="rgb(213,217,226)"/><circle cx="477.5" cy="356.5" r="2.3" fill="rgb(215,218,224)"/><circle cx="479.6" cy="356.2" r="2.3" fill="rgb(217,219,223)"/><circle cx="481.2" cy="362.3" r="2.3" fill="rgb(221,221,221)"/><circle cx="482.4" cy="360.2" r="2.3" fill="rgb(218,219,223)"/><circle cx="480.1" cy="362.8" r="2.3" fill="rgb(223,219,216)"/><circle cx="483.2" cy="355.1" r="2.3" fill="rgb(221,221,221)"/><circle cx="482.8" cy="361.6" r="2.3" fill="rgb(219,220,222)"/><circle cx="482.8" cy="356.4" r="2.3" fill="rgb(218,219,223)"/><circle cx="481.7" cy="361.6" r="2.3" fill="rgb(224,218,214)"/><circle cx="482.0" cy="347.3" r="2.3" fill="rgb(221,221,221)"/><circle cx="482.7" cy="373.9" r="2.3" fill="rgb(221,221,221)"/><circle cx="483.9" cy="367.6" r="2.3" fill="rgb(214,217,225)"/><circle cx="483.1" cy="363.1" r="2.3" fill="rgb(215,218,224)"/><circle cx="484.8" cy="357.5" r="2.3" fill="rgb(214,218,225)"/><circle cx="484.3" cy="370.0" r="2.3" fill="rgb(221,221,221)"/><circle cx="483.1" cy="369.2" r="2.3" fill="rgb(220,221,221)"/><circle cx="485.1" cy="363.6" r="2.3" fill="rgb(222,220,219)"/><circle cx="486.2" cy="353.5" r="2.3" fill="rgb(222,220,218)"/><circle cx="486.4" cy="357.4" r="2.3" fill="rgb(222,220,218)"/><circle cx="485.9" cy="370.1" r="2.3" fill="rgb(221,221,221)"/><circle cx="484.9" cy="354.9" r="2.3" fill="rgb(222,220,219)"/><circle cx="487.7" cy="362.1" r="2.3" fill="rgb(221,221,220)"/><circle cx="485.7" cy="365.6" r="2.3" fill="rgb(219,220,222)"/><circle cx="485.5" cy="363.5" r="2.3" fill="rgb(221,220,220)"/><circle cx="485.1" cy="354.1" r="2.3" fill="rgb(221,221,221)"/><circle cx="487.0" cy="365.9" r="2.3" fill="rgb(215,218,224)"/><circle cx="486.1" cy="368.8" r="2.3" fill="rgb(222,220,219)"/><circle cx="485.7" cy="365.5" r="2.3" fill="rgb(217,219,223)"/><circle cx="489.0" cy="362.7" r="2.3" fill="rgb(222,220,220)"/><circle cx="487.6" cy="364.7" r="2.3" fill="rgb(217,219,224)"/><circle cx="486.7" cy="367.6" r="2.3" fill="rgb(222,220,220)"/><circle cx="485.5" cy="366.3" r="2.3" fill="rgb(223,219,217)"/><circle cx="487.2" cy="357.2" r="2.3" fill="rgb(222,220,219)"/><circle cx="489.1" cy="365.1" r="2.3" fill="rgb(214,218,225)"/><circle cx="487.4" cy="358.1" r="2.3" fill="rgb(223,218,216)"/><circle cx="487.7" cy="366.6" r="2.3" fill="rgb(220,221,221)"/><circle cx="487.2" cy="362.4" r="2.3" fill="rgb(219,220,222)"/><circle cx="486.1" cy="370.1" r="2.3" fill="rgb(223,218,216)"/><circle cx="489.0" cy="364.6" r="2.3" fill="rgb(223,219,216)"/><circle cx="489.2" cy="373.1" r="2.3" fill="rgb(224,218,214)"/><circle cx="486.0" cy="362.9" r="2.3" fill="rgb(205,213,230)"/><circle cx="491.5" cy="374.1" r="2.3" fill="rgb(219,220,222)"/><circle cx="491.0" cy="369.8" r="2.3" fill="rgb(217,219,223)"/><circle cx="491.5" cy="367.7" r="2.3" fill="rgb(222,220,219)"/><circle cx="489.6" cy="367.0" r="2.3" fill="rgb(222,220,219)"/><circle cx="492.8" cy="371.7" r="2.3" fill="rgb(226,216,211)"/><circle cx="487.6" cy="373.6" r="2.3" fill="rgb(219,220,222)"/><circle cx="492.9" cy="367.8" r="2.3" fill="rgb(223,219,217)"/><circle cx="490.2" cy="374.3" r="2.3" fill="rgb(223,218,216)"/><circle cx="493.4" cy="376.2" r="2.3" fill="rgb(220,220,222)"/><circle cx="493.1" cy="366.4" r="2.3" fill="rgb(222,219,218)"/><circle cx="490.6" cy="366.3" r="2.3" fill="rgb(222,220,220)"/><circle cx="492.9" cy="371.0" r="2.3" fill="rgb(223,219,216)"/><circle cx="491.5" cy="372.7" r="2.3" fill="rgb(218,219,223)"/><circle cx="494.1" cy="373.2" r="2.3" fill="rgb(217,219,223)"/><circle cx="493.6" cy="365.5" r="2.3" fill="rgb(220,220,222)"/><circle cx="493.8" cy="379.2" r="2.3" fill="rgb(222,220,218)"/><circle cx="495.5" cy="381.8" r="2.3" fill="rgb(224,218,215)"/><circle cx="494.6" cy="370.7" r="2.3" fill="rgb(225,216,212)"/><circle cx="492.7" cy="366.1" r="2.3" fill="rgb(221,221,221)"/><circle cx="494.1" cy="373.8" r="2.3" fill="rgb(210,216,227)"/><circle cx="493.6" cy="369.1" r="2.3" fill="rgb(221,221,220)"/><circle cx="496.2" cy="374.2" r="2.3" fill="rgb(220,220,222)"/><circle cx="495.9" cy="378.0" r="2.3" fill="rgb(223,218,215)"/><circle cx="497.4" cy="375.7" r="2.3" fill="rgb(221,220,220)"/><circle cx="497.9" cy="377.1" r="2.3" fill="rgb(217,219,223)"/><circle cx="495.0" cy="369.0" r="2.3" fill="rgb(222,220,219)"/><circle cx="494.7" cy="381.4" r="2.3" fill="rgb(223,219,217)"/><circle cx="496.3" cy="374.0" r="2.3" fill="rgb(219,220,222)"/><circle cx="494.3" cy="372.8" r="2.3" fill="rgb(216,218,224)"/><circle cx="495.4" cy="376.4" r="2.3" fill="rgb(218,219,223)"/><circle cx="496.7" cy="376.2" r="2.3" fill="rgb(220,220,222)"/><circle cx="498.8" cy="367.0" r="2.3" fill="rgb(223,219,216)"/><circle cx="496.6" cy="376.4" r="2.3" fill="rgb(214,218,225)"/><circle cx="494.4" cy="378.4" r="2.3" fill="rgb(218,220,223)"/><circle cx="500.5" cy="372.7" r="2.3" fill="rgb(223,219,217)"/><circle cx="498.9" cy="381.7" r="2.3" fill="rgb(217,219,223)"/><circle cx="498.2" cy="372.9" r="2.3" fill="rgb(223,219,218)"/><circle cx="500.1" cy="363.6" r="2.3" fill="rgb(225,216,212)"/><circle cx="498.3" cy="376.9" r="2.3" fill="rgb(223,218,216)"/><circle cx="498.2" cy="368.8" r="2.3" fill="rgb(221,221,221)"/><circle cx="499.0" cy="386.2" r="2.3" fill="rgb(223,219,218)"/><circle cx="498.7" cy="379.1" r="2.3" fill="rgb(214,218,225)"/><circle cx="501.1" cy="376.9" r="2.3" fill="rgb(222,220,219)"/><circle cx="498.1" cy="377.8" r="2.3" fill="rgb(224,217,214)"/><circle cx="500.1" cy="379.8" r="2.3" fill="rgb(222,220,218)"/><circle cx="500.4" cy="391.5" r="2.3" fill="rgb(220,221,221)"/><circle cx="502.9" cy="378.0" r="2.3" fill="rgb(222,220,219)"/><circle cx="500.5" cy="390.3" r="2.3" fill="rgb(221,221,220)"/><circle cx="499.2" cy="379.8" r="2.3" fill="rgb(213,217,226)"/><circle cx="502.0" cy="377.9" r="2.3" fill="rgb(221,221,221)"/><circle cx="504.5" cy="390.5" r="2.3" fill="rgb(207,214,229)"/><circle cx="505.3" cy="383.4" r="2.3" fill="rgb(220,221,221)"/><circle cx="500.4" cy="380.5" r="2.3" fill="rgb(223,218,216)"/><circle cx="502.9" cy="389.0" r="2.3" fill="rgb(221,221,220)"/><circle cx="504.1" cy="388.0" r="2.3" fill="rgb(214,218,225)"/><circle cx="502.9" cy="386.3" r="2.3" fill="rgb(219,220,222)"/><circle cx="504.6" cy="380.3" r="2.3" fill="rgb(220,220,222)"/><circle cx="502.6" cy="386.1" r="2.3" fill="rgb(219,220,222)"/><circle cx="503.3" cy="379.1" r="2.3" fill="rgb(222,220,219)"/><circle cx="502.6" cy="384.2" r="2.3" fill="rgb(223,219,218)"/><circle cx="504.1" cy="389.7" r="2.3" fill="rgb(224,218,215)"/><circle cx="504.3" cy="390.3" r="2.3" fill="rgb(214,217,225)"/><circle cx="502.2" cy="387.4" r="2.3" fill="rgb(219,220,222)"/><circle cx="505.0" cy="387.8" r="2.3" fill="rgb(224,218,215)"/><circle cx="506.1" cy="383.7" r="2.3" fill="rgb(221,221,221)"/><circle cx="504.0" cy="386.8" r="2.3" fill="rgb(212,217,226)"/><circle cx="508.1" cy="385.5" r="2.3" fill="rgb(222,220,219)"/><circle cx="508.4" cy="389.0" r="2.3" fill="rgb(219,220,222)"/><circle cx="504.1" cy="389.8" r="2.3" fill="rgb(216,219,224)"/><circle cx="509.4" cy="388.1" r="2.3" fill="rgb(220,221,222)"/><circle cx="505.6" cy="392.6" r="2.3" fill="rgb(220,220,222)"/><circle cx="506.9" cy="396.6" r="2.3" fill="rgb(222,220,218)"/><circle cx="507.9" cy="385.9" r="2.3" fill="rgb(215,218,225)"/><circle cx="509.3" cy="397.2" r="2.3" fill="rgb(223,219,217)"/><circle cx="507.8" cy="396.7" r="2.3" fill="rgb(221,221,221)"/><circle cx="508.0" cy="385.7" r="2.3" fill="rgb(219,220,222)"/><circle cx="508.2" cy="387.9" r="2.3" fill="rgb(221,221,221)"/><circle cx="503.5" cy="399.3" r="2.3" fill="rgb(217,219,223)"/><circle cx="508.8" cy="398.5" r="2.3" fill="rgb(222,220,218)"/><circle cx="508.1" cy="388.5" r="2.3" fill="rgb(221,221,221)"/><circle cx="507.7" cy="383.9" r="2.3" fill="rgb(223,219,217)"/><circle cx="509.5" cy="386.7" r="2.3" fill="rgb(224,218,215)"/><circle cx="510.9" cy="394.8" r="2.3" fill="rgb(217,219,224)"/><circle cx="507.9" cy="395.4" r="2.3" fill="rgb(222,220,219)"/><circle cx="509.9" cy="396.7" r="2.3" fill="rgb(216,218,224)"/><circle cx="513.0" cy="386.1" r="2.3" fill="rgb(221,221,220)"/><circle cx="511.2" cy="383.3" r="2.3" fill="rgb(225,217,212)"/><circle cx="508.1" cy="392.1" r="2.3" fill="rgb(224,218,215)"/><circle cx="509.2" cy="393.6" r="2.3" fill="rgb(218,219,223)"/><circle cx="510.8" cy="402.1" r="2.3" fill="rgb(216,219,224)"/><circle cx="512.3" cy="385.6" r="2.3" fill="rgb(213,217,226)"/><circle cx="510.6" cy="402.2" r="2.3" fill="rgb(212,217,226)"/><circle cx="511.7" cy="394.9" r="2.3" fill="rgb(217,219,223)"/><circle cx="512.8" cy="397.7" r="2.3" fill="rgb(224,218,215)"/><circle cx="512.3" cy="386.9" r="2.3" fill="rgb(223,219,218)"/><circle cx="513.1" cy="399.4" r="2.3" fill="rgb(216,219,224)"/><circle cx="510.8" cy="391.8" r="2.3" fill="rgb(216,219,224)"/><circle cx="513.8" cy="396.2" r="2.3" fill="rgb(214,218,225)"/><circle cx="513.4" cy="399.4" r="2.3" fill="rgb(221,221,220)"/><circle cx="513.6" cy="401.4" r="2.3" fill="rgb(220,220,222)"/><circle cx="514.6" cy="389.6" r="2.3" fill="rgb(215,218,225)"/><circle cx="514.1" cy="409.6" r="2.3" fill="rgb(223,219,216)"/><circle cx="515.5" cy="397.1" r="2.3" fill="rgb(219,220,222)"/><circle cx="515.6" cy="405.8" r="2.3" fill="rgb(221,221,221)"/><circle cx="512.5" cy="395.1" r="2.3" fill="rgb(221,221,220)"/><circle cx="516.1" cy="402.6" r="2.3" fill="rgb(218,220,223)"/><circle cx="514.2" cy="402.9" r="2.3" fill="rgb(223,218,216)"/><circle cx="514.1" cy="399.8" r="2.3" fill="rgb(216,219,224)"/><circle cx="517.9" cy="406.0" r="2.3" fill="rgb(212,217,226)"/><circle cx="516.8" cy="405.4" r="2.3" fill="rgb(223,219,216)"/><circle cx="517.3" cy="402.0" r="2.3" fill="rgb(222,219,218)"/><circle cx="516.4" cy="396.2" r="2.3" fill="rgb(224,218,215)"/><circle cx="548.1" cy="400.4" r="2.3" fill="rgb(216,218,224)"/><circle cx="544.0" cy="396.0" r="2.3" fill="rgb(214,218,225)"/><circle cx="544.9" cy="397.9" r="2.3" fill="rgb(222,220,219)"/><circle cx="549.0" cy="406.0" r="2.3" fill="rgb(221,221,221)"/><circle cx="547.0" cy="405.9" r="2.3" fill="rgb(223,219,217)"/><circle cx="547.8" cy="403.5" r="2.3" fill="rgb(225,217,213)"/><circle cx="547.2" cy="394.2" r="2.3" fill="rgb(219,220,222)"/><circle cx="545.1" cy="395.4" r="2.3" fill="rgb(207,214,229)"/><circle cx="546.0" cy="401.7" r="2.3" fill="rgb(224,217,214)"/><circle cx="546.4" cy="397.0" r="2.3" fill="rgb(216,218,224)"/><circle cx="546.9" cy="394.6" r="2.3" fill="rgb(219,220,222)"/><circle cx="548.6" cy="397.4" r="2.3" fill="rgb(221,221,220)"/><circle cx="550.7" cy="395.9" r="2.3" fill="rgb(224,217,214)"/><circle cx="553.0" cy="405.1" r="2.3" fill="rgb(221,221,220)"/><circle cx="548.0" cy="389.0" r="2.3" fill="rgb(222,220,219)"/><circle cx="549.6" cy="394.2" r="2.3" fill="rgb(223,219,217)"/><circle cx="548.1" cy="391.6" r="2.3" fill="rgb(221,221,221)"/><circle cx="551.0" cy="390.7" r="2.3" fill="rgb(220,220,222)"/><circle cx="549.9" cy="395.8" r="2.3" fill="rgb(216,219,224)"/><circle cx="552.8" cy="400.9" r="2.3" fill="rgb(219,220,222)"/><circle cx="549.4" cy="393.1" r="2.3" fill="rgb(223,218,216)"/><circle cx="550.5" cy="383.7" r="2.3" fill="rgb(222,220,219)"/><circle cx="553.9" cy="397.0" r="2.3" fill="rgb(223,219,217)"/><circle cx="553.3" cy="397.1" r="2.3" fill="rgb(222,220,219)"/><circle cx="552.1" cy="389.9" r="2.3" fill="rgb(218,220,223)"/><circle cx="552.8" cy="394.8" r="2.3" fill="rgb(221,221,221)"/><circle cx="555.2" cy="396.7" r="2.3" fill="rgb(220,221,221)"/><circle cx="551.2" cy="394.2" r="2.3" fill="rgb(222,219,218)"/><circle cx="552.9" cy="385.6" r="2.3" fill="rgb(223,219,217)"/><circle cx="552.1" cy="398.7" r="2.3" fill="rgb(219,220,222)"/><circle cx="553.7" cy="390.2" r="2.3" fill="rgb(212,216,226)"/><circle cx="551.8" cy="372.9" r="2.3" fill="rgb(222,220,219)"/><circle cx="554.8" cy="385.1" r="2.3" fill="rgb(222,220,220)"/><circle cx="552.0" cy="405.1" r="2.3" fill="rgb(222,219,218)"/><circle cx="552.2" cy="394.0" r="2.3" fill="rgb(210,216,227)"/><circle cx="554.9" cy="382.1" r="2.3" fill="rgb(217,219,223)"/><circle cx="554.2" cy="389.1" r="2.3" fill="rgb(216,218,224)"/><circle cx="555.0" cy="389.6" r="2.3" fill="rgb(222,220,219)"/><circle cx="554.9" cy="381.0" r="2.3" fill="rgb(219,220,222)"/><circle cx="554.1" cy="385.4" r="2.3" fill="rgb(215,218,224)"/><circle cx="554.7" cy="381.0" r="2.3" fill="rgb(221,221,220)"/><circle cx="553.8" cy="383.4" r="2.3" fill="rgb(222,220,218)"/><circle cx="555.6" cy="384.2" r="2.3" fill="rgb(222,220,219)"/><circle cx="552.5" cy="390.4" r="2.3" fill="rgb(220,220,222)"/><circle cx="557.6" cy="391.0" r="2.3" fill="rgb(221,220,220)"/><circle cx="556.5" cy="388.6" r="2.3" fill="rgb(223,218,216)"/><circle cx="557.3" cy="379.3" r="2.3" fill="rgb(222,220,219)"/><circle cx="556.7" cy="386.6" r="2.3" fill="rgb(222,220,219)"/><circle cx="557.7" cy="385.5" r="2.3" fill="rgb(216,218,224)"/><circle cx="554.8" cy="393.6" r="2.3" fill="rgb(219,220,222)"/><circle cx="559.5" cy="377.0" r="2.3" fill="rgb(216,219,224)"/><circle cx="559.2" cy="392.4" r="2.3" fill="rgb(222,220,219)"/><circle cx="559.8" cy="391.1" r="2.3" fill="rgb(221,221,220)"/><circle cx="558.9" cy="376.2" r="2.3" fill="rgb(223,219,217)"/><circle cx="557.1" cy="381.3" r="2.3" fill="rgb(220,220,222)"/><circle cx="560.2" cy="386.5" r="2.3" fill="rgb(216,219,224)"/><circle cx="560.2" cy="390.8" r="2.3" fill="rgb(223,219,216)"/><circle cx="561.1" cy="374.4" r="2.3" fill="rgb(214,218,225)"/><circle cx="558.7" cy="385.7" r="2.3" fill="rgb(221,221,221)"/><circle cx="559.8" cy="393.3" r="2.3" fill="rgb(222,220,220)"/><circle cx="560.2" cy="386.5" r="2.3" fill="rgb(223,219,216)"/><circle cx="561.9" cy="380.8" r="2.3" fill="rgb(223,219,217)"/><circle cx="561.1" cy="378.6" r="2.3" fill="rgb(219,220,222)"/><circle cx="560.0" cy="373.8" r="2.3" fill="rgb(218,219,223)"/><circle cx="559.9" cy="376.4" r="2.3" fill="rgb(222,220,219)"/><circle cx="561.4" cy="374.2" r="2.3" fill="rgb(221,221,221)"/><circle cx="562.7" cy="374.7" r="2.3" fill="rgb(214,217,225)"/><circle cx="563.8" cy="386.5" r="2.3" fill="rgb(222,220,219)"/><circle cx="559.8" cy="390.4" r="2.3" fill="rgb(221,221,221)"/><circle cx="562.9" cy="384.2" r="2.3" fill="rgb(221,221,221)"/><circle cx="560.6" cy="375.9" r="2.3" fill="rgb(222,220,218)"/><circle cx="561.4" cy="367.7" r="2.3" fill="rgb(223,218,216)"/><circle cx="563.9" cy="372.7" r="2.3" fill="rgb(221,221,221)"/><circle cx="561.8" cy="384.1" r="2.3" fill="rgb(222,219,218)"/><circle cx="565.3" cy="372.2" r="2.3" fill="rgb(223,219,217)"/><circle cx="563.0" cy="372.3" r="2.3" fill="rgb(215,218,224)"/><circle cx="564.7" cy="375.8" r="2.3" fill="rgb(221,221,221)"/><circle cx="563.3" cy="384.9" r="2.3" fill="rgb(214,218,225)"/><circle cx="562.7" cy="375.6" r="2.3" fill="rgb(220,221,221)"/><circle cx="564.8" cy="374.4" r="2.3" fill="rgb(223,218,216)"/><circle cx="561.4" cy="381.9" r="2.3" fill="rgb(223,219,217)"/><circle cx="567.3" cy="368.0" r="2.3" fill="rgb(222,220,220)"/><circle cx="565.5" cy="372.4" r="2.3" fill="rgb(215,218,224)"/><circle cx="566.3" cy="378.2" r="2.3" fill="rgb(218,220,222)"/><circle cx="563.4" cy="364.5" r="2.3" fill="rgb(219,220,222)"/><circle cx="565.1" cy="368.6" r="2.3" fill="rgb(216,218,224)"/><circle cx="565.1" cy="381.7" r="2.3" fill="rgb(224,218,215)"/><circle cx="567.3" cy="371.8" r="2.3" fill="rgb(219,220,222)"/><circle cx="566.9" cy="369.2" r="2.3" fill="rgb(217,219,223)"/><circle cx="567.3" cy="376.0" r="2.3" fill="rgb(223,219,216)"/><circle cx="568.0" cy="373.6" r="2.3" fill="rgb(225,217,213)"/><circle cx="565.5" cy="377.4" r="2.3" fill="rgb(223,219,217)"/><circle cx="567.6" cy="370.4" r="2.3" fill="rgb(222,220,220)"/><circle cx="568.8" cy="374.3" r="2.3" fill="rgb(220,220,222)"/><circle cx="566.4" cy="368.0" r="2.3" fill="rgb(217,219,223)"/><circle cx="567.7" cy="371.4" r="2.3" fill="rgb(222,220,218)"/><circle cx="567.8" cy="372.0" r="2.3" fill="rgb(221,221,220)"/><circle cx="566.5" cy="374.4" r="2.3" fill="rgb(216,218,224)"/><circle cx="568.4" cy="375.7" r="2.3" fill="rgb(221,221,220)"/><circle cx="570.3" cy="366.1" r="2.3" fill="rgb(224,217,214)"/><circle cx="569.3" cy="363.9" r="2.3" fill="rgb(224,218,214)"/><circle cx="569.2" cy="364.1" r="2.3" fill="rgb(222,220,220)"/><circle cx="570.5" cy="364.4" r="2.3" fill="rgb(223,219,217)"/><circle cx="571.5" cy="367.9" r="2.3" fill="rgb(220,220,222)"/><circle cx="570.0" cy="367.8" r="2.3" fill="rgb(222,220,218)"/><circle cx="571.4" cy="378.7" r="2.3" fill="rgb(223,218,216)"/><circle cx="571.0" cy="366.2" r="2.3" fill="rgb(222,220,219)"/><circle cx="570.0" cy="373.7" r="2.3" fill="rgb(220,220,222)"/><circle cx="573.1" cy="369.7" r="2.3" fill="rgb(217,219,223)"/><circle cx="569.3" cy="363.2" r="2.3" fill="rgb(218,219,223)"/><circle cx="573.9" cy="368.6" r="2.3" fill="rgb(218,220,223)"/><circle cx="572.9" cy="379.8" r="2.3" fill="rgb(221,221,221)"/><circle cx="570.9" cy="373.8" r="2.3" fill="rgb(218,219,223)"/><circle cx="573.8" cy="367.2" r="2.3" fill="rgb(214,218,225)"/><circle cx="572.9" cy="355.1" r="2.3" fill="rgb(219,220,222)"/><circle cx="573.4" cy="363.6" r="2.3" fill="rgb(225,216,212)"/><circle cx="572.9" cy="361.1" r="2.3" fill="rgb(219,220,222)"/><circle cx="573.2" cy="369.5" r="2.3" fill="rgb(222,220,218)"/><circle cx="576.5" cy="370.1" r="2.3" fill="rgb(221,221,221)"/><circle cx="575.7" cy="367.1" r="2.3" fill="rgb(212,217,226)"/><circle cx="575.4" cy="371.2" r="2.3" fill="rgb(221,221,221)"/><circle cx="575.3" cy="366.0" r="2.3" fill="rgb(218,220,223)"/><circle cx="572.8" cy="366.6" r="2.3" fill="rgb(212,217,226)"/><circle cx="573.7" cy="358.6" r="2.3" fill="rgb(218,219,223)"/><circle cx="577.0" cy="357.7" r="2.3" fill="rgb(219,220,222)"/><circle cx="575.5" cy="367.9" r="2.3" fill="rgb(217,219,223)"/><circle cx="576.1" cy="361.8" r="2.3" fill="rgb(221,221,220)"/><circle cx="577.2" cy="360.5" r="2.3" fill="rgb(224,217,214)"/><circle cx="573.6" cy="356.1" r="2.3" fill="rgb(223,219,217)"/><circle cx="574.3" cy="370.2" r="2.3" fill="rgb(222,220,218)"/><circle cx="576.3" cy="367.7" r="2.3" fill="rgb(223,219,217)"/><circle cx="575.6" cy="367.3" r="2.3" fill="rgb(222,220,220)"/><circle cx="578.1" cy="356.9" r="2.3" fill="rgb(214,217,225)"/><circle cx="577.3" cy="366.8" r="2.3" fill="rgb(224,217,213)"/><circle cx="579.1" cy="358.2" r="2.3" fill="rgb(223,219,216)"/><circle cx="578.8" cy="364.5" r="2.3" fill="rgb(222,220,219)"/><circle cx="578.2" cy="367.9" r="2.3" fill="rgb(222,220,219)"/><circle cx="579.7" cy="368.3" r="2.3" fill="rgb(222,219,218)"/><circle cx="577.5" cy="356.6" r="2.3" fill="rgb(221,221,220)"/><circle cx="580.2" cy="354.1" r="2.3" fill="rgb(217,219,223)"/><circle cx="581.4" cy="360.5" r="2.3" fill="rgb(221,221,221)"/><circle cx="583.5" cy="359.5" r="2.3" fill="rgb(221,221,221)"/><circle cx="578.1" cy="361.9" r="2.3" fill="rgb(218,220,223)"/><circle cx="579.7" cy="353.1" r="2.3" fill="rgb(216,218,224)"/><circle cx="580.1" cy="366.0" r="2.3" fill="rgb(222,219,218)"/><circle cx="581.5" cy="364.8" r="2.3" fill="rgb(219,220,222)"/><circle cx="581.4" cy="358.6" r="2.3" fill="rgb(222,220,219)"/><circle cx="580.6" cy="362.7" r="2.3" fill="rgb(222,220,219)"/><circle cx="581.3" cy="367.2" r="2.3" fill="rgb(222,220,219)"/><circle cx="581.2" cy="354.3" r="2.3" fill="rgb(220,221,221)"/><circle cx="580.4" cy="359.0" r="2.3" fill="rgb(220,221,222)"/><circle cx="582.2" cy="357.4" r="2.3" fill="rgb(216,219,224)"/><circle cx="578.7" cy="361.2" r="2.3" fill="rgb(222,219,218)"/><circle cx="582.6" cy="362.1" r="2.3" fill="rgb(216,218,224)"/><circle cx="583.2" cy="359.5" r="2.3" fill="rgb(223,219,217)"/><circle cx="584.0" cy="366.3" r="2.3" fill="rgb(220,221,221)"/><circle cx="583.7" cy="362.9" r="2.3" fill="rgb(220,220,222)"/><circle cx="582.1" cy="360.1" r="2.3" fill="rgb(221,221,220)"/><circle cx="583.1" cy="358.1" r="2.3" fill="rgb(216,219,224)"/><circle cx="584.3" cy="360.9" r="2.3" fill="rgb(223,218,216)"/><circle cx="586.1" cy="358.1" r="2.3" fill="rgb(221,221,221)"/><circle cx="585.1" cy="363.6" r="2.3" fill="rgb(216,219,224)"/><circle cx="586.0" cy="355.4" r="2.3" fill="rgb(219,220,222)"/><circle cx="588.5" cy="357.8" r="2.3" fill="rgb(221,221,220)"/><circle cx="586.1" cy="355.7" r="2.3" fill="rgb(220,221,221)"/><circle cx="585.7" cy="357.4" r="2.3" fill="rgb(210,215,228)"/><circle cx="583.6" cy="349.1" r="2.3" fill="rgb(216,218,224)"/><circle cx="585.6" cy="353.6" r="2.3" fill="rgb(215,218,224)"/><circle cx="584.0" cy="355.2" r="2.3" fill="rgb(218,219,223)"/><circle cx="584.7" cy="364.3" r="2.3" fill="rgb(222,220,220)"/><circle cx="586.8" cy="355.3" r="2.3" fill="rgb(223,219,217)"/><circle cx="585.5" cy="356.0" r="2.3" fill="rgb(220,220,222)"/><circle cx="586.8" cy="346.6" r="2.3" fill="rgb(222,220,220)"/><circle cx="587.4" cy="355.9" r="2.3" fill="rgb(222,220,219)"/><circle cx="587.0" cy="355.2" r="2.3" fill="rgb(217,219,223)"/><circle cx="588.1" cy="359.5" r="2.3" fill="rgb(222,220,218)"/><circle cx="587.8" cy="349.8" r="2.3" fill="rgb(217,219,223)"/><circle cx="588.9" cy="351.2" r="2.3" fill="rgb(214,217,225)"/><circle cx="589.1" cy="350.0" r="2.3" fill="rgb(224,218,215)"/><circle cx="586.4" cy="360.3" r="2.3" fill="rgb(222,219,218)"/><circle cx="587.5" cy="363.7" r="2.3" fill="rgb(216,218,224)"/><circle cx="585.9" cy="359.3" r="2.3" fill="rgb(220,220,222)"/><circle cx="589.8" cy="348.3" r="2.3" fill="rgb(222,220,219)"/><circle cx="591.6" cy="355.3" r="2.3" fill="rgb(222,220,219)"/><circle cx="587.2" cy="347.5" r="2.3" fill="rgb(222,220,220)"/><circle cx="590.4" cy="359.2" r="2.3" fill="rgb(221,221,220)"/><circle cx="590.4" cy="358.9" r="2.3" fill="rgb(223,219,216)"/><circle cx="591.3" cy="349.9" r="2.3" fill="rgb(217,219,223)"/><circle cx="588.8" cy="356.0" r="2.3" fill="rgb(221,221,220)"/><circle cx="591.5" cy="345.8" r="2.3" fill="rgb(221,221,221)"/><circle cx="591.8" cy="358.0" r="2.3" fill="rgb(220,220,222)"/><circle cx="588.6" cy="362.1" r="2.3" fill="rgb(219,220,222)"/><circle cx="594.1" cy="356.4" r="2.3" fill="rgb(221,221,221)"/><circle cx="591.0" cy="357.0" r="2.3" fill="rgb(224,218,215)"/><circle cx="593.2" cy="356.3" r="2.3" fill="rgb(222,220,219)"/><circle cx="593.1" cy="343.1" r="2.3" fill="rgb(219,220,222)"/><circle cx="592.6" cy="348.0" r="2.3" fill="rgb(223,219,217)"/><circle cx="595.9" cy="351.0" r="2.3" fill="rgb(221,221,221)"/><circle cx="592.0" cy="348.1" r="2.3" fill="rgb(221,221,220)"/><circle cx="593.5" cy="350.1" r="2.3" fill="rgb(223,219,217)"/><circle cx="592.1" cy="353.0" r="2.3" fill="rgb(223,219,217)"/><circle cx="592.7" cy="351.4" r="2.3" fill="rgb(223,219,216)"/><circle cx="589.8" cy="345.5" r="2.3" fill="rgb(219,220,222)"/><circle cx="595.5" cy="345.2" r="2.3" fill="rgb(219,220,222)"/><circle cx="593.2" cy="340.9" r="2.3" fill="rgb(220,221,222)"/><circle cx="594.7" cy="348.4" r="2.3" fill="rgb(222,219,218)"/><circle cx="594.9" cy="343.4" r="2.3" fill="rgb(223,218,215)"/><circle cx="594.8" cy="352.4" r="2.3" fill="rgb(224,218,214)"/><circle cx="597.1" cy="348.0" r="2.3" fill="rgb(219,220,222)"/><circle cx="595.5" cy="349.8" r="2.3" fill="rgb(221,221,220)"/><circle cx="595.9" cy="350.0" r="2.3" fill="rgb(222,220,218)"/><circle cx="596.3" cy="341.4" r="2.3" fill="rgb(222,220,218)"/><circle cx="594.7" cy="342.8" r="2.3" fill="rgb(214,217,225)"/><circle cx="598.7" cy="338.9" r="2.3" fill="rgb(221,221,221)"/><circle cx="595.4" cy="345.5" r="2.3" fill="rgb(215,218,225)"/><circle cx="594.8" cy="345.5" r="2.3" fill="rgb(223,219,217)"/><circle cx="597.8" cy="350.7" r="2.3" fill="rgb(224,217,213)"/><circle cx="597.1" cy="336.7" r="2.3" fill="rgb(223,219,217)"/><circle cx="596.9" cy="352.3" r="2.3" fill="rgb(222,220,219)"/><circle cx="597.1" cy="339.0" r="2.3" fill="rgb(222,220,219)"/><circle cx="596.3" cy="345.8" r="2.3" fill="rgb(221,221,221)"/><circle cx="598.4" cy="338.1" r="2.3" fill="rgb(222,220,219)"/><circle cx="597.6" cy="341.5" r="2.3" fill="rgb(223,218,216)"/><circle cx="601.5" cy="337.7" r="2.3" fill="rgb(223,218,216)"/><circle cx="598.3" cy="348.2" r="2.3" fill="rgb(217,219,223)"/><circle cx="598.2" cy="350.4" r="2.3" fill="rgb(223,219,217)"/><circle cx="598.7" cy="337.4" r="2.3" fill="rgb(222,219,218)"/><circle cx="599.4" cy="352.0" r="2.3" fill="rgb(216,219,224)"/><circle cx="600.3" cy="353.8" r="2.3" fill="rgb(221,221,221)"/><circle cx="599.6" cy="347.0" r="2.3" fill="rgb(216,219,224)"/><circle cx="599.7" cy="345.4" r="2.3" fill="rgb(221,220,220)"/><circle cx="601.2" cy="351.0" r="2.3" fill="rgb(222,220,219)"/><circle cx="602.8" cy="337.6" r="2.3" fill="rgb(221,221,220)"/><circle cx="598.5" cy="347.9" r="2.3" fill="rgb(221,221,221)"/><circle cx="604.2" cy="336.4" r="2.3" fill="rgb(209,215,228)"/><circle cx="601.3" cy="347.9" r="2.3" fill="rgb(216,219,224)"/><circle cx="602.1" cy="342.7" r="2.3" fill="rgb(219,220,222)"/><circle cx="599.8" cy="343.7" r="2.3" fill="rgb(216,219,224)"/><circle cx="604.0" cy="348.2" r="2.3" fill="rgb(213,217,225)"/><circle cx="604.0" cy="344.3" r="2.3" fill="rgb(221,221,221)"/><circle cx="602.0" cy="338.6" r="2.3" fill="rgb(222,220,219)"/><circle cx="606.8" cy="337.9" r="2.3" fill="rgb(222,220,218)"/><circle cx="603.5" cy="334.9" r="2.3" fill="rgb(221,221,221)"/><circle cx="604.7" cy="334.0" r="2.3" fill="rgb(224,218,215)"/><circle cx="607.3" cy="338.5" r="2.3" fill="rgb(225,216,212)"/><circle cx="607.2" cy="346.7" r="2.3" fill="rgb(222,220,219)"/><circle cx="604.3" cy="339.3" r="2.3" fill="rgb(222,220,218)"/><circle cx="603.6" cy="347.8" r="2.3" fill="rgb(217,219,223)"/><circle cx="606.4" cy="340.0" r="2.3" fill="rgb(222,219,218)"/><circle cx="604.3" cy="339.4" r="2.3" fill="rgb(213,217,226)"/><circle cx="605.7" cy="339.0" r="2.3" fill="rgb(222,220,219)"/><circle cx="605.4" cy="333.3" r="2.3" fill="rgb(220,221,221)"/><circle cx="606.8" cy="353.4" r="2.3" fill="rgb(221,221,221)"/><circle cx="606.8" cy="344.7" r="2.3" fill="rgb(216,219,224)"/><circle cx="609.5" cy="343.5" r="2.3" fill="rgb(222,219,218)"/><circle cx="607.8" cy="335.3" r="2.3" fill="rgb(222,220,218)"/><circle cx="610.5" cy="339.2" r="2.3" fill="rgb(221,221,221)"/><circle cx="606.8" cy="336.1" r="2.3" fill="rgb(219,220,222)"/><circle cx="604.3" cy="353.1" r="2.3" fill="rgb(224,218,215)"/><circle cx="606.9" cy="331.7" r="2.3" fill="rgb(221,221,221)"/><circle cx="606.3" cy="336.3" r="2.3" fill="rgb(224,217,214)"/><circle cx="606.9" cy="345.1" r="2.3" fill="rgb(208,215,228)"/><circle cx="608.4" cy="331.1" r="2.3" fill="rgb(224,218,215)"/><circle cx="609.1" cy="344.6" r="2.3" fill="rgb(221,221,221)"/><circle cx="612.0" cy="337.9" r="2.3" fill="rgb(225,216,212)"/><circle cx="608.4" cy="331.3" r="2.3" fill="rgb(223,219,217)"/><circle cx="610.1" cy="331.4" r="2.3" fill="rgb(222,220,219)"/><circle cx="608.1" cy="335.9" r="2.3" fill="rgb(221,220,220)"/><circle cx="608.1" cy="329.6" r="2.3" fill="rgb(221,221,221)"/><circle cx="607.8" cy="333.6" r="2.3" fill="rgb(220,221,221)"/><circle cx="609.2" cy="347.2" r="2.3" fill="rgb(214,218,225)"/><circle cx="609.7" cy="342.7" r="2.3" fill="rgb(220,220,222)"/><circle cx="606.9" cy="338.8" r="2.3" fill="rgb(224,218,215)"/><circle cx="609.2" cy="339.1" r="2.3" fill="rgb(218,220,223)"/><circle cx="609.6" cy="335.7" r="2.3" fill="rgb(219,220,222)"/><circle cx="612.2" cy="339.8" r="2.3" fill="rgb(217,219,223)"/><circle cx="612.2" cy="334.7" r="2.3" fill="rgb(220,221,221)"/><circle cx="611.9" cy="330.2" r="2.3" fill="rgb(215,218,224)"/><circle cx="612.3" cy="335.2" r="2.3" fill="rgb(221,221,221)"/><circle cx="616.0" cy="335.4" r="2.3" fill="rgb(221,221,220)"/><circle cx="612.2" cy="334.0" r="2.3" fill="rgb(223,218,216)"/><circle cx="611.5" cy="336.6" r="2.3" fill="rgb(215,218,224)"/><circle cx="614.2" cy="333.3" r="2.3" fill="rgb(214,217,225)"/><circle cx="614.3" cy="339.9" r="2.3" fill="rgb(223,219,217)"/><circle cx="612.9" cy="343.0" r="2.3" fill="rgb(222,219,218)"/><circle cx="613.0" cy="338.6" r="2.3" fill="rgb(218,220,222)"/><circle cx="614.1" cy="342.6" r="2.3" fill="rgb(222,220,220)"/><circle cx="614.4" cy="343.0" r="2.3" fill="rgb(223,219,217)"/><circle cx="616.0" cy="334.1" r="2.3" fill="rgb(218,220,222)"/><circle cx="613.5" cy="327.6" r="2.3" fill="rgb(224,217,214)"/><circle cx="613.8" cy="337.3" r="2.3" fill="rgb(217,219,223)"/><circle cx="614.4" cy="337.0" r="2.3" fill="rgb(218,219,223)"/><circle cx="616.5" cy="336.4" r="2.3" fill="rgb(223,219,218)"/><circle cx="617.6" cy="336.3" r="2.3" fill="rgb(216,219,224)"/><circle cx="614.1" cy="339.9" r="2.3" fill="rgb(222,220,219)"/><circle cx="613.9" cy="342.6" r="2.3" fill="rgb(223,218,216)"/><circle cx="618.5" cy="324.7" r="2.3" fill="rgb(214,218,225)"/><circle cx="617.9" cy="333.8" r="2.3" fill="rgb(221,221,221)"/><circle cx="616.3" cy="342.5" r="2.3" fill="rgb(213,217,226)"/><circle cx="620.5" cy="340.2" r="2.3" fill="rgb(222,220,218)"/><circle cx="482.5" cy="363.9" r="2.3" fill="rgb(78,104,214)"/><circle cx="484.4" cy="361.4" r="2.3" fill="rgb(81,107,217)"/><circle cx="484.3" cy="360.3" r="2.3" fill="rgb(85,114,222)"/><circle cx="483.2" cy="365.7" r="2.3" fill="rgb(81,108,218)"/><circle cx="484.4" cy="360.6" r="2.3" fill="rgb(74,97,209)"/><circle cx="483.8" cy="358.6" r="2.3" fill="rgb(89,119,227)"/><circle cx="485.0" cy="354.2" r="2.3" fill="rgb(75,99,211)"/><circle cx="485.4" cy="356.7" r="2.3" fill="rgb(75,99,211)"/><circle cx="484.4" cy="361.1" r="2.3" fill="rgb(87,116,224)"/><circle cx="486.2" cy="358.8" r="2.3" fill="rgb(85,114,223)"/><circle cx="485.6" cy="361.2" r="2.3" fill="rgb(78,104,214)"/><circle cx="485.2" cy="363.4" r="2.3" fill="rgb(98,129,232)"/><circle cx="485.5" cy="361.4" r="2.3" fill="rgb(100,131,233)"/><circle cx="485.6" cy="358.5" r="2.3" fill="rgb(73,97,209)"/><circle cx="487.4" cy="356.3" r="2.3" fill="rgb(75,99,211)"/><circle cx="485.0" cy="362.1" r="2.3" fill="rgb(77,102,213)"/><circle cx="485.8" cy="362.4" r="2.3" fill="rgb(94,125,230)"/><circle cx="486.4" cy="367.7" r="2.3" fill="rgb(77,103,214)"/><circle cx="488.1" cy="360.8" r="2.3" fill="rgb(90,120,227)"/><circle cx="487.0" cy="364.6" r="2.3" fill="rgb(74,98,210)"/><circle cx="486.4" cy="363.7" r="2.3" fill="rgb(85,114,223)"/><circle cx="486.7" cy="365.8" r="2.3" fill="rgb(90,120,227)"/><circle cx="488.1" cy="357.5" r="2.3" fill="rgb(83,111,220)"/><circle cx="486.8" cy="365.6" r="2.3" fill="rgb(86,116,224)"/><circle cx="488.8" cy="364.4" r="2.3" fill="rgb(75,100,211)"/><circle cx="487.2" cy="365.6" r="2.3" fill="rgb(87,116,225)"/><circle cx="486.4" cy="359.8" r="2.3" fill="rgb(76,100,212)"/><circle cx="487.3" cy="368.0" r="2.3" fill="rgb(91,121,228)"/><circle cx="488.3" cy="360.8" r="2.3" fill="rgb(108,141,239)"/><circle cx="487.6" cy="367.1" r="2.3" fill="rgb(79,106,216)"/><circle cx="488.5" cy="362.4" r="2.3" fill="rgb(99,130,233)"/><circle cx="489.4" cy="359.9" r="2.3" fill="rgb(77,102,213)"/><circle cx="489.6" cy="366.3" r="2.3" fill="rgb(80,106,216)"/><circle cx="489.0" cy="364.5" r="2.3" fill="rgb(87,117,225)"/><circle cx="489.1" cy="366.2" r="2.3" fill="rgb(85,114,223)"/><circle cx="489.5" cy="364.3" r="2.3" fill="rgb(76,101,212)"/><circle cx="489.1" cy="362.2" r="2.3" fill="rgb(78,103,214)"/><circle cx="490.2" cy="359.1" r="2.3" fill="rgb(83,110,220)"/><circle cx="490.1" cy="369.1" r="2.3" fill="rgb(88,118,226)"/><circle cx="489.5" cy="370.5" r="2.3" fill="rgb(86,116,224)"/><circle cx="489.1" cy="363.1" r="2.3" fill="rgb(91,122,228)"/><circle cx="490.6" cy="368.3" r="2.3" fill="rgb(80,106,217)"/><circle cx="491.3" cy="365.5" r="2.3" fill="rgb(85,114,223)"/><circle cx="490.7" cy="373.3" r="2.3" fill="rgb(95,125,230)"/><circle cx="491.8" cy="368.3" r="2.3" fill="rgb(76,101,212)"/><circle cx="490.2" cy="368.5" r="2.3" fill="rgb(77,102,213)"/><circle cx="490.0" cy="367.4" r="2.3" fill="rgb(75,100,211)"/><circle cx="491.7" cy="370.3" r="2.3" fill="rgb(79,105,216)"/><circle cx="492.4" cy="364.2" r="2.3" fill="rgb(74,97,209)"/><circle cx="492.2" cy="367.7" r="2.3" fill="rgb(88,118,226)"/><circle cx="492.1" cy="364.3" r="2.3" fill="rgb(76,100,212)"/><circle cx="490.8" cy="362.8" r="2.3" fill="rgb(79,104,215)"/><circle cx="493.5" cy="370.5" r="2.3" fill="rgb(79,105,216)"/><circle cx="491.6" cy="368.3" r="2.3" fill="rgb(73,97,209)"/><circle cx="494.1" cy="365.6" r="2.3" fill="rgb(88,118,226)"/><circle cx="496.2" cy="369.5" r="2.3" fill="rgb(84,112,221)"/><circle cx="493.5" cy="368.4" r="2.3" fill="rgb(108,140,239)"/><circle cx="493.3" cy="363.6" r="2.3" fill="rgb(90,120,227)"/><circle cx="492.9" cy="365.1" r="2.3" fill="rgb(85,114,222)"/><circle cx="493.9" cy="367.2" r="2.3" fill="rgb(78,104,215)"/><circle cx="492.6" cy="369.2" r="2.3" fill="rgb(90,120,227)"/><circle cx="495.0" cy="366.4" r="2.3" fill="rgb(78,103,214)"/><circle cx="493.7" cy="368.2" r="2.3" fill="rgb(74,98,210)"/><circle cx="495.7" cy="372.3" r="2.3" fill="rgb(80,106,216)"/><circle cx="494.4" cy="368.4" r="2.3" fill="rgb(89,120,227)"/><circle cx="494.2" cy="363.9" r="2.3" fill="rgb(82,109,219)"/><circle cx="494.0" cy="369.6" r="2.3" fill="rgb(73,97,209)"/><circle cx="495.4" cy="373.1" r="2.3" fill="rgb(74,97,209)"/><circle cx="495.9" cy="374.5" r="2.3" fill="rgb(75,99,211)"/><circle cx="495.5" cy="373.9" r="2.3" fill="rgb(78,103,214)"/><circle cx="494.7" cy="365.0" r="2.3" fill="rgb(83,111,220)"/><circle cx="496.1" cy="371.1" r="2.3" fill="rgb(76,100,212)"/><circle cx="496.1" cy="371.2" r="2.3" fill="rgb(87,116,224)"/><circle cx="495.9" cy="377.6" r="2.3" fill="rgb(78,103,214)"/><circle cx="496.6" cy="371.1" r="2.3" fill="rgb(75,100,211)"/><circle cx="496.2" cy="367.9" r="2.3" fill="rgb(74,98,210)"/><circle cx="496.9" cy="369.1" r="2.3" fill="rgb(74,97,209)"/><circle cx="495.9" cy="371.5" r="2.3" fill="rgb(80,106,216)"/><circle cx="497.4" cy="371.7" r="2.3" fill="rgb(78,103,214)"/><circle cx="498.5" cy="369.6" r="2.3" fill="rgb(101,132,234)"/><circle cx="498.0" cy="372.3" r="2.3" fill="rgb(80,107,217)"/><circle cx="498.0" cy="370.1" r="2.3" fill="rgb(80,106,216)"/><circle cx="497.6" cy="370.2" r="2.3" fill="rgb(75,100,211)"/><circle cx="498.0" cy="372.1" r="2.3" fill="rgb(88,118,226)"/><circle cx="498.4" cy="371.9" r="2.3" fill="rgb(91,121,228)"/><circle cx="497.7" cy="376.1" r="2.3" fill="rgb(80,106,216)"/><circle cx="497.2" cy="373.3" r="2.3" fill="rgb(85,114,223)"/><circle cx="497.4" cy="373.8" r="2.3" fill="rgb(97,128,232)"/><circle cx="498.4" cy="377.7" r="2.3" fill="rgb(80,107,217)"/><circle cx="499.1" cy="373.6" r="2.3" fill="rgb(82,109,219)"/><circle cx="498.6" cy="374.5" r="2.3" fill="rgb(84,112,221)"/><circle cx="499.1" cy="370.8" r="2.3" fill="rgb(76,100,212)"/><circle cx="498.8" cy="376.6" r="2.3" fill="rgb(75,99,211)"/><circle cx="500.3" cy="376.1" r="2.3" fill="rgb(105,137,237)"/><circle cx="499.2" cy="381.5" r="2.3" fill="rgb(95,126,231)"/><circle cx="499.0" cy="375.3" r="2.3" fill="rgb(80,107,217)"/><circle cx="500.8" cy="374.0" r="2.3" fill="rgb(84,112,221)"/><circle cx="500.4" cy="371.6" r="2.3" fill="rgb(86,115,223)"/><circle cx="499.6" cy="374.1" r="2.3" fill="rgb(87,116,225)"/><circle cx="500.6" cy="379.6" r="2.3" fill="rgb(103,135,236)"/><circle cx="499.8" cy="375.5" r="2.3" fill="rgb(82,109,219)"/><circle cx="499.9" cy="375.6" r="2.3" fill="rgb(74,97,209)"/><circle cx="501.0" cy="383.4" r="2.3" fill="rgb(79,105,215)"/><circle cx="501.6" cy="382.2" r="2.3" fill="rgb(74,97,209)"/><circle cx="499.9" cy="376.3" r="2.3" fill="rgb(80,107,217)"/><circle cx="501.2" cy="375.2" r="2.3" fill="rgb(84,112,221)"/><circle cx="502.5" cy="374.9" r="2.3" fill="rgb(78,104,214)"/><circle cx="501.1" cy="374.3" r="2.3" fill="rgb(75,100,211)"/><circle cx="501.9" cy="376.4" r="2.3" fill="rgb(111,143,241)"/><circle cx="501.5" cy="376.4" r="2.3" fill="rgb(83,111,221)"/><circle cx="502.4" cy="381.2" r="2.3" fill="rgb(83,110,220)"/><circle cx="502.0" cy="379.6" r="2.3" fill="rgb(83,111,220)"/><circle cx="501.9" cy="377.8" r="2.3" fill="rgb(96,126,231)"/><circle cx="502.4" cy="376.5" r="2.3" fill="rgb(88,118,226)"/><circle cx="503.9" cy="372.4" r="2.3" fill="rgb(80,106,216)"/><circle cx="503.1" cy="378.2" r="2.3" fill="rgb(77,102,213)"/><circle cx="503.3" cy="373.3" r="2.3" fill="rgb(89,119,226)"/><circle cx="501.1" cy="381.2" r="2.3" fill="rgb(82,109,219)"/><circle cx="504.9" cy="377.1" r="2.3" fill="rgb(101,132,234)"/><circle cx="504.0" cy="382.0" r="2.3" fill="rgb(86,115,223)"/><circle cx="503.4" cy="377.4" r="2.3" fill="rgb(83,111,221)"/><circle cx="505.1" cy="378.5" r="2.3" fill="rgb(74,97,209)"/><circle cx="503.7" cy="381.0" r="2.3" fill="rgb(76,101,212)"/><circle cx="504.0" cy="382.8" r="2.3" fill="rgb(80,106,216)"/><circle cx="505.5" cy="379.3" r="2.3" fill="rgb(87,116,224)"/><circle cx="503.6" cy="379.0" r="2.3" fill="rgb(80,107,217)"/><circle cx="503.7" cy="377.5" r="2.3" fill="rgb(85,114,222)"/><circle cx="504.0" cy="384.2" r="2.3" fill="rgb(75,100,211)"/><circle cx="505.4" cy="384.4" r="2.3" fill="rgb(86,115,224)"/><circle cx="504.8" cy="382.2" r="2.3" fill="rgb(83,111,221)"/><circle cx="505.4" cy="378.8" r="2.3" fill="rgb(80,106,216)"/><circle cx="506.2" cy="383.2" r="2.3" fill="rgb(81,107,217)"/><circle cx="504.2" cy="382.9" r="2.3" fill="rgb(83,111,220)"/><circle cx="506.1" cy="380.5" r="2.3" fill="rgb(76,101,212)"/><circle cx="506.2" cy="382.5" r="2.3" fill="rgb(84,112,221)"/><circle cx="506.5" cy="383.2" r="2.3" fill="rgb(79,105,216)"/><circle cx="508.0" cy="386.2" r="2.3" fill="rgb(81,107,217)"/><circle cx="506.2" cy="384.4" r="2.3" fill="rgb(107,139,238)"/><circle cx="506.5" cy="388.1" r="2.3" fill="rgb(89,119,226)"/><circle cx="506.3" cy="390.2" r="2.3" fill="rgb(98,129,232)"/><circle cx="507.4" cy="382.1" r="2.3" fill="rgb(87,117,225)"/><circle cx="507.1" cy="384.7" r="2.3" fill="rgb(82,109,219)"/><circle cx="506.5" cy="382.0" r="2.3" fill="rgb(92,123,229)"/><circle cx="507.0" cy="390.1" r="2.3" fill="rgb(114,147,243)"/><circle cx="508.3" cy="386.6" r="2.3" fill="rgb(84,112,221)"/><circle cx="507.3" cy="386.2" r="2.3" fill="rgb(77,102,213)"/><circle cx="509.5" cy="383.5" r="2.3" fill="rgb(84,112,221)"/><circle cx="507.8" cy="380.9" r="2.3" fill="rgb(91,122,228)"/><circle cx="509.6" cy="384.2" r="2.3" fill="rgb(77,102,213)"/><circle cx="509.7" cy="386.9" r="2.3" fill="rgb(81,107,217)"/><circle cx="508.2" cy="386.1" r="2.3" fill="rgb(73,97,209)"/><circle cx="509.5" cy="385.1" r="2.3" fill="rgb(79,105,215)"/><circle cx="509.4" cy="387.9" r="2.3" fill="rgb(85,114,223)"/><circle cx="509.2" cy="384.3" r="2.3" fill="rgb(74,98,210)"/><circle cx="508.0" cy="394.8" r="2.3" fill="rgb(85,113,222)"/><circle cx="508.6" cy="389.5" r="2.3" fill="rgb(77,103,213)"/><circle cx="509.5" cy="387.5" r="2.3" fill="rgb(99,130,233)"/><circle cx="509.6" cy="383.9" r="2.3" fill="rgb(80,106,216)"/><circle cx="510.0" cy="390.5" r="2.3" fill="rgb(81,108,218)"/><circle cx="511.0" cy="387.9" r="2.3" fill="rgb(75,99,211)"/><circle cx="508.8" cy="382.8" r="2.3" fill="rgb(79,106,216)"/><circle cx="510.3" cy="386.1" r="2.3" fill="rgb(78,104,214)"/><circle cx="511.7" cy="394.8" r="2.3" fill="rgb(97,128,232)"/><circle cx="511.0" cy="388.1" r="2.3" fill="rgb(83,111,220)"/><circle cx="510.4" cy="385.4" r="2.3" fill="rgb(82,110,220)"/><circle cx="509.7" cy="391.1" r="2.3" fill="rgb(82,110,219)"/><circle cx="511.5" cy="391.6" r="2.3" fill="rgb(86,116,224)"/><circle cx="511.0" cy="390.6" r="2.3" fill="rgb(74,98,210)"/><circle cx="512.5" cy="394.2" r="2.3" fill="rgb(81,108,218)"/><circle cx="512.4" cy="399.0" r="2.3" fill="rgb(77,102,213)"/><circle cx="514.1" cy="394.1" r="2.3" fill="rgb(74,98,210)"/><circle cx="511.6" cy="395.8" r="2.3" fill="rgb(77,102,213)"/><circle cx="513.3" cy="392.6" r="2.3" fill="rgb(85,113,222)"/><circle cx="512.5" cy="394.6" r="2.3" fill="rgb(80,106,216)"/><circle cx="512.2" cy="393.7" r="2.3" fill="rgb(83,110,220)"/><circle cx="511.6" cy="391.3" r="2.3" fill="rgb(80,106,216)"/><circle cx="512.9" cy="394.2" r="2.3" fill="rgb(82,109,219)"/><circle cx="512.3" cy="389.1" r="2.3" fill="rgb(86,115,224)"/><circle cx="511.4" cy="392.8" r="2.3" fill="rgb(85,114,223)"/><circle cx="512.4" cy="391.8" r="2.3" fill="rgb(83,111,220)"/><circle cx="514.0" cy="390.7" r="2.3" fill="rgb(73,96,209)"/><circle cx="513.2" cy="393.5" r="2.3" fill="rgb(76,101,212)"/><circle cx="516.1" cy="395.1" r="2.3" fill="rgb(79,105,215)"/><circle cx="514.1" cy="395.8" r="2.3" fill="rgb(73,97,209)"/><circle cx="513.6" cy="399.2" r="2.3" fill="rgb(91,121,228)"/><circle cx="514.0" cy="399.5" r="2.3" fill="rgb(85,113,222)"/><circle cx="513.8" cy="390.9" r="2.3" fill="rgb(90,120,227)"/><circle cx="516.2" cy="396.9" r="2.3" fill="rgb(79,104,215)"/><circle cx="515.6" cy="396.9" r="2.3" fill="rgb(79,105,216)"/><circle cx="517.0" cy="398.7" r="2.3" fill="rgb(77,102,213)"/><circle cx="514.9" cy="393.1" r="2.3" fill="rgb(96,127,231)"/><circle cx="515.4" cy="400.3" r="2.3" fill="rgb(81,107,217)"/><circle cx="515.7" cy="391.8" r="2.3" fill="rgb(76,101,212)"/><circle cx="515.8" cy="401.2" r="2.3" fill="rgb(76,101,212)"/><circle cx="517.1" cy="404.5" r="2.3" fill="rgb(86,115,224)"/><circle cx="515.4" cy="391.0" r="2.3" fill="rgb(73,97,209)"/><circle cx="515.2" cy="398.2" r="2.3" fill="rgb(83,111,220)"/><circle cx="516.9" cy="401.6" r="2.3" fill="rgb(78,103,214)"/><circle cx="516.3" cy="394.7" r="2.3" fill="rgb(90,120,227)"/><circle cx="517.1" cy="397.8" r="2.3" fill="rgb(80,107,217)"/><circle cx="516.5" cy="395.6" r="2.3" fill="rgb(82,109,219)"/><circle cx="517.3" cy="402.8" r="2.3" fill="rgb(81,107,217)"/><circle cx="517.5" cy="400.4" r="2.3" fill="rgb(90,120,227)"/><circle cx="517.6" cy="402.3" r="2.3" fill="rgb(87,117,225)"/><circle cx="519.7" cy="403.3" r="2.3" fill="rgb(76,100,211)"/><circle cx="516.9" cy="403.5" r="2.3" fill="rgb(89,119,226)"/><circle cx="517.6" cy="409.9" r="2.3" fill="rgb(79,105,216)"/><circle cx="518.5" cy="403.5" r="2.3" fill="rgb(86,116,224)"/><circle cx="518.3" cy="402.2" r="2.3" fill="rgb(74,98,210)"/><circle cx="518.4" cy="402.0" r="2.3" fill="rgb(85,113,222)"/><circle cx="518.1" cy="403.6" r="2.3" fill="rgb(78,103,214)"/><circle cx="517.4" cy="404.1" r="2.3" fill="rgb(99,130,233)"/><circle cx="519.1" cy="407.6" r="2.3" fill="rgb(82,110,219)"/><circle cx="521.5" cy="405.0" r="2.3" fill="rgb(84,113,222)"/><circle cx="518.7" cy="404.7" r="2.3" fill="rgb(87,117,225)"/><circle cx="520.4" cy="406.8" r="2.3" fill="rgb(78,104,215)"/><circle cx="518.9" cy="400.5" r="2.3" fill="rgb(82,109,219)"/><circle cx="519.6" cy="410.6" r="2.3" fill="rgb(84,112,221)"/><circle cx="518.3" cy="403.3" r="2.3" fill="rgb(79,105,216)"/><circle cx="520.0" cy="404.4" r="2.3" fill="rgb(83,111,220)"/><circle cx="519.7" cy="407.0" r="2.3" fill="rgb(82,110,219)"/><circle cx="521.3" cy="405.0" r="2.3" fill="rgb(79,105,216)"/><circle cx="520.6" cy="410.7" r="2.3" fill="rgb(98,129,232)"/><circle cx="520.9" cy="410.5" r="2.3" fill="rgb(84,112,221)"/><circle cx="521.0" cy="410.2" r="2.3" fill="rgb(82,109,219)"/><circle cx="521.4" cy="405.5" r="2.3" fill="rgb(82,110,219)"/><circle cx="521.9" cy="413.2" r="2.3" fill="rgb(76,101,212)"/><circle cx="521.4" cy="409.1" r="2.3" fill="rgb(84,113,222)"/><circle cx="520.9" cy="405.4" r="2.3" fill="rgb(93,123,229)"/><circle cx="521.2" cy="409.3" r="2.3" fill="rgb(75,100,211)"/><circle cx="521.7" cy="405.0" r="2.3" fill="rgb(73,96,209)"/><circle cx="520.8" cy="403.1" r="2.3" fill="rgb(76,100,211)"/><circle cx="523.5" cy="406.8" r="2.3" fill="rgb(100,131,233)"/><circle cx="522.9" cy="412.8" r="2.3" fill="rgb(76,100,211)"/><circle cx="521.9" cy="412.5" r="2.3" fill="rgb(92,123,229)"/><circle cx="523.3" cy="410.5" r="2.3" fill="rgb(87,116,225)"/><circle cx="522.4" cy="409.6" r="2.3" fill="rgb(86,115,224)"/><circle cx="524.0" cy="420.4" r="2.3" fill="rgb(80,106,216)"/><circle cx="522.9" cy="413.7" r="2.3" fill="rgb(90,120,227)"/><circle cx="523.3" cy="411.5" r="2.3" fill="rgb(78,103,214)"/><circle cx="522.3" cy="413.0" r="2.3" fill="rgb(94,124,230)"/><circle cx="522.3" cy="412.6" r="2.3" fill="rgb(75,99,210)"/><circle cx="522.8" cy="411.5" r="2.3" fill="rgb(80,106,216)"/><circle cx="524.5" cy="414.6" r="2.3" fill="rgb(81,109,218)"/><circle cx="524.6" cy="415.1" r="2.3" fill="rgb(95,125,230)"/><circle cx="524.8" cy="413.2" r="2.3" fill="rgb(89,119,227)"/><circle cx="524.0" cy="414.9" r="2.3" fill="rgb(74,98,210)"/><circle cx="525.6" cy="415.5" r="2.3" fill="rgb(79,105,216)"/><circle cx="524.9" cy="416.2" r="2.3" fill="rgb(88,118,226)"/><circle cx="525.1" cy="419.9" r="2.3" fill="rgb(89,119,226)"/><circle cx="526.0" cy="418.2" r="2.3" fill="rgb(83,110,220)"/><circle cx="526.4" cy="412.0" r="2.3" fill="rgb(94,124,230)"/><circle cx="525.8" cy="418.6" r="2.3" fill="rgb(82,109,219)"/><circle cx="527.4" cy="417.9" r="2.3" fill="rgb(85,114,223)"/><circle cx="525.4" cy="423.2" r="2.3" fill="rgb(100,132,234)"/><circle cx="526.0" cy="414.8" r="2.3" fill="rgb(76,100,211)"/><circle cx="525.8" cy="425.5" r="2.3" fill="rgb(77,102,213)"/><circle cx="526.0" cy="422.5" r="2.3" fill="rgb(82,109,219)"/><circle cx="526.0" cy="415.7" r="2.3" fill="rgb(93,123,229)"/><circle cx="526.4" cy="424.0" r="2.3" fill="rgb(76,101,212)"/><circle cx="534.1" cy="423.2" r="2.3" fill="rgb(77,103,214)"/><circle cx="534.0" cy="420.8" r="2.3" fill="rgb(95,126,231)"/><circle cx="533.8" cy="416.2" r="2.3" fill="rgb(79,106,216)"/><circle cx="536.7" cy="417.8" r="2.3" fill="rgb(93,123,229)"/><circle cx="534.8" cy="426.2" r="2.3" fill="rgb(81,108,218)"/><circle cx="535.0" cy="418.3" r="2.3" fill="rgb(76,100,212)"/><circle cx="536.7" cy="418.1" r="2.3" fill="rgb(91,121,228)"/><circle cx="536.3" cy="418.3" r="2.3" fill="rgb(80,106,216)"/><circle cx="536.1" cy="414.4" r="2.3" fill="rgb(88,118,226)"/><circle cx="538.0" cy="419.8" r="2.3" fill="rgb(91,122,228)"/><circle cx="537.0" cy="420.0" r="2.3" fill="rgb(75,99,211)"/><circle cx="537.6" cy="420.0" r="2.3" fill="rgb(79,104,215)"/><circle cx="537.2" cy="419.2" r="2.3" fill="rgb(82,110,219)"/><circle cx="536.7" cy="416.5" r="2.3" fill="rgb(92,122,228)"/><circle cx="537.7" cy="418.6" r="2.3" fill="rgb(85,114,223)"/><circle cx="536.1" cy="412.6" r="2.3" fill="rgb(78,103,214)"/><circle cx="537.6" cy="415.0" r="2.3" fill="rgb(80,106,216)"/><circle cx="538.1" cy="412.5" r="2.3" fill="rgb(75,100,211)"/><circle cx="539.2" cy="410.5" r="2.3" fill="rgb(98,129,232)"/><circle cx="537.9" cy="406.5" r="2.3" fill="rgb(82,109,219)"/><circle cx="538.1" cy="417.9" r="2.3" fill="rgb(88,118,226)"/><circle cx="539.4" cy="409.0" r="2.3" fill="rgb(73,96,209)"/><circle cx="539.2" cy="412.5" r="2.3" fill="rgb(84,112,222)"/><circle cx="538.4" cy="413.5" r="2.3" fill="rgb(82,110,219)"/><circle cx="538.1" cy="411.1" r="2.3" fill="rgb(77,102,213)"/><circle cx="540.5" cy="409.2" r="2.3" fill="rgb(80,106,216)"/><circle cx="541.3" cy="409.1" r="2.3" fill="rgb(77,102,213)"/><circle cx="540.1" cy="411.1" r="2.3" fill="rgb(79,105,215)"/><circle cx="539.4" cy="409.6" r="2.3" fill="rgb(82,110,219)"/><circle cx="539.7" cy="406.6" r="2.3" fill="rgb(85,114,222)"/><circle cx="540.0" cy="409.8" r="2.3" fill="rgb(76,101,212)"/><circle cx="541.8" cy="405.7" r="2.3" fill="rgb(88,117,226)"/><circle cx="538.9" cy="409.0" r="2.3" fill="rgb(75,99,211)"/><circle cx="540.1" cy="406.3" r="2.3" fill="rgb(84,112,221)"/><circle cx="539.5" cy="410.6" r="2.3" fill="rgb(80,106,216)"/><circle cx="540.0" cy="401.3" r="2.3" fill="rgb(92,123,229)"/><circle cx="540.0" cy="407.2" r="2.3" fill="rgb(79,105,215)"/><circle cx="541.6" cy="404.2" r="2.3" fill="rgb(77,102,213)"/><circle cx="541.2" cy="401.1" r="2.3" fill="rgb(80,106,216)"/><circle cx="540.9" cy="403.9" r="2.3" fill="rgb(97,128,232)"/><circle cx="541.4" cy="410.9" r="2.3" fill="rgb(76,101,212)"/><circle cx="541.3" cy="410.8" r="2.3" fill="rgb(90,121,228)"/><circle cx="542.5" cy="410.5" r="2.3" fill="rgb(76,101,212)"/><circle cx="541.0" cy="402.2" r="2.3" fill="rgb(76,100,212)"/><circle cx="543.6" cy="408.6" r="2.3" fill="rgb(84,112,222)"/><circle cx="541.9" cy="402.8" r="2.3" fill="rgb(73,97,209)"/><circle cx="543.0" cy="408.4" r="2.3" fill="rgb(79,105,215)"/><circle cx="544.3" cy="403.4" r="2.3" fill="rgb(76,101,212)"/><circle cx="543.5" cy="400.6" r="2.3" fill="rgb(95,126,231)"/><circle cx="543.0" cy="404.8" r="2.3" fill="rgb(77,102,213)"/><circle cx="543.7" cy="400.5" r="2.3" fill="rgb(82,109,219)"/><circle cx="543.2" cy="401.2" r="2.3" fill="rgb(75,99,210)"/><circle cx="541.8" cy="400.4" r="2.3" fill="rgb(88,118,226)"/><circle cx="543.6" cy="403.2" r="2.3" fill="rgb(75,99,211)"/><circle cx="542.9" cy="401.9" r="2.3" fill="rgb(76,101,212)"/><circle cx="545.2" cy="396.5" r="2.3" fill="rgb(87,116,225)"/><circle cx="544.3" cy="402.2" r="2.3" fill="rgb(85,113,222)"/><circle cx="544.7" cy="395.5" r="2.3" fill="rgb(85,114,222)"/><circle cx="546.0" cy="405.8" r="2.3" fill="rgb(92,123,229)"/><circle cx="545.7" cy="398.2" r="2.3" fill="rgb(117,150,244)"/><circle cx="545.1" cy="398.6" r="2.3" fill="rgb(78,104,214)"/><circle cx="546.5" cy="397.3" r="2.3" fill="rgb(81,108,218)"/><circle cx="543.7" cy="401.0" r="2.3" fill="rgb(76,101,212)"/><circle cx="546.9" cy="400.4" r="2.3" fill="rgb(89,119,227)"/><circle cx="545.2" cy="397.3" r="2.3" fill="rgb(83,111,221)"/><circle cx="546.1" cy="392.4" r="2.3" fill="rgb(75,99,211)"/><circle cx="545.5" cy="395.1" r="2.3" fill="rgb(77,103,213)"/><circle cx="548.1" cy="399.1" r="2.3" fill="rgb(77,102,213)"/><circle cx="547.5" cy="394.8" r="2.3" fill="rgb(75,99,211)"/><circle cx="545.2" cy="397.0" r="2.3" fill="rgb(79,104,215)"/><circle cx="546.5" cy="395.5" r="2.3" fill="rgb(87,117,225)"/><circle cx="547.4" cy="401.6" r="2.3" fill="rgb(90,120,227)"/><circle cx="547.0" cy="399.3" r="2.3" fill="rgb(89,119,227)"/><circle cx="546.5" cy="399.2" r="2.3" fill="rgb(88,117,225)"/><circle cx="548.0" cy="388.8" r="2.3" fill="rgb(78,103,214)"/><circle cx="547.9" cy="388.4" r="2.3" fill="rgb(101,132,234)"/><circle cx="546.8" cy="396.3" r="2.3" fill="rgb(99,131,233)"/><circle cx="548.3" cy="398.9" r="2.3" fill="rgb(79,105,216)"/><circle cx="548.2" cy="395.5" r="2.3" fill="rgb(75,99,210)"/><circle cx="547.2" cy="396.0" r="2.3" fill="rgb(81,108,218)"/><circle cx="547.7" cy="396.9" r="2.3" fill="rgb(74,98,210)"/><circle cx="549.1" cy="393.8" r="2.3" fill="rgb(76,100,212)"/><circle cx="548.2" cy="387.0" r="2.3" fill="rgb(85,114,223)"/><circle cx="548.4" cy="389.6" r="2.3" fill="rgb(74,98,210)"/><circle cx="549.1" cy="389.5" r="2.3" fill="rgb(77,103,214)"/><circle cx="549.6" cy="389.3" r="2.3" fill="rgb(79,106,216)"/><circle cx="549.2" cy="395.9" r="2.3" fill="rgb(94,125,230)"/><circle cx="548.7" cy="394.6" r="2.3" fill="rgb(76,101,212)"/><circle cx="549.2" cy="389.2" r="2.3" fill="rgb(78,104,215)"/><circle cx="548.8" cy="394.9" r="2.3" fill="rgb(78,104,215)"/><circle cx="550.6" cy="389.3" r="2.3" fill="rgb(80,106,216)"/><circle cx="547.9" cy="391.8" r="2.3" fill="rgb(84,112,221)"/><circle cx="551.3" cy="386.4" r="2.3" fill="rgb(84,112,221)"/><circle cx="553.0" cy="386.9" r="2.3" fill="rgb(77,102,213)"/><circle cx="551.5" cy="385.2" r="2.3" fill="rgb(81,108,218)"/><circle cx="550.7" cy="390.3" r="2.3" fill="rgb(87,116,224)"/><circle cx="550.9" cy="387.8" r="2.3" fill="rgb(87,117,225)"/><circle cx="550.3" cy="391.8" r="2.3" fill="rgb(93,124,229)"/><circle cx="551.6" cy="389.9" r="2.3" fill="rgb(88,117,225)"/><circle cx="552.6" cy="392.2" r="2.3" fill="rgb(76,100,212)"/><circle cx="553.4" cy="388.0" r="2.3" fill="rgb(101,132,234)"/><circle cx="552.4" cy="386.2" r="2.3" fill="rgb(76,100,212)"/><circle cx="553.9" cy="389.1" r="2.3" fill="rgb(88,117,226)"/><circle cx="550.6" cy="388.2" r="2.3" fill="rgb(88,118,226)"/><circle cx="552.9" cy="386.4" r="2.3" fill="rgb(77,102,213)"/><circle cx="552.0" cy="388.5" r="2.3" fill="rgb(79,106,216)"/><circle cx="553.8" cy="388.5" r="2.3" fill="rgb(91,121,228)"/><circle cx="552.5" cy="385.6" r="2.3" fill="rgb(84,113,222)"/><circle cx="553.0" cy="385.8" r="2.3" fill="rgb(97,128,231)"/><circle cx="553.3" cy="382.2" r="2.3" fill="rgb(77,102,213)"/><circle cx="552.7" cy="389.1" r="2.3" fill="rgb(84,112,221)"/><circle cx="553.7" cy="389.1" r="2.3" fill="rgb(81,107,217)"/><circle cx="554.3" cy="380.0" r="2.3" fill="rgb(73,97,209)"/><circle cx="554.7" cy="387.1" r="2.3" fill="rgb(85,114,223)"/><circle cx="554.7" cy="386.8" r="2.3" fill="rgb(75,99,210)"/><circle cx="553.4" cy="390.4" r="2.3" fill="rgb(83,110,220)"/><circle cx="555.1" cy="380.4" r="2.3" fill="rgb(75,100,211)"/><circle cx="555.1" cy="387.0" r="2.3" fill="rgb(77,102,213)"/><circle cx="555.4" cy="389.7" r="2.3" fill="rgb(81,109,218)"/><circle cx="555.4" cy="382.2" r="2.3" fill="rgb(82,109,219)"/><circle cx="555.8" cy="380.7" r="2.3" fill="rgb(86,114,223)"/><circle cx="556.2" cy="387.1" r="2.3" fill="rgb(79,105,215)"/><circle cx="553.7" cy="388.7" r="2.3" fill="rgb(84,112,221)"/><circle cx="556.4" cy="376.4" r="2.3" fill="rgb(76,100,212)"/><circle cx="553.4" cy="382.4" r="2.3" fill="rgb(85,114,222)"/><circle cx="556.7" cy="379.8" r="2.3" fill="rgb(101,133,234)"/><circle cx="556.6" cy="379.1" r="2.3" fill="rgb(84,113,222)"/><circle cx="556.3" cy="383.2" r="2.3" fill="rgb(86,115,224)"/><circle cx="557.3" cy="381.4" r="2.3" fill="rgb(84,113,222)"/><circle cx="556.2" cy="381.0" r="2.3" fill="rgb(86,114,223)"/><circle cx="554.7" cy="378.9" r="2.3" fill="rgb(78,104,215)"/><circle cx="556.5" cy="378.5" r="2.3" fill="rgb(75,100,211)"/><circle cx="556.1" cy="382.0" r="2.3" fill="rgb(74,98,210)"/><circle cx="557.7" cy="376.4" r="2.3" fill="rgb(92,123,229)"/><circle cx="558.5" cy="378.0" r="2.3" fill="rgb(74,98,210)"/><circle cx="559.4" cy="378.5" r="2.3" fill="rgb(91,122,228)"/><circle cx="557.2" cy="379.7" r="2.3" fill="rgb(84,112,221)"/><circle cx="558.4" cy="379.8" r="2.3" fill="rgb(97,128,232)"/><circle cx="558.4" cy="379.6" r="2.3" fill="rgb(77,102,213)"/><circle cx="560.3" cy="381.8" r="2.3" fill="rgb(83,111,221)"/><circle cx="557.8" cy="384.3" r="2.3" fill="rgb(83,110,220)"/><circle cx="558.7" cy="378.1" r="2.3" fill="rgb(73,97,209)"/><circle cx="558.4" cy="380.2" r="2.3" fill="rgb(85,114,223)"/><circle cx="556.5" cy="377.5" r="2.3" fill="rgb(82,109,219)"/><circle cx="558.4" cy="375.2" r="2.3" fill="rgb(88,117,226)"/><circle cx="560.2" cy="373.0" r="2.3" fill="rgb(75,99,211)"/><circle cx="559.2" cy="380.7" r="2.3" fill="rgb(78,103,214)"/><circle cx="559.0" cy="379.4" r="2.3" fill="rgb(79,105,215)"/><circle cx="558.2" cy="380.2" r="2.3" fill="rgb(89,119,227)"/><circle cx="559.0" cy="378.3" r="2.3" fill="rgb(107,139,238)"/><circle cx="560.5" cy="373.3" r="2.3" fill="rgb(79,105,216)"/><circle cx="560.7" cy="379.6" r="2.3" fill="rgb(89,119,227)"/><circle cx="560.8" cy="379.7" r="2.3" fill="rgb(81,108,218)"/><circle cx="559.6" cy="376.5" r="2.3" fill="rgb(98,129,232)"/><circle cx="560.7" cy="377.1" r="2.3" fill="rgb(81,108,218)"/><circle cx="562.1" cy="379.3" r="2.3" fill="rgb(73,97,209)"/><circle cx="560.8" cy="372.1" r="2.3" fill="rgb(91,121,228)"/><circle cx="561.4" cy="377.0" r="2.3" fill="rgb(84,112,221)"/><circle cx="560.5" cy="382.2" r="2.3" fill="rgb(96,126,231)"/><circle cx="561.1" cy="381.2" r="2.3" fill="rgb(79,104,215)"/><circle cx="561.3" cy="371.6" r="2.3" fill="rgb(74,97,209)"/><circle cx="561.6" cy="379.6" r="2.3" fill="rgb(84,113,222)"/><circle cx="562.0" cy="374.8" r="2.3" fill="rgb(77,102,213)"/><circle cx="562.4" cy="375.2" r="2.3" fill="rgb(78,103,214)"/><circle cx="563.0" cy="378.5" r="2.3" fill="rgb(87,117,225)"/><circle cx="564.4" cy="372.0" r="2.3" fill="rgb(91,121,228)"/><circle cx="561.8" cy="367.7" r="2.3" fill="rgb(75,100,211)"/><circle cx="562.3" cy="377.4" r="2.3" fill="rgb(96,126,231)"/><circle cx="563.8" cy="378.5" r="2.3" fill="rgb(81,108,218)"/><circle cx="564.2" cy="370.6" r="2.3" fill="rgb(82,109,219)"/><circle cx="563.3" cy="376.8" r="2.3" fill="rgb(81,108,218)"/><circle cx="563.3" cy="370.1" r="2.3" fill="rgb(79,105,216)"/><circle cx="565.2" cy="375.2" r="2.3" fill="rgb(79,106,216)"/><circle cx="563.3" cy="374.6" r="2.3" fill="rgb(78,104,214)"/><circle cx="563.9" cy="378.7" r="2.3" fill="rgb(80,106,216)"/><circle cx="564.5" cy="375.1" r="2.3" fill="rgb(78,103,214)"/><circle cx="564.5" cy="363.5" r="2.3" fill="rgb(81,108,218)"/><circle cx="563.2" cy="375.4" r="2.3" fill="rgb(87,116,224)"/><circle cx="563.9" cy="366.5" r="2.3" fill="rgb(74,97,209)"/><circle cx="565.0" cy="369.0" r="2.3" fill="rgb(105,136,237)"/><circle cx="565.0" cy="369.1" r="2.3" fill="rgb(82,109,219)"/><circle cx="566.1" cy="375.1" r="2.3" fill="rgb(86,114,223)"/><circle cx="565.9" cy="374.2" r="2.3" fill="rgb(80,107,217)"/><circle cx="564.8" cy="373.3" r="2.3" fill="rgb(78,103,214)"/><circle cx="566.8" cy="373.7" r="2.3" fill="rgb(75,100,211)"/><circle cx="567.1" cy="374.9" r="2.3" fill="rgb(80,106,216)"/><circle cx="566.1" cy="368.1" r="2.3" fill="rgb(81,109,218)"/><circle cx="565.5" cy="371.3" r="2.3" fill="rgb(74,98,210)"/><circle cx="566.6" cy="370.3" r="2.3" fill="rgb(83,111,220)"/><circle cx="566.9" cy="376.0" r="2.3" fill="rgb(82,109,219)"/><circle cx="567.2" cy="371.3" r="2.3" fill="rgb(74,98,210)"/><circle cx="567.6" cy="372.3" r="2.3" fill="rgb(73,96,209)"/><circle cx="568.2" cy="367.1" r="2.3" fill="rgb(77,102,213)"/><circle cx="567.4" cy="373.3" r="2.3" fill="rgb(83,111,220)"/><circle cx="566.5" cy="368.7" r="2.3" fill="rgb(94,124,230)"/><circle cx="566.8" cy="372.4" r="2.3" fill="rgb(81,108,218)"/><circle cx="568.6" cy="369.1" r="2.3" fill="rgb(73,97,209)"/><circle cx="568.0" cy="363.9" r="2.3" fill="rgb(80,107,217)"/><circle cx="568.5" cy="370.2" r="2.3" fill="rgb(87,116,224)"/><circle cx="569.4" cy="366.3" r="2.3" fill="rgb(79,105,216)"/><circle cx="570.0" cy="367.2" r="2.3" fill="rgb(77,102,213)"/><circle cx="568.5" cy="368.9" r="2.3" fill="rgb(78,104,215)"/><circle cx="570.0" cy="367.8" r="2.3" fill="rgb(79,105,216)"/><circle cx="568.3" cy="368.1" r="2.3" fill="rgb(86,114,223)"/><circle cx="568.8" cy="360.5" r="2.3" fill="rgb(75,99,211)"/><circle cx="569.5" cy="369.2" r="2.3" fill="rgb(77,102,213)"/><circle cx="570.7" cy="367.3" r="2.3" fill="rgb(81,108,218)"/><circle cx="569.6" cy="365.8" r="2.3" fill="rgb(82,109,219)"/><circle cx="570.2" cy="369.4" r="2.3" fill="rgb(84,112,221)"/><circle cx="568.9" cy="372.8" r="2.3" fill="rgb(84,112,221)"/><circle cx="569.9" cy="370.5" r="2.3" fill="rgb(86,115,224)"/><circle cx="570.7" cy="370.4" r="2.3" fill="rgb(75,99,211)"/><circle cx="569.7" cy="368.9" r="2.3" fill="rgb(78,104,214)"/><circle cx="570.3" cy="365.1" r="2.3" fill="rgb(75,99,210)"/><circle cx="569.7" cy="366.5" r="2.3" fill="rgb(74,98,210)"/><circle cx="572.4" cy="365.3" r="2.3" fill="rgb(88,118,226)"/><circle cx="571.2" cy="368.8" r="2.3" fill="rgb(80,106,216)"/><circle cx="571.3" cy="367.2" r="2.3" fill="rgb(76,101,212)"/><circle cx="571.8" cy="365.9" r="2.3" fill="rgb(93,123,229)"/><circle cx="569.7" cy="363.9" r="2.3" fill="rgb(94,125,230)"/><circle cx="571.3" cy="362.6" r="2.3" fill="rgb(85,113,222)"/><circle cx="572.3" cy="365.7" r="2.3" fill="rgb(82,109,219)"/><circle cx="572.1" cy="364.0" r="2.3" fill="rgb(80,107,217)"/><circle cx="572.0" cy="365.5" r="2.3" fill="rgb(84,112,221)"/><circle cx="573.8" cy="370.3" r="2.3" fill="rgb(82,110,219)"/><circle cx="572.9" cy="368.9" r="2.3" fill="rgb(76,100,211)"/><circle cx="572.1" cy="371.2" r="2.3" fill="rgb(74,98,210)"/><circle cx="573.9" cy="359.0" r="2.3" fill="rgb(88,118,226)"/><circle cx="574.0" cy="363.1" r="2.3" fill="rgb(86,116,224)"/><circle cx="573.9" cy="362.1" r="2.3" fill="rgb(87,117,225)"/><circle cx="574.7" cy="363.0" r="2.3" fill="rgb(98,129,232)"/><circle cx="573.0" cy="359.3" r="2.3" fill="rgb(74,97,209)"/><circle cx="574.8" cy="365.0" r="2.3" fill="rgb(82,110,219)"/><circle cx="572.6" cy="366.5" r="2.3" fill="rgb(76,100,212)"/><circle cx="573.6" cy="361.8" r="2.3" fill="rgb(81,108,218)"/><circle cx="575.4" cy="363.5" r="2.3" fill="rgb(88,118,226)"/><circle cx="574.6" cy="362.9" r="2.3" fill="rgb(78,103,214)"/><circle cx="575.3" cy="358.8" r="2.3" fill="rgb(77,102,213)"/><circle cx="575.8" cy="358.0" r="2.3" fill="rgb(77,102,213)"/><circle cx="574.0" cy="361.6" r="2.3" fill="rgb(75,99,211)"/><circle cx="574.2" cy="364.5" r="2.3" fill="rgb(76,100,211)"/><circle cx="574.5" cy="367.3" r="2.3" fill="rgb(78,104,215)"/><circle cx="575.2" cy="360.8" r="2.3" fill="rgb(78,103,214)"/><circle cx="576.3" cy="356.9" r="2.3" fill="rgb(86,115,224)"/><circle cx="575.0" cy="367.0" r="2.3" fill="rgb(83,111,220)"/><circle cx="574.5" cy="367.5" r="2.3" fill="rgb(94,125,230)"/><circle cx="577.3" cy="363.2" r="2.3" fill="rgb(94,124,230)"/><circle cx="575.9" cy="364.4" r="2.3" fill="rgb(89,120,227)"/><circle cx="576.3" cy="366.1" r="2.3" fill="rgb(73,96,208)"/><circle cx="577.1" cy="363.0" r="2.3" fill="rgb(78,103,214)"/><circle cx="576.3" cy="357.6" r="2.3" fill="rgb(82,109,219)"/><circle cx="577.0" cy="361.5" r="2.3" fill="rgb(79,105,216)"/><circle cx="576.4" cy="364.8" r="2.3" fill="rgb(75,99,210)"/><circle cx="577.4" cy="361.4" r="2.3" fill="rgb(83,111,221)"/><circle cx="577.3" cy="364.5" r="2.3" fill="rgb(75,99,211)"/><circle cx="578.5" cy="362.7" r="2.3" fill="rgb(80,106,217)"/><circle cx="578.3" cy="357.5" r="2.3" fill="rgb(84,112,221)"/><circle cx="577.3" cy="353.4" r="2.3" fill="rgb(77,102,213)"/><circle cx="578.3" cy="357.5" r="2.3" fill="rgb(75,99,210)"/><circle cx="577.9" cy="361.9" r="2.3" fill="rgb(73,97,209)"/><circle cx="510.0" cy="386.2" r="2.3" fill="rgb(145,177,252)"/><circle cx="510.4" cy="387.8" r="2.3" fill="rgb(140,173,252)"/><circle cx="510.8" cy="389.4" r="2.3" fill="rgb(155,186,254)"/><circle cx="511.2" cy="390.3" r="2.3" fill="rgb(167,195,252)"/><circle cx="511.6" cy="390.5" r="2.3" fill="rgb(148,180,253)"/><circle cx="512.0" cy="392.1" r="2.3" fill="rgb(148,179,253)"/><circle cx="512.4" cy="391.3" r="2.3" fill="rgb(151,182,253)"/><circle cx="512.9" cy="389.8" r="2.3" fill="rgb(159,190,255)"/><circle cx="513.3" cy="391.7" r="2.3" fill="rgb(152,183,253)"/><circle cx="513.7" cy="389.6" r="2.3" fill="rgb(145,177,252)"/><circle cx="514.1" cy="395.7" r="2.3" fill="rgb(148,179,253)"/><circle cx="514.5" cy="394.6" r="2.3" fill="rgb(173,197,249)"/><circle cx="514.9" cy="395.5" r="2.3" fill="rgb(164,193,254)"/><circle cx="515.3" cy="393.1" r="2.3" fill="rgb(174,198,248)"/><circle cx="515.7" cy="397.5" r="2.3" fill="rgb(168,195,252)"/><circle cx="516.1" cy="400.3" r="2.3" fill="rgb(147,179,253)"/><circle cx="516.5" cy="395.5" r="2.3" fill="rgb(167,195,252)"/><circle cx="516.9" cy="401.5" r="2.3" fill="rgb(163,193,254)"/><circle cx="517.3" cy="403.9" r="2.3" fill="rgb(141,173,252)"/><circle cx="517.7" cy="403.2" r="2.3" fill="rgb(148,180,253)"/><circle cx="518.1" cy="401.6" r="2.3" fill="rgb(172,197,250)"/><circle cx="518.5" cy="401.5" r="2.3" fill="rgb(167,195,252)"/><circle cx="519.0" cy="405.8" r="2.3" fill="rgb(171,196,250)"/><circle cx="519.4" cy="407.3" r="2.3" fill="rgb(140,173,252)"/><circle cx="519.8" cy="406.0" r="2.3" fill="rgb(150,181,253)"/><circle cx="520.2" cy="403.4" r="2.3" fill="rgb(168,195,252)"/><circle cx="520.6" cy="405.5" r="2.3" fill="rgb(164,193,254)"/><circle cx="521.0" cy="408.4" r="2.3" fill="rgb(153,184,254)"/><circle cx="521.4" cy="410.0" r="2.3" fill="rgb(159,189,255)"/><circle cx="521.8" cy="408.2" r="2.3" fill="rgb(167,194,252)"/><circle cx="522.2" cy="407.4" r="2.3" fill="rgb(147,179,253)"/><circle cx="522.6" cy="412.1" r="2.3" fill="rgb(160,191,255)"/><circle cx="523.0" cy="416.4" r="2.3" fill="rgb(173,197,249)"/><circle cx="523.4" cy="411.6" r="2.3" fill="rgb(173,197,249)"/><circle cx="523.8" cy="415.0" r="2.3" fill="rgb(140,172,251)"/><circle cx="524.2" cy="416.6" r="2.3" fill="rgb(162,192,255)"/><circle cx="524.7" cy="415.9" r="2.3" fill="rgb(166,194,253)"/><circle cx="525.1" cy="416.2" r="2.3" fill="rgb(155,186,254)"/><circle cx="525.5" cy="417.1" r="2.3" fill="rgb(169,195,251)"/><circle cx="525.9" cy="421.2" r="2.3" fill="rgb(158,189,254)"/><circle cx="526.3" cy="418.9" r="2.3" fill="rgb(144,176,252)"/><circle cx="526.7" cy="419.4" r="2.3" fill="rgb(148,180,253)"/><circle cx="527.1" cy="423.5" r="2.3" fill="rgb(147,178,253)"/><circle cx="527.5" cy="425.0" r="2.3" fill="rgb(161,191,255)"/><circle cx="527.9" cy="424.1" r="2.3" fill="rgb(157,188,254)"/><circle cx="528.3" cy="427.9" r="2.3" fill="rgb(163,192,255)"/><circle cx="528.7" cy="428.9" r="2.3" fill="rgb(141,173,252)"/><circle cx="529.1" cy="427.6" r="2.3" fill="rgb(141,173,252)"/><circle cx="529.5" cy="431.0" r="2.3" fill="rgb(139,172,251)"/><circle cx="530.0" cy="431.9" r="2.3" fill="rgb(154,185,254)"/><circle cx="532.0" cy="434.3" r="2.3" fill="rgb(150,181,253)"/><circle cx="532.5" cy="431.8" r="2.3" fill="rgb(158,189,254)"/><circle cx="532.9" cy="427.2" r="2.3" fill="rgb(167,194,252)"/><circle cx="533.3" cy="429.0" r="2.3" fill="rgb(169,195,251)"/><circle cx="533.7" cy="426.7" r="2.3" fill="rgb(150,182,253)"/><circle cx="534.1" cy="423.8" r="2.3" fill="rgb(139,172,251)"/><circle cx="534.5" cy="422.6" r="2.3" fill="rgb(144,176,252)"/><circle cx="534.9" cy="419.7" r="2.3" fill="rgb(164,193,254)"/><circle cx="535.3" cy="425.6" r="2.3" fill="rgb(160,190,255)"/><circle cx="535.7" cy="423.3" r="2.3" fill="rgb(159,189,254)"/><circle cx="536.1" cy="415.3" r="2.3" fill="rgb(141,173,252)"/><circle cx="536.5" cy="419.8" r="2.3" fill="rgb(141,173,252)"/><circle cx="536.9" cy="416.7" r="2.3" fill="rgb(158,188,254)"/><circle cx="537.3" cy="416.9" r="2.3" fill="rgb(141,173,252)"/><circle cx="537.8" cy="414.1" r="2.3" fill="rgb(158,189,254)"/><circle cx="538.2" cy="413.9" r="2.3" fill="rgb(143,175,252)"/><circle cx="538.6" cy="415.1" r="2.3" fill="rgb(166,194,253)"/><circle cx="539.0" cy="410.1" r="2.3" fill="rgb(161,191,255)"/><circle cx="539.4" cy="412.8" r="2.3" fill="rgb(167,195,252)"/><circle cx="539.8" cy="411.7" r="2.3" fill="rgb(145,177,252)"/><circle cx="540.2" cy="409.9" r="2.3" fill="rgb(158,188,254)"/><circle cx="540.6" cy="406.6" r="2.3" fill="rgb(156,187,254)"/><circle cx="541.0" cy="406.7" r="2.3" fill="rgb(148,179,253)"/><circle cx="541.4" cy="404.8" r="2.3" fill="rgb(139,172,251)"/><circle cx="541.8" cy="404.9" r="2.3" fill="rgb(152,183,253)"/><circle cx="542.2" cy="404.7" r="2.3" fill="rgb(164,193,254)"/><circle cx="542.6" cy="404.0" r="2.3" fill="rgb(167,194,252)"/><circle cx="543.0" cy="402.6" r="2.3" fill="rgb(150,181,253)"/><circle cx="543.5" cy="399.6" r="2.3" fill="rgb(158,188,254)"/><circle cx="543.9" cy="400.9" r="2.3" fill="rgb(144,176,252)"/><circle cx="544.3" cy="401.2" r="2.3" fill="rgb(170,196,250)"/><circle cx="544.7" cy="400.4" r="2.3" fill="rgb(171,197,250)"/><circle cx="545.1" cy="399.7" r="2.3" fill="rgb(159,189,254)"/><circle cx="545.5" cy="400.6" r="2.3" fill="rgb(165,193,253)"/><circle cx="545.9" cy="399.7" r="2.3" fill="rgb(162,192,255)"/><circle cx="546.3" cy="396.2" r="2.3" fill="rgb(172,197,249)"/><circle cx="546.7" cy="396.6" r="2.3" fill="rgb(155,186,254)"/><circle cx="547.1" cy="394.6" r="2.3" fill="rgb(151,182,253)"/><circle cx="547.5" cy="393.4" r="2.3" fill="rgb(155,185,254)"/><circle cx="547.9" cy="394.1" r="2.3" fill="rgb(159,189,255)"/><circle cx="548.3" cy="396.3" r="2.3" fill="rgb(140,172,252)"/><circle cx="548.7" cy="390.7" r="2.3" fill="rgb(168,195,251)"/><circle cx="549.1" cy="393.0" r="2.3" fill="rgb(172,197,249)"/><circle cx="549.6" cy="391.8" r="2.3" fill="rgb(147,178,253)"/><circle cx="550.0" cy="395.4" r="2.3" fill="rgb(139,172,251)"/><circle cx="550.4" cy="391.6" r="2.3" fill="rgb(140,172,252)"/><circle cx="550.8" cy="388.1" r="2.3" fill="rgb(164,193,254)"/><circle cx="551.2" cy="389.9" r="2.3" fill="rgb(142,174,252)"/><circle cx="551.6" cy="387.6" r="2.3" fill="rgb(161,191,255)"/><circle cx="552.0" cy="388.1" r="2.3" fill="rgb(159,189,255)"/><circle cx="524.7" cy="415.3" r="2.3" fill="rgb(244,171,143)"/><circle cx="525.2" cy="415.9" r="2.3" fill="rgb(244,171,143)"/><circle cx="525.8" cy="417.9" r="2.3" fill="rgb(244,171,143)"/><circle cx="526.3" cy="417.5" r="2.3" fill="rgb(244,171,143)"/><circle cx="526.8" cy="422.7" r="2.3" fill="rgb(244,171,143)"/><circle cx="527.3" cy="425.5" r="2.3" fill="rgb(244,171,143)"/><circle cx="527.9" cy="424.7" r="2.3" fill="rgb(244,171,143)"/><circle cx="528.4" cy="425.5" r="2.3" fill="rgb(244,171,143)"/><circle cx="533.6" cy="427.9" r="2.3" fill="rgb(244,171,143)"/><circle cx="534.1" cy="425.4" r="2.3" fill="rgb(244,171,143)"/><circle cx="534.7" cy="424.5" r="2.3" fill="rgb(244,171,143)"/><circle cx="535.2" cy="423.6" r="2.3" fill="rgb(244,171,143)"/><circle cx="535.7" cy="421.3" r="2.3" fill="rgb(244,171,143)"/><circle cx="536.2" cy="421.6" r="2.3" fill="rgb(244,171,143)"/><circle cx="536.8" cy="416.9" r="2.3" fill="rgb(244,171,143)"/><circle cx="537.3" cy="415.2" r="2.3" fill="rgb(244,171,143)"/><circle cx="527.3" cy="422.4" r="2.3" fill="rgb(193,33,50)"/><circle cx="527.7" cy="426.0" r="2.3" fill="rgb(193,33,50)"/><circle cx="528.1" cy="427.1" r="2.3" fill="rgb(193,33,50)"/><circle cx="528.5" cy="429.9" r="2.3" fill="rgb(193,33,50)"/><circle cx="528.9" cy="431.0" r="2.3" fill="rgb(193,33,50)"/><circle cx="529.2" cy="429.2" r="2.3" fill="rgb(193,33,50)"/><circle cx="529.6" cy="428.0" r="2.3" fill="rgb(193,33,50)"/><circle cx="530.0" cy="434.5" r="2.3" fill="rgb(193,33,50)"/><circle cx="530.4" cy="434.6" r="2.3" fill="rgb(193,33,50)"/><circle cx="530.8" cy="433.4" r="2.3" fill="rgb(193,33,50)"/><circle cx="531.2" cy="435.6" r="2.3" fill="rgb(193,33,50)"/><circle cx="531.6" cy="433.3" r="2.3" fill="rgb(193,33,50)"/><circle cx="532.0" cy="433.5" r="2.3" fill="rgb(193,33,50)"/><circle cx="532.4" cy="432.2" r="2.3" fill="rgb(193,33,50)"/><circle cx="532.8" cy="429.2" r="2.3" fill="rgb(193,33,50)"/><circle cx="533.1" cy="429.4" r="2.3" fill="rgb(193,33,50)"/><circle cx="533.5" cy="429.4" r="2.3" fill="rgb(193,33,50)"/><circle cx="533.9" cy="425.2" r="2.3" fill="rgb(193,33,50)"/><circle cx="534.3" cy="424.9" r="2.3" fill="rgb(193,33,50)"/><circle cx="534.7" cy="424.4" r="2.3" fill="rgb(193,33,50)"/><circle cx="529.7" cy="435.6" r="2.3" fill="rgb(82,110,219)"/><circle cx="530.4" cy="437.4" r="2.3" fill="rgb(82,110,219)"/><circle cx="531.0" cy="438.1" r="2.3" fill="rgb(82,110,219)"/><circle cx="531.6" cy="437.4" r="2.3" fill="rgb(82,110,219)"/><circle cx="532.3" cy="435.6" r="2.3" fill="rgb(82,110,219)"/></g>
<polyline clip-path="url(#clipE)" points="444.9,330.1 445.8,330.7 446.6,331.2 447.5,331.8 448.4,332.4 449.2,332.9 450.1,333.5 451.0,334.1 451.8,334.7 452.7,335.3 453.6,335.9 454.4,336.5 455.3,337.0 456.1,337.7 457.0,338.3 457.9,338.9 458.7,339.5 459.6,340.1 460.5,340.7 461.3,341.3 462.2,342.0 463.1,342.6 463.9,343.2 464.8,343.9 465.7,344.5 466.5,345.2 467.4,345.9 468.3,346.5 469.1,347.2 470.0,347.9 470.9,348.5 471.7,349.2 472.6,349.9 473.5,350.6 474.3,351.3 475.2,352.0 476.1,352.7 476.9,353.4 477.8,354.2 478.6,354.9 479.5,355.6 480.4,356.4 481.2,357.1 482.1,357.9 483.0,358.7 483.8,359.5 484.7,360.2 485.6,361.0 486.4,361.8 487.3,362.6 488.2,363.5 489.0,364.3 489.9,365.1 490.8,366.0 491.6,366.8 492.5,367.7 493.4,368.6 494.2,369.5 495.1,370.4 496.0,371.3 496.8,372.2 497.7,373.2 498.6,374.1 499.4,375.1 500.3,376.1 501.1,377.1 502.0,378.1 502.9,379.1 503.7,380.2 504.6,381.2 505.5,382.3 506.3,383.4 507.2,384.6 508.1,385.7 508.9,386.9 509.8,388.1 510.7,389.3 511.5,390.6 512.4,391.9 513.3,393.2 514.1,394.6 515.0,396.0 515.9,397.4 516.7,398.9 517.6,400.5 518.5,402.0 519.3,403.7 520.2,405.4 521.0,407.2 521.9,409.1 522.8,411.1 523.6,413.1 524.5,415.3 525.4,417.7 526.2,420.2 527.1,422.9 528.0,425.8 528.8,428.9 529.7,432.0 530.6,434.3 531.4,434.3 532.3,432.0 533.2,428.9 534.0,425.8 534.9,422.9 535.8,420.2 536.6,417.7 537.5,415.3 538.4,413.1 539.2,411.1 540.1,409.1 541.0,407.2 541.8,405.4 542.7,403.7 543.5,402.0 544.4,400.5 545.3,398.9 546.1,397.4 547.0,396.0 547.9,394.6 548.7,393.2 549.6,391.9 550.5,390.6 551.3,389.3 552.2,388.1 553.1,386.9 553.9,385.7 554.8,384.6 555.7,383.4 556.5,382.3 557.4,381.2 558.3,380.2 559.1,379.1 560.0,378.1 560.9,377.1 561.7,376.1 562.6,375.1 563.4,374.1 564.3,373.2 565.2,372.2 566.0,371.3 566.9,370.4 567.8,369.5 568.6,368.6 569.5,367.7 570.4,366.8 571.2,366.0 572.1,365.1 573.0,364.3 573.8,363.5 574.7,362.6 575.6,361.8 576.4,361.0 577.3,360.2 578.2,359.5 579.0,358.7 579.9,357.9 580.8,357.1 581.6,356.4 582.5,355.6 583.4,354.9 584.2,354.2 585.1,353.4 585.9,352.7 586.8,352.0 587.7,351.3 588.5,350.6 589.4,349.9 590.3,349.2 591.1,348.5 592.0,347.9 592.9,347.2 593.7,346.5 594.6,345.9 595.5,345.2 596.3,344.5 597.2,343.9 598.1,343.2 598.9,342.6 599.8,342.0 600.7,341.3 601.5,340.7 602.4,340.1 603.3,339.5 604.1,338.9 605.0,338.3 605.9,337.7 606.7,337.0 607.6,336.5 608.4,335.9 609.3,335.3 610.2,334.7 611.0,334.1 611.9,333.5 612.8,332.9 613.6,332.4 614.5,331.8 615.4,331.2 616.2,330.7 617.1,330.1" fill="none" stroke="#1f77b4" stroke-width="2" stroke-dasharray="5.5,3"/>
<rect x="446.60" y="268.70" width="168.90" height="177.30" fill="none" stroke="#222" stroke-width="1.0"/>
<line x1="446.60" y1="331.90" x2="450.10" y2="331.90" stroke="#222" stroke-width="1"/>
<line x1="446.60" y1="399.90" x2="450.10" y2="399.90" stroke="#222" stroke-width="1"/>
<line x1="478.50" y1="446.00" x2="478.50" y2="442.50" stroke="#222" stroke-width="1"/>
<line x1="531.00" y1="446.00" x2="531.00" y2="442.50" stroke="#222" stroke-width="1"/>
<line x1="583.60" y1="446.00" x2="583.60" y2="442.50" stroke="#222" stroke-width="1"/>
<text x="443.3" y="338.8" font-size="19" text-anchor="end"><tspan>4</tspan></text>
<text x="443.3" y="406.8" font-size="19" text-anchor="end"><tspan>2</tspan></text>
<text x="478.6" y="463.8" font-size="19" text-anchor="middle" id="f37" textLength="32.42" lengthAdjust="spacingAndGlyphs"><tspan>−50</tspan></text>
<text x="531.0" y="463.8" font-size="19" text-anchor="middle"><tspan>0</tspan></text>
<text x="583.7" y="463.8" font-size="19" text-anchor="middle" id="f38" textLength="18.56" lengthAdjust="spacingAndGlyphs"><tspan>50</tspan></text>
<text x="530.7" y="485.8" font-size="19" text-anchor="middle" id="f39" textLength="149.33" lengthAdjust="spacingAndGlyphs"><tspan font-style="italic">e</tspan><tspan>(</tspan><tspan font-style="italic">V</tspan><tspan dy="4.18" font-size="13.3">sd</tspan><tspan dy="-4.18"> − </tspan><tspan font-style="italic">V</tspan><tspan dy="4.18" font-size="13.3">0</tspan><tspan dy="-4.18">)/(</tspan><tspan font-style="italic">k</tspan><tspan dy="4.18" font-size="13.3">B</tspan><tspan font-style="italic" dy="-4.18">T</tspan><tspan>′)</tspan></text>
<text x="426.6" y="357.8" font-size="19" text-anchor="middle" transform="rotate(-90 426.6 357.8)" id="f40" textLength="46.50" lengthAdjust="spacingAndGlyphs"><tspan font-style="italic">G</tspan><tspan>/</tspan><tspan font-style="italic">G</tspan><tspan dy="4.18" font-size="13.3">0</tspan></text>
<text x="450.7" y="287.1" font-size="14.5" id="f41" textLength="160.15" lengthAdjust="spacingAndGlyphs"><tspan font-style="italic">V</tspan><tspan dy="3.19" font-size="10.1">g</tspan><tspan dy="-3.19"> = −650 mV,</tspan><tspan font-style="italic" dx="8.00">B</tspan><tspan> = 2 T</tspan></text>
<linearGradient id="cwV" x1="0" y1="0" x2="0" y2="1"><stop offset="0.0000" stop-color="rgb(180, 4, 38)"/><stop offset="0.0625" stop-color="rgb(201, 50, 57)"/><stop offset="0.1250" stop-color="rgb(222, 96, 76)"/><stop offset="0.1875" stop-color="rgb(233, 125, 100)"/><stop offset="0.2500" stop-color="rgb(244, 154, 123)"/><stop offset="0.3125" stop-color="rgb(244, 175, 148)"/><stop offset="0.3750" stop-color="rgb(243, 196, 172)"/><stop offset="0.4375" stop-color="rgb(232, 208, 196)"/><stop offset="0.5000" stop-color="rgb(221, 221, 221)"/><stop offset="0.5625" stop-color="rgb(192, 206, 238)"/><stop offset="0.6250" stop-color="rgb(162, 192, 255)"/><stop offset="0.6875" stop-color="rgb(143, 175, 252)"/><stop offset="0.7500" stop-color="rgb(124, 158, 249)"/><stop offset="0.8125" stop-color="rgb(106, 138, 238)"/><stop offset="0.8750" stop-color="rgb(88, 118, 226)"/><stop offset="0.9375" stop-color="rgb(74, 97, 209)"/><stop offset="1.0000" stop-color="rgb(59, 76, 192)"/></linearGradient>
<rect x="625.5" y="268.5" width="9.8" height="178.5" fill="url(#cwV)"/>
<rect x="625.50" y="268.50" width="9.80" height="178.50" fill="none" stroke="#222" stroke-width="1.0"/>
<line x1="632.00" y1="289.10" x2="635.30" y2="289.10" stroke="#222" stroke-width="1"/>
<line x1="632.00" y1="348.60" x2="635.30" y2="348.60" stroke="#222" stroke-width="1"/>
<line x1="632.00" y1="407.70" x2="635.30" y2="407.70" stroke="#222" stroke-width="1"/>
<text x="637.4" y="295.9" font-size="19" id="f42" textLength="27.75" lengthAdjust="spacingAndGlyphs"><tspan>600</tspan></text>
<text x="637.9" y="355.4" font-size="19" id="f43" textLength="26.72" lengthAdjust="spacingAndGlyphs"><tspan>400</tspan></text>
<text x="637.4" y="414.5" font-size="19" id="f44" textLength="27.75" lengthAdjust="spacingAndGlyphs"><tspan>200</tspan></text>
<text x="668.5" y="361.5" font-size="19" text-anchor="middle" transform="rotate(90 668.5 361.5)" id="f45" textLength="78.11" lengthAdjust="spacingAndGlyphs"><tspan font-style="italic">T</tspan><tspan>′ (mK)</tspan></text>
<text x="408.0" y="269.6" font-size="19" font-weight="bold"><tspan>E</tspan></text>
</svg></body></html>
